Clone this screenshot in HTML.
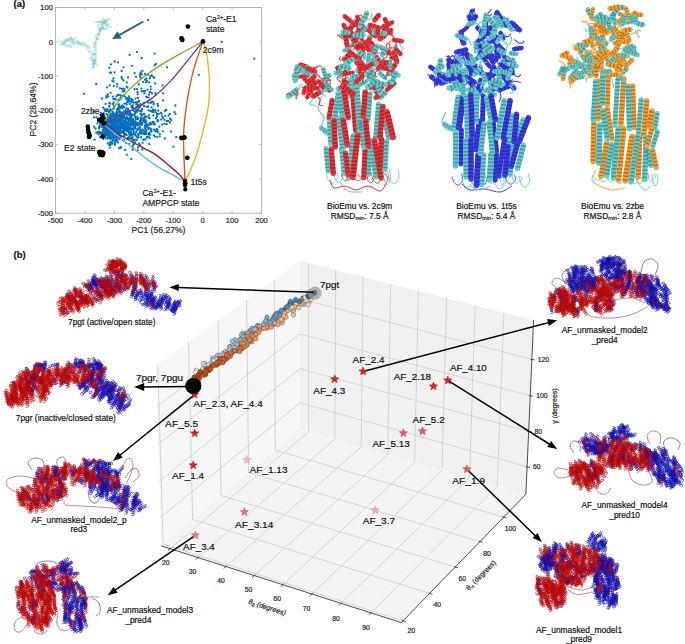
<!DOCTYPE html>
<html><head><meta charset="utf-8"><style>
html,body{margin:0;padding:0;background:#fff;}
svg{display:block;font-family:"Liberation Sans", sans-serif;}
use,path{fill:none;stroke-linejoin:round}
text{stroke:currentColor;stroke-width:.18px;paint-order:stroke}
</style></head><body>
<svg width="685" height="644" viewBox="0 0 685 644">
<defs><g id="tpl" fill="none"><path id="c00" d="M-2.6 0l-.1 1.2 -.5 .2 -.3 -.9 .4 -1.3 .9 -.7 1.1 .5 .4 1.3 -.2 1.1 -.5 -.1 -.2 -1.1 .5 -1.2 1.1 -.5 .9 .7 .4 1.4 -.4 .9 -.5 -.3 0 -1.2 .6 -1.2 1.1 -.2 .9 .9 .1 1.3 -.4 .7 -.5 -.5 .1 -1.3 .8 -1.1"/><path id="c01" d="M-2.5 -.7l-.4 1.2 -.6 .1 0 -1 .7 -1.2 1.1 -.4 .8 .7 .2 1.4 -.5 1 -.5 -.2 .1 -1.1 .8 -1.1 1.2 -.1 .7 .9 0 1.4 -.6 .7 -.4 -.4 .3 -1.2 .9 -.9 1.1 .1 .6 1.1 -.2 1.3 -.6 .5 -.3 -.6 .5 -1.2 1 -.8"/><path id="c02" d="M-2.3 -1.3l-.6 1 -.6 0 .2 -1 1 -1 1.2 -.1 .6 1 -.2 1.3 -.7 .8 -.5 -.2 .4 -1.1 1.1 -.8 1.1 .1 .5 1.1 -.4 1.3 -.7 .6 -.3 -.5 .5 -1.1 1.2 -.7 1 .4 .3 1.3 -.5 1.2 -.7 .3 -.1 -.6 .7 -1.1 1.2 -.5"/><path id="c03" d="M-1.8 -1.8l-.9 .8 -.6 -.2 .4 -.9 1.2 -.7 1.2 .2 .4 1.1 -.6 1.2 -.9 .6 -.3 -.3 .6 -.9 1.3 -.6 1 .4 .2 1.2 -.7 1.2 -.9 .4 -.1 -.6 .8 -.9 1.3 -.3 .9 .6 -.1 1.2 -.8 1.1 -.7 .2 0 -.7 1 -.9 1.3 -.2"/><path id="c04" d="M-1.3 -2.3l-1.1 .6 -.4 -.3 .6 -.8 1.3 -.3 1.1 .5 .1 1.1 -.9 1.1 -1 .3 -.3 -.4 .9 -.8 1.4 -.1 .9 .6 -.2 1.2 -1 1 -.9 .1 0 -.6 1 -.6 1.4 0 .7 .8 -.4 1.2 -1.1 .8 -.7 0 .2 -.7 1.2 -.5 1.3 .1"/><path id="c05" d="M-.7 -2.5l-1.2 .2 -.3 -.4 .8 -.5 1.4 0 .9 .7 -.2 1.1 -1.2 .8 -1 .1 -.1 -.5 1 -.5 1.3 .2 .7 .9 -.4 1.1 -1.2 .7 -1 -.1 .2 -.6 1.1 -.4 1.4 .4 .4 1 -.7 1 -1.2 .5 -.7 -.2 .4 -.6 1.2 -.2 1.2 .5"/><path id="c06" d="M0 -2.6l-1.2 -.1 -.2 -.5 .9 -.3 1.3 .4 .7 .9 -.5 1.1 -1.3 .4 -1.1 -.2 .1 -.5 1.1 -.2 1.2 .5 .5 1.1 -.7 .9 -1.4 .4 -.9 -.4 .3 -.5 1.2 0 1.2 .6 .2 1.1 -.9 .9 -1.3 .1 -.7 -.4 .5 -.5 1.3 .1 1.1 .8"/><path id="c07" d="M.7 -2.5l-1.2 -.4 -.1 -.6 1 0 1.2 .7 .4 1.1 -.7 .8 -1.4 .2 -1 -.5 .2 -.5 1.1 .1 1.1 .8 .1 1.2 -.9 .7 -1.4 0 -.7 -.6 .4 -.4 1.2 .3 .9 .9 -.1 1.1 -1.1 .6 -1.3 -.2 -.5 -.6 .6 -.3 1.2 .5 .8 1"/><path id="c08" d="M1.3 -2.3l-1 -.6 0 -.6 1 .2 1 1 .1 1.2 -1 .6 -1.3 -.2 -.8 -.7 .2 -.5 1.1 .4 .8 1.1 -.1 1.1 -1.1 .5 -1.3 -.4 -.6 -.7 .5 -.3 1.1 .5 .7 1.2 -.4 1 -1.3 .3 -1.2 -.5 -.3 -.7 .6 -.1 1.1 .7 .5 1.2"/><path id="c09" d="M1.8 -1.8l-.8 -.9 .2 -.6 .9 .4 .7 1.2 -.2 1.2 -1.1 .4 -1.2 -.6 -.6 -.9 .3 -.3 .9 .6 .6 1.3 -.4 1 -1.2 .2 -1.2 -.7 -.4 -.9 .6 -.1 .9 .8 .3 1.3 -.6 .9 -1.2 -.1 -1.1 -.8 -.2 -.7 .7 0 .9 1 .2 1.3"/><path id="c0a" d="M2.3 -1.3l-.6 -1.1 .3 -.4 .8 .6 .3 1.3 -.5 1.1 -1.1 .1 -1.1 -.9 -.3 -1 .4 -.3 .8 .9 .1 1.4 -.6 .9 -1.2 -.2 -1 -1 -.1 -.9 .6 0 .6 1 0 1.4 -.8 .7 -1.2 -.4 -.8 -1.1 0 -.7 .7 .2 .5 1.2 -.1 1.3"/><path id="c0b" d="M2.5 -.7l-.2 -1.2 .4 -.3 .5 .8 0 1.4 -.7 .9 -1.1 -.2 -.8 -1.2 -.1 -1 .5 -.1 .5 1 -.2 1.3 -.9 .7 -1.1 -.4 -.7 -1.2 .1 -1 .6 .2 .4 1.1 -.4 1.4 -1 .4 -1 -.7 -.5 -1.2 .2 -.7 .6 .4 .2 1.2 -.5 1.2"/><path id="c10" d="M-4.1 0l-.1 1.2 -.5 .2 -.3 -.8 .3 -1.4 1 -.7 1 .5 .5 1.2 -.1 1.1 -.6 .1 -.2 -1 .5 -1.3 1 -.6 .9 .6 .5 1.3 -.3 1 -.5 -.1 -.2 -1.2 .6 -1.2 1 -.4 1 .8 .2 1.3 -.3 .9 -.5 -.4 0 -1.2 .6 -1.1 1.1 -.2 .9 .9 .1 1.3 -.4 .7 -.4 -.5 0 -1.3 .8 -1.1 1.1 .1 .7 1 .1 1.3 -.5 .5"/><path id="c11" d="M-4 -1.1l-.3 1.2 -.6 .1 -.1 -.9 .7 -1.2 1.1 -.5 .9 .7 .2 1.4 -.5 1 -.5 -.1 0 -1.1 .8 -1.1 1.1 -.3 .8 .9 0 1.4 -.5 .8 -.4 -.2 .1 -1.2 .9 -1 1.1 -.1 .7 1 -.1 1.3 -.5 .8 -.4 -.5 .3 -1.2 .9 -.9 1.1 .1 .6 1.1 -.2 1.3 -.6 .6 -.3 -.7 .4 -1.2 1 -.8 1.1 .3 .4 1.2 -.3 1.3 -.5 .3"/><path id="c12" d="M-3.6 -2l-.6 .9 -.6 0 .2 -.9 .9 -1 1.2 -.1 .7 .9 -.2 1.3 -.7 .9 -.5 -.2 .3 -1 1.1 -.9 1.1 0 .6 1 -.3 1.4 -.8 .7 -.3 -.4 .4 -1.1 1.1 -.8 1.1 .2 .4 1.2 -.4 1.3 -.7 .5 -.3 -.5 .6 -1.1 1.2 -.7 1 .4 .2 1.3 -.5 1.2 -.7 .4 -.1 -.7 .7 -1.1 1.2 -.5 .9 .5 .2 1.3 -.6 1.2 -.7 .2"/><path id="c13" d="M-2.9 -2.9l-.9 .8 -.5 -.2 .4 -.8 1.1 -.7 1.2 .1 .4 1.1 -.5 1.2 -.9 .7 -.4 -.4 .6 -.8 1.2 -.6 1.1 .3 .3 1.1 -.7 1.2 -.9 .5 -.2 -.4 .7 -.9 1.2 -.5 1.1 .5 0 1.2 -.7 1.1 -.8 .4 -.1 -.6 .8 -.9 1.3 -.4 .9 .7 -.1 1.2 -.8 1.1 -.8 .2 .1 -.7 .9 -.9 1.3 -.2 .8 .8 -.2 1.3 -.9 .9 -.7 0"/><path id="c14" d="M-2.1 -3.6l-1 .6 -.5 -.3 .6 -.7 1.3 -.4 1.1 .4 .2 1.1 -.9 1.1 -1 .4 -.3 -.4 .7 -.7 1.4 -.3 1 .6 -.1 1.2 -.9 1 -1 .3 -.1 -.6 .9 -.6 1.4 -.2 .8 .7 -.2 1.2 -1 .9 -.9 .2 0 -.6 1.1 -.7 1.3 0 .7 .9 -.4 1.2 -1.1 .8 -.7 -.1 .2 -.6 1.1 -.6 1.3 .2 .5 .9 -.5 1.2 -1.1 .7 -.6 -.2"/><path id="c15" d="M-1.1 -4l-1.1 .3 -.4 -.4 .8 -.6 1.3 0 1 .7 -.2 1.1 -1.1 .9 -1.1 .1 -.2 -.5 1 -.5 1.3 .1 .8 .8 -.3 1.1 -1.2 .8 -1 0 0 -.6 1.1 -.4 1.3 .2 .6 .9 -.5 1.1 -1.2 .7 -.9 -.2 .2 -.5 1.2 -.4 1.3 .4 .4 1 -.7 1 -1.2 .5 -.7 -.2 .3 -.6 1.3 -.2 1.2 .4 .3 1.1 -.9 1 -1.2 .4 -.6 -.4"/><path id="c16" d="M0 -4.1l-1.2 -.1 -.2 -.5 .8 -.3 1.4 .3 .7 1 -.5 1 -1.2 .5 -1.1 -.1 -.1 -.6 1 -.2 1.3 .5 .6 1 -.6 .9 -1.3 .5 -1 -.3 .1 -.5 1.2 -.2 1.2 .6 .4 1 -.8 1 -1.3 .2 -.9 -.3 .4 -.5 1.2 0 1.1 .6 .2 1.1 -.9 .9 -1.3 .1 -.7 -.4 .5 -.4 1.3 0 1.1 .8 -.1 1.1 -1 .7 -1.3 .1 -.5 -.5"/><path id="c17" d="M1.1 -4l-1.2 -.3 -.1 -.6 .9 -.1 1.2 .7 .5 1.1 -.7 .9 -1.4 .2 -1 -.5 .1 -.5 1.1 0 1.1 .8 .3 1.1 -.9 .8 -1.4 0 -.8 -.5 .2 -.4 1.2 .1 1 .9 .1 1.1 -1 .7 -1.3 -.1 -.8 -.5 .5 -.4 1.2 .3 .9 .9 -.1 1.1 -1.1 .6 -1.3 -.2 -.6 -.6 .7 -.3 1.2 .4 .8 1 -.3 1.1 -1.2 .4 -1.3 -.3 -.3 -.5"/><path id="c18" d="M2 -3.6l-.9 -.6 0 -.6 .9 .2 1 .9 .1 1.2 -.9 .7 -1.3 -.2 -.9 -.7 .2 -.5 1 .3 .9 1.1 0 1.1 -1 .6 -1.4 -.3 -.7 -.8 .4 -.3 1.1 .4 .8 1.1 -.2 1.1 -1.2 .4 -1.3 -.4 -.5 -.7 .5 -.3 1.1 .6 .7 1.2 -.4 1 -1.3 .2 -1.2 -.5 -.4 -.7 .7 -.1 1.1 .7 .5 1.2 -.5 .9 -1.3 .2 -1.2 -.6 -.2 -.7"/><path id="c19" d="M2.9 -2.9l-.8 -.9 .2 -.5 .8 .4 .7 1.1 -.1 1.2 -1.1 .4 -1.2 -.5 -.7 -.9 .4 -.4 .8 .6 .6 1.2 -.3 1.1 -1.1 .3 -1.2 -.7 -.5 -.9 .4 -.2 .9 .7 .5 1.2 -.5 1.1 -1.2 0 -1.1 -.7 -.4 -.8 .6 -.1 .9 .8 .4 1.3 -.7 .9 -1.2 -.1 -1.1 -.8 -.2 -.8 .7 .1 .9 .9 .2 1.3 -.8 .8 -1.3 -.2 -.9 -.9 0 -.7"/><path id="c1a" d="M3.6 -2l-.6 -1.1 .3 -.5 .7 .6 .4 1.3 -.4 1.1 -1.1 .2 -1.1 -.9 -.4 -1 .4 -.3 .7 .7 .3 1.4 -.6 1 -1.2 -.1 -1 -.9 -.3 -1 .6 -.1 .6 .9 .2 1.4 -.7 .8 -1.2 -.2 -.9 -1 -.2 -.9 .6 0 .7 1.1 0 1.3 -.9 .7 -1.2 -.4 -.8 -1.1 .1 -.7 .6 .2 .6 1.1 -.2 1.3 -.9 .5 -1.2 -.5 -.7 -1.1 .2 -.6"/><path id="c1b" d="M4 -1.1l-.3 -1.1 .4 -.4 .6 .8 0 1.3 -.7 1 -1.1 -.2 -.9 -1.1 -.1 -1.1 .5 -.2 .5 1 -.1 1.3 -.8 .8 -1.1 -.3 -.8 -1.2 0 -1 .6 0 .4 1.1 -.2 1.3 -.9 .6 -1.1 -.5 -.7 -1.2 .2 -.9 .5 .2 .4 1.2 -.4 1.3 -1 .4 -1 -.7 -.5 -1.2 .2 -.7 .6 .3 .2 1.3 -.4 1.2 -1.1 .3 -1 -.9 -.4 -1.2 .4 -.6"/><path id="c20" d="M-5.6 0l-.1 1.2 -.5 .3 -.3 -.9 .3 -1.3 1 -.8 1 .4 .5 1.3 -.1 1.1 -.5 .1 -.3 -1 .4 -1.3 1 -.6 1 .6 .4 1.3 -.2 1 -.5 -.1 -.2 -1.1 .5 -1.2 1 -.5 1 .7 .4 1.3 -.4 .9 -.5 -.2 -.1 -1.1 .6 -1.3 1.1 -.3 .9 .9 .2 1.3 -.3 .8 -.5 -.4 0 -1.2 .7 -1.2 1 -.1 .9 .9 .1 1.3 -.4 .7 -.4 -.5 0 -1.3 .8 -1 1.1 0 .7 1 .1 1.3 -.5 .5 -.4 -.7 .2 -1.3 .8 -.9 1.1 .1"/><path id="c21" d="M-5.4 -1.4l-.4 1.1 -.5 .1 -.1 -.9 .6 -1.2 1.1 -.5 .9 .7 .2 1.3 -.4 1.1 -.6 -.1 .1 -1 .7 -1.1 1.1 -.4 .8 .8 .1 1.4 -.5 .9 -.5 -.2 .1 -1.1 .9 -1.1 1.1 -.1 .7 .9 0 1.3 -.5 .8 -.5 -.3 .2 -1.1 .9 -1.1 1.1 0 .7 1 -.1 1.4 -.6 .7 -.3 -.5 .3 -1.2 .9 -.9 1.1 .1 .6 1.1 -.2 1.3 -.6 .6 -.3 -.7 .4 -1.2 1 -.8 1 .3 .5 1.2 -.3 1.3 -.5 .3 -.3 -.7 .5 -1.2 1.1 -.7 1 .4"/><path id="c22" d="M-4.8 -2.8l-.7 1 -.6 0 .2 -.9 .9 -1 1.2 -.2 .7 .9 -.2 1.3 -.7 .9 -.5 -.2 .3 -.9 1 -1 1.2 0 .6 1 -.3 1.3 -.7 .8 -.4 -.3 .4 -1 1 -.9 1.1 .1 .5 1.1 -.3 1.3 -.7 .7 -.4 -.5 .5 -1 1.1 -.8 1.1 .3 .4 1.1 -.5 1.3 -.7 .5 -.2 -.5 .6 -1.1 1.1 -.7 1 .4 .3 1.3 -.5 1.2 -.7 .4 -.1 -.7 .7 -1.1 1.1 -.5 1 .5 .1 1.3 -.6 1.2 -.6 .2 -.1 -.8 .8 -1.1 1.2 -.4 .9 .7"/><path id="c23" d="M-4 -4l-.9 .8 -.5 -.1 .4 -.9 1.2 -.7 1.1 .1 .5 1.1 -.5 1.2 -.9 .7 -.5 -.3 .6 -.9 1.2 -.6 1.1 .3 .3 1.1 -.6 1.2 -.9 .6 -.3 -.4 .6 -.9 1.3 -.6 1 .4 .2 1.2 -.7 1.2 -.8 .4 -.2 -.5 .7 -.9 1.3 -.4 1 .5 0 1.2 -.7 1.1 -.9 .3 0 -.6 .8 -.9 1.3 -.3 .9 .7 -.1 1.2 -.8 1.1 -.8 .1 .1 -.6 .9 -.9 1.3 -.2 .8 .8 -.2 1.2 -.9 1 -.7 0 .2 -.7 1 -.8 1.3 -.1 .6 .9"/><path id="c24" d="M-2.8 -4.8l-1.1 .5 -.4 -.3 .5 -.7 1.4 -.4 1.1 .4 .1 1.1 -.8 1.1 -1 .4 -.4 -.4 .7 -.7 1.4 -.3 1 .6 0 1.1 -.9 1.1 -1 .3 -.2 -.5 .9 -.7 1.3 -.2 .9 .7 -.1 1.1 -1 1 -.9 .2 -.1 -.6 1 -.6 1.3 -.1 .8 .7 -.3 1.2 -1 .9 -.8 .1 0 -.6 1.1 -.6 1.3 0 .7 .8 -.4 1.2 -1.1 .8 -.7 0 .2 -.7 1.1 -.5 1.3 .1 .5 .9 -.5 1.2 -1.1 .7 -.6 -.1 .3 -.7 1.3 -.5 1.2 .2 .4 1"/><path id="c25" d="M-1.4 -5.4l-1.2 .2 -.4 -.4 .8 -.5 1.3 -.1 1 .8 -.2 1.1 -1 .8 -1.1 .1 -.3 -.4 .9 -.5 1.4 0 .8 .8 -.3 1.1 -1.1 .8 -1 0 -.1 -.5 1 -.4 1.3 .1 .7 .9 -.4 1.1 -1.2 .7 -.9 -.1 0 -.5 1.1 -.4 1.4 .2 .5 1 -.5 1.1 -1.2 .6 -.9 -.2 .2 -.6 1.2 -.3 1.3 .4 .4 1 -.7 1 -1.2 .5 -.7 -.2 .3 -.6 1.3 -.3 1.2 .5 .3 1 -.8 1.1 -1.3 .4 -.6 -.4 .6 -.5 1.3 -.2 1.1 .6 .1 1"/><path id="c26" d="M0 -5.6l-1.2 -.1 -.3 -.5 .9 -.3 1.3 .3 .8 1 -.4 1 -1.3 .5 -1.1 -.1 -.1 -.5 1 -.3 1.3 .4 .6 1 -.6 1 -1.3 .4 -1 -.2 .1 -.5 1.1 -.2 1.2 .5 .5 1 -.7 1 -1.3 .4 -.9 -.4 .2 -.5 1.1 -.1 1.3 .6 .3 1.1 -.9 .9 -1.3 .2 -.8 -.3 .4 -.5 1.2 0 1.2 .7 .1 1 -.9 .9 -1.3 .1 -.7 -.4 .5 -.4 1.3 0 1 .8 0 1.1 -1 .7 -1.3 .1 -.5 -.5 .7 -.4 1.3 .2 .9 .8 -.1 1.1"/><path id="c27" d="M1.4 -5.4l-1.1 -.4 -.1 -.5 .9 -.1 1.2 .6 .5 1.1 -.7 .9 -1.3 .2 -1.1 -.4 .1 -.6 1 .1 1.1 .7 .4 1.1 -.8 .8 -1.4 .1 -.9 -.5 .2 -.5 1.1 .1 1.1 .9 .1 1.1 -.9 .7 -1.3 0 -.8 -.5 .3 -.5 1.1 .2 1.1 .9 0 1.1 -1 .7 -1.4 -.1 -.7 -.6 .5 -.3 1.2 .3 .9 .9 -.1 1.1 -1.1 .6 -1.3 -.2 -.6 -.6 .7 -.3 1.2 .4 .8 1 -.3 1 -1.2 .5 -1.3 -.3 -.3 -.5 .7 -.3 1.2 .5 .7 1.1 -.4 1"/><path id="c28" d="M2.8 -4.8l-1 -.7 0 -.6 .9 .2 1 .9 .2 1.2 -.9 .7 -1.3 -.2 -.9 -.7 .2 -.5 .9 .3 1 1 0 1.2 -1 .6 -1.3 -.3 -.8 -.7 .3 -.4 1 .4 .9 1 -.1 1.1 -1.1 .5 -1.3 -.3 -.7 -.7 .5 -.4 1 .5 .8 1.1 -.3 1.1 -1.1 .4 -1.3 -.5 -.5 -.7 .5 -.2 1.1 .6 .7 1.1 -.4 1 -1.3 .3 -1.2 -.5 -.4 -.7 .7 -.1 1.1 .7 .5 1.1 -.5 1 -1.3 .1 -1.2 -.6 -.2 -.6 .8 -.1 1.1 .8 .4 1.2 -.7 .9"/><path id="c29" d="M4 -4l-.8 -.9 .1 -.5 .9 .4 .7 1.2 -.1 1.1 -1.1 .5 -1.2 -.5 -.7 -.9 .3 -.5 .9 .6 .6 1.2 -.3 1.1 -1.1 .3 -1.2 -.6 -.6 -.9 .4 -.3 .9 .6 .6 1.3 -.4 1 -1.2 .2 -1.2 -.7 -.4 -.8 .5 -.2 .9 .7 .4 1.3 -.5 1 -1.2 0 -1.1 -.7 -.3 -.9 .6 0 .9 .8 .3 1.3 -.7 .9 -1.2 -.1 -1.1 -.8 -.1 -.8 .6 .1 .9 .9 .2 1.3 -.8 .8 -1.2 -.2 -1 -.9 0 -.7 .7 .2 .8 1 .1 1.3 -.9 .6"/><path id="c2a" d="M4.8 -2.8l-.5 -1.1 .3 -.4 .7 .5 .4 1.4 -.4 1.1 -1.1 .1 -1.1 -.8 -.4 -1 .4 -.4 .7 .7 .3 1.4 -.6 1 -1.1 0 -1.1 -.9 -.3 -1 .5 -.2 .7 .9 .2 1.3 -.7 .9 -1.1 -.1 -1 -1 -.2 -.9 .6 -.1 .6 1 .1 1.3 -.7 .8 -1.2 -.3 -.9 -1 -.1 -.8 .6 0 .6 1.1 0 1.3 -.8 .7 -1.2 -.4 -.8 -1.1 0 -.7 .7 .2 .5 1.1 -.1 1.3 -.9 .5 -1.2 -.5 -.7 -1.1 .1 -.6 .7 .3 .5 1.3 -.2 1.2 -1 .4"/><path id="c2b" d="M5.4 -1.4l-.2 -1.2 .4 -.4 .5 .8 .1 1.3 -.8 1 -1.1 -.2 -.8 -1 -.1 -1.1 .4 -.3 .5 .9 0 1.4 -.8 .8 -1.1 -.3 -.8 -1.1 0 -1 .5 -.1 .4 1 -.1 1.3 -.9 .7 -1.1 -.4 -.7 -1.2 .1 -.9 .5 0 .4 1.1 -.2 1.4 -1 .5 -1.1 -.5 -.6 -1.2 .2 -.9 .6 .2 .3 1.2 -.4 1.3 -1 .4 -1 -.7 -.5 -1.2 .2 -.7 .6 .3 .3 1.3 -.5 1.2 -1 .3 -1.1 -.8 -.4 -1.3 .4 -.6 .5 .6 .2 1.3 -.6 1.1 -1 .1"/><path id="l0" d="M.4 -1.2l.6 .7 -.1 .7 -.5 .4 -.5 .4 -.7 -.3 0 -.7 .3 -.5 .4 -.9 .8 .5"/><path id="l1" d="M-1.2 -.3l.5 -.7 .9 -.2 1.2 0 .1 1.2 -.4 1 -1 .2 -1 0 -.1 -1 .2 -.7"/><path id="l2" d="M-1.4 -1.4l1.3 -.5 .9 .9 .6 .8 .3 1.3 -1.4 -.1 -1.2 .8 -.9 -1.1 .3 -1.3 .9 -.7"/><path id="l3" d="M-1.2 2.2l-.4 -1.6 -.5 -1.4 1.1 -1.3 1.5 .4 1 .7 .2 1.3 -.8 .8 -1 .8 -1 -.8"/><path id="l4" d="M1.3 -1.3l1 1.1 -.3 1.8 -1.5 .8 -1.9 0 -1.2 -1.6 .1 -2 1.9 -.2 1.3 -.6 1.2 1"/><path id="l5" d="M1.9 -.5l.8 1.8 -2 .4 -1.5 .6 -.8 -1.4 -1.1 -1.6 1 -1.8 2 .2 2.1 .3 .6 2.1"/><path id="h00" d="M-2.4 0l-.1 1.9 -.8 .8 -.7 -.9 -.1 -1.9 .9 -1.9 1.6 -.7 1.5 1 .8 2 -.3 1.8 -.8 .6 -.7 -1.1 .1 -2 1 -1.8 1.6 -.5 1.5 1.2 .6 2 -.3 1.8 -.9 .3 -.6 -1.2 .1 -2.1 1.2 -1.6"/><path id="h01" d="M-2.3 -.6l-.6 1.8 -1 .6 -.5 -1.1 .5 -1.9 1.4 -1.6 1.7 -.2 1.2 1.3 .2 2.1 -.7 1.8 -1 .3 -.4 -1.2 .6 -2 1.5 -1.4 1.6 -.1 1.1 1.5 .1 2.2 -.7 1.6 -1 .1 -.3 -1.4 .8 -1.9 1.5 -1.3"/><path id="h02" d="M-2.1 -1.2l-1 1.6 -1.1 .3 -.2 -1.1 .9 -1.8 1.8 -1.1 1.7 .2 .8 1.6 -.4 2.1 -1.1 1.4 -1 .1 -.1 -1.2 1.1 -1.8 1.8 -1 1.6 .4 .7 1.7 -.5 2.1 -1.1 1.3 -1 -.1 .1 -1.4 1.2 -1.7 1.8 -.8"/><path id="h03" d="M-1.7 -1.7l-1.4 1.3 -1.1 0 0 -1.2 1.4 -1.4 2 -.7 1.6 .7 .4 1.7 -.9 2 -1.5 1.1 -1 -.2 .3 -1.2 1.5 -1.4 2 -.5 1.4 .8 .2 1.8 -1 1.9 -1.4 1 -.9 -.4 .4 -1.3 1.6 -1.3 2 -.4"/><path id="h04" d="M-1.2 -2.1l-1.7 .9 -1.1 -.3 .4 -1.1 1.7 -1 2.1 -.2 1.3 1.1 0 1.8 -1.4 1.6 -1.7 .7 -.9 -.4 .5 -1.1 1.8 -1 2.1 0 1.2 1.2 -.3 1.8 -1.4 1.6 -1.7 .5 -.7 -.5 .7 -1.2 1.9 -.9 2 .2"/><path id="h05" d="M-.6 -2.3l-1.9 .4 -1 -.6 .7 -.9 1.9 -.6 2 .4 1.1 1.4 -.5 1.7 -1.8 1.2 -1.8 .3 -.8 -.7 .8 -.9 2 -.5 2 .5 .9 1.5 -.7 1.7 -1.9 1.1 -1.7 .1 -.6 -.7 1 -.9 2.1 -.4 1.9 .7"/><path id="h06" d="M0 -2.4l-1.9 -.1 -.8 -.8 .9 -.7 1.9 -.1 1.9 .9 .7 1.6 -1 1.5 -2 .8 -1.8 -.3 -.6 -.8 1.1 -.7 2 .1 1.8 1 .5 1.6 -1.2 1.5 -2 .6 -1.8 -.3 -.3 -.9 1.2 -.6 2.1 .1 1.6 1.2"/><path id="h07" d="M.6 -2.3l-1.8 -.6 -.6 -1 1.1 -.5 1.9 .5 1.6 1.4 .2 1.7 -1.3 1.2 -2.1 .2 -1.8 -.7 -.3 -1 1.2 -.4 2 .6 1.4 1.5 .1 1.6 -1.5 1.1 -2.2 .1 -1.6 -.7 -.1 -1 1.4 -.3 1.9 .8 1.3 1.5"/><path id="h08" d="M1.2 -2.1l-1.6 -1 -.3 -1.1 1.1 -.2 1.8 .9 1.1 1.8 -.2 1.7 -1.6 .8 -2.1 -.4 -1.4 -1.1 -.1 -1 1.2 -.1 1.8 1.1 1 1.8 -.4 1.6 -1.7 .7 -2.1 -.5 -1.3 -1.1 .1 -1 1.4 .1 1.7 1.2 .8 1.8"/><path id="h09" d="M1.7 -1.7l-1.3 -1.4 0 -1.1 1.2 0 1.4 1.4 .7 2 -.7 1.6 -1.7 .4 -2 -.9 -1.1 -1.5 .2 -1 1.2 .3 1.4 1.5 .5 2 -.8 1.4 -1.8 .2 -1.9 -1 -1 -1.4 .4 -.9 1.3 .4 1.3 1.6 .4 2"/><path id="h0a" d="M2.1 -1.2l-.9 -1.7 .3 -1.1 1.1 .4 1 1.7 .2 2.1 -1.1 1.3 -1.8 0 -1.6 -1.4 -.7 -1.7 .4 -.9 1.1 .5 1 1.8 0 2.1 -1.2 1.2 -1.8 -.3 -1.6 -1.4 -.5 -1.7 .5 -.7 1.2 .7 .9 1.9 -.2 2"/><path id="h0b" d="M2.3 -.6l-.4 -1.9 .6 -1 .9 .7 .6 1.9 -.4 2 -1.4 1.1 -1.7 -.5 -1.2 -1.8 -.3 -1.8 .7 -.8 .9 .8 .5 2 -.5 2 -1.5 .9 -1.7 -.7 -1.1 -1.9 -.1 -1.7 .7 -.6 .9 1 .4 2.1 -.7 1.9"/><path id="h10" d="M-4.4 0l-.1 1.9 -.7 .8 -.8 -.8 -.1 -1.9 .8 -1.9 1.5 -.8 1.6 .8 .8 1.9 -.1 1.9 -.7 .8 -.8 -.8 -.1 -1.9 .8 -1.9 1.5 -.8 1.6 .8 .8 1.9 -.1 1.9 -.7 .8 -.8 -.8 -.1 -1.9 .8 -1.9 1.5 -.8 1.6 .8 .8 1.9 -.1 1.9 -.8 .8 -.7 -.8 -.1 -1.9 .8 -1.9 1.5 -.8 1.6 .8 .8 1.9"/><path id="h11" d="M-4.2 -1.1l-.6 1.8 -1 .5 -.5 -.9 .4 -1.9 1.3 -1.6 1.7 -.4 1.2 1.2 .4 2 -.6 1.9 -1 .5 -.5 -.9 .4 -1.9 1.3 -1.6 1.7 -.4 1.2 1.2 .4 2 -.6 1.8 -1 .6 -.5 -1 .4 -1.8 1.3 -1.7 1.7 -.3 1.2 1.1 .4 2.1 -.6 1.8 -1 .6 -.5 -1 .4 -1.9 1.3 -1.6 1.7 -.3 1.2 1.1 .4 2.1"/><path id="h12" d="M-3.8 -2.2l-1 1.6 -1.1 .3 -.3 -1.1 .9 -1.7 1.7 -1.2 1.7 .1 .9 1.4 -.2 2.1 -1 1.6 -1.1 .3 -.3 -1.1 .9 -1.7 1.7 -1.2 1.7 .1 .9 1.4 -.2 2.1 -1 1.6 -1.1 .3 -.3 -1.1 .9 -1.7 1.7 -1.2 1.7 .1 .9 1.4 -.2 2.1 -1 1.6 -1.1 .3 -.3 -1.1 .9 -1.7 1.7 -1.2 1.7 .1 .9 1.4 -.2 2.1"/><path id="h13" d="M-3.1 -3.1l-1.4 1.3 -1.1 0 0 -1.1 1.3 -1.4 1.9 -.8 1.7 .5 .5 1.7 -.8 1.9 -1.4 1.3 -1.1 0 0 -1.1 1.3 -1.4 1.9 -.8 1.7 .6 .5 1.6 -.8 1.9 -1.4 1.3 -1.1 0 0 -1.1 1.3 -1.4 2 -.7 1.6 .5 .5 1.6 -.7 2 -1.5 1.2 -1.1 .1 .1 -1.1 1.2 -1.5 2 -.7 1.6 .5 .5 1.6 -.7 2"/><path id="h14" d="M-2.2 -3.8l-1.7 .9 -1.1 -.3 .3 -1.1 1.6 -1 2.1 -.2 1.5 .9 0 1.7 -1.2 1.7 -1.7 .9 -1.1 -.3 .3 -1.1 1.6 -1 2.1 -.2 1.5 .9 0 1.7 -1.2 1.7 -1.7 .9 -1.1 -.3 .3 -1.1 1.6 -1 2.1 -.2 1.5 .9 0 1.7 -1.2 1.7 -1.7 .9 -1.1 -.3 .3 -1.1 1.6 -1 2.1 -.2 1.5 .9 0 1.7 -1.2 1.7"/><path id="h15" d="M-1.1 -4.2l-1.9 .4 -1 -.6 .6 -.9 1.8 -.6 2.1 .3 1.1 1.3 -.3 1.7 -1.7 1.3 -1.8 .4 -1 -.6 .6 -.9 1.8 -.6 2.1 .3 1.1 1.3 -.4 1.7 -1.6 1.3 -1.9 .4 -.9 -.6 .6 -.9 1.8 -.6 2 .3 1.2 1.3 -.4 1.6 -1.6 1.4 -1.9 .4 -.9 -.6 .5 -.9 1.8 -.6 2.1 .3 1.2 1.3 -.4 1.6 -1.6 1.4"/><path id="h16" d="M0 -4.4l-1.9 -.1 -.8 -.7 .8 -.8 1.9 -.1 1.9 .8 .8 1.5 -.8 1.6 -1.9 .8 -1.9 -.1 -.8 -.7 .8 -.8 1.9 -.1 1.9 .8 .8 1.5 -.8 1.6 -1.9 .8 -1.9 -.1 -.8 -.7 .8 -.8 1.9 -.1 1.9 .8 .8 1.5 -.8 1.6 -1.9 .8 -1.9 -.1 -.8 -.8 .8 -.7 1.9 -.1 1.9 .8 .8 1.5 -.8 1.6 -1.9 .8"/><path id="h17" d="M1.1 -4.2l-1.8 -.6 -.5 -1 .9 -.5 1.9 .4 1.6 1.3 .4 1.7 -1.2 1.2 -2 .4 -1.9 -.6 -.5 -1 .9 -.5 1.9 .4 1.6 1.3 .4 1.7 -1.2 1.2 -2 .4 -1.8 -.6 -.6 -1 1 -.5 1.8 .4 1.7 1.3 .3 1.7 -1.1 1.2 -2.1 .4 -1.8 -.6 -.6 -1 1 -.5 1.9 .4 1.6 1.3 .3 1.7 -1.1 1.2 -2.1 .4"/><path id="h18" d="M2.2 -3.8l-1.6 -1 -.3 -1.1 1.1 -.3 1.7 .9 1.2 1.7 -.1 1.7 -1.4 .9 -2.1 -.2 -1.6 -1 -.3 -1.1 1.1 -.3 1.7 .9 1.2 1.7 -.1 1.7 -1.4 .9 -2.1 -.2 -1.6 -1 -.3 -1.1 1.1 -.3 1.7 .9 1.2 1.7 -.1 1.7 -1.4 .9 -2.1 -.2 -1.6 -1 -.3 -1.1 1.1 -.3 1.7 .9 1.2 1.7 -.1 1.7 -1.4 .9 -2.1 -.2"/><path id="h19" d="M3.1 -3.1l-1.3 -1.4 0 -1.1 1.1 0 1.4 1.3 .8 1.9 -.5 1.7 -1.7 .5 -1.9 -.8 -1.3 -1.4 0 -1.1 1.1 0 1.4 1.3 .8 1.9 -.6 1.7 -1.6 .5 -1.9 -.8 -1.3 -1.4 0 -1.1 1.1 0 1.4 1.3 .7 2 -.5 1.6 -1.6 .5 -2 -.7 -1.2 -1.5 -.1 -1.1 1.1 .1 1.5 1.2 .7 2 -.5 1.6 -1.6 .5 -2 -.7"/><path id="h1a" d="M3.8 -2.2l-.9 -1.7 .3 -1.1 1.1 .3 1 1.6 .2 2.1 -.9 1.5 -1.7 0 -1.7 -1.2 -.9 -1.7 .3 -1.1 1.1 .3 1 1.6 .2 2.1 -.9 1.5 -1.7 0 -1.7 -1.2 -.9 -1.7 .3 -1.1 1.1 .3 1 1.6 .2 2.1 -.9 1.5 -1.7 0 -1.7 -1.2 -.9 -1.7 .3 -1.1 1.1 .3 1 1.6 .2 2.1 -.9 1.5 -1.7 0 -1.7 -1.2"/><path id="h1b" d="M4.2 -1.1l-.4 -1.9 .6 -1 .9 .6 .6 1.8 -.3 2.1 -1.3 1.1 -1.7 -.3 -1.3 -1.7 -.4 -1.8 .6 -1 .9 .6 .6 1.8 -.3 2.1 -1.3 1.1 -1.7 -.4 -1.3 -1.6 -.4 -1.9 .6 -.9 .9 .6 .6 1.8 -.3 2 -1.3 1.2 -1.6 -.4 -1.4 -1.6 -.4 -1.9 .6 -.9 .9 .5 .6 1.8 -.3 2.1 -1.3 1.2 -1.6 -.4 -1.4 -1.6"/><path id="h20" d="M-6.4 0l-.1 1.9 -.8 .8 -.7 -.9 -.1 -1.9 .9 -1.9 1.6 -.7 1.5 1 .8 2 -.3 1.8 -.8 .6 -.7 -1.1 .1 -2 1 -1.8 1.6 -.5 1.5 1.2 .6 2 -.3 1.8 -.9 .3 -.6 -1.2 .1 -2.1 1.2 -1.6 1.6 -.3 1.4 1.3 .5 2.1 -.4 1.6 -.9 .2 -.6 -1.4 .3 -2.1 1.3 -1.6 1.6 0 1.3 1.5 .4 2 -.5 1.5 -.9 0 -.5 -1.6 .5 -2.1 1.3 -1.4 1.6 .2 1.2 1.6 .3 2.1 -.6 1.3 -.9 -.3"/><path id="h21" d="M-6.2 -1.7l-.6 1.9 -.9 .5 -.5 -1 .4 -1.9 1.4 -1.6 1.7 -.2 1.2 1.3 .2 2.1 -.7 1.7 -.9 .4 -.4 -1.2 .5 -2 1.5 -1.5 1.7 0 1.1 1.5 .1 2.1 -.8 1.6 -.9 .2 -.3 -1.4 .7 -1.9 1.5 -1.4 1.7 .2 .9 1.6 0 2.2 -.8 1.4 -.9 -.1 -.2 -1.5 .8 -1.9 1.6 -1.2 1.6 .4 .9 1.8 -.2 2.1 -.9 1.3 -.8 -.3 -.1 -1.6 1 -1.9 1.7 -1 1.5 .5 .7 1.9 -.3 2.1 -.9 1.1 -.8 -.5"/><path id="h22" d="M-5.5 -3.2l-1.1 1.6 -1.1 .3 -.2 -1.1 1 -1.8 1.7 -1.1 1.7 .2 .8 1.6 -.3 2.1 -1.1 1.4 -1 .1 -.1 -1.2 1 -1.8 1.8 -1 1.7 .4 .6 1.7 -.4 2.1 -1.2 1.3 -.9 -.1 0 -1.4 1.2 -1.7 1.9 -.8 1.5 .6 .5 1.8 -.6 2 -1.1 1.2 -.9 -.3 .2 -1.5 1.4 -1.6 1.8 -.7 1.4 .7 .4 1.9 -.7 2 -1.2 1.1 -.7 -.5 .3 -1.6 1.5 -1.6 1.8 -.5 1.3 .9 .3 2 -.8 1.9 -1.2 .9 -.6 -.7"/><path id="h23" d="M-4.5 -4.5l-1.5 1.3 -1.1 0 .1 -1.2 1.4 -1.4 2 -.7 1.5 .6 .4 1.8 -.9 1.9 -1.4 1.2 -1 -.2 .2 -1.3 1.5 -1.3 2 -.6 1.5 .8 .2 1.9 -1 1.9 -1.5 .9 -.8 -.3 .4 -1.3 1.6 -1.4 2 -.3 1.3 .9 .1 1.9 -1.2 1.9 -1.4 .8 -.7 -.5 .6 -1.4 1.7 -1.2 1.9 -.3 1.2 1.2 -.1 1.9 -1.2 1.8 -1.4 .6 -.6 -.6 .7 -1.5 1.8 -1.1 2 -.1 1 1.3 -.3 2 -1.3 1.6 -1.3 .5 -.5 -.8"/><path id="h24" d="M-3.2 -5.5l-1.7 .8 -1.1 -.3 .4 -1 1.7 -1.1 2.1 -.1 1.3 1 0 1.8 -1.4 1.6 -1.7 .8 -.9 -.5 .5 -1.1 1.8 -1 2.1 0 1.2 1.2 -.3 1.8 -1.4 1.6 -1.7 .6 -.7 -.6 .7 -1.2 1.9 -.8 2 .1 1.1 1.3 -.5 1.8 -1.5 1.5 -1.6 .5 -.6 -.7 .9 -1.2 2 -.8 1.9 .3 .9 1.4 -.6 1.9 -1.7 1.3 -1.5 .3 -.4 -.8 1.1 -1.1 2 -.7 1.9 .5 .7 1.4 -.8 1.9 -1.7 1.2 -1.4 .2 -.2 -.9"/><path id="h25" d="M-1.7 -6.2l-1.8 .4 -1 -.5 .6 -1 1.9 -.6 2.1 .5 1.1 1.3 -.6 1.7 -1.7 1.2 -1.9 .3 -.7 -.6 .8 -1 2 -.5 2 .6 .9 1.4 -.8 1.7 -1.8 1.1 -1.8 .2 -.5 -.8 1 -.9 2 -.4 1.9 .7 .7 1.5 -.9 1.7 -1.9 1 -1.6 0 -.4 -.8 1.2 -.9 2.1 -.2 1.8 .8 .5 1.5 -1.1 1.7 -1.9 .9 -1.6 -.2 -.2 -.8 1.4 -.9 2.1 -.1 1.7 .9 .3 1.6 -1.3 1.6 -1.9 .8 -1.4 -.2 0 -.9"/><path id="h26" d="M0 -6.4l-1.9 -.1 -.8 -.8 .9 -.7 1.9 -.1 1.9 .9 .7 1.6 -1 1.5 -2 .8 -1.8 -.3 -.6 -.8 1.1 -.7 2 .1 1.8 1 .5 1.6 -1.2 1.5 -2 .6 -1.8 -.3 -.3 -.9 1.2 -.6 2.1 .1 1.6 1.2 .3 1.6 -1.3 1.4 -2.1 .5 -1.6 -.4 -.2 -.9 1.4 -.6 2.1 .3 1.6 1.3 0 1.6 -1.5 1.3 -2 .4 -1.5 -.5 0 -.9 1.6 -.5 2.1 .5 1.4 1.3 -.2 1.6 -1.6 1.2 -2.1 .3 -1.3 -.6 .3 -.9"/><path id="h27" d="M1.7 -6.2l-1.9 -.6 -.5 -.9 1 -.5 1.9 .4 1.6 1.4 .2 1.7 -1.3 1.2 -2.1 .2 -1.7 -.7 -.4 -.9 1.2 -.4 2 .5 1.5 1.5 0 1.7 -1.5 1.1 -2.1 .1 -1.6 -.8 -.2 -.9 1.4 -.3 1.9 .7 1.4 1.5 -.2 1.7 -1.6 .9 -2.2 0 -1.4 -.8 .1 -.9 1.5 -.2 1.9 .8 1.2 1.6 -.4 1.6 -1.8 .9 -2.1 -.2 -1.3 -.9 .3 -.8 1.6 -.1 1.9 1 1 1.7 -.5 1.5 -1.9 .7 -2.1 -.3 -1.1 -.9 .5 -.8"/><path id="h28" d="M3.2 -5.5l-1.6 -1.1 -.3 -1.1 1.1 -.2 1.8 1 1.1 1.7 -.2 1.7 -1.6 .8 -2.1 -.3 -1.4 -1.1 -.1 -1 1.2 -.1 1.8 1 1 1.8 -.4 1.7 -1.7 .6 -2.1 -.4 -1.3 -1.2 .1 -.9 1.4 0 1.7 1.2 .8 1.9 -.6 1.5 -1.8 .5 -2 -.6 -1.2 -1.1 .3 -.9 1.5 .2 1.6 1.4 .7 1.8 -.7 1.4 -1.9 .4 -2 -.7 -1.1 -1.2 .5 -.7 1.6 .3 1.6 1.5 .5 1.8 -.9 1.3 -2 .3 -1.9 -.8 -.9 -1.2 .7 -.6"/><path id="h29" d="M4.5 -4.5l-1.3 -1.5 0 -1.1 1.2 .1 1.4 1.4 .7 2 -.6 1.5 -1.8 .4 -1.9 -.9 -1.2 -1.4 .2 -1 1.3 .2 1.3 1.5 .6 2 -.8 1.5 -1.9 .2 -1.9 -1 -.9 -1.5 .3 -.8 1.3 .4 1.4 1.6 .3 2 -.9 1.3 -1.9 .1 -1.9 -1.2 -.8 -1.4 .5 -.7 1.4 .6 1.2 1.7 .3 1.9 -1.2 1.2 -1.9 -.1 -1.8 -1.2 -.6 -1.4 .6 -.6 1.5 .7 1.1 1.8 .1 2 -1.3 1 -2 -.3 -1.6 -1.3 -.5 -1.3 .8 -.5"/><path id="h2a" d="M5.5 -3.2l-.8 -1.7 .3 -1.1 1 .4 1.1 1.7 .1 2.1 -1 1.3 -1.8 0 -1.6 -1.4 -.8 -1.7 .5 -.9 1.1 .5 1 1.8 0 2.1 -1.2 1.2 -1.8 -.3 -1.6 -1.4 -.6 -1.7 .6 -.7 1.2 .7 .8 1.9 -.1 2 -1.3 1.1 -1.8 -.5 -1.5 -1.5 -.5 -1.6 .7 -.6 1.2 .9 .8 2 -.3 1.9 -1.4 .9 -1.9 -.6 -1.3 -1.7 -.3 -1.5 .8 -.4 1.1 1.1 .7 2 -.5 1.9 -1.4 .7 -1.9 -.8 -1.2 -1.7 -.2 -1.4 .9 -.2"/><path id="h2b" d="M6.2 -1.7l-.4 -1.8 .5 -1 1 .6 .6 1.9 -.5 2.1 -1.3 1.1 -1.7 -.6 -1.2 -1.7 -.3 -1.9 .6 -.7 1 .8 .5 2 -.6 2 -1.4 .9 -1.7 -.8 -1.1 -1.8 -.2 -1.8 .8 -.5 .9 1 .4 2 -.7 1.9 -1.5 .7 -1.7 -.9 -1 -1.9 0 -1.6 .8 -.4 .9 1.2 .2 2.1 -.8 1.8 -1.5 .5 -1.7 -1.1 -.9 -1.9 .2 -1.6 .8 -.2 .9 1.4 .1 2.1 -.9 1.7 -1.6 .3 -1.6 -1.3 -.8 -1.9 .2 -1.4 .9 0"/><path id="m0" d="M-1 -2.5l1.7 .6 .7 1.2 .9 1.3 -1.4 .8 -1.3 1.1 -1.2 -1.2 -.6 -1.4 .1 -2 2 -.6"/><path id="m1" d="M-2.4 -1.1l1.6 -.8 1.6 -.5 1.8 .9 -.7 1.9 .1 2.4 -2.4 .6 -1 -2.1 -2 -1.3 1.8 -1.5"/><path id="m2" d="M1.4 -2.1l2 1.3 -.7 2.2 -1.8 1.1 -2.1 .3 -1.7 -1.4 -.5 -2.4 1.4 -2.3 2.4 1.1 1.8 .5"/><path id="m3" d="M-3.6 2.6l.3 -2.9 1.4 -1.8 1.9 -3 2.7 2.1 1.5 2.5 -.9 2.9 -2.5 1.3 -2.2 -1.2 -1.8 -1.4"/><path id="m4" d="M-5 2.7l1.4 -3.6 1.8 -1.7 2.3 -1.2 3.3 .5 1.4 3.4 -1.9 3 -3 .7 -3.7 .7 -2.2 -3.5"/><path id="m5" d="M-.9 4.7l-2 -2.5 -2.1 -2.6 1.8 -3 3.1 -.1 2.5 .8 4.1 1.9 -1.9 4 -3.5 1.5 -3.7 0"/></g></defs>
<rect width="685" height="644" fill="#fff"/>
<text x="13.5" y="7.2" font-size="9.5" text-anchor="start" font-weight="bold" fill="#111" >(a)</text>
<path d="M110.8 124.2h0M109.5 130.4h0M108.7 130.9h0M111.1 118.9h0M108.5 129.0h0M113.1 123.9h0M111.3 130.6h0M110.7 122.2h0M104.5 128.1h0M101.9 132.4h0M102.2 127.0h0M104.9 124.4h0M111.6 126.7h0M99.0 128.5h0M110.6 125.2h0M103.6 128.2h0M106.2 129.9h0M115.8 129.9h0M110.7 121.2h0M108.1 126.4h0M111.3 125.4h0M105.1 125.4h0M117.2 133.7h0M114.9 125.2h0M107.8 115.5h0M114.4 131.9h0M111.2 122.8h0M109.9 122.3h0M110.5 122.3h0M117.6 129.3h0M111.8 128.2h0M111.4 131.9h0M108.1 126.8h0M115.1 119.9h0M104.6 129.9h0M113.9 136.0h0M108.6 126.3h0M116.7 122.2h0M109.3 127.7h0M109.6 117.9h0M108.8 127.3h0M112.5 126.4h0M109.9 131.5h0M110.8 128.1h0M116.3 122.4h0M110.7 122.3h0M109.2 120.4h0M110.8 122.8h0M104.7 124.0h0M102.9 136.2h0M109.4 130.4h0M111.6 114.2h0M106.9 129.0h0M111.8 123.2h0M110.0 126.8h0M114.1 123.1h0M106.0 126.2h0M111.0 131.2h0M112.0 130.2h0M115.4 124.8h0M111.2 128.8h0M110.3 136.1h0M105.5 123.9h0M100.8 121.4h0M102.6 121.9h0M106.8 121.8h0M111.4 133.7h0M116.7 118.4h0M110.5 127.2h0M110.1 130.8h0M116.0 128.6h0M110.6 129.9h0M107.9 132.3h0M116.7 126.6h0M115.4 125.7h0M107.6 127.5h0M108.2 125.7h0M109.1 127.3h0M104.3 129.9h0M118.6 129.2h0M105.9 124.0h0M117.5 133.3h0M109.8 129.0h0M102.5 122.0h0M110.7 125.4h0M107.3 123.4h0M108.3 126.5h0M105.6 132.0h0M117.1 128.4h0M112.2 126.0h0M108.7 128.4h0M113.8 127.3h0M110.1 125.7h0M116.4 122.3h0M112.6 128.7h0M104.3 120.9h0M115.4 126.5h0M113.4 121.8h0M114.7 121.0h0M108.7 118.0h0M105.0 121.3h0M113.2 121.3h0M119.7 118.1h0M105.4 134.5h0M114.7 131.0h0M110.8 121.5h0M103.1 136.6h0M112.0 125.5h0M109.7 125.6h0M106.8 133.6h0M110.0 130.8h0M103.1 123.2h0M110.5 123.7h0M106.2 129.2h0M106.1 130.3h0M111.7 129.8h0M112.5 124.0h0M120.4 132.9h0M115.0 126.2h0M110.8 133.2h0M108.7 122.0h0M110.4 125.4h0M109.5 119.8h0M110.7 137.1h0M107.6 135.9h0M95.5 128.5h0M117.1 125.5h0M105.3 130.6h0M116.1 125.0h0M111.1 126.1h0M111.0 121.6h0M113.4 124.7h0M105.9 123.1h0M107.6 120.2h0M104.8 126.5h0M110.8 132.6h0M118.9 118.3h0M108.6 121.8h0M112.6 139.2h0M112.0 126.1h0M111.2 131.3h0M109.6 126.7h0M116.4 124.1h0M110.8 117.9h0M108.2 127.8h0M102.3 117.7h0M115.4 121.1h0M114.0 125.2h0M111.8 127.1h0M109.9 125.5h0M117.9 122.9h0M110.6 128.8h0M107.8 117.5h0M113.2 125.4h0M109.2 131.5h0M110.5 121.3h0M109.0 126.9h0M109.8 125.2h0M103.3 127.0h0M106.8 121.2h0M107.2 122.8h0M118.0 127.4h0M108.0 124.8h0M110.8 130.9h0M113.0 115.4h0M109.6 126.8h0M105.9 124.1h0M105.0 131.5h0M116.9 130.4h0M115.9 117.9h0M112.0 122.9h0M120.0 126.8h0M108.0 132.7h0M111.0 118.2h0M115.3 130.6h0M106.8 128.4h0M112.2 126.8h0M111.8 124.3h0M109.4 126.0h0M111.8 126.2h0M113.2 116.2h0M113.6 125.5h0M102.9 123.8h0M101.7 133.0h0M114.8 122.1h0M110.1 134.6h0M109.1 129.3h0M113.8 114.2h0M111.8 129.8h0M105.3 126.1h0M110.0 131.7h0M111.4 131.7h0M116.1 120.3h0M115.9 128.2h0M113.2 126.5h0M109.0 127.5h0M104.7 133.2h0M114.6 126.8h0M111.8 120.6h0M102.7 129.8h0M111.7 123.8h0M109.1 120.5h0M111.8 132.0h0M106.4 121.6h0M113.0 135.5h0M117.2 122.7h0M117.2 127.8h0M109.4 131.6h0M122.8 126.7h0M118.3 129.1h0M111.6 134.4h0M109.0 120.7h0M104.9 120.3h0M112.4 131.1h0M108.5 128.1h0M110.6 128.5h0M106.9 127.3h0M106.0 132.4h0M110.6 121.2h0M103.6 125.8h0M107.8 130.8h0M114.8 128.4h0M117.9 129.8h0M112.6 126.9h0M107.3 122.8h0M110.1 122.7h0M110.6 131.4h0M110.3 125.5h0M115.3 130.4h0M110.6 134.6h0M113.9 131.3h0M102.3 126.1h0M116.0 133.6h0M105.7 129.6h0M105.5 123.8h0M107.0 129.5h0M113.6 129.7h0M112.9 130.8h0M105.1 135.2h0M119.6 127.4h0M112.0 125.9h0M111.6 125.5h0M119.8 131.1h0M103.5 131.0h0M104.5 121.9h0M114.7 130.7h0M104.3 127.6h0M117.4 140.3h0M113.3 131.3h0M115.7 131.3h0M109.5 133.5h0M106.2 118.7h0M114.7 127.8h0M106.7 135.5h0M109.0 125.9h0M110.4 126.3h0M105.5 126.1h0M110.6 119.1h0M119.6 126.5h0M107.2 126.1h0M108.0 129.6h0M110.5 131.1h0M113.7 126.3h0M112.0 126.7h0M107.4 130.7h0M109.7 128.6h0M111.9 125.8h0M104.4 125.4h0M104.5 128.9h0M109.4 136.4h0M111.3 125.0h0M110.1 128.0h0M109.1 130.8h0M109.6 128.6h0M111.3 132.0h0M111.9 125.0h0M110.2 128.0h0M113.4 134.3h0M113.0 124.5h0M112.2 123.8h0M107.7 127.1h0M113.8 123.6h0M111.8 133.6h0M113.4 119.8h0M115.6 124.6h0M103.5 120.9h0M110.1 138.8h0M112.6 133.5h0M104.7 129.0h0M116.8 127.7h0M112.1 116.8h0M118.3 126.3h0M109.7 132.3h0M107.6 123.6h0M112.7 125.2h0M115.5 129.7h0M110.6 122.0h0M113.6 120.3h0M112.7 127.4h0M112.5 130.9h0M100.4 117.8h0M116.7 120.4h0M99.8 126.9h0M111.1 131.7h0M94.1 126.6h0M126.5 119.7h0M111.1 123.5h0M125.1 149.9h0M116.0 118.2h0M124.3 107.1h0M129.0 120.4h0M120.4 115.8h0M111.7 123.8h0M126.6 104.6h0M115.7 123.8h0M119.3 110.5h0M117.0 109.3h0M107.3 125.2h0M115.3 115.8h0M128.1 137.9h0M107.9 120.1h0M110.5 138.0h0M128.0 118.6h0M122.4 127.9h0M127.9 125.7h0M128.6 132.1h0M108.5 121.4h0M110.1 116.9h0M120.0 132.2h0M118.1 126.7h0M126.7 129.4h0M112.8 111.8h0M140.4 104.2h0M118.0 121.3h0M133.1 124.6h0M107.2 122.3h0M122.0 131.3h0M100.3 137.2h0M124.2 130.7h0M115.8 121.3h0M123.7 126.6h0M122.4 131.9h0M113.6 133.2h0M129.0 123.6h0M109.7 126.8h0M115.0 116.7h0M100.9 133.3h0M113.4 99.1h0M127.1 124.4h0M124.6 103.6h0M114.9 126.9h0M129.8 118.6h0M124.2 128.3h0M137.1 107.0h0M123.1 116.8h0M96.4 117.3h0M115.3 119.2h0M124.3 126.7h0M99.9 119.8h0M109.7 126.5h0M111.1 126.7h0M93.5 111.7h0M119.9 112.7h0M137.7 123.2h0M98.7 132.0h0M104.9 128.2h0M118.1 142.6h0M120.8 137.9h0M120.4 124.4h0M114.1 124.1h0M111.7 129.3h0M100.0 123.7h0M136.3 104.4h0M130.9 116.6h0M110.3 109.5h0M116.7 124.0h0M114.3 122.5h0M112.8 124.2h0M106.1 127.0h0M140.8 124.0h0M114.8 118.3h0M124.6 134.1h0M115.2 114.6h0M120.1 122.2h0M133.3 129.9h0M118.2 128.4h0M132.7 142.1h0M110.4 128.5h0M124.1 117.6h0M131.7 138.5h0M125.0 126.2h0M110.4 118.2h0M107.8 143.3h0M113.5 137.8h0M110.6 119.8h0M120.5 108.1h0M115.2 138.1h0M109.5 132.2h0M104.8 119.2h0M110.7 142.4h0M124.5 124.4h0M121.0 122.4h0M123.8 123.0h0M130.0 119.3h0M121.3 119.4h0M102.3 125.0h0M114.6 121.4h0M103.3 107.7h0M118.4 135.0h0M99.7 126.1h0M116.4 130.3h0M118.2 129.5h0M123.0 130.3h0M116.9 114.0h0M143.8 133.1h0M112.5 131.4h0M125.4 134.4h0M112.3 123.7h0M107.2 132.6h0M112.4 143.5h0M102.4 127.3h0M118.8 125.2h0M99.0 127.8h0M125.5 118.0h0M116.5 131.9h0M123.8 128.9h0M105.3 131.1h0M132.2 121.3h0M129.2 128.0h0M127.0 129.2h0M115.7 99.5h0M125.2 128.2h0M116.4 120.2h0M129.8 128.1h0M99.4 126.1h0M117.5 122.3h0M130.9 120.3h0M125.7 133.9h0M126.2 103.3h0M125.3 120.9h0M118.9 106.2h0M107.8 124.4h0M122.0 116.2h0M112.8 120.4h0M114.4 122.2h0M115.9 134.3h0M117.1 115.0h0M107.3 125.7h0M124.1 133.6h0M119.2 133.6h0M129.0 101.2h0M138.1 125.5h0M124.9 122.2h0M118.4 108.5h0M103.7 113.2h0M116.8 109.9h0M119.2 129.8h0M120.2 116.3h0M117.7 118.7h0M111.9 143.9h0M126.6 116.7h0M118.8 122.7h0M128.0 127.8h0M110.0 125.2h0M129.5 136.7h0M129.6 129.5h0M106.0 111.3h0M116.3 135.9h0M113.6 114.4h0M129.6 127.5h0M121.5 116.5h0M110.7 120.0h0M117.0 128.5h0M112.2 122.7h0M117.6 128.8h0M112.9 112.7h0M119.5 114.9h0M129.7 117.7h0M140.7 131.3h0M125.6 126.4h0M136.4 107.1h0M97.2 132.7h0M124.1 115.8h0M124.9 124.1h0M122.0 117.1h0M116.5 113.5h0M94.0 117.3h0M106.6 114.2h0M114.9 131.9h0M121.2 132.1h0M107.9 138.4h0M117.0 118.6h0M127.8 124.7h0M128.1 123.2h0M116.3 117.9h0M128.2 126.7h0M114.8 124.9h0M118.2 132.0h0M127.9 127.2h0M122.1 131.3h0M121.0 119.6h0M113.0 104.0h0M121.1 106.3h0M127.2 129.7h0M113.4 119.2h0M117.9 122.9h0M114.4 140.7h0M115.0 144.7h0M121.1 130.3h0M109.9 125.5h0M120.1 137.1h0M99.3 133.6h0M96.3 132.7h0M133.7 133.5h0M124.0 136.5h0M120.4 126.4h0M116.7 117.9h0M135.4 121.5h0M118.6 132.7h0M123.3 125.7h0M125.9 123.8h0M135.2 142.4h0M114.2 114.9h0M113.7 131.0h0M114.6 136.6h0M118.5 100.0h0M129.1 134.0h0M108.3 127.3h0M127.6 131.3h0M110.2 114.9h0M126.2 127.0h0M105.8 138.3h0M110.1 144.8h0M125.0 129.4h0M122.3 105.4h0M129.4 134.4h0M126.3 112.3h0M109.6 132.5h0M116.2 138.8h0M132.4 146.5h0M105.9 126.0h0M115.0 121.8h0M120.1 125.4h0M129.0 143.9h0M117.3 130.2h0M118.7 121.3h0M107.9 129.5h0M125.5 120.0h0M110.3 103.8h0M141.1 137.4h0M120.4 99.3h0M125.4 121.3h0M115.2 128.6h0M115.1 128.7h0M125.0 127.2h0M112.8 134.9h0M116.8 132.0h0M115.4 113.4h0M121.1 118.5h0M121.0 122.8h0M116.0 126.3h0M125.1 133.8h0M131.1 123.1h0M109.6 128.1h0M110.3 121.8h0M109.9 112.4h0M109.2 145.2h0M109.8 142.7h0M116.9 113.2h0M124.0 136.2h0M109.4 106.3h0M120.6 123.3h0M128.2 99.8h0M130.7 122.0h0M121.0 117.5h0M111.0 133.5h0M117.8 132.5h0M116.7 122.5h0M141.4 131.5h0M116.0 125.0h0M121.8 113.3h0M112.2 131.3h0M100.4 132.3h0M122.8 122.9h0M106.8 127.0h0M117.6 118.5h0M111.2 125.8h0M98.6 134.4h0M134.0 144.4h0M113.8 121.3h0M113.4 131.1h0M116.7 123.4h0M116.5 141.4h0M115.8 131.6h0M111.7 121.2h0M123.9 114.8h0M112.2 114.5h0M129.4 112.5h0M131.6 124.8h0M115.5 115.5h0M103.2 121.4h0M111.8 126.9h0M99.4 131.9h0M117.1 114.8h0M127.5 124.1h0M115.4 131.4h0M121.4 125.8h0M123.5 106.6h0M117.0 137.8h0M108.4 137.4h0M105.0 110.8h0M119.6 138.0h0M124.0 111.3h0M113.6 129.9h0M113.8 120.6h0M123.9 112.0h0M129.8 112.0h0M131.3 117.0h0M101.5 124.6h0M120.5 127.1h0M126.7 126.8h0M107.8 109.5h0M124.2 121.3h0M126.8 113.2h0M120.8 147.0h0M110.3 127.8h0M107.2 121.5h0M129.6 128.0h0M105.6 103.9h0M112.7 135.2h0M119.7 119.3h0M110.0 115.8h0M112.3 132.2h0M119.1 116.0h0M110.8 120.2h0M116.3 96.3h0M110.0 110.1h0M116.8 124.6h0M124.7 114.8h0M130.4 120.2h0M111.1 128.5h0M122.5 117.8h0M131.7 119.4h0M128.2 108.8h0M119.0 137.6h0M105.2 137.2h0M133.7 131.5h0M130.0 117.8h0M135.0 113.7h0M116.2 125.3h0M118.2 121.7h0M111.8 123.7h0M133.9 139.7h0M120.0 132.1h0M119.2 115.3h0M116.7 116.0h0M100.9 112.8h0M111.1 117.4h0M119.2 148.2h0M109.5 121.3h0M133.3 120.6h0M120.0 136.9h0M132.0 106.0h0M117.6 125.5h0M100.6 114.9h0M145.1 116.5h0M130.3 118.2h0M107.2 110.5h0M104.6 125.4h0M120.2 114.9h0M121.6 119.7h0M109.5 135.8h0M117.9 130.2h0M103.8 135.5h0M112.3 141.2h0M103.4 139.1h0M119.2 119.5h0M138.0 137.8h0M110.3 114.6h0M115.1 126.5h0M134.9 126.6h0M105.4 136.0h0M120.8 120.4h0M103.2 132.8h0M122.8 117.8h0M110.7 117.4h0M123.2 140.5h0M114.1 119.4h0M111.4 143.9h0M114.4 116.2h0M133.6 144.4h0M144.2 134.2h0M127.2 111.5h0M127.4 121.9h0M105.3 117.4h0M109.9 147.6h0M146.4 116.6h0M136.0 132.1h0M132.4 108.1h0M133.3 123.6h0M104.9 125.1h0M94.6 139.7h0M118.2 132.9h0M115.6 124.4h0M137.2 110.9h0M116.8 111.8h0M109.3 126.6h0M126.7 135.3h0M114.4 136.1h0M118.5 107.7h0M109.6 121.2h0M108.1 134.4h0M104.6 109.4h0M141.6 118.7h0M109.9 116.6h0M113.9 115.7h0M120.3 120.7h0M123.6 128.9h0M113.1 139.9h0M112.7 137.0h0M134.3 134.2h0M137.9 118.2h0M115.5 132.6h0M122.5 114.9h0M161.5 113.7h0M131.3 106.8h0M114.1 106.4h0M126.8 154.8h0M175.4 105.5h0M121.2 121.5h0M133.3 122.2h0M114.6 131.1h0M143.3 120.9h0M154.1 122.5h0M171.0 131.5h0M140.2 145.1h0M118.0 108.3h0M122.6 117.4h0M135.5 135.2h0M131.3 129.2h0M129.3 114.9h0M146.0 129.9h0M123.1 120.2h0M135.0 111.7h0M175.5 113.8h0M135.9 125.3h0M123.8 133.6h0M121.7 127.9h0M130.1 115.0h0M130.6 125.6h0M118.5 104.8h0M143.9 103.1h0M148.2 106.5h0M132.8 115.3h0M176.2 137.2h0M153.7 104.2h0M142.6 114.7h0M155.3 131.0h0M142.6 133.4h0M126.3 130.5h0M134.3 121.7h0M143.2 139.8h0M166.3 110.0h0M147.4 127.5h0M135.1 117.0h0M142.6 142.8h0M147.6 89.6h0M108.6 111.8h0M142.0 124.7h0M157.1 137.1h0M138.9 106.4h0M133.5 128.2h0M138.2 128.5h0M159.8 133.9h0M149.6 137.9h0M146.5 124.6h0M97.4 123.4h0M120.3 128.5h0M159.7 136.4h0M120.4 106.6h0M138.2 105.4h0M141.3 133.6h0M135.4 109.1h0M150.7 123.4h0M137.2 124.7h0M127.7 100.9h0M136.5 136.5h0M129.2 114.9h0M146.1 125.0h0M126.3 123.1h0M111.1 138.5h0M148.5 129.0h0M142.1 109.2h0M146.3 123.1h0M168.6 115.6h0M131.1 114.9h0M142.6 133.3h0M137.5 125.3h0M106.7 125.4h0M132.1 128.5h0M111.5 127.5h0M135.8 122.2h0M119.3 116.0h0M118.0 126.0h0M156.2 131.4h0M128.7 110.9h0M130.6 126.8h0M139.8 111.2h0M103.1 133.0h0M121.2 136.0h0M123.5 133.1h0M141.0 133.7h0M138.3 118.7h0M125.4 121.9h0M161.1 119.6h0M126.8 124.1h0M122.6 120.2h0M149.4 132.9h0M133.3 110.5h0M128.9 121.2h0M121.0 132.8h0M128.7 98.8h0M130.4 129.4h0M128.1 125.3h0M146.1 121.2h0M166.7 121.0h0M157.7 120.2h0M145.3 139.7h0M134.6 124.2h0M132.9 147.7h0M149.4 127.8h0M130.0 126.3h0M133.1 118.8h0M117.7 133.9h0M140.7 121.7h0M130.9 129.9h0M124.2 124.0h0M153.8 135.3h0M158.8 113.8h0M129.8 114.5h0M114.9 143.0h0M117.5 128.0h0M131.6 129.2h0M137.9 147.5h0M143.7 139.4h0M126.7 128.0h0M119.4 138.9h0M121.6 123.5h0M145.1 117.0h0M121.8 132.3h0M122.9 118.3h0M106.4 109.4h0M129.3 132.2h0M141.4 111.7h0M141.5 111.5h0M138.4 109.5h0M154.8 124.5h0M157.6 121.5h0M137.7 133.8h0M132.2 114.6h0M117.1 116.0h0M141.6 120.2h0M104.0 124.5h0M146.0 132.0h0M137.8 150.3h0M146.3 130.9h0M149.2 144.2h0M146.6 126.1h0M148.3 133.9h0M127.3 98.0h0M124.2 131.4h0M132.4 134.9h0M153.9 103.9h0M126.1 142.9h0M153.7 110.8h0M148.5 110.3h0M123.7 125.3h0M116.1 139.4h0M150.9 131.0h0M170.0 122.5h0M127.0 114.4h0M162.9 117.9h0M118.5 119.2h0M156.7 129.0h0M125.0 111.9h0M138.5 135.9h0M130.8 131.9h0M140.8 122.1h0M153.4 115.3h0M113.4 118.8h0M149.6 118.2h0M151.6 129.6h0M122.4 112.9h0M120.8 147.8h0M151.5 131.6h0M131.9 139.2h0M116.9 136.5h0M131.1 119.2h0M102.6 114.9h0M119.0 135.4h0M146.4 124.2h0M113.8 102.5h0M123.8 120.6h0M139.4 107.4h0M129.7 112.0h0M125.5 110.7h0M125.2 127.5h0M164.3 119.8h0M138.0 98.0h0M141.7 132.6h0M147.2 136.7h0M153.0 109.7h0M128.0 130.5h0M139.0 123.2h0M122.0 117.0h0M106.4 128.3h0M130.5 126.5h0M140.9 137.3h0M145.1 125.4h0M126.9 138.8h0M119.0 119.3h0M122.2 122.7h0M152.1 111.7h0M159.4 126.7h0M120.5 111.8h0M141.0 110.7h0M136.6 109.9h0M148.9 115.3h0M143.8 118.9h0M139.9 120.8h0M151.0 129.2h0M162.0 124.6h0M150.9 124.4h0M132.8 100.4h0M131.9 137.8h0M125.9 127.0h0M168.1 121.0h0M150.2 134.7h0M141.6 115.8h0M162.9 131.3h0M145.3 120.0h0M121.4 123.6h0M132.6 149.7h0M145.2 117.3h0M130.0 138.5h0M158.2 120.4h0M151.4 107.4h0M128.8 114.2h0M132.9 124.1h0M135.2 123.4h0M152.8 122.0h0M134.2 126.5h0M141.5 133.5h0M129.0 124.0h0M128.1 124.7h0M127.4 100.7h0M156.0 118.3h0M135.6 98.6h0M141.2 124.4h0M140.9 119.9h0M146.3 96.9h0M155.4 110.2h0M136.8 112.1h0M151.7 101.7h0M126.8 82.4h0M144.2 113.8h0M123.0 118.2h0M129.4 98.2h0M123.0 107.2h0M122.5 108.2h0M134.6 73.2h0M102.0 98.4h0M122.1 89.0h0M115.0 98.9h0M113.8 85.9h0M128.9 99.1h0M132.5 100.4h0M107.0 87.4h0M131.4 99.0h0M140.6 77.8h0M113.1 108.7h0M148.1 74.7h0M117.8 114.9h0M119.2 104.3h0M106.6 96.2h0M110.6 115.3h0M139.7 107.2h0M126.7 86.9h0M138.4 101.8h0M128.2 109.4h0M150.7 86.6h0M113.0 96.6h0M137.0 89.2h0M151.8 75.5h0M120.5 98.0h0M110.6 92.8h0M129.6 54.9h0M128.9 128.9h0M118.7 94.9h0M111.0 110.0h0M122.8 91.4h0M125.4 110.4h0M138.0 105.0h0M121.0 117.9h0M117.2 86.6h0M106.2 97.7h0M137.1 102.5h0M130.8 113.9h0M145.0 79.7h0M130.7 123.7h0M113.7 81.6h0M150.3 92.1h0M144.1 106.0h0M125.1 96.6h0M133.2 120.2h0M140.1 76.2h0M112.4 117.5h0M132.2 106.7h0M96.2 84.2h0M129.7 104.0h0M155.6 94.5h0M117.6 95.1h0M113.8 108.4h0M132.7 105.2h0M121.6 70.9h0M139.0 84.3h0M134.6 89.2h0M146.9 96.9h0M152.2 111.3h0M124.2 117.9h0M123.0 88.6h0M146.8 106.9h0M127.7 102.2h0M117.8 115.0h0M128.4 123.4h0M129.1 96.3h0M118.9 112.2h0M109.3 67.8h0M109.8 72.6h0M135.5 102.3h0M112.3 80.6h0M150.5 111.0h0M123.6 80.4h0M132.0 65.8h0M120.0 88.3h0M111.0 64.3h0M117.9 130.7h0M125.9 98.8h0M153.0 101.9h0M127.4 87.5h0M148.6 97.6h0M141.4 88.6h0M123.7 95.4h0M128.0 110.8h0M143.7 118.0h0M143.1 81.9h0M126.4 108.4h0M124.6 89.3h0M137.4 92.2h0M140.7 105.2h0M130.7 120.8h0M137.7 94.3h0M122.1 78.7h0M136.8 140.1h0M128.1 119.1h0M141.7 58.2h0M120.7 95.5h0M124.3 91.2h0M136.1 76.8h0M114.5 72.4h0M137.3 116.8h0M165.0 110.9h0M137.2 130.3h0M143.5 121.3h0M164.9 138.4h0M155.9 112.3h0M157.1 114.2h0M169.8 113.9h0M161.0 112.9h0M173.4 146.7h0M166.7 124.2h0M146.0 133.9h0M124.9 125.9h0M140.6 113.9h0M130.2 101.0h0M153.3 124.0h0M140.3 131.4h0M134.7 128.1h0M149.8 123.1h0M130.9 124.3h0M137.8 118.4h0M174.4 112.1h0M157.8 132.0h0M144.8 132.9h0M170.0 118.7h0M162.2 116.5h0M162.5 85.3h0M153.4 112.2h0M152.0 93.4h0M149.4 124.4h0M145.1 128.7h0M167.0 67.3h0M149.7 92.2h0M164.4 123.9h0M158.2 110.5h0M153.3 77.1h0M139.0 101.0h0M165.3 115.9h0M163.2 93.4h0M163.2 100.5h0M150.6 103.1h0M123.4 67.3h0M141.9 74.4h0M158.0 105.8h0M140.7 72.4h0M145.2 73.9h0M109.4 103.0h0M146.5 78.6h0M119.4 106.5h0M133.8 102.7h0M145.2 91.2h0M148.3 102.5h0M131.7 102.3h0M146.9 81.0h0M118.0 62.4h0M141.7 91.4h0M150.8 89.3h0M155.5 93.2h0M157.7 104.0h0M144.4 93.4h0M128.0 77.5h0M108.0 96.6h0M111.0 72.7h0M117.2 83.9h0M122.9 96.0h0M155.1 83.4h0M140.0 74.3h0M149.0 94.7h0M109.7 85.3h0M114.5 106.0h0M154.2 77.9h0M127.5 100.6h0M145.9 82.3h0M114.8 61.5h0M155.9 64.0h0M149.3 82.3h0M121.4 76.8h0M113.5 78.4h0M109.0 106.3h0M143.4 91.1h0M142.5 70.8h0M149.8 78.4h0M150.4 76.4h0M154.6 65.4h0M107.8 94.5h0M140.0 127.2h0M131.3 158.9h0M139.0 143.7h0M140.8 117.8h0M141.1 130.8h0M135.8 128.6h0M131.4 132.5h0M127.0 117.3h0M137.7 119.3h0M135.0 126.9h0M135.9 123.5h0M147.6 125.4h0M130.0 134.2h0M157.4 129.9h0M134.5 114.9h0M150.7 122.9h0M133.2 107.3h0M142.5 122.8h0M135.9 139.6h0M122.2 124.0h0M142.5 129.5h0M124.1 139.8h0M134.0 140.0h0M148.5 117.6h0M171.2 120.0h0M130.9 135.0h0M97.3 132.6h0M135.8 119.2h0M145.1 122.4h0M140.4 121.8h0M154.9 136.6h0M132.5 139.4h0M157.0 116.4h0M146.8 137.8h0M139.9 129.5h0M138.9 129.1h0M144.0 130.9h0M148.0 125.4h0M134.5 128.5h0M132.7 120.5h0M134.7 125.0h0M133.3 140.2h0M148.6 136.6h0M145.9 123.9h0M118.4 135.6h0M131.8 134.5h0M124.0 121.1h0M135.1 124.2h0M132.8 124.9h0M129.1 127.7h0M144.7 127.1h0M132.5 136.8h0M139.9 124.5h0M134.9 134.1h0M144.3 106.2h0M134.3 124.6h0M142.3 149.5h0M139.4 133.5h0M154.2 129.7h0M128.7 129.4h0M221.7 41.9h0M254.3 58.7h0M198.8 74.9h0M148.2 19.9h0M83.9 93.8h0M137.0 52.0h0M154.6 53.6h0" stroke="#0072BD" stroke-width="2.3" stroke-linecap="round" fill="none"/>
<path d="M104 122.5C106.5 118.8 113.5 107.1 119.3 100.2C125.1 93.3 131.6 86.9 138.6 81C145.6 75.1 153.6 69.7 161.1 64.9C168.6 60.1 176.6 55.9 183.6 52C190.6 48.1 199.8 43.2 203 41.4" stroke="#77AC30" stroke-width="1.35" fill="none"/>
<path d="M104 123.4C108.2 121.4 121 115.6 128.9 111.5C136.8 107.4 144.4 103.7 151.4 98.6C158.4 93.5 164.8 87.1 170.7 80.9C176.6 74.7 181.4 68.2 186.8 61.6C192.2 55 200.3 44.8 203 41.4" stroke="#7E2F8E" stroke-width="1.35" fill="none"/>
<path d="M203 41.4C201.4 46.4 195.9 61 193.2 71.3C190.5 81.6 188.4 92.7 186.8 103.4C185.2 114.1 183.9 122.6 183.6 135.6C183.3 148.6 184.8 173.8 185 181.4" stroke="#D95319" stroke-width="1.35" fill="none"/>
<path d="M203 41.4C203.5 42.8 205.1 45.2 206 50C206.9 54.8 208.1 63.7 208.7 70C209.3 76.3 209.5 82.2 209.5 88C209.5 93.8 209.2 99.5 208.5 105C207.8 110.5 206.8 115.3 205.5 121C204.2 126.7 202.6 133.2 201 139C199.4 144.8 197.8 150.8 196 156C194.2 161.2 192.3 165.8 190.5 170C188.7 174.2 185.9 179.5 185 181.4" stroke="#EDB120" stroke-width="1.35" fill="none"/>
<path d="M104 123.6C106.6 125.4 113.8 131 119.7 134.7C125.6 138.4 133.5 142.6 139.4 145.9C145.3 149.2 150.4 151.2 155.2 154.4C160 157.6 164.4 161.6 168.3 164.9C172.2 168.2 176 171.3 178.8 174.1C181.6 176.8 184 180.2 185 181.4" stroke="#A2142F" stroke-width="1.35" fill="none"/>
<path d="M104 124.5C106.6 126.6 114.9 133.4 119.7 137.3C124.5 141.2 128.4 144.3 132.8 147.8C137.2 151.3 141.6 155.1 146 158.4C150.4 161.7 154.5 164.8 159.1 167.6C163.7 170.4 169.3 173.1 173.6 175.4C177.9 177.7 183.1 180.4 185 181.4" stroke="#4DBEEE" stroke-width="1.35" fill="none"/>
<circle cx="203" cy="41.4" r="2.4" fill="#000" stroke="none" stroke-width="1" />
<circle cx="187.8" cy="26.6" r="2.3" fill="#000" stroke="none" stroke-width="1" />
<circle cx="181.5" cy="38.5" r="2.4" fill="#000" stroke="none" stroke-width="1" />
<circle cx="182.3" cy="40" r="2.4" fill="#000" stroke="none" stroke-width="1" />
<circle cx="185" cy="181" r="2.3" fill="#000" stroke="none" stroke-width="1" />
<circle cx="185.2" cy="183.6" r="2.4" fill="#000" stroke="none" stroke-width="1" />
<circle cx="185" cy="185.6" r="2.1" fill="#000" stroke="none" stroke-width="1" />
<circle cx="185.3" cy="189.4" r="2.1" fill="#000" stroke="none" stroke-width="1" />
<circle cx="181.5" cy="138" r="2.4" fill="#000" stroke="none" stroke-width="1" />
<circle cx="184.5" cy="137.5" r="2.4" fill="#000" stroke="none" stroke-width="1" />
<circle cx="187.3" cy="157.8" r="2.4" fill="#000" stroke="none" stroke-width="1" />
<circle cx="102.5" cy="115.5" r="2.3" fill="#000" stroke="none" stroke-width="1" />
<circle cx="102.5" cy="118.5" r="2.4" fill="#000" stroke="none" stroke-width="1" />
<circle cx="99.2" cy="120" r="2.4" fill="#000" stroke="none" stroke-width="1" />
<circle cx="101.5" cy="121" r="2.4" fill="#000" stroke="none" stroke-width="1" />
<circle cx="104" cy="123.4" r="2.4" fill="#000" stroke="none" stroke-width="1" />
<circle cx="87.8" cy="126.5" r="2.3" fill="#000" stroke="none" stroke-width="1" />
<circle cx="88" cy="129.5" r="2.3" fill="#000" stroke="none" stroke-width="1" />
<circle cx="88.5" cy="132.5" r="2.4" fill="#000" stroke="none" stroke-width="1" />
<circle cx="89.5" cy="135.5" r="2.5" fill="#000" stroke="none" stroke-width="1" />
<circle cx="89" cy="137" r="2.3" fill="#000" stroke="none" stroke-width="1" />
<circle cx="102.5" cy="136.4" r="2.3" fill="#000" stroke="none" stroke-width="1" />
<circle cx="99.5" cy="152" r="2.6" fill="#000" stroke="none" stroke-width="1" />
<circle cx="101.5" cy="152.5" r="2.7" fill="#000" stroke="none" stroke-width="1" />
<circle cx="103" cy="153" r="2.6" fill="#000" stroke="none" stroke-width="1" />
<circle cx="100.5" cy="154.5" r="2.6" fill="#000" stroke="none" stroke-width="1" />
<circle cx="102.3" cy="155" r="2.5" fill="#000" stroke="none" stroke-width="1" />
<rect x="55.5" y="7.5" width="206.0" height="205.7" fill="none" stroke="#a6a6a6" stroke-width="0.8"/>
<line x1="55.5" y1="213.2" x2="55.5" y2="211" stroke="#a6a6a6" stroke-width="0.8" />
<line x1="55.5" y1="7.5" x2="55.5" y2="9.7" stroke="#a6a6a6" stroke-width="0.8" />
<text x="55.5" y="223.2" font-size="7.6" text-anchor="middle" font-weight="normal" fill="#262626" >-500</text>
<line x1="84.9" y1="213.2" x2="84.9" y2="211" stroke="#a6a6a6" stroke-width="0.8" />
<line x1="84.9" y1="7.5" x2="84.9" y2="9.7" stroke="#a6a6a6" stroke-width="0.8" />
<text x="84.9" y="223.2" font-size="7.6" text-anchor="middle" font-weight="normal" fill="#262626" >-400</text>
<line x1="114.4" y1="213.2" x2="114.4" y2="211" stroke="#a6a6a6" stroke-width="0.8" />
<line x1="114.4" y1="7.5" x2="114.4" y2="9.7" stroke="#a6a6a6" stroke-width="0.8" />
<text x="114.4" y="223.2" font-size="7.6" text-anchor="middle" font-weight="normal" fill="#262626" >-300</text>
<line x1="143.8" y1="213.2" x2="143.8" y2="211" stroke="#a6a6a6" stroke-width="0.8" />
<line x1="143.8" y1="7.5" x2="143.8" y2="9.7" stroke="#a6a6a6" stroke-width="0.8" />
<text x="143.8" y="223.2" font-size="7.6" text-anchor="middle" font-weight="normal" fill="#262626" >-200</text>
<line x1="173.2" y1="213.2" x2="173.2" y2="211" stroke="#a6a6a6" stroke-width="0.8" />
<line x1="173.2" y1="7.5" x2="173.2" y2="9.7" stroke="#a6a6a6" stroke-width="0.8" />
<text x="173.2" y="223.2" font-size="7.6" text-anchor="middle" font-weight="normal" fill="#262626" >-100</text>
<line x1="202.6" y1="213.2" x2="202.6" y2="211" stroke="#a6a6a6" stroke-width="0.8" />
<line x1="202.6" y1="7.5" x2="202.6" y2="9.7" stroke="#a6a6a6" stroke-width="0.8" />
<text x="202.6" y="223.2" font-size="7.6" text-anchor="middle" font-weight="normal" fill="#262626" >0</text>
<line x1="232.1" y1="213.2" x2="232.1" y2="211" stroke="#a6a6a6" stroke-width="0.8" />
<line x1="232.1" y1="7.5" x2="232.1" y2="9.7" stroke="#a6a6a6" stroke-width="0.8" />
<text x="232.1" y="223.2" font-size="7.6" text-anchor="middle" font-weight="normal" fill="#262626" >100</text>
<line x1="261.5" y1="213.2" x2="261.5" y2="211" stroke="#a6a6a6" stroke-width="0.8" />
<line x1="261.5" y1="7.5" x2="261.5" y2="9.7" stroke="#a6a6a6" stroke-width="0.8" />
<text x="261.5" y="223.2" font-size="7.6" text-anchor="middle" font-weight="normal" fill="#262626" >200</text>
<line x1="55.5" y1="213.2" x2="57.7" y2="213.2" stroke="#a6a6a6" stroke-width="0.8" />
<line x1="261.5" y1="213.2" x2="259.3" y2="213.2" stroke="#a6a6a6" stroke-width="0.8" />
<text x="53" y="215.9" font-size="7.6" text-anchor="end" font-weight="normal" fill="#262626" >-500</text>
<line x1="55.5" y1="178.9" x2="57.7" y2="178.9" stroke="#a6a6a6" stroke-width="0.8" />
<line x1="261.5" y1="178.9" x2="259.3" y2="178.9" stroke="#a6a6a6" stroke-width="0.8" />
<text x="53" y="181.6" font-size="7.6" text-anchor="end" font-weight="normal" fill="#262626" >-400</text>
<line x1="55.5" y1="144.6" x2="57.7" y2="144.6" stroke="#a6a6a6" stroke-width="0.8" />
<line x1="261.5" y1="144.6" x2="259.3" y2="144.6" stroke="#a6a6a6" stroke-width="0.8" />
<text x="53" y="147.3" font-size="7.6" text-anchor="end" font-weight="normal" fill="#262626" >-300</text>
<line x1="55.5" y1="110.3" x2="57.7" y2="110.3" stroke="#a6a6a6" stroke-width="0.8" />
<line x1="261.5" y1="110.3" x2="259.3" y2="110.3" stroke="#a6a6a6" stroke-width="0.8" />
<text x="53" y="113" font-size="7.6" text-anchor="end" font-weight="normal" fill="#262626" >-200</text>
<line x1="55.5" y1="76.1" x2="57.7" y2="76.1" stroke="#a6a6a6" stroke-width="0.8" />
<line x1="261.5" y1="76.1" x2="259.3" y2="76.1" stroke="#a6a6a6" stroke-width="0.8" />
<text x="53" y="78.8" font-size="7.6" text-anchor="end" font-weight="normal" fill="#262626" >-100</text>
<line x1="55.5" y1="41.8" x2="57.7" y2="41.8" stroke="#a6a6a6" stroke-width="0.8" />
<line x1="261.5" y1="41.8" x2="259.3" y2="41.8" stroke="#a6a6a6" stroke-width="0.8" />
<text x="53" y="44.5" font-size="7.6" text-anchor="end" font-weight="normal" fill="#262626" >0</text>
<line x1="55.5" y1="7.5" x2="57.7" y2="7.5" stroke="#a6a6a6" stroke-width="0.8" />
<line x1="261.5" y1="7.5" x2="259.3" y2="7.5" stroke="#a6a6a6" stroke-width="0.8" />
<text x="53" y="10.2" font-size="7.6" text-anchor="end" font-weight="normal" fill="#262626" >100</text>
<text x="158.5" y="233.2" font-size="8.6" text-anchor="middle" font-weight="normal" fill="#262626" >PC1 (56.27%)</text>
<text x="0" y="0" font-size="8.6" text-anchor="middle" font-weight="normal" fill="#262626" transform="translate(35.5,109.5) rotate(-90)">PC2 (28.64%)</text>
<text x="205.9" y="21.5" font-size="8.6" text-anchor="start" font-weight="normal" fill="#222" >Ca<tspan font-size="5.5" dy="-3">2+</tspan><tspan dy="3">-E1</tspan></text>
<text x="205.9" y="31.5" font-size="8.6" text-anchor="start" font-weight="normal" fill="#222" >state</text>
<text x="202.7" y="53.2" font-size="8.6" text-anchor="start" font-weight="normal" fill="#222" >2c9m</text>
<text x="80.9" y="113.6" font-size="8.6" text-anchor="start" font-weight="normal" fill="#222" >2zbe</text>
<text x="64.1" y="150.6" font-size="8.6" text-anchor="start" font-weight="normal" fill="#222" >E2 state</text>
<text x="190.6" y="185" font-size="8.6" text-anchor="start" font-weight="normal" fill="#222" >1t5s</text>
<text x="142.4" y="195.6" font-size="8.6" text-anchor="start" font-weight="normal" fill="#222" >Ca<tspan font-size="5.5" dy="-3">2+</tspan><tspan dy="3">-E1-</tspan></text>
<text x="142.4" y="205.6" font-size="8.6" text-anchor="start" font-weight="normal" fill="#222" >AMPPCP state</text>
<text x="13.5" y="257.5" font-size="9.5" text-anchor="start" font-weight="bold" fill="#111" >(b)</text>
<polygon points="161.1,545.8 300.1,429.3 299.9,261 155.7,366" fill="#f7f7f7" stroke="none" stroke-width="1" />
<polygon points="300.1,429.3 525.9,494.2 533.6,320.2 299.9,261" fill="#f0f0f0" stroke="none" stroke-width="1" />
<polygon points="161.1,545.8 401.3,622.6 525.9,494.2 300.1,429.3" fill="#f4f4f4" stroke="none" stroke-width="1" />
<line x1="163.1" y1="544.2" x2="157.8" y2="364.5" stroke="#cbcbcb" stroke-width="0.8" />
<line x1="163.1" y1="544.2" x2="403.1" y2="620.7" stroke="#cbcbcb" stroke-width="0.8" />
<line x1="192.6" y1="519.4" x2="188.5" y2="342.1" stroke="#cbcbcb" stroke-width="0.8" />
<line x1="192.6" y1="519.4" x2="429.7" y2="593.4" stroke="#cbcbcb" stroke-width="0.8" />
<line x1="221.1" y1="495.5" x2="218.1" y2="320.6" stroke="#cbcbcb" stroke-width="0.8" />
<line x1="221.1" y1="495.5" x2="455.2" y2="567" stroke="#cbcbcb" stroke-width="0.8" />
<line x1="248.6" y1="472.5" x2="246.6" y2="299.8" stroke="#cbcbcb" stroke-width="0.8" />
<line x1="248.6" y1="472.5" x2="479.9" y2="541.6" stroke="#cbcbcb" stroke-width="0.8" />
<line x1="275.3" y1="450.2" x2="274.2" y2="279.7" stroke="#cbcbcb" stroke-width="0.8" />
<line x1="275.3" y1="450.2" x2="503.7" y2="517.1" stroke="#cbcbcb" stroke-width="0.8" />
<line x1="160.3" y1="517.6" x2="300.1" y2="402.8" stroke="#cbcbcb" stroke-width="0.8" />
<line x1="300.1" y1="402.8" x2="527.1" y2="466.8" stroke="#cbcbcb" stroke-width="0.8" />
<line x1="159.2" y1="481.1" x2="300" y2="368.7" stroke="#cbcbcb" stroke-width="0.8" />
<line x1="300" y1="368.7" x2="528.6" y2="431.5" stroke="#cbcbcb" stroke-width="0.8" />
<line x1="158.1" y1="444.2" x2="300" y2="334" stroke="#cbcbcb" stroke-width="0.8" />
<line x1="300" y1="334" x2="530.2" y2="395.7" stroke="#cbcbcb" stroke-width="0.8" />
<line x1="156.9" y1="406.6" x2="299.9" y2="298.9" stroke="#cbcbcb" stroke-width="0.8" />
<line x1="299.9" y1="298.9" x2="531.8" y2="359.4" stroke="#cbcbcb" stroke-width="0.8" />
<line x1="308.7" y1="431.8" x2="308.7" y2="263.2" stroke="#cbcbcb" stroke-width="0.8" />
<line x1="170.2" y1="548.7" x2="308.7" y2="431.8" stroke="#cbcbcb" stroke-width="0.8" />
<line x1="334.8" y1="439.3" x2="335.7" y2="270.1" stroke="#cbcbcb" stroke-width="0.8" />
<line x1="197.9" y1="557.6" x2="334.8" y2="439.3" stroke="#cbcbcb" stroke-width="0.8" />
<line x1="361.2" y1="446.9" x2="363" y2="277" stroke="#cbcbcb" stroke-width="0.8" />
<line x1="225.9" y1="566.5" x2="361.2" y2="446.9" stroke="#cbcbcb" stroke-width="0.8" />
<line x1="387.8" y1="454.5" x2="390.6" y2="284" stroke="#cbcbcb" stroke-width="0.8" />
<line x1="254.2" y1="575.6" x2="387.8" y2="454.5" stroke="#cbcbcb" stroke-width="0.8" />
<line x1="414.7" y1="462.3" x2="418.4" y2="291" stroke="#cbcbcb" stroke-width="0.8" />
<line x1="282.8" y1="584.7" x2="414.7" y2="462.3" stroke="#cbcbcb" stroke-width="0.8" />
<line x1="442" y1="470.1" x2="446.6" y2="298.1" stroke="#cbcbcb" stroke-width="0.8" />
<line x1="311.8" y1="594" x2="442" y2="470.1" stroke="#cbcbcb" stroke-width="0.8" />
<line x1="469.5" y1="478" x2="475.1" y2="305.4" stroke="#cbcbcb" stroke-width="0.8" />
<line x1="341.1" y1="603.4" x2="469.5" y2="478" stroke="#cbcbcb" stroke-width="0.8" />
<line x1="497.3" y1="486" x2="503.9" y2="312.7" stroke="#cbcbcb" stroke-width="0.8" />
<line x1="370.8" y1="612.8" x2="497.3" y2="486" stroke="#cbcbcb" stroke-width="0.8" />
<line x1="161.1" y1="545.8" x2="401.3" y2="622.6" stroke="#222" stroke-width="0.8" />
<line x1="401.3" y1="622.6" x2="525.9" y2="494.2" stroke="#222" stroke-width="0.8" />
<line x1="525.9" y1="494.2" x2="533.6" y2="320.2" stroke="#222" stroke-width="0.8" />
<line x1="171.1" y1="548" x2="167.9" y2="550.7" stroke="#222" stroke-width="0.8" />
<text x="165.8" y="565.1" font-size="6.8" text-anchor="middle" font-weight="normal" fill="#222" >20</text>
<line x1="198.8" y1="556.8" x2="195.6" y2="559.5" stroke="#222" stroke-width="0.8" />
<text x="192.6" y="573.7" font-size="6.8" text-anchor="middle" font-weight="normal" fill="#222" >30</text>
<line x1="226.8" y1="565.7" x2="223.6" y2="568.5" stroke="#222" stroke-width="0.8" />
<text x="221" y="582.8" font-size="6.8" text-anchor="middle" font-weight="normal" fill="#222" >40</text>
<line x1="255.1" y1="574.8" x2="252" y2="577.6" stroke="#222" stroke-width="0.8" />
<text x="248.5" y="592.3" font-size="6.8" text-anchor="middle" font-weight="normal" fill="#222" >50</text>
<line x1="283.7" y1="583.9" x2="280.6" y2="586.8" stroke="#222" stroke-width="0.8" />
<text x="277.3" y="601.3" font-size="6.8" text-anchor="middle" font-weight="normal" fill="#222" >60</text>
<line x1="312.7" y1="593.2" x2="309.6" y2="596.1" stroke="#222" stroke-width="0.8" />
<text x="306.5" y="611.2" font-size="6.8" text-anchor="middle" font-weight="normal" fill="#222" >70</text>
<line x1="342" y1="602.5" x2="339" y2="605.5" stroke="#222" stroke-width="0.8" />
<text x="336" y="621" font-size="6.8" text-anchor="middle" font-weight="normal" fill="#222" >80</text>
<line x1="371.7" y1="612" x2="368.7" y2="615" stroke="#222" stroke-width="0.8" />
<text x="366" y="630.1" font-size="6.8" text-anchor="middle" font-weight="normal" fill="#222" >90</text>
<line x1="402" y1="620.4" x2="406" y2="621.7" stroke="#222" stroke-width="0.8" />
<text x="411.3" y="633.4" font-size="6.8" text-anchor="middle" font-weight="normal" fill="#222" >20</text>
<line x1="428.5" y1="593" x2="432.5" y2="594.3" stroke="#222" stroke-width="0.8" />
<text x="437.3" y="606.7" font-size="6.8" text-anchor="middle" font-weight="normal" fill="#222" >40</text>
<line x1="454.1" y1="566.7" x2="458.1" y2="567.9" stroke="#222" stroke-width="0.8" />
<text x="462.3" y="580.6" font-size="6.8" text-anchor="middle" font-weight="normal" fill="#222" >60</text>
<line x1="478.7" y1="541.2" x2="482.7" y2="542.4" stroke="#222" stroke-width="0.8" />
<text x="487" y="555.6" font-size="6.8" text-anchor="middle" font-weight="normal" fill="#222" >80</text>
<line x1="502.5" y1="516.7" x2="506.5" y2="517.9" stroke="#222" stroke-width="0.8" />
<text x="510.3" y="530.9" font-size="6.8" text-anchor="middle" font-weight="normal" fill="#222" >100</text>
<line x1="525.9" y1="466.8" x2="530.1" y2="467.3" stroke="#222" stroke-width="0.8" />
<text x="533.1" y="469.2" font-size="6.8" text-anchor="start" font-weight="normal" fill="#222" >60</text>
<line x1="527.4" y1="431.5" x2="531.6" y2="432" stroke="#222" stroke-width="0.8" />
<text x="534.6" y="433.9" font-size="6.8" text-anchor="start" font-weight="normal" fill="#222" >80</text>
<line x1="529" y1="395.7" x2="533.2" y2="396.2" stroke="#222" stroke-width="0.8" />
<text x="536.2" y="398.1" font-size="6.8" text-anchor="start" font-weight="normal" fill="#222" >100</text>
<line x1="530.6" y1="359.4" x2="534.8" y2="359.9" stroke="#222" stroke-width="0.8" />
<text x="537.8" y="361.8" font-size="6.8" text-anchor="start" font-weight="normal" fill="#222" >120</text>
<text x="0" y="0" font-size="7" text-anchor="middle" font-weight="normal" fill="#222" transform="translate(266.5,609.5) rotate(18.2)" font-style="italic">θ<tspan font-size="4.5" dy="1.5">E</tspan><tspan dy="-1.5"> (degrees)</tspan></text>
<text x="0" y="0" font-size="7" text-anchor="middle" font-weight="normal" fill="#222" transform="translate(482.5,577) rotate(-45)">θ<tspan font-size="4.5" dy="1.5">H</tspan><tspan dy="-1.5"> (degrees)</tspan></text>
<text x="0" y="0" font-size="7" text-anchor="middle" font-weight="normal" fill="#222" transform="translate(557,406) rotate(-90)">γ (degrees)</text>
<g stroke="#333" stroke-width=".45" stroke-opacity=".8"><circle cx="237.7" cy="344.2" r="2.25" fill="#9dbcdd"/><circle cx="229.7" cy="346.8" r="2.25" fill="#aec8e3"/><circle cx="197.2" cy="372.9" r="2.25" fill="#e8f0f8"/><circle cx="221.5" cy="355.8" r="2.25" fill="#c0d4ea"/><circle cx="224.1" cy="353.1" r="2.25" fill="#b9cfe7"/><circle cx="249.9" cy="331.1" r="2.25" fill="#89afd6"/><circle cx="209.9" cy="364.7" r="2.25" fill="#d5e2f1"/><circle cx="253.1" cy="328.8" r="2.25" fill="#95bde1"/><circle cx="217" cy="356.5" r="2.25" fill="#c3d6eb"/><circle cx="204.5" cy="363.4" r="2.25" fill="#dae6f3"/><circle cx="245.3" cy="334" r="2.25" fill="#8eb2d8"/><circle cx="199.9" cy="372.2" r="2.25" fill="#e5edf7"/><circle cx="240.1" cy="339.6" r="2.25" fill="#9bbbdd"/><circle cx="217.8" cy="355.2" r="2.25" fill="#c5d8eb"/><circle cx="246.2" cy="336.3" r="2.25" fill="#94b6da"/><circle cx="206.7" cy="365.8" r="2.25" fill="#d9e5f2"/><circle cx="228.1" cy="351.1" r="2.25" fill="#b4cce5"/><circle cx="247.3" cy="334.1" r="2.25" fill="#8bb0d7"/><circle cx="203.2" cy="368.9" r="2.25" fill="#e1ebf5"/><circle cx="230.1" cy="346.5" r="2.25" fill="#acc7e3"/><circle cx="202.1" cy="372.2" r="2.25" fill="#e3ecf6"/><circle cx="212.1" cy="363" r="2.25" fill="#d0dfef"/><circle cx="225.6" cy="353.8" r="2.25" fill="#b7cee6"/><circle cx="242.7" cy="333.4" r="2.25" fill="#90b4d9"/><circle cx="213.1" cy="357.9" r="2.25" fill="#c9daed"/><circle cx="208.7" cy="364.6" r="2.25" fill="#d2e0f0"/><circle cx="234.8" cy="343.2" r="2.25" fill="#9ebdde"/><circle cx="219.2" cy="355.8" r="2.25" fill="#c2d5ea"/><circle cx="212.5" cy="359.7" r="2.25" fill="#ccdcee"/><circle cx="221.1" cy="355.2" r="2.25" fill="#bed3e9"/><circle cx="213.2" cy="360.1" r="2.25" fill="#cadbed"/><circle cx="223" cy="353.8" r="2.25" fill="#bcd2e8"/><circle cx="213.8" cy="360.6" r="2.25" fill="#cedeee"/><circle cx="229.9" cy="347" r="2.25" fill="#a9c4e1"/><circle cx="235.2" cy="339.8" r="2.25" fill="#a2c0df"/><circle cx="247.1" cy="335.8" r="2.25" fill="#8db1d8"/><circle cx="196.4" cy="370.3" r="2.25" fill="#eaf1f8"/><circle cx="242" cy="339.9" r="2.25" fill="#99badc"/><circle cx="195.7" cy="372.2" r="2.25" fill="#ecf2f9"/><circle cx="201.5" cy="372.1" r="2.25" fill="#e7eef7"/><circle cx="241.4" cy="334.9" r="2.25" fill="#95b7db"/><circle cx="204" cy="368.1" r="2.25" fill="#dee8f4"/><circle cx="297.8" cy="303.5" r="2.25" fill="#4781bd"/><circle cx="232.5" cy="348.3" r="2.25" fill="#a7c3e1"/><circle cx="235" cy="343.3" r="2.25" fill="#a4c1e0"/><circle cx="284.9" cy="312.8" r="2.25" fill="#5e92c7"/><circle cx="252.5" cy="332" r="2.25" fill="#86acd5"/><circle cx="217.1" cy="358.7" r="2.25" fill="#c7d9ec"/><circle cx="278.6" cy="312.7" r="2.25" fill="#6397ca"/><circle cx="250.3" cy="330.6" r="2.25" fill="#87aed6"/><circle cx="225.5" cy="351.4" r="2.25" fill="#b0c9e4"/><circle cx="203.4" cy="364" r="2.25" fill="#dce7f3"/><circle cx="313.8" cy="293.7" r="2.25" fill="#2869af"/><circle cx="284.9" cy="309.5" r="2.25" fill="#5c91c7"/><circle cx="234.5" cy="347.7" r="2.25" fill="#abc6e2"/><circle cx="304.8" cy="298.3" r="2.25" fill="#3774b6"/><circle cx="227.2" cy="352.2" r="2.25" fill="#b5cde6"/><circle cx="224.6" cy="354.5" r="2.25" fill="#bbd0e8"/><circle cx="229.6" cy="350.1" r="2.25" fill="#b2cae5"/><circle cx="285.8" cy="309.7" r="2.25" fill="#5a90c6"/><circle cx="237.4" cy="344.8" r="2.25" fill="#a0bede"/><circle cx="303" cy="298.1" r="2.25" fill="#3c79b8"/><circle cx="259.7" cy="327.8" r="2.25" fill="#88b3db"/><circle cx="205" cy="366.2" r="2.25" fill="#d7e4f2"/><circle cx="240.4" cy="339.4" r="2.25" fill="#97b8db"/><circle cx="212" cy="366.6" r="2.25" fill="#d3e1f0"/><circle cx="264.5" cy="324.3" r="2.25" fill="#84b0d9"/><circle cx="252" cy="328.6" r="2.25" fill="#84abd4"/><circle cx="202.9" cy="368.7" r="2.25" fill="#e0eaf5"/><circle cx="232.4" cy="341.3" r="2.25" fill="#a5c2e0"/><circle cx="243.2" cy="336.7" r="2.25" fill="#92b5d9"/><circle cx="281.7" cy="313.7" r="2.25" fill="#6195c9"/><circle cx="276" cy="313.7" r="2.25" fill="#6b9ccd"/><circle cx="273.1" cy="318.4" r="2.25" fill="#74a4d1"/><circle cx="282.3" cy="311.4" r="2.25" fill="#f8bf95"/><circle cx="256.9" cy="327" r="2.25" fill="#90b9de"/><circle cx="274.4" cy="322.2" r="2.25" fill="#f6b181"/><circle cx="298.9" cy="303.5" r="2.25" fill="#facdab"/><circle cx="204.1" cy="373.3" r="2.25" fill="#c34813"/><circle cx="295.6" cy="299.4" r="2.25" fill="#447ebc"/><circle cx="201.4" cy="372.7" r="2.25" fill="#c24510"/><circle cx="272.2" cy="325.4" r="2.25" fill="#f4a772"/><circle cx="267" cy="328.2" r="2.25" fill="#f3a068"/><circle cx="301.8" cy="301.6" r="2.25" fill="#427dbb"/><circle cx="199.3" cy="373.9" r="2.25" fill="#c1440f"/><circle cx="308.2" cy="298" r="2.25" fill="#3170b3"/><circle cx="240.9" cy="347.4" r="2.25" fill="#e0793f"/><circle cx="296.2" cy="304.2" r="2.25" fill="#facca9"/><circle cx="205.8" cy="374.4" r="2.25" fill="#c44914"/><circle cx="208.6" cy="370.6" r="2.25" fill="#c64c17"/><circle cx="293.9" cy="303.7" r="2.25" fill="#4983be"/><circle cx="280.4" cy="314.9" r="2.25" fill="#6598cb"/><circle cx="257.8" cy="325.3" r="2.25" fill="#8ab5dc"/><circle cx="239.9" cy="347.1" r="2.25" fill="#e27b41"/><circle cx="277.6" cy="317.9" r="2.25" fill="#f6b283"/><circle cx="236.2" cy="350.9" r="2.25" fill="#de743b"/><circle cx="246.5" cy="341.8" r="2.25" fill="#e58147"/><circle cx="295.1" cy="305.8" r="2.25" fill="#f8c198"/><circle cx="270.4" cy="326.5" r="2.25" fill="#f4a36d"/><circle cx="262.9" cy="328.2" r="2.25" fill="#f39d65"/><circle cx="198.7" cy="382.5" r="2.25" fill="#be3f0b"/><circle cx="304.5" cy="299.8" r="2.25" fill="#3573b5"/><circle cx="282.2" cy="323" r="2.25" fill="#f6b486"/><circle cx="304.1" cy="304.4" r="2.25" fill="#fad3b3"/><circle cx="309.1" cy="301.8" r="2.25" fill="#fbd8ba"/><circle cx="293.5" cy="314.8" r="2.25" fill="#f8c29a"/><circle cx="270.8" cy="322.1" r="2.25" fill="#77a6d3"/><circle cx="241.5" cy="349.1" r="2.25" fill="#e37d43"/><circle cx="242.5" cy="348.3" r="2.25" fill="#e17a40"/><circle cx="302.8" cy="300.6" r="2.25" fill="#3e7ab9"/><circle cx="214.1" cy="364.9" r="2.25" fill="#cd5923"/><circle cx="232.2" cy="352.4" r="2.25" fill="#dc7239"/><circle cx="220.6" cy="359.5" r="2.25" fill="#d26029"/><circle cx="275.5" cy="323.2" r="2.25" fill="#f5ad7c"/><circle cx="230.9" cy="353.4" r="2.25" fill="#d96d35"/><circle cx="192.6" cy="379.8" r="2.25" fill="#bc3c08"/><circle cx="232.7" cy="351.1" r="2.25" fill="#db7038"/><circle cx="230.6" cy="356" r="2.25" fill="#d96c34"/><circle cx="254.2" cy="333.1" r="2.25" fill="#f09358"/><circle cx="287.1" cy="307.6" r="2.25" fill="#568dc4"/><circle cx="282.5" cy="320.3" r="2.25" fill="#f6b588"/><circle cx="219.5" cy="358.4" r="2.25" fill="#d2612a"/><circle cx="254" cy="334.2" r="2.25" fill="#f09257"/><circle cx="216.4" cy="365.3" r="2.25" fill="#cb561f"/><circle cx="234.8" cy="350.8" r="2.25" fill="#dd733a"/><circle cx="305" cy="300.5" r="2.25" fill="#fbd5b6"/><circle cx="217.4" cy="363.9" r="2.25" fill="#cc5720"/><circle cx="256.1" cy="334.3" r="2.25" fill="#ef9156"/><circle cx="241.9" cy="346.9" r="2.25" fill="#e27c42"/><circle cx="222.1" cy="358.7" r="2.25" fill="#d4642c"/><circle cx="293.1" cy="311" r="2.25" fill="#f9c6a1"/><circle cx="251.7" cy="341.8" r="2.25" fill="#ea894e"/><circle cx="267" cy="317.2" r="2.25" fill="#7ba9d5"/><circle cx="227" cy="357.9" r="2.25" fill="#d6672f"/><circle cx="301" cy="300.2" r="2.25" fill="#fad2b1"/><circle cx="290" cy="303.2" r="2.25" fill="#5188c1"/><circle cx="218.9" cy="363.5" r="2.25" fill="#d05d26"/><circle cx="227" cy="358.4" r="2.25" fill="#d4652d"/><circle cx="264.7" cy="326.9" r="2.25" fill="#81aed7"/><circle cx="279.8" cy="320.2" r="2.25" fill="#f6b384"/><circle cx="220.4" cy="359.4" r="2.25" fill="#d05e27"/><circle cx="205.7" cy="368.5" r="2.25" fill="#c74f19"/><circle cx="245.1" cy="346.5" r="2.25" fill="#e58046"/><circle cx="291.8" cy="305.6" r="2.25" fill="#4d86c0"/><circle cx="250.5" cy="339.9" r="2.25" fill="#e9874c"/><circle cx="307.9" cy="300.4" r="2.25" fill="#fcdbbf"/><circle cx="218" cy="361.9" r="2.25" fill="#ce5a24"/><circle cx="247.3" cy="342.2" r="2.25" fill="#e9884d"/><circle cx="200.5" cy="371.6" r="2.25" fill="#c24612"/><circle cx="258.6" cy="326.7" r="2.25" fill="#8eb8dd"/><circle cx="274.4" cy="317.4" r="2.25" fill="#6c9ece"/><circle cx="273.1" cy="324.4" r="2.25" fill="#f5a976"/><circle cx="234.7" cy="350.7" r="2.25" fill="#de753c"/><circle cx="211.1" cy="366.1" r="2.25" fill="#ca531d"/><circle cx="302.4" cy="303.9" r="2.25" fill="#fad0ae"/><circle cx="263.8" cy="325.2" r="2.25" fill="#83afd8"/><circle cx="260.4" cy="327.9" r="2.25" fill="#f39b62"/><circle cx="203.8" cy="375.3" r="2.25" fill="#c54b16"/><circle cx="303" cy="302.2" r="2.25" fill="#fad1b0"/><circle cx="313.8" cy="293.5" r="2.25" fill="#2c6cb1"/><circle cx="283.8" cy="316.1" r="2.25" fill="#f7b98d"/><circle cx="308.2" cy="304.6" r="2.25" fill="#fbd4b5"/><circle cx="293.8" cy="306.2" r="2.25" fill="#f9cba7"/><circle cx="250.2" cy="339.3" r="2.25" fill="#ec8c51"/><circle cx="239.9" cy="348.9" r="2.25" fill="#df763d"/><circle cx="197.5" cy="377.4" r="2.25" fill="#bd3e0a"/><circle cx="293.2" cy="310.1" r="2.25" fill="#f8c39c"/><circle cx="305.6" cy="299.3" r="2.25" fill="#3976b7"/><circle cx="290.6" cy="301.3" r="2.25" fill="#4b84bf"/><circle cx="268.4" cy="321.6" r="2.25" fill="#7dabd6"/><circle cx="274.3" cy="320" r="2.25" fill="#f5af7e"/><circle cx="272.7" cy="323.9" r="2.25" fill="#f6b07f"/><circle cx="270.5" cy="323.4" r="2.25" fill="#f4a874"/><circle cx="199.5" cy="377.9" r="2.25" fill="#bf410c"/><circle cx="309" cy="291.9" r="2.25" fill="#fcddc2"/><circle cx="292.8" cy="307.9" r="2.25" fill="#f8c49d"/><circle cx="198.5" cy="374.7" r="2.25" fill="#c0430e"/><circle cx="209.4" cy="370.2" r="2.25" fill="#c9511b"/><circle cx="294.4" cy="303.3" r="2.25" fill="#4680bc"/><circle cx="271.1" cy="327.2" r="2.25" fill="#f5aa77"/><circle cx="209.5" cy="368.5" r="2.25" fill="#c9521c"/><circle cx="239.6" cy="351.6" r="2.25" fill="#e0773e"/><circle cx="295.7" cy="304.4" r="2.25" fill="#f9c9a4"/><circle cx="301.6" cy="302.9" r="2.25" fill="#faceac"/><circle cx="307.6" cy="297.7" r="2.25" fill="#3372b4"/><circle cx="204.6" cy="373.2" r="2.25" fill="#c44a15"/><circle cx="285.2" cy="316.5" r="2.25" fill="#f7ba8e"/><circle cx="244" cy="340" r="2.25" fill="#e8854b"/><circle cx="247.8" cy="332.7" r="2.25" fill="#ee8f53"/><circle cx="266.3" cy="326.7" r="2.25" fill="#f39f67"/><circle cx="285.9" cy="317.2" r="2.25" fill="#f7bd93"/><circle cx="247.3" cy="344.7" r="2.25" fill="#e68248"/><circle cx="213.4" cy="365.2" r="2.25" fill="#cb541e"/><circle cx="287.9" cy="310.4" r="2.25" fill="#f7bc92"/><circle cx="257.4" cy="326.7" r="2.25" fill="#8cb6dc"/><circle cx="281.2" cy="319.2" r="2.25" fill="#f7b789"/><circle cx="300.2" cy="301.2" r="2.25" fill="#3a77b7"/><circle cx="275.9" cy="318" r="2.25" fill="#699bcc"/><circle cx="251.9" cy="335" r="2.25" fill="#ee9054"/><circle cx="277.8" cy="324.7" r="2.25" fill="#f5ac7a"/><circle cx="197.9" cy="375.1" r="2.25" fill="#bf420d"/><circle cx="219.6" cy="362.2" r="2.25" fill="#cf5b25"/><circle cx="228.2" cy="353.6" r="2.25" fill="#da6e36"/><circle cx="294.6" cy="306.7" r="2.25" fill="#f9c59f"/><circle cx="284.5" cy="313.2" r="2.25" fill="#f7bb90"/><circle cx="259.4" cy="326.5" r="2.25" fill="#f39c63"/><circle cx="269.9" cy="324.6" r="2.25" fill="#f4a46f"/><circle cx="308.4" cy="296.4" r="2.25" fill="#fcdcc0"/><circle cx="286.1" cy="307.3" r="2.25" fill="#548bc3"/><circle cx="247.1" cy="341.7" r="2.25" fill="#e7844a"/><circle cx="259.5" cy="329.9" r="2.25" fill="#f2975b"/><circle cx="253.2" cy="336.6" r="2.25" fill="#ec8b50"/><circle cx="258.9" cy="332.3" r="2.25" fill="#f39a60"/><circle cx="248.7" cy="338.7" r="2.25" fill="#eb8a4f"/><circle cx="288.6" cy="305.5" r="2.25" fill="#538ac2"/><circle cx="226.3" cy="355.9" r="2.25" fill="#d76931"/><circle cx="256.1" cy="329.1" r="2.25" fill="#f2995e"/><circle cx="268.4" cy="323.5" r="2.25" fill="#f4a571"/><circle cx="230.8" cy="352.8" r="2.25" fill="#db6f37"/><circle cx="298.6" cy="307.7" r="2.25" fill="#f9caa6"/><circle cx="228.6" cy="356.7" r="2.25" fill="#d86b32"/><circle cx="273.2" cy="320" r="2.25" fill="#76a5d2"/><circle cx="290.2" cy="305.1" r="2.25" fill="#4f87c1"/><circle cx="310.5" cy="299.1" r="2.25" fill="#fbdabd"/><circle cx="255.8" cy="334" r="2.25" fill="#ed8e52"/><circle cx="290.3" cy="308.6" r="2.25" fill="#f8c097"/><circle cx="216.2" cy="363.2" r="2.25" fill="#cd5821"/><circle cx="205.9" cy="371" r="2.25" fill="#c64d18"/><circle cx="263.8" cy="328.3" r="2.25" fill="#f4a26c"/><circle cx="224.6" cy="360.6" r="2.25" fill="#d5662e"/><circle cx="210.5" cy="369.3" r="2.25" fill="#c8501a"/><circle cx="274.3" cy="322.8" r="2.25" fill="#f5ab79"/><circle cx="223.7" cy="359.5" r="2.25" fill="#d3622b"/><circle cx="274.3" cy="316.1" r="2.25" fill="#70a1d0"/><circle cx="306.1" cy="300.2" r="2.25" fill="#fbd6b8"/><circle cx="256.6" cy="330.3" r="2.25" fill="#f2985d"/><circle cx="272.2" cy="320.4" r="2.25" fill="#72a2d1"/><circle cx="222.8" cy="362.7" r="2.25" fill="#d15f28"/><circle cx="255.7" cy="338.7" r="2.25" fill="#f19559"/><circle cx="194.1" cy="377.1" r="2.25" fill="#bd3d09"/><circle cx="241.1" cy="343.1" r="2.25" fill="#e47e45"/><circle cx="292.2" cy="307.3" r="2.25" fill="#f9c8a2"/><circle cx="283.6" cy="315.9" r="2.25" fill="#f7b88b"/><circle cx="265.7" cy="322.5" r="2.25" fill="#f4a16a"/><circle cx="305.1" cy="297.4" r="2.25" fill="#fbd9bb"/><circle cx="253.6" cy="329.9" r="2.25" fill="#91badf"/><circle cx="249.5" cy="340.1" r="2.25" fill="#e78349"/><circle cx="307.8" cy="295.7" r="2.25" fill="#2e6db2"/><circle cx="226.3" cy="354.7" r="2.25" fill="#d76830"/><circle cx="275.2" cy="317.2" r="2.25" fill="#6e9fcf"/><circle cx="263.3" cy="324.5" r="2.25" fill="#86b2da"/><circle cx="300.1" cy="301.5" r="2.25" fill="#407cba"/><circle cx="287.3" cy="306.9" r="2.25" fill="#588ec5"/><circle cx="265.7" cy="321" r="2.25" fill="#7facd6"/><circle cx="276.3" cy="315" r="2.25" fill="#679acc"/><circle cx="254.9" cy="329.1" r="2.25" fill="#93bce0"/><circle cx="311.3" cy="294.9" r="2.25" fill="#2a6ab0"/><circle cx="281.4" cy="310.1" r="2.25" fill="#5f94c8"/><circle cx="270" cy="322.4" r="2.25" fill="#79a8d4"/><circle cx="309.4" cy="296.8" r="2.25" fill="#2f6fb2"/></g>
<circle cx="315" cy="293.2" r="6.6" fill="#9a9a9a" stroke="none" stroke-width="1" fill-opacity="0.75"/>
<circle cx="314.5" cy="292.5" r="2.6" fill="#555" stroke="none" stroke-width="1" fill-opacity="0.7"/>
<line x1="313.5" y1="292.3" x2="177.8" y2="287.5" stroke="#000" stroke-width="1.5" />
<polygon points="169.3,287.2 178.9,283.9 178.7,291.1" fill="#000" stroke="none" stroke-width="1" />
<line x1="190" y1="386.5" x2="143.2" y2="386.9" stroke="#000" stroke-width="1.5" />
<polygon points="134.2,387 144.2,382.9 144.2,390.9" fill="#000" stroke="none" stroke-width="1" />
<line x1="194.7" y1="394.6" x2="119.6" y2="455.5" stroke="#000" stroke-width="1.5" />
<polygon points="113,460.9 118.1,452.1 122.6,457.7" fill="#000" stroke="none" stroke-width="1" />
<line x1="195.3" y1="535.3" x2="114.7" y2="590.4" stroke="#000" stroke-width="1.5" />
<polygon points="107.7,595.2 113.5,586.9 117.6,592.8" fill="#000" stroke="none" stroke-width="1" />
<line x1="363.1" y1="371.4" x2="549" y2="322.4" stroke="#000" stroke-width="1.5" />
<polygon points="557.2,320.2 548.9,326.1 547.1,319.1" fill="#000" stroke="none" stroke-width="1" />
<line x1="447.8" y1="380.4" x2="550" y2="444.5" stroke="#000" stroke-width="1.5" />
<polygon points="557.2,449 547.2,447 551.1,440.9" fill="#000" stroke="none" stroke-width="1" />
<line x1="466.9" y1="469.2" x2="535.8" y2="536.2" stroke="#000" stroke-width="1.5" />
<polygon points="541.9,542.1 532.6,538.1 537.6,532.9" fill="#000" stroke="none" stroke-width="1" />
<polygon points="194.7,390.3 195.8,393.1 198.8,393.3 196.4,395.2 197.2,398.1 194.7,396.4 192.2,398.1 193,395.2 190.6,393.3 193.6,393.1" fill="#ea1c1c" stroke="#9a0f0f" stroke-width="0.5" />
<polygon points="194.7,429 195.8,431.8 198.8,432 196.4,433.9 197.2,436.8 194.7,435.1 192.2,436.8 193,433.9 190.6,432 193.6,431.8" fill="#ea1c1c" stroke="#9a0f0f" stroke-width="0.5" />
<polygon points="193.2,460.9 194.3,463.7 197.3,463.9 194.9,465.8 195.7,468.7 193.2,467 190.7,468.7 191.5,465.8 189.1,463.9 192.1,463.7" fill="#ea1c1c" stroke="#9a0f0f" stroke-width="0.5" />
<polygon points="334.7,374.9 335.8,377.7 338.8,377.9 336.4,379.8 337.2,382.7 334.7,381 332.2,382.7 333,379.8 330.6,377.9 333.6,377.7" fill="#ea1c1c" stroke="#9a0f0f" stroke-width="0.5" />
<polygon points="363.1,367.1 364.2,369.9 367.2,370.1 364.8,372 365.6,374.9 363.1,373.2 360.6,374.9 361.4,372 359,370.1 362,369.9" fill="#ea1c1c" stroke="#9a0f0f" stroke-width="0.5" />
<polygon points="447.8,376.1 448.9,378.9 451.9,379.1 449.5,381 450.3,383.9 447.8,382.2 445.3,383.9 446.1,381 443.7,379.1 446.7,378.9" fill="#ea1c1c" stroke="#9a0f0f" stroke-width="0.5" />
<polygon points="433.5,382 434.6,384.8 437.6,385 435.2,386.9 436,389.8 433.5,388.1 431,389.8 431.8,386.9 429.4,385 432.4,384.8" fill="#ea1c1c" stroke="#9a0f0f" stroke-width="0.5" />
<polygon points="422.5,426.9 423.6,429.7 426.6,429.9 424.2,431.8 425,434.7 422.5,433 420,434.7 420.8,431.8 418.4,429.9 421.4,429.7" fill="#e85a5a" stroke="#a84040" stroke-width="0.5" />
<polygon points="403.4,428.8 404.5,431.6 407.5,431.8 405.1,433.7 405.9,436.6 403.4,434.9 400.9,436.6 401.7,433.7 399.3,431.8 402.3,431.6" fill="#e86262" stroke="#a84848" stroke-width="0.5" />
<polygon points="466.9,464.9 468,467.7 471,467.9 468.6,469.8 469.4,472.7 466.9,471 464.4,472.7 465.2,469.8 462.8,467.9 465.8,467.7" fill="#e85a5a" stroke="#a84040" stroke-width="0.5" />
<polygon points="375.2,505.9 376.3,508.7 379.3,508.9 376.9,510.8 377.7,513.7 375.2,512 372.7,513.7 373.5,510.8 371.1,508.9 374.1,508.7" fill="#f0a8a8" stroke="#c89090" stroke-width="0.5" />
<polygon points="246.9,455.6 248,458.4 251,458.6 248.6,460.5 249.4,463.4 246.9,461.7 244.4,463.4 245.2,460.5 242.8,458.6 245.8,458.4" fill="#f2b4b4" stroke="#d0a0a0" stroke-width="0.5" />
<polygon points="244.4,507.7 245.5,510.5 248.5,510.7 246.1,512.6 246.9,515.5 244.4,513.8 241.9,515.5 242.7,512.6 240.3,510.7 243.3,510.5" fill="#e87070" stroke="#b05858" stroke-width="0.5" />
<polygon points="195.3,531 196.4,533.8 199.4,534 197,535.9 197.8,538.8 195.3,537.1 192.8,538.8 193.6,535.9 191.2,534 194.2,533.8" fill="#ee7c7c" stroke="#b86060" stroke-width="0.5" />
<circle cx="193.3" cy="386" r="8.1" fill="#000" stroke="none" stroke-width="1" />
<text x="320.1" y="287.5" font-size="9.7" fill="#111" textLength="19" lengthAdjust="spacingAndGlyphs">7pgt</text>
<text x="135.9" y="380.5" font-size="9.7" fill="#111" textLength="47.2" lengthAdjust="spacingAndGlyphs">7pgr, 7pgu</text>
<text x="193.6" y="406.6" font-size="9.7" fill="#111" textLength="69.1" lengthAdjust="spacingAndGlyphs">AF_2.3, AF_4.4</text>
<text x="352.6" y="362.5" font-size="9.7" fill="#111" textLength="31.8" lengthAdjust="spacingAndGlyphs">AF_2.4</text>
<text x="313.3" y="393.7" font-size="9.7" fill="#111" textLength="32.1" lengthAdjust="spacingAndGlyphs">AF_4.3</text>
<text x="393.7" y="379.9" font-size="9.7" fill="#111" textLength="37.4" lengthAdjust="spacingAndGlyphs">AF_2.18</text>
<text x="449.9" y="371.4" font-size="9.7" fill="#111" textLength="36.9" lengthAdjust="spacingAndGlyphs">AF_4.10</text>
<text x="412.6" y="422.7" font-size="9.7" fill="#111" textLength="32.1" lengthAdjust="spacingAndGlyphs">AF_5.2</text>
<text x="372.4" y="446.8" font-size="9.7" fill="#111" textLength="37.4" lengthAdjust="spacingAndGlyphs">AF_5.13</text>
<text x="452.3" y="483.7" font-size="9.7" fill="#111" textLength="32.8" lengthAdjust="spacingAndGlyphs">AF_1.9</text>
<text x="249.4" y="473" font-size="9.7" fill="#111" textLength="38.2" lengthAdjust="spacingAndGlyphs">AF_1.13</text>
<text x="235" y="528.1" font-size="9.7" fill="#111" textLength="38.4" lengthAdjust="spacingAndGlyphs">AF_3.14</text>
<text x="362.8" y="524.4" font-size="9.7" fill="#111" textLength="32.2" lengthAdjust="spacingAndGlyphs">AF_3.7</text>
<text x="165.1" y="427.1" font-size="9.7" fill="#111" textLength="33.1" lengthAdjust="spacingAndGlyphs">AF_5.5</text>
<text x="172.1" y="478.9" font-size="9.7" fill="#111" textLength="31.9" lengthAdjust="spacingAndGlyphs">AF_1.4</text>
<text x="183.1" y="549.8" font-size="9.7" fill="#111" textLength="31.7" lengthAdjust="spacingAndGlyphs">AF_3.4</text>
<g stroke="#b80a0a" stroke-width="0.62"><use href="#l5" x="150.6" y="285.3"/><use href="#c0b" x="115.6" y="265.7"/><use href="#c16" x="113.2" y="291.2"/><use href="#c14" x="76.3" y="292.9"/><use href="#c16" x="103.2" y="282.7"/><use href="#c18" x="115.2" y="271.4"/><use href="#c02" x="118.8" y="272.5"/><use href="#c03" x="95.5" y="299.5"/><use href="#c03" x="100.8" y="285.7"/><use href="#c05" x="67.7" y="310.8"/><use href="#l2" x="83.6" y="301.7"/><use href="#c04" x="92" y="302.4"/><use href="#c04" x="109.1" y="293.8"/><use href="#c12" x="99.7" y="294.7"/><use href="#l3" x="80" y="306.7"/><use href="#c04" x="110.7" y="287"/><use href="#c04" x="112.5" y="290"/><use href="#c15" x="71.9" y="297"/><use href="#c04" x="88.7" y="289.1"/><use href="#c05" x="126.5" y="285.6"/><use href="#l3" x="77.3" y="304.7"/><use href="#c04" x="68.4" y="296.9"/><use href="#c13" x="105.3" y="295.8"/><use href="#c14" x="115.8" y="273.4"/><use href="#l0" x="115.2" y="262.5"/></g>
<g stroke="#b80a0a" stroke-width="0.62"><use href="#c05" x="117.7" y="285.7"/><use href="#c05" x="85.7" y="297.8"/><use href="#c14" x="75.9" y="306.1"/><use href="#c14" x="62.3" y="305.4"/><use href="#l2" x="82.6" y="290.8"/><use href="#c05" x="104.9" y="289.1"/><use href="#l3" x="94.7" y="300.3"/><use href="#c14" x="90.4" y="302.2"/><use href="#c02" x="87.8" y="297.1"/><use href="#c14" x="104.3" y="290.8"/><use href="#c00" x="116.2" y="261.7"/><use href="#c14" x="70.9" y="294.3"/><use href="#c18" x="111.8" y="266.3"/><use href="#l4" x="121.1" y="271.9"/><use href="#l4" x="126.3" y="277.3"/><use href="#c05" x="68" y="304.9"/><use href="#c05" x="110.5" y="278.7"/><use href="#l5" x="114.8" y="264.1"/><use href="#l3" x="59.9" y="307.2"/><use href="#c06" x="103.1" y="284.7"/><use href="#l4" x="113.9" y="292.8"/><use href="#c03" x="100.3" y="294.4"/><use href="#l0" x="109.7" y="266.3"/><use href="#c02" x="83.3" y="294.9"/><use href="#l1" x="117.8" y="263.5"/><use href="#c14" x="108.4" y="284.4"/></g>
<g stroke="#1010b0" stroke-width="0.62"><use href="#c16" x="169.1" y="300.9"/><use href="#c08" x="174.6" y="309.8"/><use href="#l1" x="141.7" y="279.2"/><use href="#c03" x="131.2" y="283.6"/><use href="#l5" x="122.7" y="278.1"/><use href="#c17" x="152.2" y="280.7"/><use href="#c16" x="151.5" y="297.8"/><use href="#c08" x="143.7" y="294.5"/><use href="#c14" x="69.7" y="300.9"/><use href="#c04" x="90.3" y="286.5"/><use href="#l1" x="124.3" y="288.4"/><use href="#c18" x="173.2" y="305.6"/><use href="#c17" x="136.4" y="295.6"/><use href="#c11" x="88.3" y="287.2"/><use href="#c07" x="145.4" y="278.1"/><use href="#c05" x="120.1" y="285.2"/><use href="#c16" x="167.3" y="304.9"/><use href="#c06" x="92.9" y="288.9"/><use href="#c06" x="157" y="304.4"/><use href="#l4" x="75.6" y="292"/><use href="#c15" x="141.6" y="279.7"/><use href="#c0a" x="163.9" y="298.1"/><use href="#c19" x="149.1" y="303.6"/><use href="#c13" x="98.5" y="285"/><use href="#l3" x="147.1" y="294.5"/><use href="#c17" x="165.9" y="298.7"/><use href="#l0" x="148.8" y="303.7"/><use href="#c07" x="168.6" y="305.1"/><use href="#c19" x="149" y="297.1"/></g>
<g stroke="#b80a0a" stroke-width="0.62"><use href="#c02" x="78" y="290.6"/><use href="#c03" x="96.9" y="282"/><use href="#l0" x="155.5" y="287.5"/><use href="#c03" x="83" y="298.3"/><use href="#c13" x="85.8" y="286.1"/><use href="#c03" x="100.3" y="297.4"/><use href="#c04" x="94.8" y="283"/><use href="#l3" x="147.8" y="284.7"/><use href="#l4" x="62.2" y="309.2"/><use href="#l2" x="111.4" y="270.8"/><use href="#c17" x="111.3" y="267.3"/><use href="#c16" x="63" y="305.3"/><use href="#c05" x="132.8" y="278.3"/><use href="#c16" x="136.4" y="276.7"/><use href="#c14" x="88.9" y="298"/><use href="#c06" x="65.5" y="306"/><use href="#c03" x="123.8" y="283.2"/><use href="#l3" x="153.7" y="283.8"/><use href="#c06" x="117.3" y="261.1"/><use href="#c06" x="80.8" y="303.6"/><use href="#l2" x="74.9" y="300"/><use href="#l5" x="147.2" y="288"/><use href="#c16" x="103.3" y="285.6"/><use href="#c11" x="73.7" y="309"/><use href="#l1" x="114.1" y="271.9"/><use href="#c14" x="100.3" y="282.3"/></g>
<g stroke="#b80a0a" stroke-width="0.62"><use href="#c06" x="111.5" y="291.7"/><use href="#c14" x="70.1" y="296.8"/><use href="#c02" x="89.4" y="286.4"/><use href="#c05" x="121" y="265.9"/><use href="#l0" x="66.4" y="297.1"/><use href="#c17" x="129.8" y="284.2"/><use href="#c14" x="98.3" y="293.3"/><use href="#l2" x="60.2" y="302.2"/><use href="#c11" x="112.9" y="261.8"/><use href="#l1" x="112.7" y="266.1"/><use href="#l4" x="122.6" y="265.9"/><use href="#c15" x="81" y="295.8"/><use href="#c14" x="76" y="303.8"/><use href="#c12" x="119" y="288.2"/><use href="#c04" x="106.9" y="283.3"/><use href="#l3" x="91" y="291.2"/><use href="#l1" x="118.4" y="273.3"/><use href="#c04" x="107.1" y="285.1"/><use href="#c16" x="106.3" y="290.8"/><use href="#l5" x="113.6" y="262.8"/><use href="#c07" x="128.4" y="285.8"/><use href="#c14" x="75" y="299.5"/><use href="#l3" x="100.1" y="281.9"/><use href="#l0" x="87.5" y="297.2"/><use href="#c03" x="113.5" y="290.5"/></g>
<g stroke="#b80a0a" stroke-width="0.62"><use href="#c03" x="86.8" y="300.3"/><use href="#c07" x="109.9" y="293.6"/><use href="#c14" x="74.4" y="299"/><use href="#c04" x="68.2" y="296.3"/><use href="#l3" x="115.2" y="270.7"/><use href="#c1b" x="109.6" y="268"/><use href="#l1" x="76.3" y="302.4"/><use href="#l4" x="59.6" y="303.1"/><use href="#c07" x="122.5" y="275.8"/><use href="#c04" x="75.7" y="304.2"/><use href="#c14" x="100.3" y="295.4"/><use href="#l4" x="123.6" y="268.4"/><use href="#c04" x="69.1" y="304.9"/><use href="#c15" x="148.2" y="281.2"/><use href="#c03" x="62" y="299.8"/><use href="#c16" x="105.2" y="284.2"/><use href="#c16" x="135.5" y="287"/><use href="#c03" x="86.1" y="304.6"/><use href="#c07" x="125.7" y="282"/><use href="#c06" x="80.6" y="301"/><use href="#c16" x="100.1" y="298.5"/><use href="#c16" x="75.9" y="292.8"/><use href="#c15" x="75.5" y="291.4"/><use href="#l5" x="123.4" y="266.5"/><use href="#c13" x="80.7" y="296.3"/><use href="#c0b" x="115.5" y="271.3"/></g>
<g stroke="#b80a0a" stroke-width="0.62"><use href="#l1" x="116.3" y="266.2"/><use href="#c17" x="153.9" y="285.5"/><use href="#c13" x="110" y="267.2"/><use href="#c03" x="107.1" y="291.8"/><use href="#c13" x="71" y="298.4"/><use href="#l3" x="93.2" y="292.9"/><use href="#l0" x="111.5" y="264.7"/><use href="#c06" x="90.8" y="286.7"/><use href="#l3" x="99.3" y="280.3"/><use href="#l5" x="150.1" y="282.6"/><use href="#c15" x="78.1" y="307.7"/><use href="#c15" x="86.9" y="300.5"/><use href="#l2" x="109.4" y="266.8"/><use href="#l5" x="120.3" y="264.2"/><use href="#l4" x="123.1" y="266"/><use href="#c05" x="108.8" y="280.5"/><use href="#c15" x="70.6" y="301.2"/><use href="#c06" x="70.9" y="308.8"/><use href="#l2" x="77.5" y="295.8"/><use href="#c16" x="126.2" y="278.6"/><use href="#l3" x="116.9" y="266"/><use href="#l0" x="109.6" y="263.5"/><use href="#c14" x="105.3" y="286.7"/><use href="#c16" x="105.2" y="282.3"/><use href="#c14" x="66.5" y="301"/><use href="#c00" x="121" y="270"/></g>
<g stroke="#1010b0" stroke-width="0.62"><use href="#c19" x="154.9" y="305.8"/><use href="#c04" x="118.1" y="275.1"/><use href="#c08" x="148" y="297.5"/><use href="#c15" x="89.5" y="284.5"/><use href="#l5" x="150.6" y="297.3"/><use href="#l3" x="164.3" y="297.8"/><use href="#l2" x="154.5" y="304.8"/><use href="#c14" x="146.5" y="287.6"/><use href="#l1" x="92.6" y="279.5"/><use href="#c07" x="153.5" y="300.3"/><use href="#c05" x="123.7" y="288"/><use href="#c17" x="162.8" y="298.3"/><use href="#c15" x="111.6" y="277.7"/><use href="#c09" x="157.5" y="306.8"/><use href="#c15" x="135.1" y="282.4"/><use href="#c08" x="159.1" y="301.9"/><use href="#c15" x="146.5" y="295.3"/><use href="#c08" x="107.7" y="285.4"/><use href="#c15" x="120.2" y="278.8"/><use href="#c1a" x="146.4" y="302.4"/><use href="#c13" x="83.1" y="299.8"/><use href="#c14" x="152.8" y="304.7"/><use href="#l4" x="142.6" y="301.7"/><use href="#l2" x="166.1" y="304.4"/><use href="#c17" x="174" y="307.3"/><use href="#c06" x="101.6" y="280.2"/><use href="#c09" x="168.7" y="300.8"/><use href="#c0a" x="173.1" y="309.2"/><use href="#c05" x="104.8" y="285.4"/><use href="#l2" x="155.5" y="298.6"/></g>
<g stroke="#1010b0" stroke-width="0.62"><use href="#c16" x="154.3" y="286.9"/><use href="#c05" x="121.8" y="279.5"/><use href="#c14" x="113.5" y="289.8"/><use href="#c17" x="175.3" y="310.1"/><use href="#c19" x="159.1" y="304.6"/><use href="#c16" x="94.7" y="278.9"/><use href="#l5" x="103" y="290.4"/><use href="#c04" x="66.1" y="311.5"/><use href="#c19" x="177.8" y="303.5"/><use href="#c06" x="115.8" y="286.6"/><use href="#c05" x="93.3" y="282.1"/><use href="#c18" x="137.3" y="294.1"/><use href="#c07" x="160.1" y="298"/><use href="#c17" x="161.7" y="303.5"/><use href="#c07" x="146.8" y="302.7"/><use href="#c05" x="179.2" y="303.8"/><use href="#c17" x="132.4" y="292.3"/><use href="#c02" x="102.7" y="284.7"/><use href="#c13" x="99" y="293.7"/><use href="#c07" x="122" y="275.8"/><use href="#c15" x="93.7" y="281.7"/><use href="#c18" x="152.5" y="304.1"/><use href="#c07" x="119.2" y="288.5"/><use href="#c13" x="95.2" y="284.1"/><use href="#c05" x="120.1" y="290"/><use href="#c05" x="103.3" y="284.8"/><use href="#l5" x="137.9" y="277.1"/><use href="#c17" x="150.9" y="295.1"/><use href="#c07" x="177.5" y="304.2"/></g>
<g stroke="#1010b0" stroke-width="0.62"><use href="#c04" x="146" y="287.8"/><use href="#c05" x="100.9" y="284.3"/><use href="#l4" x="137.2" y="297.3"/><use href="#c15" x="131.9" y="279.4"/><use href="#c18" x="173.6" y="304.7"/><use href="#c15" x="160" y="304.7"/><use href="#c17" x="133.6" y="290.7"/><use href="#c13" x="111.1" y="283.5"/><use href="#c19" x="167.4" y="306.6"/><use href="#c15" x="95.9" y="285.1"/><use href="#c0a" x="174.2" y="309.7"/><use href="#c04" x="96.4" y="298"/><use href="#l1" x="99.9" y="281.1"/><use href="#c09" x="153.8" y="298.8"/><use href="#c13" x="96.4" y="279.3"/><use href="#c18" x="89.9" y="286.6"/><use href="#c14" x="146.2" y="283.5"/><use href="#l4" x="149.8" y="303.6"/><use href="#c15" x="115" y="283.6"/><use href="#c0a" x="138.7" y="293.7"/><use href="#c03" x="94" y="284"/><use href="#c06" x="106.4" y="278.4"/><use href="#l2" x="133.5" y="282.5"/><use href="#c06" x="152.2" y="302.3"/><use href="#c17" x="133.6" y="290.8"/><use href="#c16" x="141.1" y="293.6"/><use href="#c0a" x="147.1" y="294"/><use href="#c1a" x="143.7" y="298.3"/><use href="#c16" x="110.5" y="287.7"/></g>
<g stroke="#b80a0a" stroke-width="0.62"><use href="#c02" x="86.3" y="302.1"/><use href="#l2" x="109.4" y="265.7"/><use href="#l4" x="74.4" y="303.6"/><use href="#c08" x="115.2" y="264.3"/><use href="#c04" x="62.2" y="311.3"/><use href="#c13" x="122.3" y="263.5"/><use href="#c13" x="88.6" y="287.6"/><use href="#c14" x="63.4" y="310.9"/><use href="#l5" x="83.8" y="299.1"/><use href="#c14" x="146.1" y="287.1"/><use href="#l0" x="115.5" y="286.6"/><use href="#c17" x="123.4" y="266.1"/><use href="#c14" x="116.1" y="284.5"/><use href="#l1" x="112.9" y="261.1"/><use href="#c1b" x="109" y="269.4"/><use href="#l4" x="80.5" y="297.3"/><use href="#l2" x="102.3" y="282"/><use href="#l0" x="107.5" y="294.3"/><use href="#l1" x="118.6" y="272.2"/><use href="#c05" x="129.8" y="281.7"/><use href="#c07" x="120" y="262.1"/><use href="#c14" x="91.9" y="297.2"/><use href="#c08" x="112.9" y="262.8"/><use href="#c04" x="83" y="305.3"/><use href="#c08" x="119" y="288.2"/><use href="#c03" x="99.3" y="290.7"/></g>
<g stroke="#b80a0a" stroke-width="0.62"><use href="#c07" x="135.2" y="281"/><use href="#l4" x="111.7" y="262.5"/><use href="#l3" x="123.8" y="276.3"/><use href="#l3" x="119.3" y="267"/><use href="#c15" x="125.8" y="285.9"/><use href="#c04" x="98.6" y="294.1"/><use href="#c14" x="131.7" y="275.7"/><use href="#c03" x="90.5" y="302.3"/><use href="#c16" x="140.6" y="277.3"/><use href="#c14" x="81.1" y="296.3"/><use href="#c07" x="111.1" y="292.4"/><use href="#c17" x="112.7" y="268.8"/><use href="#c19" x="123.3" y="267.6"/><use href="#c13" x="107.2" y="291.5"/><use href="#c14" x="71.2" y="309"/><use href="#c14" x="143" y="280.1"/><use href="#c05" x="105.7" y="286.1"/><use href="#c0b" x="123.4" y="267.9"/><use href="#c05" x="116.8" y="280.7"/><use href="#l1" x="136.9" y="280.1"/><use href="#c03" x="95.2" y="293.3"/><use href="#c16" x="70.1" y="300.2"/><use href="#c04" x="107.7" y="283.6"/><use href="#l4" x="72.6" y="301.6"/><use href="#c16" x="117.7" y="280.2"/><use href="#c05" x="117.4" y="282.1"/></g>
<g stroke="#b80a0a" stroke-width="0.62"><use href="#c17" x="135.8" y="283.9"/><use href="#c13" x="141.5" y="284.4"/><use href="#c16" x="111.3" y="286.2"/><use href="#c15" x="143" y="278.4"/><use href="#c03" x="155" y="284.9"/><use href="#c15" x="124.3" y="283.8"/><use href="#l1" x="116.2" y="277.4"/><use href="#l0" x="116.6" y="268.1"/><use href="#c15" x="117.1" y="279.3"/><use href="#c19" x="117.7" y="264.6"/><use href="#c03" x="130.8" y="280"/><use href="#l3" x="100.6" y="281.8"/><use href="#c14" x="109.9" y="292.6"/><use href="#c15" x="62.9" y="311.8"/><use href="#c06" x="103.6" y="281.7"/><use href="#c06" x="125.9" y="277.5"/><use href="#l1" x="115.8" y="265.3"/><use href="#c15" x="106.4" y="288.6"/><use href="#c04" x="75.5" y="292.9"/><use href="#c09" x="133.9" y="290.2"/><use href="#c16" x="121.4" y="279.2"/><use href="#c15" x="144.8" y="286.8"/><use href="#c05" x="63.2" y="300.1"/><use href="#c17" x="112" y="265"/><use href="#c16" x="78.6" y="306"/><use href="#c15" x="120.4" y="289.3"/></g>
<g stroke="#b80a0a" stroke-width="0.62"><use href="#c05" x="107.7" y="280"/><use href="#c05" x="60.2" y="312.6"/><use href="#c13" x="112.9" y="289.5"/><use href="#c03" x="87.9" y="286.1"/><use href="#l2" x="79.9" y="302.4"/><use href="#c05" x="106.7" y="286.4"/><use href="#c04" x="76.9" y="304.6"/><use href="#c15" x="123.2" y="278.4"/><use href="#c05" x="122.8" y="264"/><use href="#c13" x="105.8" y="294.3"/><use href="#c15" x="67.3" y="300.6"/><use href="#c04" x="98.2" y="290"/><use href="#l1" x="63.8" y="300.3"/><use href="#c12" x="99.3" y="282.9"/><use href="#c0b" x="152.7" y="303.5"/><use href="#c03" x="101.7" y="285.9"/><use href="#c16" x="86.6" y="299.4"/><use href="#c14" x="111.7" y="293.5"/><use href="#c05" x="74.2" y="299.8"/><use href="#l4" x="111.4" y="281.5"/><use href="#c14" x="116" y="290.1"/><use href="#c03" x="81.7" y="302.3"/><use href="#l1" x="77.6" y="295.9"/><use href="#c04" x="143.1" y="282.2"/><use href="#c06" x="140.6" y="281.5"/><use href="#c15" x="80.9" y="292.4"/></g>
<text x="111.8" y="324.6" font-size="8.4" text-anchor="middle" font-weight="normal" fill="#111" >7pgt (active/open state)</text>
<g stroke="#1010b0" stroke-width="0.62"><use href="#c04" x="35.7" y="379.7"/><use href="#l4" x="76.9" y="360.8"/><use href="#l5" x="116.1" y="393.4"/><use href="#c15" x="84.8" y="368"/><use href="#c17" x="87.9" y="386.5"/><use href="#c17" x="118.9" y="391.3"/><use href="#c08" x="121.1" y="401.5"/><use href="#c05" x="21.1" y="379.7"/><use href="#c0a" x="109.7" y="388.3"/><use href="#c19" x="97.5" y="391.4"/><use href="#c05" x="82.4" y="382.2"/><use href="#c15" x="99.2" y="373"/><use href="#c18" x="92.1" y="382.6"/><use href="#l3" x="127.9" y="396"/><use href="#c06" x="15.1" y="385.8"/><use href="#c07" x="122.1" y="396.5"/><use href="#c18" x="116.3" y="399.3"/><use href="#l0" x="98" y="374.1"/><use href="#c17" x="43.7" y="366.4"/><use href="#c17" x="110.8" y="397.5"/><use href="#c00" x="37" y="365.5"/><use href="#c18" x="62.3" y="382.2"/><use href="#c06" x="78.2" y="383.2"/><use href="#l0" x="84.3" y="390.1"/><use href="#c07" x="58.3" y="373.1"/><use href="#c05" x="94" y="369.5"/></g>
<g stroke="#b80a0a" stroke-width="0.62"><use href="#c06" x="39.5" y="368.2"/><use href="#c06" x="47.1" y="387.5"/><use href="#c14" x="26.3" y="382.1"/><use href="#c13" x="32.5" y="378.8"/><use href="#c16" x="16.2" y="393.5"/><use href="#c17" x="94.8" y="382.8"/><use href="#l3" x="97.3" y="381.5"/><use href="#c08" x="73.5" y="377.5"/><use href="#c13" x="69.9" y="378.7"/><use href="#c08" x="97.4" y="377.6"/><use href="#c14" x="20.1" y="379.1"/><use href="#l1" x="87.7" y="380.1"/><use href="#c07" x="80.6" y="365.9"/><use href="#c14" x="36.1" y="378.8"/><use href="#l5" x="49.5" y="380.8"/><use href="#c16" x="77.1" y="379.7"/><use href="#c05" x="75.5" y="367.5"/><use href="#c15" x="14.5" y="396.2"/><use href="#c18" x="34.8" y="380.1"/><use href="#l5" x="42.5" y="383"/><use href="#c17" x="100.7" y="377.3"/><use href="#c17" x="114.5" y="389.1"/><use href="#c04" x="26.4" y="395.9"/><use href="#l5" x="91.4" y="369.4"/><use href="#c04" x="29.9" y="387.7"/><use href="#c18" x="12.7" y="394.8"/></g>
<g stroke="#b80a0a" stroke-width="0.62"><use href="#c04" x="25" y="396"/><use href="#c07" x="34.8" y="370.1"/><use href="#c05" x="37.2" y="376.8"/><use href="#l5" x="43.3" y="390.6"/><use href="#c17" x="48" y="374.4"/><use href="#c16" x="30.5" y="398"/><use href="#c13" x="23.8" y="391.6"/><use href="#c06" x="43.2" y="373.9"/><use href="#c16" x="44.7" y="376.4"/><use href="#c16" x="27.1" y="402.1"/><use href="#c06" x="28.6" y="390.1"/><use href="#l0" x="80.2" y="372.8"/><use href="#c04" x="29.2" y="374.3"/><use href="#c07" x="82.3" y="369.2"/><use href="#c07" x="40.6" y="379.9"/><use href="#c17" x="103.3" y="391.6"/><use href="#c18" x="65.2" y="379.8"/><use href="#c18" x="37.7" y="373.1"/><use href="#l4" x="17" y="383.2"/><use href="#c16" x="16.4" y="392.2"/><use href="#c07" x="61.4" y="378.4"/><use href="#c06" x="29.2" y="381.4"/><use href="#c04" x="22.8" y="394.5"/><use href="#c04" x="19.4" y="388"/><use href="#c08" x="75.3" y="380.2"/><use href="#c18" x="112.9" y="386.6"/></g>
<g stroke="#1010b0" stroke-width="0.62"><use href="#c12" x="42.9" y="367.9"/><use href="#c04" x="94.4" y="372.9"/><use href="#c05" x="92.6" y="385"/><use href="#c18" x="103" y="378.8"/><use href="#c18" x="121.2" y="409.3"/><use href="#c08" x="32.9" y="376.2"/><use href="#c05" x="98.7" y="377.7"/><use href="#c09" x="96.2" y="385.9"/><use href="#l4" x="59.1" y="377.3"/><use href="#c1b" x="119.9" y="389.2"/><use href="#c17" x="100.6" y="379.6"/><use href="#c07" x="84.6" y="371.8"/><use href="#c0a" x="98.7" y="388.5"/><use href="#c08" x="120.7" y="406.1"/><use href="#l1" x="90.4" y="392.3"/><use href="#c01" x="99.3" y="364.6"/><use href="#c15" x="83.8" y="364.5"/><use href="#c02" x="98.7" y="364.8"/><use href="#c18" x="117" y="398.1"/><use href="#c08" x="97.1" y="388.7"/><use href="#c1a" x="113.8" y="397"/><use href="#l2" x="85.4" y="386.1"/><use href="#l2" x="41.5" y="365.1"/><use href="#c17" x="83.4" y="381.5"/><use href="#c19" x="109.4" y="390.2"/></g>
<g stroke="#b80a0a" stroke-width="0.62"><use href="#c12" x="34.3" y="387.3"/><use href="#c15" x="11.5" y="398.6"/><use href="#c18" x="60" y="371.4"/><use href="#c15" x="21.4" y="399.6"/><use href="#c06" x="46.7" y="388.5"/><use href="#c05" x="20.6" y="386"/><use href="#l2" x="42.5" y="369"/><use href="#c06" x="9" y="399.9"/><use href="#l0" x="97" y="385"/><use href="#c11" x="41.3" y="364.5"/><use href="#c17" x="92.2" y="376.8"/><use href="#l0" x="13.5" y="399.7"/><use href="#l3" x="46.5" y="370"/><use href="#c18" x="86.4" y="368.5"/><use href="#l3" x="62.7" y="382.1"/><use href="#c05" x="12.2" y="398.1"/><use href="#c17" x="96.3" y="390.9"/><use href="#l0" x="39.3" y="387.4"/><use href="#c08" x="77.7" y="378.9"/><use href="#c06" x="40.7" y="399.2"/><use href="#c06" x="82.8" y="377.8"/><use href="#c07" x="32.2" y="380.1"/><use href="#c18" x="83" y="384.4"/><use href="#c06" x="43.1" y="379"/><use href="#c18" x="34.2" y="379.9"/><use href="#c14" x="22.7" y="398.4"/><use href="#l2" x="47.9" y="393.6"/></g>
<g stroke="#b80a0a" stroke-width="0.62"><use href="#c15" x="20.9" y="376.8"/><use href="#c06" x="54.4" y="381.8"/><use href="#c19" x="98.1" y="365.8"/><use href="#c16" x="74.4" y="378"/><use href="#c14" x="26.1" y="386.7"/><use href="#c06" x="27.4" y="400.6"/><use href="#c06" x="13.6" y="385.3"/><use href="#c17" x="60.6" y="378.1"/><use href="#c15" x="27.7" y="389.8"/><use href="#c05" x="27.2" y="387.6"/><use href="#l0" x="35.3" y="378.1"/><use href="#c04" x="25.8" y="380.6"/><use href="#c14" x="20" y="401.7"/><use href="#c17" x="88.1" y="377.1"/><use href="#c15" x="12.3" y="399.9"/><use href="#c08" x="52.2" y="383.4"/><use href="#l1" x="23.1" y="383.3"/><use href="#c17" x="57.1" y="369.6"/><use href="#c16" x="36.9" y="375.7"/><use href="#c16" x="94.6" y="384.7"/><use href="#c16" x="80.6" y="364.2"/><use href="#c07" x="68.1" y="373.6"/><use href="#c06" x="24.8" y="387.2"/><use href="#c15" x="7.6" y="396.8"/><use href="#l3" x="46.1" y="381.5"/><use href="#c15" x="32.6" y="392.1"/><use href="#c09" x="122.2" y="392.8"/></g>
<g stroke="#b80a0a" stroke-width="0.62"><use href="#l0" x="48.5" y="380.3"/><use href="#c18" x="51" y="373.1"/><use href="#c04" x="44" y="392.5"/><use href="#c18" x="83.5" y="381.2"/><use href="#c08" x="34.3" y="373"/><use href="#c07" x="36.2" y="366.1"/><use href="#c17" x="92.3" y="377.7"/><use href="#c17" x="102.2" y="370.2"/><use href="#c03" x="37" y="391.1"/><use href="#c15" x="26.5" y="377"/><use href="#c04" x="36.9" y="378.5"/><use href="#l2" x="92.4" y="385.3"/><use href="#c14" x="21.1" y="388.1"/><use href="#l0" x="52.9" y="376.4"/><use href="#l1" x="65.5" y="370.4"/><use href="#c07" x="31.2" y="392"/><use href="#c06" x="24.7" y="392.8"/><use href="#c14" x="65.8" y="373.1"/><use href="#c16" x="71.1" y="375.9"/><use href="#c12" x="28.2" y="381.8"/><use href="#c16" x="57.6" y="368.5"/><use href="#c17" x="51.3" y="381.4"/><use href="#c17" x="79.1" y="372.7"/><use href="#c06" x="83.6" y="366.6"/><use href="#l1" x="31.3" y="372.3"/><use href="#l1" x="21.1" y="399"/></g>
<g stroke="#1010b0" stroke-width="0.62"><use href="#l2" x="86.1" y="369.8"/><use href="#c07" x="80.1" y="386.4"/><use href="#c06" x="98.6" y="377.2"/><use href="#c17" x="102.9" y="390.4"/><use href="#c18" x="104.9" y="390.2"/><use href="#c0a" x="110.4" y="395.1"/><use href="#c08" x="86.3" y="381.2"/><use href="#l5" x="110.5" y="397.5"/><use href="#l3" x="70.5" y="366.1"/><use href="#c17" x="101.3" y="385.7"/><use href="#c07" x="68.9" y="366.2"/><use href="#c19" x="102.5" y="397.5"/><use href="#c12" x="97.5" y="363.5"/><use href="#l1" x="109.1" y="391.9"/><use href="#c11" x="97.8" y="369.1"/><use href="#l1" x="114.2" y="404.6"/><use href="#c07" x="41.2" y="383.1"/><use href="#c18" x="109.6" y="387.4"/><use href="#l4" x="110.2" y="383"/><use href="#c19" x="110.6" y="384.2"/><use href="#c04" x="77.1" y="364.9"/><use href="#c19" x="113.5" y="387.2"/><use href="#l4" x="91.7" y="367.1"/><use href="#c06" x="40.5" y="367.6"/><use href="#c00" x="89.5" y="364.6"/></g>
<g stroke="#b80a0a" stroke-width="0.62"><use href="#c07" x="91.9" y="383.7"/><use href="#c03" x="35.4" y="386.8"/><use href="#c06" x="96.9" y="374.4"/><use href="#c17" x="48.6" y="372.1"/><use href="#c15" x="27.9" y="372.2"/><use href="#c03" x="47.3" y="391.4"/><use href="#l0" x="14.9" y="393.8"/><use href="#c14" x="17.4" y="397.5"/><use href="#c13" x="45.9" y="388.7"/><use href="#c16" x="62.9" y="377.5"/><use href="#c15" x="69.3" y="365.9"/><use href="#l3" x="65.3" y="371.1"/><use href="#c16" x="84.2" y="379.6"/><use href="#c16" x="90.9" y="374.8"/><use href="#c14" x="13.9" y="386"/><use href="#c16" x="34.2" y="382.4"/><use href="#c17" x="61.9" y="378.5"/><use href="#c07" x="39.2" y="382.9"/><use href="#c06" x="33.9" y="380.2"/><use href="#l3" x="45.2" y="389.8"/><use href="#c06" x="54.3" y="376.3"/><use href="#c18" x="103.8" y="371.4"/><use href="#c07" x="65.2" y="380.1"/><use href="#c15" x="43.5" y="397.2"/><use href="#c06" x="38.3" y="370.6"/><use href="#c15" x="26.8" y="381.1"/><use href="#l5" x="13.8" y="399.2"/></g>
<g stroke="#1010b0" stroke-width="0.62"><use href="#c10" x="86" y="366.6"/><use href="#c1a" x="126.3" y="406.2"/><use href="#c08" x="65" y="371.1"/><use href="#c07" x="109" y="400"/><use href="#c04" x="103" y="370"/><use href="#c04" x="55.2" y="381.5"/><use href="#c04" x="100.4" y="369.9"/><use href="#l5" x="107.8" y="384.7"/><use href="#c06" x="89.4" y="374.7"/><use href="#c14" x="95.3" y="361.9"/><use href="#c08" x="35.6" y="376.8"/><use href="#c0a" x="90.8" y="366.3"/><use href="#c09" x="79.8" y="365"/><use href="#c18" x="128.6" y="402.8"/><use href="#c19" x="105.1" y="386.6"/><use href="#c07" x="107.8" y="392.8"/><use href="#l1" x="85.7" y="387.8"/><use href="#c08" x="102.7" y="382.9"/><use href="#l4" x="88.6" y="377.7"/><use href="#c06" x="41.7" y="380.7"/><use href="#c16" x="99.9" y="369.5"/><use href="#c09" x="100.9" y="395.5"/><use href="#c09" x="112.2" y="402.2"/><use href="#c0a" x="99.1" y="367.1"/><use href="#c08" x="104.3" y="388.3"/><use href="#c17" x="91" y="376.1"/></g>
<g stroke="#1010b0" stroke-width="0.62"><use href="#c08" x="111.6" y="390.8"/><use href="#c02" x="96.1" y="366"/><use href="#c09" x="108" y="390.4"/><use href="#l2" x="118.3" y="407.6"/><use href="#c18" x="95.4" y="393.7"/><use href="#c19" x="121.4" y="396.9"/><use href="#c18" x="119.7" y="407.9"/><use href="#c18" x="98.2" y="383.6"/><use href="#c19" x="123.1" y="398.3"/><use href="#l1" x="79.5" y="386.3"/><use href="#c07" x="75.7" y="361.3"/><use href="#c17" x="111" y="394"/><use href="#c16" x="67" y="380.4"/><use href="#c17" x="92.5" y="372.4"/><use href="#l3" x="122.9" y="396.3"/><use href="#c07" x="28" y="373"/><use href="#c05" x="89.2" y="381.1"/><use href="#c16" x="98.7" y="364.6"/><use href="#l0" x="105.2" y="369"/><use href="#c18" x="113.5" y="404.3"/><use href="#c09" x="119.9" y="403.5"/><use href="#l3" x="97.6" y="378.9"/><use href="#c19" x="102" y="396"/><use href="#c09" x="95.8" y="394.7"/><use href="#c0a" x="82.6" y="385.8"/><use href="#c06" x="106.7" y="382.6"/></g>
<g stroke="#b80a0a" stroke-width="0.62"><use href="#c16" x="26.4" y="372.3"/><use href="#c06" x="89" y="361.7"/><use href="#c06" x="67.6" y="368.6"/><use href="#c17" x="55" y="370.1"/><use href="#c05" x="39.1" y="380"/><use href="#c05" x="37.8" y="386.8"/><use href="#c14" x="48.3" y="379.7"/><use href="#c14" x="12.7" y="389.1"/><use href="#c08" x="84.6" y="377.3"/><use href="#c14" x="13.5" y="393.9"/><use href="#c15" x="41.8" y="381.6"/><use href="#c08" x="63.9" y="373.6"/><use href="#c07" x="73.5" y="370.3"/><use href="#c16" x="44.1" y="383.8"/><use href="#c14" x="50.6" y="374.8"/><use href="#c16" x="68.7" y="374"/><use href="#c15" x="6.1" y="395.8"/><use href="#c16" x="67.9" y="382.5"/><use href="#c05" x="8.2" y="402.7"/><use href="#c15" x="31.2" y="391.9"/><use href="#c03" x="25.7" y="374.2"/><use href="#c15" x="68.8" y="377.2"/><use href="#c04" x="21.4" y="384.1"/><use href="#c16" x="120.7" y="402.2"/><use href="#c17" x="81.1" y="380.8"/><use href="#l4" x="74.9" y="374.4"/></g>
<g stroke="#b80a0a" stroke-width="0.62"><use href="#c15" x="11.4" y="397.8"/><use href="#c16" x="22.9" y="395.5"/><use href="#c17" x="46.6" y="375.2"/><use href="#c16" x="96.1" y="382.9"/><use href="#c17" x="57.3" y="372.3"/><use href="#c17" x="31.1" y="379.9"/><use href="#c14" x="15.6" y="401.2"/><use href="#c07" x="56.9" y="378.2"/><use href="#c05" x="20.9" y="377.9"/><use href="#c15" x="11.6" y="389.4"/><use href="#c13" x="23.9" y="390.3"/><use href="#c05" x="24.4" y="385.6"/><use href="#l2" x="83.3" y="379.8"/><use href="#c15" x="23.5" y="375.4"/><use href="#l1" x="44" y="390.1"/><use href="#c13" x="41.1" y="395.3"/><use href="#l2" x="50.7" y="381.5"/><use href="#c16" x="15.5" y="385.9"/><use href="#c15" x="20.3" y="387"/><use href="#c16" x="65" y="372.5"/><use href="#c03" x="10.1" y="404.3"/><use href="#l5" x="37.6" y="389.2"/><use href="#l3" x="98.3" y="371.2"/><use href="#c07" x="88.9" y="376"/><use href="#l2" x="41.7" y="382.6"/><use href="#c18" x="101.3" y="372.6"/><use href="#c15" x="26.8" y="379.3"/></g>
<g stroke="#b80a0a" stroke-width="0.62"><use href="#c06" x="38.7" y="369.9"/><use href="#l2" x="46.3" y="385.8"/><use href="#c02" x="39.9" y="397.3"/><use href="#c08" x="121.5" y="396"/><use href="#c16" x="28" y="387"/><use href="#c16" x="65.6" y="377.7"/><use href="#c06" x="75.7" y="379.7"/><use href="#c04" x="18" y="379.6"/><use href="#c15" x="20.8" y="391.8"/><use href="#c07" x="48.4" y="378.7"/><use href="#c15" x="41.1" y="369"/><use href="#c17" x="34.1" y="370.1"/><use href="#c14" x="19.6" y="384.2"/><use href="#c05" x="12.3" y="402.3"/><use href="#c17" x="62.2" y="379.9"/><use href="#c17" x="68.6" y="380.7"/><use href="#c16" x="6.8" y="394.1"/><use href="#c08" x="79.7" y="369.9"/><use href="#c18" x="62" y="374.9"/><use href="#c14" x="17.8" y="401"/><use href="#c14" x="12.1" y="396.1"/><use href="#c12" x="82.9" y="365.6"/><use href="#c03" x="14.4" y="391.7"/><use href="#c16" x="124.5" y="394.7"/><use href="#l5" x="44.7" y="384.9"/><use href="#l3" x="18.2" y="396.2"/></g>
<g stroke="#b80a0a" stroke-width="0.62"><use href="#c05" x="70.6" y="370.5"/><use href="#c14" x="15.7" y="401.5"/><use href="#c08" x="104.6" y="384.3"/><use href="#c07" x="43" y="394"/><use href="#c03" x="28.7" y="386.4"/><use href="#c16" x="48.6" y="383.1"/><use href="#l5" x="41.4" y="391.8"/><use href="#c16" x="50.5" y="383.3"/><use href="#c17" x="83.6" y="370.1"/><use href="#c06" x="92.5" y="375"/><use href="#c14" x="44.3" y="395.2"/><use href="#l5" x="24.3" y="398"/><use href="#c12" x="28.8" y="388.7"/><use href="#l0" x="99.2" y="369.8"/><use href="#c04" x="19.7" y="390.5"/><use href="#c18" x="36.5" y="372.2"/><use href="#c05" x="16.2" y="400"/><use href="#c16" x="31.1" y="378"/><use href="#l3" x="9.4" y="402.9"/><use href="#c13" x="9.6" y="404.2"/><use href="#c17" x="89" y="373"/><use href="#c17" x="23.4" y="376.3"/><use href="#c07" x="66.4" y="367.2"/><use href="#c07" x="39.5" y="379.6"/><use href="#c14" x="35.4" y="375.1"/><use href="#c05" x="49.8" y="373"/><use href="#c16" x="85.5" y="377.1"/></g>
<g stroke="#1010b0" stroke-width="0.62"><use href="#l1" x="86.5" y="382.1"/><use href="#c19" x="78.4" y="363.2"/><use href="#c1b" x="54.2" y="364.9"/><use href="#c07" x="113.6" y="388.5"/><use href="#c17" x="33.1" y="388.1"/><use href="#c1a" x="112.1" y="398.1"/><use href="#c07" x="124.6" y="408"/><use href="#c10" x="94.9" y="364.5"/><use href="#l4" x="125.7" y="398.3"/><use href="#l2" x="76.2" y="372.4"/><use href="#c06" x="92.1" y="378.3"/><use href="#c06" x="99.3" y="393"/><use href="#c00" x="81.2" y="362.1"/><use href="#c0a" x="122.3" y="401.6"/><use href="#c19" x="120.7" y="404.8"/><use href="#c04" x="84" y="385.7"/><use href="#c1a" x="105.1" y="385.2"/><use href="#c17" x="44.8" y="366"/><use href="#c18" x="31.2" y="378.4"/><use href="#c09" x="117.5" y="401.3"/><use href="#l3" x="92" y="375.4"/><use href="#c09" x="74.3" y="365.2"/><use href="#c18" x="118.6" y="402.3"/><use href="#c0b" x="107.7" y="393.3"/><use href="#c19" x="84.9" y="391.1"/><use href="#c10" x="40.4" y="364.9"/></g>
<g stroke="#b80a0a" stroke-width="0.62"><use href="#l5" x="71.9" y="373.8"/><use href="#c05" x="14.3" y="384.6"/><use href="#c18" x="60.7" y="372.9"/><use href="#c07" x="26.8" y="393.6"/><use href="#c19" x="94.8" y="394.3"/><use href="#c16" x="72.4" y="368.2"/><use href="#c05" x="26" y="373.9"/><use href="#c07" x="88.4" y="373.4"/><use href="#c18" x="40.9" y="377.1"/><use href="#c04" x="18.5" y="386.4"/><use href="#c05" x="27.6" y="387"/><use href="#l0" x="28" y="387.2"/><use href="#c05" x="21.4" y="389.3"/><use href="#c16" x="44.5" y="384.3"/><use href="#c17" x="42.5" y="376.1"/><use href="#c13" x="28.1" y="391.7"/><use href="#c17" x="31.2" y="375.9"/><use href="#c04" x="43.9" y="389.6"/><use href="#l3" x="120.4" y="399.5"/><use href="#c05" x="56.5" y="371.9"/><use href="#c06" x="48" y="380.7"/><use href="#c08" x="33.9" y="370.1"/><use href="#c04" x="32.5" y="398.3"/><use href="#c03" x="21.5" y="388"/><use href="#c17" x="22.7" y="395.3"/><use href="#c16" x="41.9" y="390.7"/></g>
<text x="65.8" y="420.9" font-size="8.4" text-anchor="middle" font-weight="normal" fill="#111" >7pgr (inactive/closed state)</text>
<path d="M32 470C31.3 468.7 27.5 464 28 462C28.5 460 32.5 458.2 35 458C37.5 457.8 41.5 459.2 43 461C44.5 462.8 43.8 467.7 44 469" stroke="#2626c8" stroke-width="0.6" fill="none"/>
<path d="M58 468C57.8 466.7 56.2 461.8 57 460C57.8 458.2 61.5 456.7 63 457C64.5 457.3 65.8 460.2 66 462C66.2 463.8 64.3 467 64 468" stroke="#2626c8" stroke-width="0.6" fill="none"/>
<path d="M32 478C30 477.7 24 475.8 20 476C16 476.2 10.2 477.3 8 479C5.8 480.7 6 484 7 486C8 488 11.8 489.7 14 491C16.2 492.3 19 493.5 20 494" stroke="#b03030" stroke-width="0.6" fill="none"/>
<path d="M120 474C120.8 472 123.3 464.7 125 462C126.7 459.3 128.7 457.5 130 458C131.3 458.5 133 462 133 465C133 468 131.2 472.8 130 476C128.8 479.2 126.7 482.7 126 484" stroke="#b03030" stroke-width="0.6" fill="none"/>
<path d="M125 478C126 476.7 129 471.5 131 470C133 468.5 135.7 468 137 469C138.3 470 139.7 473.8 139 476C138.3 478.2 134 481 133 482" stroke="#2626c8" stroke-width="0.6" fill="none"/>
<path d="M64 500C64.3 500.8 63.3 504 66 505C68.7 506 74.3 505.7 80 506C85.7 506.3 93 506.5 100 507C107 507.5 115.3 508.8 122 509C128.7 509.2 137 508.2 140 508" stroke="#b03030" stroke-width="0.6" fill="none"/>
<path d="M88 490C88.3 491.7 88.7 497.8 90 500C91.3 502.2 94.3 503.7 96 503C97.7 502.3 99.8 498.2 100 496C100.2 493.8 97.5 491 97 490" stroke="#2626c8" stroke-width="0.6" fill="none"/>
<g stroke="#1010b0" stroke-width="0.62"><use href="#c16" x="90.3" y="486.8"/><use href="#c09" x="113.1" y="498.7"/><use href="#c1a" x="87.2" y="465.5"/><use href="#c19" x="96.5" y="463.5"/><use href="#c18" x="114.7" y="487.9"/><use href="#c17" x="102.2" y="472"/><use href="#l4" x="102.6" y="488.7"/><use href="#c07" x="136.7" y="504.1"/><use href="#c08" x="101.5" y="493.9"/><use href="#c18" x="109.1" y="489"/><use href="#c16" x="85.4" y="468"/><use href="#c06" x="118.4" y="497.8"/><use href="#c18" x="39.8" y="474.9"/><use href="#c15" x="116.2" y="473.8"/><use href="#c16" x="74.3" y="469.7"/><use href="#c10" x="107.2" y="463.5"/><use href="#c06" x="89.5" y="484.8"/><use href="#c09" x="105.7" y="489.5"/><use href="#c17" x="127.1" y="509"/><use href="#c16" x="51.2" y="478.8"/><use href="#c14" x="55.3" y="492.7"/><use href="#l1" x="118.8" y="486.2"/><use href="#l5" x="99.8" y="467.8"/><use href="#l0" x="93.8" y="469.2"/><use href="#c17" x="140.3" y="506.7"/></g>
<g stroke="#1010b0" stroke-width="0.62"><use href="#c17" x="125.6" y="499.4"/><use href="#c17" x="122.7" y="499.3"/><use href="#c17" x="64.8" y="474.6"/><use href="#c18" x="122.5" y="507"/><use href="#l4" x="102.8" y="463.1"/><use href="#c08" x="45.1" y="476.7"/><use href="#l3" x="104.1" y="465.7"/><use href="#c13" x="111.2" y="479.9"/><use href="#c05" x="118.1" y="499.5"/><use href="#c1a" x="85.5" y="462.2"/><use href="#c07" x="123.7" y="491.2"/><use href="#c04" x="99.4" y="472.5"/><use href="#c08" x="126.3" y="498.9"/><use href="#c17" x="107.9" y="482.5"/><use href="#l4" x="107" y="488"/><use href="#l2" x="113.4" y="501.4"/><use href="#c16" x="102.1" y="493.4"/><use href="#c05" x="37.5" y="475.4"/><use href="#c05" x="79.3" y="479.4"/><use href="#l3" x="97.8" y="478.2"/><use href="#c0a" x="113.2" y="497.6"/><use href="#c08" x="99.3" y="489"/><use href="#c04" x="104.3" y="463.8"/><use href="#c15" x="35.4" y="499.6"/><use href="#c07" x="38" y="470.7"/><use href="#l3" x="60.4" y="476.7"/></g>
<g stroke="#b80a0a" stroke-width="0.62"><use href="#c08" x="40.5" y="480"/><use href="#c16" x="37.3" y="502.8"/><use href="#c17" x="63.5" y="476"/><use href="#c06" x="26.5" y="495.1"/><use href="#c18" x="86.9" y="474.4"/><use href="#c19" x="79.4" y="469.4"/><use href="#c03" x="44.5" y="491.8"/><use href="#l5" x="48.3" y="486.6"/><use href="#c04" x="63" y="493.9"/><use href="#c06" x="57" y="473.7"/><use href="#c17" x="59.1" y="486.3"/><use href="#c16" x="91" y="481.9"/><use href="#c05" x="38.5" y="498.4"/><use href="#c15" x="48.2" y="476.4"/><use href="#c16" x="65.2" y="468.8"/><use href="#c18" x="101.3" y="478"/><use href="#c08" x="114.2" y="475.3"/><use href="#l0" x="64.7" y="474.8"/><use href="#c06" x="54.3" y="476.7"/><use href="#c16" x="48.3" y="497.5"/><use href="#c06" x="92.4" y="472.6"/><use href="#c04" x="43.4" y="500.4"/><use href="#c07" x="62.6" y="485.5"/><use href="#c09" x="85.8" y="473.1"/><use href="#c13" x="30.1" y="500.4"/><use href="#c04" x="20.1" y="497.2"/></g>
<g stroke="#1010b0" stroke-width="0.62"><use href="#l1" x="117.1" y="475.9"/><use href="#c09" x="117.1" y="488.2"/><use href="#c08" x="133.1" y="499.5"/><use href="#c17" x="58.4" y="496.3"/><use href="#c17" x="61.9" y="472.4"/><use href="#c17" x="34.2" y="483.5"/><use href="#c17" x="128" y="490.9"/><use href="#l2" x="107.1" y="466.9"/><use href="#c19" x="112.3" y="495.9"/><use href="#c08" x="116.3" y="476.1"/><use href="#l1" x="95.1" y="466.3"/><use href="#c09" x="92.5" y="461.7"/><use href="#c17" x="111.9" y="488.5"/><use href="#l0" x="112" y="471.5"/><use href="#c06" x="53.1" y="469.7"/><use href="#l3" x="111.3" y="489.1"/><use href="#c05" x="94.4" y="485.3"/><use href="#c16" x="39" y="502.1"/><use href="#l2" x="90.5" y="465.7"/><use href="#c17" x="103.1" y="477.1"/><use href="#c16" x="122.5" y="505.4"/><use href="#c18" x="125.3" y="503.2"/><use href="#c17" x="119.6" y="498"/><use href="#l0" x="76.9" y="479.2"/><use href="#l2" x="110.6" y="500.4"/></g>
<g stroke="#b80a0a" stroke-width="0.62"><use href="#c15" x="41.5" y="507.4"/><use href="#l3" x="51.4" y="492.2"/><use href="#c16" x="55.9" y="475.3"/><use href="#c05" x="26.7" y="506.5"/><use href="#c03" x="46.9" y="504.4"/><use href="#l2" x="26.5" y="496.4"/><use href="#c16" x="77.1" y="476"/><use href="#c17" x="136" y="497.3"/><use href="#l1" x="34.6" y="493.7"/><use href="#c16" x="63.5" y="474.9"/><use href="#c16" x="117.9" y="481"/><use href="#c02" x="46.4" y="488.3"/><use href="#l5" x="21.6" y="496.3"/><use href="#c07" x="80.5" y="472.5"/><use href="#c04" x="33.3" y="505.5"/><use href="#c03" x="35.2" y="499.1"/><use href="#l3" x="50.1" y="486"/><use href="#c17" x="85.4" y="481.9"/><use href="#c05" x="61.6" y="494.2"/><use href="#c09" x="102.9" y="486.1"/><use href="#c06" x="89" y="473.2"/><use href="#l2" x="44.7" y="468.1"/><use href="#l1" x="116.4" y="488.2"/><use href="#c07" x="87.4" y="476.5"/><use href="#c06" x="55.4" y="478.5"/></g>
<g stroke="#b80a0a" stroke-width="0.62"><use href="#c15" x="27.9" y="491.1"/><use href="#c15" x="56" y="470.6"/><use href="#c15" x="53.1" y="495.2"/><use href="#c08" x="74.3" y="473.5"/><use href="#c16" x="61" y="495"/><use href="#c08" x="49.3" y="483.7"/><use href="#c16" x="22" y="497"/><use href="#l2" x="20.8" y="499.3"/><use href="#l0" x="46.4" y="490.5"/><use href="#c16" x="36.1" y="507.8"/><use href="#c05" x="72.9" y="469.6"/><use href="#c18" x="66.8" y="474.9"/><use href="#c04" x="60.4" y="484.2"/><use href="#c08" x="61.5" y="470.9"/><use href="#c05" x="44.8" y="496.1"/><use href="#c13" x="34.2" y="503.4"/><use href="#c04" x="22.5" y="497.8"/><use href="#l1" x="112.6" y="478.3"/><use href="#c16" x="64.7" y="466.6"/><use href="#c08" x="108.2" y="475.7"/><use href="#c10" x="96" y="461.9"/><use href="#l4" x="45.7" y="473.2"/><use href="#c16" x="35.4" y="487.2"/><use href="#c04" x="38.4" y="492.3"/><use href="#c06" x="48" y="468.8"/></g>
<g stroke="#b80a0a" stroke-width="0.62"><use href="#l5" x="103.4" y="480.5"/><use href="#c15" x="65" y="487.4"/><use href="#l1" x="61.4" y="488.4"/><use href="#c16" x="52.2" y="480.3"/><use href="#c09" x="61.8" y="470.7"/><use href="#l4" x="72.3" y="475.8"/><use href="#c16" x="99.6" y="483.9"/><use href="#c16" x="43.1" y="490.5"/><use href="#c07" x="107.6" y="473.4"/><use href="#l0" x="43.3" y="477.4"/><use href="#c05" x="40" y="494.3"/><use href="#l5" x="113.6" y="477.8"/><use href="#c06" x="80.6" y="470.4"/><use href="#c06" x="89.7" y="478.1"/><use href="#c06" x="55.3" y="482.8"/><use href="#c16" x="106.6" y="483.8"/><use href="#c04" x="57.1" y="488.6"/><use href="#c15" x="35.2" y="482.6"/><use href="#c05" x="35.8" y="501.6"/><use href="#c17" x="53.6" y="500.9"/><use href="#c17" x="45.5" y="470.1"/><use href="#c05" x="33.8" y="497.7"/><use href="#c14" x="64.5" y="492.1"/><use href="#c16" x="24.1" y="495"/><use href="#c06" x="98.2" y="479.8"/><use href="#c08" x="83.5" y="470.5"/></g>
<g stroke="#b80a0a" stroke-width="0.62"><use href="#c02" x="44.4" y="492.6"/><use href="#c07" x="102.8" y="488.5"/><use href="#c06" x="45.5" y="503.1"/><use href="#c13" x="86.4" y="461.7"/><use href="#l1" x="50" y="496.6"/><use href="#c16" x="36.6" y="479.3"/><use href="#c15" x="90.9" y="474.5"/><use href="#c15" x="48.9" y="482.5"/><use href="#c07" x="39.6" y="470.7"/><use href="#l3" x="48.8" y="480.9"/><use href="#l0" x="56.8" y="475.4"/><use href="#c06" x="134.6" y="502.8"/><use href="#l3" x="39.6" y="478.2"/><use href="#l2" x="77.8" y="480.2"/><use href="#c08" x="115" y="484"/><use href="#c15" x="82.9" y="471.9"/><use href="#c06" x="42" y="471.1"/><use href="#c14" x="29.9" y="489.9"/><use href="#c07" x="99.1" y="481.1"/><use href="#c15" x="54.3" y="470.6"/><use href="#l4" x="49.1" y="503.9"/><use href="#c15" x="54.6" y="494.2"/><use href="#c06" x="101.9" y="478.6"/><use href="#c08" x="98.7" y="478.3"/><use href="#c14" x="27.7" y="495.1"/><use href="#c16" x="85.8" y="471.6"/></g>
<g stroke="#1010b0" stroke-width="0.62"><use href="#c02" x="99.3" y="468.2"/><use href="#c05" x="106.5" y="492.3"/><use href="#c13" x="102.6" y="470.7"/><use href="#c07" x="118.8" y="484.3"/><use href="#c19" x="99.2" y="486.5"/><use href="#c07" x="125.6" y="489.1"/><use href="#c04" x="56.3" y="473.2"/><use href="#c16" x="61.5" y="487.3"/><use href="#c07" x="56.6" y="469.9"/><use href="#c05" x="109.8" y="487.5"/><use href="#c17" x="92.8" y="476.7"/><use href="#c17" x="22" y="494.6"/><use href="#c09" x="123.3" y="496.1"/><use href="#c16" x="58.3" y="474.5"/><use href="#c07" x="97.2" y="465.6"/><use href="#c06" x="47.2" y="489.3"/><use href="#c06" x="87.3" y="474.5"/><use href="#c1a" x="90.3" y="462.9"/><use href="#c03" x="106.3" y="478.4"/><use href="#c18" x="124.4" y="502.7"/><use href="#c17" x="133.7" y="510.4"/><use href="#c12" x="115.9" y="472.3"/><use href="#c08" x="116.5" y="501.5"/><use href="#c10" x="97.4" y="469"/><use href="#l2" x="40.6" y="481.1"/></g>
<g stroke="#b80a0a" stroke-width="0.62"><use href="#c07" x="74.6" y="470.8"/><use href="#c19" x="66" y="466.6"/><use href="#c17" x="64.9" y="467.9"/><use href="#l5" x="121.4" y="491.7"/><use href="#c04" x="49.5" y="491.3"/><use href="#c06" x="57.7" y="498"/><use href="#c15" x="92.8" y="475.8"/><use href="#c08" x="47.4" y="471.8"/><use href="#l4" x="58.2" y="485"/><use href="#c04" x="27.1" y="498.3"/><use href="#c16" x="66.7" y="470.7"/><use href="#c15" x="35" y="501.3"/><use href="#c05" x="60.9" y="494.1"/><use href="#c03" x="23.4" y="498.7"/><use href="#c18" x="103.4" y="483.8"/><use href="#l5" x="43.9" y="473.2"/><use href="#c17" x="74.8" y="480.9"/><use href="#c16" x="81.5" y="478"/><use href="#c16" x="85.1" y="472"/><use href="#c14" x="35.9" y="505"/><use href="#c06" x="24.7" y="491.3"/><use href="#c04" x="49.5" y="499.1"/><use href="#c16" x="23" y="495.2"/><use href="#c05" x="91.5" y="477.6"/><use href="#c05" x="48.2" y="498.6"/></g>
<g stroke="#1010b0" stroke-width="0.62"><use href="#c0a" x="111.2" y="484.5"/><use href="#l0" x="97.5" y="493.8"/><use href="#c07" x="124.7" y="489.5"/><use href="#c09" x="95.5" y="469.1"/><use href="#c17" x="136.5" y="497.5"/><use href="#c08" x="126.7" y="504.5"/><use href="#c0a" x="104" y="490.2"/><use href="#c16" x="105.4" y="483.2"/><use href="#l4" x="102.2" y="494.4"/><use href="#c04" x="106.8" y="469.4"/><use href="#c05" x="103.6" y="468.7"/><use href="#c17" x="102.6" y="486.3"/><use href="#l1" x="102.1" y="467.2"/><use href="#c17" x="134.1" y="500.5"/><use href="#c07" x="44.9" y="479"/><use href="#c09" x="86.4" y="479.4"/><use href="#c17" x="42.6" y="480.1"/><use href="#c19" x="93.7" y="484.7"/><use href="#l2" x="119" y="500.9"/><use href="#c08" x="124.2" y="496"/><use href="#c17" x="107.2" y="492"/><use href="#c17" x="127.2" y="490.5"/><use href="#c06" x="128.6" y="493.7"/><use href="#c00" x="107.8" y="464"/><use href="#c08" x="117.5" y="501.8"/></g>
<g stroke="#b80a0a" stroke-width="0.62"><use href="#c17" x="96.6" y="479.8"/><use href="#c14" x="23.3" y="491.1"/><use href="#c16" x="52.2" y="473.2"/><use href="#c05" x="20.1" y="503.1"/><use href="#c12" x="50.7" y="497.4"/><use href="#c16" x="55.4" y="470.8"/><use href="#c18" x="57.2" y="473.7"/><use href="#c05" x="71.3" y="467.8"/><use href="#c13" x="98.3" y="468.6"/><use href="#c07" x="118.4" y="481.1"/><use href="#c06" x="103.5" y="476.5"/><use href="#c05" x="59.9" y="470.9"/><use href="#c14" x="58.6" y="489"/><use href="#c14" x="63.9" y="489.1"/><use href="#c17" x="91.9" y="479.6"/><use href="#c04" x="95" y="462.5"/><use href="#c18" x="121.7" y="498"/><use href="#c06" x="98.9" y="477.6"/><use href="#c13" x="35" y="492.1"/><use href="#c17" x="87.7" y="475.3"/><use href="#c16" x="78.6" y="473.9"/><use href="#c05" x="42.1" y="495.9"/><use href="#c08" x="94.4" y="472.6"/><use href="#l5" x="45" y="485.1"/><use href="#c15" x="86.5" y="475"/><use href="#c05" x="60.3" y="481.6"/></g>
<g stroke="#b80a0a" stroke-width="0.62"><use href="#c08" x="24.2" y="502.6"/><use href="#l4" x="107" y="472.9"/><use href="#c08" x="74.3" y="472.3"/><use href="#c16" x="30.4" y="507.9"/><use href="#c14" x="30.2" y="507"/><use href="#l1" x="66" y="489.4"/><use href="#c13" x="30.7" y="488.9"/><use href="#c07" x="111.9" y="478.6"/><use href="#c06" x="108.7" y="476.8"/><use href="#c16" x="19.6" y="496.9"/><use href="#c16" x="52" y="493.9"/><use href="#c19" x="78.3" y="468.9"/><use href="#c16" x="17.8" y="494.2"/><use href="#l5" x="99.3" y="471.3"/><use href="#l2" x="57.6" y="479.1"/><use href="#c06" x="38.2" y="489.5"/><use href="#c05" x="64.9" y="477.3"/><use href="#c05" x="95.4" y="476.1"/><use href="#c04" x="56.4" y="492.6"/><use href="#c16" x="41.4" y="480.4"/><use href="#c06" x="103.2" y="485.2"/><use href="#c08" x="103.5" y="485.3"/><use href="#c06" x="48" y="472.3"/><use href="#c08" x="58.8" y="478"/><use href="#c15" x="51.8" y="482.9"/><use href="#c06" x="47.8" y="481.8"/></g>
<g stroke="#1010b0" stroke-width="0.62"><use href="#c1a" x="141.8" y="507.9"/><use href="#c05" x="114" y="485.2"/><use href="#c0a" x="108.8" y="472.9"/><use href="#c04" x="85.8" y="462.3"/><use href="#c07" x="95.8" y="479.4"/><use href="#c05" x="98.8" y="469.9"/><use href="#c18" x="92.6" y="489.8"/><use href="#c16" x="42.4" y="498.1"/><use href="#c08" x="114.2" y="494.8"/><use href="#c19" x="119.9" y="470.1"/><use href="#c17" x="45.8" y="479.6"/><use href="#c14" x="58.1" y="492.7"/><use href="#l0" x="122.6" y="504.4"/><use href="#c14" x="107.9" y="472.5"/><use href="#c07" x="117.1" y="483.9"/><use href="#c17" x="134.6" y="500.8"/><use href="#c13" x="30.2" y="499.3"/><use href="#c19" x="105.8" y="470.6"/><use href="#c06" x="106.8" y="497.8"/><use href="#c09" x="132.1" y="508.3"/><use href="#c17" x="86.2" y="472.2"/><use href="#c19" x="121" y="503.1"/><use href="#c06" x="101" y="462.5"/><use href="#l5" x="132.6" y="495.1"/><use href="#c07" x="114.9" y="500.1"/></g>
<g stroke="#b80a0a" stroke-width="0.62"><use href="#c17" x="86.5" y="470.4"/><use href="#c04" x="39.2" y="488.1"/><use href="#c07" x="39.7" y="484.6"/><use href="#c16" x="48" y="484"/><use href="#l4" x="55.8" y="492.1"/><use href="#c05" x="98.6" y="476.3"/><use href="#c16" x="114" y="484.7"/><use href="#c04" x="41.7" y="481.4"/><use href="#l0" x="27.6" y="505.2"/><use href="#c15" x="44.2" y="505.7"/><use href="#c05" x="34.7" y="497.5"/><use href="#c15" x="60.5" y="484.2"/><use href="#c13" x="48.7" y="504.9"/><use href="#l0" x="92.4" y="479.9"/><use href="#c17" x="111.2" y="485.6"/><use href="#c14" x="39.5" y="492.7"/><use href="#c12" x="42.8" y="501.8"/><use href="#c15" x="69.6" y="468.6"/><use href="#c05" x="37.3" y="491.5"/><use href="#c15" x="93.7" y="477"/><use href="#c14" x="41.1" y="479.4"/><use href="#c16" x="46.6" y="497.3"/><use href="#c15" x="50.6" y="478.6"/><use href="#l2" x="91.3" y="480"/><use href="#c17" x="47.2" y="471"/><use href="#c18" x="31.3" y="507.6"/></g>
<g stroke="#1010b0" stroke-width="0.62"><use href="#c16" x="98.1" y="472"/><use href="#l2" x="116.3" y="486.8"/><use href="#c07" x="60" y="480.9"/><use href="#c04" x="99.2" y="477.3"/><use href="#c18" x="133.1" y="506.2"/><use href="#c08" x="137.8" y="502.5"/><use href="#c08" x="103.5" y="485.5"/><use href="#c17" x="55.4" y="471.5"/><use href="#c09" x="133.9" y="502.6"/><use href="#c05" x="71.8" y="473.1"/><use href="#c08" x="138.5" y="502.6"/><use href="#c05" x="47.3" y="498.1"/><use href="#c09" x="122.3" y="507.5"/><use href="#l3" x="122.5" y="486"/><use href="#c18" x="118.3" y="489"/><use href="#c07" x="82.1" y="481.1"/><use href="#l3" x="101.8" y="494.8"/><use href="#c18" x="106.4" y="485"/><use href="#c19" x="105.1" y="486"/><use href="#c07" x="104.6" y="486"/><use href="#c16" x="102" y="481.6"/><use href="#c15" x="110.1" y="469.4"/><use href="#c06" x="114.8" y="484.8"/><use href="#c06" x="98.4" y="465.3"/><use href="#c1a" x="98.7" y="494.3"/></g>
<g stroke="#b80a0a" stroke-width="0.62"><use href="#c04" x="39" y="505"/><use href="#c16" x="59.6" y="485.5"/><use href="#c15" x="43.2" y="476.6"/><use href="#c04" x="84.8" y="461.5"/><use href="#c08" x="115.6" y="483.4"/><use href="#c07" x="78.8" y="471.2"/><use href="#c16" x="117.5" y="483.9"/><use href="#c14" x="22.4" y="502.3"/><use href="#c13" x="24.7" y="490.3"/><use href="#c17" x="93.3" y="478.6"/><use href="#c16" x="71.9" y="480.3"/><use href="#c08" x="89.2" y="479.5"/><use href="#c07" x="105.7" y="474.3"/><use href="#c16" x="52.8" y="488.1"/><use href="#c19" x="122.4" y="504.2"/><use href="#c06" x="38.3" y="491.5"/><use href="#c13" x="29.8" y="497.1"/><use href="#c05" x="22.8" y="503.3"/><use href="#c04" x="31.1" y="506.4"/><use href="#c0b" x="76.7" y="480.1"/><use href="#c06" x="53.3" y="493.8"/><use href="#c14" x="47.8" y="492.5"/><use href="#c04" x="43.2" y="487.8"/><use href="#c06" x="27.7" y="499.4"/><use href="#c15" x="63" y="471.7"/><use href="#c06" x="38.3" y="497.6"/></g>
<text x="78.9" y="523.1" font-size="8.4" text-anchor="middle" font-weight="normal" fill="#111" >AF_unmasked_model2_p</text>
<text x="78.9" y="532.4" font-size="8.4" text-anchor="middle" font-weight="normal" fill="#111" >red3</text>
<path d="M35 572C35.3 570.7 35.2 565.8 37 564C38.8 562.2 42.8 561.2 46 561C49.2 560.8 54 561.5 56 563C58 564.5 57.7 568.8 58 570" stroke="#2626c8" stroke-width="0.6" fill="none"/>
<path d="M78 598C80 597.8 86.5 597.2 90 597C93.5 596.8 97.5 597 99 597" stroke="#b03030" stroke-width="0.6" fill="none"/>
<path d="M92 598C93.2 598.8 97.7 600.7 99 603C100.3 605.3 100.5 609.8 100 612C99.5 614.2 96.7 615.3 96 616" stroke="#2626c8" stroke-width="0.6" fill="none"/>
<path d="M22 617C20.8 617.8 16.2 619.8 15 622C13.8 624.2 14.2 628.3 15 630C15.8 631.7 18.2 632.7 20 632C21.8 631.3 24.7 628 26 626C27.3 624 27.7 621 28 620" stroke="#b03030" stroke-width="0.6" fill="none"/>
<path d="M36 626C35.8 627 34 630.7 35 632C36 633.3 39.8 634.3 42 634C44.2 633.7 47 630.7 48 630" stroke="#b03030" stroke-width="0.6" fill="none"/>
<path d="M58 613C57.8 614.8 56.3 621.2 57 624C57.7 626.8 59.8 629.2 62 630C64.2 630.8 68.3 630.7 70 629C71.7 627.3 71.7 621.5 72 620" stroke="#b03030" stroke-width="0.6" fill="none"/>
<g stroke="#b80a0a" stroke-width="0.62"><use href="#c13" x="53.7" y="573.3"/><use href="#c18" x="34.4" y="617.2"/><use href="#c15" x="84.6" y="602.7"/><use href="#l5" x="25.9" y="598.1"/><use href="#c16" x="45.1" y="617.6"/><use href="#l0" x="55.8" y="608.9"/><use href="#c0b" x="47.4" y="576.6"/><use href="#c15" x="40.3" y="594"/><use href="#c17" x="41.2" y="588.4"/><use href="#l3" x="63.6" y="590.4"/><use href="#c13" x="46.4" y="584.4"/><use href="#l2" x="40.3" y="576.5"/><use href="#c15" x="22.6" y="612.6"/><use href="#c05" x="17.2" y="593.3"/><use href="#c06" x="37.4" y="575.4"/><use href="#c15" x="18.7" y="607"/><use href="#c06" x="23.1" y="607.3"/><use href="#c15" x="31.1" y="591.6"/><use href="#l0" x="65.2" y="618.9"/><use href="#c0b" x="63" y="570.2"/><use href="#c15" x="32.1" y="593.9"/><use href="#c15" x="40.3" y="595.1"/><use href="#l0" x="34.6" y="596.2"/><use href="#l4" x="44.5" y="620.1"/><use href="#c15" x="46" y="600.9"/><use href="#l2" x="64.6" y="601.4"/><use href="#c10" x="38" y="576"/></g>
<g stroke="#b80a0a" stroke-width="0.62"><use href="#c05" x="72.4" y="586"/><use href="#l0" x="54.9" y="613.5"/><use href="#c14" x="75.2" y="600.6"/><use href="#c17" x="48.3" y="601.8"/><use href="#c06" x="23.7" y="596.5"/><use href="#c15" x="33.4" y="588.4"/><use href="#c15" x="48.7" y="600.7"/><use href="#c08" x="33.1" y="604.7"/><use href="#c16" x="36.1" y="584.3"/><use href="#c15" x="70.3" y="609.6"/><use href="#l3" x="26" y="586.9"/><use href="#c16" x="76.7" y="615.8"/><use href="#c05" x="55.6" y="609.2"/><use href="#c13" x="39.5" y="626.5"/><use href="#c07" x="58.7" y="577.9"/><use href="#c06" x="74.7" y="623.9"/><use href="#c14" x="44.1" y="568.1"/><use href="#c06" x="42.8" y="591.6"/><use href="#c04" x="50.9" y="586.3"/><use href="#c05" x="51.1" y="593.5"/><use href="#c16" x="42.7" y="580.5"/><use href="#c16" x="54.3" y="601.9"/><use href="#c06" x="18" y="595.3"/><use href="#c16" x="31.7" y="585.8"/><use href="#c05" x="36.8" y="626.5"/><use href="#l1" x="48.1" y="622.8"/><use href="#c09" x="75.4" y="575.4"/></g>
<g stroke="#b80a0a" stroke-width="0.62"><use href="#c11" x="36" y="579"/><use href="#c15" x="25.9" y="614.7"/><use href="#l0" x="48.5" y="618.1"/><use href="#c16" x="46.1" y="619.3"/><use href="#l1" x="24.1" y="594.1"/><use href="#c14" x="18.7" y="590.1"/><use href="#c14" x="49.2" y="616.8"/><use href="#c07" x="64.6" y="594.1"/><use href="#l3" x="40.1" y="613.8"/><use href="#l3" x="28" y="582"/><use href="#c15" x="31.3" y="603.7"/><use href="#c18" x="64.8" y="588.2"/><use href="#c00" x="69.5" y="582.2"/><use href="#c04" x="75.2" y="614.2"/><use href="#c16" x="39.1" y="590.9"/><use href="#c17" x="61.2" y="581"/><use href="#c15" x="34.7" y="616.5"/><use href="#c15" x="32.2" y="606.5"/><use href="#c03" x="30.1" y="600.8"/><use href="#c05" x="21.4" y="585"/><use href="#c16" x="52.3" y="572.9"/><use href="#c06" x="75" y="594.8"/><use href="#c15" x="39.3" y="599.5"/><use href="#l2" x="83.5" y="616"/><use href="#c05" x="32.2" y="597.1"/><use href="#c05" x="33.5" y="603"/><use href="#c15" x="30.2" y="604.5"/></g>
<g stroke="#1010b0" stroke-width="0.62"><use href="#c18" x="84.5" y="601.5"/><use href="#c03" x="30.9" y="579.5"/><use href="#l4" x="29.3" y="587.8"/><use href="#c09" x="45.6" y="573.3"/><use href="#c10" x="68.3" y="574.4"/><use href="#l5" x="68.8" y="587.7"/><use href="#c07" x="85.5" y="605.6"/><use href="#l5" x="62.9" y="576"/><use href="#c06" x="21.5" y="583.8"/><use href="#c13" x="55.4" y="583.8"/><use href="#c15" x="36.2" y="582.9"/><use href="#c05" x="65.4" y="620.5"/><use href="#c06" x="72.8" y="599"/><use href="#c13" x="67.4" y="619.5"/><use href="#c07" x="81.4" y="603.5"/><use href="#c17" x="75.7" y="618.3"/><use href="#c03" x="61.1" y="581.3"/><use href="#c09" x="74.7" y="600.4"/><use href="#c15" x="85.3" y="622.7"/><use href="#c15" x="68.4" y="588"/><use href="#c04" x="83.4" y="618.6"/><use href="#c1b" x="64.1" y="566.9"/><use href="#c05" x="81.5" y="612.4"/><use href="#c16" x="64" y="595.8"/><use href="#c15" x="79.6" y="589.1"/><use href="#c11" x="41.7" y="576"/><use href="#l4" x="27.5" y="608.9"/></g>
<g stroke="#1010b0" stroke-width="0.62"><use href="#c06" x="32.4" y="617.9"/><use href="#c15" x="47.8" y="580.4"/><use href="#l2" x="75.1" y="629.8"/><use href="#c17" x="70.2" y="571.2"/><use href="#c04" x="68.8" y="588"/><use href="#c05" x="43.9" y="597.8"/><use href="#c06" x="69.2" y="616.4"/><use href="#c16" x="64.3" y="568.3"/><use href="#l1" x="68" y="603.5"/><use href="#c06" x="77" y="606.9"/><use href="#c08" x="81.6" y="627.8"/><use href="#c16" x="72" y="590.2"/><use href="#c17" x="77.5" y="601.6"/><use href="#c14" x="82.2" y="589.8"/><use href="#c06" x="39.8" y="578"/><use href="#c1a" x="68.3" y="564.4"/><use href="#c11" x="46.9" y="570.9"/><use href="#l1" x="50.3" y="574.4"/><use href="#c05" x="80.9" y="613.5"/><use href="#l3" x="59.1" y="567.2"/><use href="#c1a" x="60.5" y="570.9"/><use href="#c16" x="80.4" y="622.6"/><use href="#c05" x="84.6" y="601.3"/><use href="#c17" x="64.7" y="618.3"/><use href="#c14" x="40.6" y="574"/><use href="#c03" x="64.1" y="571.9"/><use href="#c06" x="32.7" y="619.7"/></g>
<g stroke="#1010b0" stroke-width="0.62"><use href="#c15" x="72" y="606"/><use href="#c1a" x="64.2" y="561"/><use href="#c11" x="35.7" y="571.4"/><use href="#c16" x="71.8" y="625"/><use href="#c05" x="83" y="600.2"/><use href="#c1a" x="52.4" y="572.1"/><use href="#c15" x="79.7" y="623.3"/><use href="#c16" x="65.5" y="608.5"/><use href="#c12" x="64.9" y="586.2"/><use href="#c17" x="66.9" y="601.3"/><use href="#c16" x="71.8" y="604.4"/><use href="#l1" x="80.6" y="597"/><use href="#c15" x="53.5" y="579.9"/><use href="#l1" x="63.9" y="562.4"/><use href="#c06" x="40.9" y="583"/><use href="#c07" x="81.1" y="605.6"/><use href="#c16" x="64.9" y="605.4"/><use href="#l0" x="67.8" y="620.6"/><use href="#c16" x="74.5" y="627"/><use href="#c03" x="75.6" y="630"/><use href="#c1b" x="66.8" y="563.7"/><use href="#c15" x="83.4" y="591.1"/><use href="#l5" x="72.4" y="605.3"/><use href="#c05" x="53.9" y="572.4"/><use href="#c07" x="75.5" y="593.3"/><use href="#c08" x="69.5" y="583.7"/></g>
<g stroke="#b80a0a" stroke-width="0.62"><use href="#c06" x="39.9" y="594.8"/><use href="#c17" x="43.2" y="568.4"/><use href="#c07" x="49.5" y="572.8"/><use href="#c04" x="44.3" y="582.1"/><use href="#l5" x="24.7" y="617.2"/><use href="#c15" x="40.1" y="625.7"/><use href="#l2" x="49.8" y="618"/><use href="#c17" x="39" y="588.7"/><use href="#c16" x="85.7" y="608.5"/><use href="#c04" x="46.6" y="619.6"/><use href="#c14" x="80" y="618.3"/><use href="#l4" x="69.5" y="582.8"/><use href="#c05" x="20.6" y="594.1"/><use href="#c04" x="43.7" y="588.2"/><use href="#c14" x="52.4" y="585.4"/><use href="#c06" x="48.7" y="597.4"/><use href="#c16" x="43.2" y="621.5"/><use href="#c06" x="18.5" y="601.8"/><use href="#c16" x="43.8" y="599.5"/><use href="#c14" x="44.2" y="602"/><use href="#c04" x="62.7" y="575.9"/><use href="#l2" x="64.1" y="583.6"/><use href="#c15" x="33" y="599.2"/><use href="#c1b" x="58.2" y="568.4"/><use href="#c15" x="84.8" y="596"/><use href="#c15" x="21" y="585.7"/><use href="#c18" x="44.8" y="604.3"/></g>
<g stroke="#b80a0a" stroke-width="0.62"><use href="#c17" x="21.4" y="587.6"/><use href="#c15" x="35" y="619"/><use href="#l1" x="19" y="588.3"/><use href="#c04" x="30.5" y="608.5"/><use href="#c17" x="41.9" y="594.5"/><use href="#c0b" x="59.4" y="590"/><use href="#c14" x="31.6" y="621.9"/><use href="#c1b" x="36.1" y="576.2"/><use href="#c16" x="24.6" y="606.7"/><use href="#c05" x="80.9" y="592.3"/><use href="#l4" x="18" y="588.9"/><use href="#c16" x="37" y="571.3"/><use href="#c15" x="47.5" y="622.3"/><use href="#c16" x="36.4" y="582.4"/><use href="#l1" x="68" y="608"/><use href="#l2" x="63.5" y="588.4"/><use href="#c15" x="29.2" y="616.5"/><use href="#c02" x="62.9" y="563.5"/><use href="#c10" x="51.9" y="570.9"/><use href="#c0a" x="47.6" y="582.5"/><use href="#c06" x="46.3" y="614.8"/><use href="#c14" x="28.2" y="616.8"/><use href="#c05" x="23.9" y="601.2"/><use href="#c16" x="42.9" y="618.9"/><use href="#c05" x="22.5" y="591.8"/><use href="#c04" x="36.8" y="616.6"/><use href="#c15" x="51.1" y="609.7"/></g>
<g stroke="#b80a0a" stroke-width="0.62"><use href="#c15" x="22.6" y="585.1"/><use href="#c05" x="27.3" y="584.5"/><use href="#l5" x="28.6" y="593.9"/><use href="#c16" x="54.4" y="603.1"/><use href="#c17" x="23.4" y="596.8"/><use href="#c06" x="42.3" y="609.7"/><use href="#c16" x="73.8" y="589.5"/><use href="#c05" x="41.1" y="605.3"/><use href="#c06" x="46.4" y="611.4"/><use href="#l4" x="34.6" y="610"/><use href="#c05" x="40.8" y="619.7"/><use href="#c15" x="36.6" y="604.6"/><use href="#c16" x="67.2" y="570.2"/><use href="#c05" x="41.5" y="612.5"/><use href="#c13" x="35" y="578.9"/><use href="#c05" x="49.8" y="605.7"/><use href="#c02" x="43.8" y="578"/><use href="#c19" x="67.7" y="583.4"/><use href="#c06" x="81.6" y="626.6"/><use href="#c09" x="44.9" y="577"/><use href="#l2" x="44.9" y="622.2"/><use href="#l5" x="63.7" y="569.8"/><use href="#c04" x="46" y="583.9"/><use href="#c17" x="48.5" y="611.6"/><use href="#c06" x="48.1" y="606.1"/><use href="#c15" x="41.2" y="627.5"/><use href="#c04" x="40.2" y="576.9"/></g>
<g stroke="#b80a0a" stroke-width="0.62"><use href="#l1" x="34.3" y="611.5"/><use href="#c0b" x="55.5" y="567.3"/><use href="#c16" x="22.4" y="609.2"/><use href="#l2" x="43.2" y="572.7"/><use href="#c06" x="42.4" y="610.2"/><use href="#c05" x="41.1" y="618.4"/><use href="#c05" x="36.9" y="596.8"/><use href="#c05" x="73.7" y="587.9"/><use href="#c12" x="65.5" y="579.3"/><use href="#c05" x="41.7" y="597.2"/><use href="#c04" x="53.5" y="594.8"/><use href="#c14" x="26.3" y="581.4"/><use href="#c15" x="83.7" y="616.8"/><use href="#l5" x="68.4" y="572.1"/><use href="#l1" x="70.1" y="585.4"/><use href="#c11" x="35.6" y="572.2"/><use href="#l1" x="35.5" y="604.7"/><use href="#l0" x="31.3" y="620.4"/><use href="#c05" x="67.5" y="579.9"/><use href="#l1" x="68.7" y="591.5"/><use href="#c0b" x="63.8" y="567.8"/><use href="#c05" x="34.6" y="624.8"/><use href="#l3" x="33.1" y="622.1"/><use href="#l2" x="23.8" y="602"/><use href="#c07" x="21" y="610.3"/><use href="#c05" x="46.3" y="593.1"/><use href="#l1" x="33.4" y="623.1"/></g>
<g stroke="#b80a0a" stroke-width="0.62"><use href="#c05" x="51" y="601.9"/><use href="#c06" x="25.9" y="587.6"/><use href="#c07" x="48.1" y="592.7"/><use href="#c07" x="38" y="621.2"/><use href="#c05" x="46.6" y="567.6"/><use href="#c05" x="45.9" y="623.7"/><use href="#c14" x="52.3" y="591.7"/><use href="#c10" x="66.4" y="577.4"/><use href="#c16" x="38.5" y="617.1"/><use href="#c16" x="23.9" y="596.5"/><use href="#c13" x="49.2" y="597.2"/><use href="#c04" x="51.4" y="610.7"/><use href="#c16" x="42.1" y="593"/><use href="#l0" x="75" y="573.6"/><use href="#c1a" x="69.8" y="586.8"/><use href="#c04" x="48.4" y="619"/><use href="#c16" x="28.5" y="622"/><use href="#c14" x="26.6" y="594.6"/><use href="#c17" x="34.9" y="617.2"/><use href="#c16" x="47.1" y="598.1"/><use href="#c16" x="49.3" y="584.6"/><use href="#l5" x="26.9" y="607.2"/><use href="#c05" x="41" y="623.8"/><use href="#c05" x="21.5" y="594.4"/><use href="#c06" x="46.4" y="570"/><use href="#c07" x="44.5" y="603.6"/><use href="#l1" x="19.5" y="602.1"/></g>
<g stroke="#1010b0" stroke-width="0.62"><use href="#c04" x="76.4" y="600.3"/><use href="#c06" x="67" y="579.3"/><use href="#l0" x="53.1" y="583.6"/><use href="#c16" x="80.7" y="627.3"/><use href="#c14" x="62.7" y="587.6"/><use href="#c0a" x="33.5" y="573.7"/><use href="#c06" x="64.7" y="616.9"/><use href="#c16" x="33.8" y="603.7"/><use href="#c00" x="58.9" y="588.7"/><use href="#c0a" x="74.5" y="583.3"/><use href="#c07" x="38.8" y="585.4"/><use href="#c06" x="70" y="623"/><use href="#l1" x="71.2" y="581.6"/><use href="#c14" x="67.7" y="616.5"/><use href="#c05" x="68.3" y="595.8"/><use href="#c17" x="83" y="609.1"/><use href="#c05" x="80.5" y="620.9"/><use href="#c17" x="61.7" y="567.1"/><use href="#c17" x="79.7" y="620.4"/><use href="#c02" x="50.3" y="582.9"/><use href="#c15" x="68.4" y="609.1"/><use href="#c04" x="76.5" y="608"/><use href="#c16" x="65.1" y="591.6"/><use href="#c10" x="73.7" y="573.4"/><use href="#c06" x="83.4" y="601.8"/><use href="#c05" x="43.5" y="588.8"/><use href="#c03" x="51.5" y="586.7"/></g>
<g stroke="#1010b0" stroke-width="0.62"><use href="#c07" x="79.4" y="599.1"/><use href="#l1" x="21" y="584.5"/><use href="#c15" x="78.2" y="626.1"/><use href="#c15" x="80.1" y="622.7"/><use href="#l4" x="51.9" y="576.8"/><use href="#c05" x="65.5" y="614.3"/><use href="#c06" x="81.4" y="607"/><use href="#c16" x="78" y="615.4"/><use href="#l1" x="67.6" y="583.3"/><use href="#c04" x="64.8" y="589.4"/><use href="#c07" x="36.5" y="603.7"/><use href="#c15" x="72.9" y="589.5"/><use href="#c04" x="64.8" y="569.5"/><use href="#l4" x="19.4" y="606.7"/><use href="#c00" x="69.7" y="570"/><use href="#c16" x="69.6" y="591.8"/><use href="#l0" x="79" y="618.8"/><use href="#c17" x="69.4" y="607.9"/><use href="#c15" x="61.1" y="567.7"/><use href="#l2" x="74.5" y="584.1"/><use href="#c06" x="70.2" y="610.6"/><use href="#c0b" x="32.3" y="572"/><use href="#c06" x="77.8" y="586.2"/><use href="#c00" x="54.1" y="583.5"/><use href="#c18" x="65.6" y="567.6"/><use href="#c04" x="70.5" y="607.5"/></g>
<g stroke="#b80a0a" stroke-width="0.62"><use href="#c06" x="24.6" y="612.3"/><use href="#c07" x="46.6" y="575.8"/><use href="#c16" x="49.4" y="595.1"/><use href="#c17" x="41.4" y="582.8"/><use href="#c07" x="63.5" y="597.2"/><use href="#c16" x="37.7" y="597.3"/><use href="#c05" x="34.1" y="610.2"/><use href="#c16" x="47.9" y="601.9"/><use href="#c15" x="40.7" y="583.1"/><use href="#c03" x="54.8" y="579.5"/><use href="#c15" x="45.7" y="621.7"/><use href="#c06" x="71.1" y="623.3"/><use href="#c05" x="45.2" y="592.2"/><use href="#c15" x="39.9" y="580.7"/><use href="#c07" x="32.1" y="591.8"/><use href="#c05" x="19.7" y="594.9"/><use href="#c14" x="48.3" y="587.1"/><use href="#c08" x="29.4" y="595"/><use href="#c05" x="27.5" y="593.6"/><use href="#c15" x="35.2" y="608.3"/><use href="#c0b" x="48.3" y="582.2"/><use href="#c05" x="36.3" y="603.4"/><use href="#c05" x="48.7" y="610.7"/><use href="#c04" x="28.5" y="603.2"/><use href="#c16" x="45.7" y="582.7"/><use href="#c0a" x="70.1" y="579.2"/><use href="#c06" x="66.4" y="578"/></g>
<g stroke="#b80a0a" stroke-width="0.62"><use href="#c14" x="51.3" y="588.1"/><use href="#c06" x="54.6" y="607.3"/><use href="#c06" x="21.3" y="587.4"/><use href="#c15" x="25.9" y="594.8"/><use href="#c05" x="31.4" y="600.1"/><use href="#c03" x="39.1" y="573.7"/><use href="#c06" x="44.1" y="584.6"/><use href="#c13" x="51.1" y="612.3"/><use href="#c04" x="44.1" y="610.8"/><use href="#c05" x="42.4" y="580.9"/><use href="#c07" x="46.3" y="610.4"/><use href="#c15" x="28.1" y="586.5"/><use href="#c14" x="65.1" y="608.3"/><use href="#c05" x="51.1" y="599"/><use href="#c14" x="29.6" y="591.8"/><use href="#c05" x="42.6" y="592.8"/><use href="#c05" x="77.5" y="585.4"/><use href="#c15" x="22.2" y="591.6"/><use href="#c15" x="38.2" y="570.3"/><use href="#c04" x="23.3" y="586.4"/><use href="#c08" x="62.6" y="582.6"/><use href="#c10" x="65.4" y="583.6"/><use href="#c16" x="66.5" y="595.5"/><use href="#c05" x="28.4" y="615.5"/><use href="#l3" x="81" y="597.2"/><use href="#l4" x="34.8" y="601.1"/><use href="#c04" x="52.8" y="594.1"/></g>
<text x="107" y="613.2" font-size="8.4" text-anchor="start" font-weight="normal" fill="#111" >AF_unmasked_model3</text>
<text x="138.3" y="623.2" font-size="8.4" text-anchor="middle" font-weight="normal" fill="#111" >_pred4</text>
<path d="M566 285C565.3 283.3 561.3 277.8 562 275C562.7 272.2 566.7 269.5 570 268C573.3 266.5 578.7 265.7 582 266C585.3 266.3 588.7 269.3 590 270" stroke="#2626c8" stroke-width="0.6" fill="none"/>
<path d="M641 272C641.5 270.3 642.2 264.2 644 262C645.8 259.8 649.7 258.5 652 259C654.3 259.5 657.5 262.3 658 265C658.5 267.7 655.5 273.3 655 275" stroke="#2626c8" stroke-width="0.6" fill="none"/>
<path d="M560 290C558.7 289 552.7 286 552 284C551.3 282 553.8 278.3 556 278C558.2 277.7 563.5 281.3 565 282" stroke="#b03030" stroke-width="0.6" fill="none"/>
<path d="M584 308C585 309.3 585.7 314.3 590 316C594.3 317.7 603.3 318.2 610 318C616.7 317.8 623.7 317 630 315C636.3 313 644.3 309.2 648 306C651.7 302.8 651.3 297.7 652 296" stroke="#b03030" stroke-width="0.6" fill="none"/>
<path d="M600 305C602.5 304.2 609.7 301.2 615 300C620.3 298.8 627 297.5 632 298C637 298.5 642.8 302.2 645 303" stroke="#b03030" stroke-width="0.6" fill="none"/>
<g stroke="#1010b0" stroke-width="0.62"><use href="#c17" x="602.6" y="261.2"/><use href="#c06" x="601.4" y="268"/><use href="#c14" x="582.9" y="280.5"/><use href="#c14" x="650.7" y="302.9"/><use href="#c14" x="653.7" y="293.9"/><use href="#c09" x="607.2" y="272.8"/><use href="#c16" x="645.9" y="290.2"/><use href="#c06" x="574" y="275.7"/><use href="#c00" x="606" y="262.3"/><use href="#c07" x="607.8" y="266.8"/><use href="#l1" x="583.6" y="270"/><use href="#c13" x="649.3" y="295.5"/><use href="#l5" x="573.5" y="275"/><use href="#c06" x="616.4" y="279.4"/><use href="#c0a" x="622" y="263.4"/><use href="#c06" x="611.8" y="265.5"/><use href="#c04" x="656.1" y="287.6"/><use href="#c16" x="628.8" y="281.2"/><use href="#c07" x="573.8" y="289.3"/><use href="#c05" x="652" y="305.4"/><use href="#c17" x="581.9" y="285.1"/><use href="#c16" x="587.9" y="279.1"/><use href="#c05" x="588.2" y="280.4"/><use href="#c05" x="626.9" y="284.9"/><use href="#c06" x="582.9" y="271.1"/><use href="#c04" x="594.3" y="283.5"/><use href="#c10" x="624.9" y="272"/></g>
<g stroke="#b80a0a" stroke-width="0.62"><use href="#c13" x="656" y="305.4"/><use href="#c14" x="658.7" y="302.6"/><use href="#c17" x="577.5" y="311.7"/><use href="#c06" x="556.5" y="308.6"/><use href="#c17" x="622.7" y="292.3"/><use href="#c19" x="605.9" y="302.9"/><use href="#c18" x="643.4" y="291.9"/><use href="#c06" x="600.2" y="309"/><use href="#c18" x="617" y="283.8"/><use href="#c0a" x="588.8" y="290.7"/><use href="#c02" x="613.4" y="285.5"/><use href="#c06" x="581.8" y="299.9"/><use href="#c01" x="603.9" y="299.7"/><use href="#c16" x="592.7" y="286.1"/><use href="#c07" x="602.1" y="289.9"/><use href="#l3" x="610.2" y="283.9"/><use href="#c11" x="602.5" y="283.2"/><use href="#c02" x="589.9" y="282.3"/><use href="#c05" x="636.1" y="279.6"/><use href="#c15" x="608.5" y="261.9"/><use href="#c16" x="572" y="305.8"/><use href="#c04" x="566" y="296.6"/><use href="#c08" x="607.7" y="293.3"/><use href="#c12" x="603.5" y="292.4"/><use href="#c07" x="614.2" y="284.4"/></g>
<g stroke="#b80a0a" stroke-width="0.62"><use href="#c05" x="569.6" y="291.4"/><use href="#c02" x="612.6" y="283.2"/><use href="#c05" x="588.1" y="282"/><use href="#c19" x="620.5" y="276.1"/><use href="#c06" x="594.5" y="285.5"/><use href="#c04" x="654.3" y="302.5"/><use href="#c17" x="560.9" y="305.2"/><use href="#c06" x="562.2" y="299.1"/><use href="#c04" x="562.7" y="300.3"/><use href="#c06" x="558.9" y="309.3"/><use href="#c0b" x="606.4" y="285.5"/><use href="#l0" x="585.8" y="287.1"/><use href="#c06" x="632.4" y="293.9"/><use href="#c16" x="563.2" y="309.6"/><use href="#c16" x="616.7" y="282.3"/><use href="#c06" x="569.3" y="278.3"/><use href="#c05" x="553.4" y="297.9"/><use href="#c08" x="611.6" y="306.8"/><use href="#c01" x="587.7" y="286.8"/><use href="#c05" x="580.4" y="303.6"/><use href="#c08" x="642.1" y="282.5"/><use href="#c16" x="557.7" y="305.1"/><use href="#c16" x="572.7" y="300.2"/><use href="#l1" x="605" y="300.7"/><use href="#c19" x="607.7" y="290.4"/><use href="#c1a" x="593.4" y="290.1"/></g>
<g stroke="#b80a0a" stroke-width="0.62"><use href="#c15" x="585.8" y="302.2"/><use href="#c15" x="607.6" y="292"/><use href="#c05" x="574.2" y="299.7"/><use href="#c06" x="613.8" y="302.4"/><use href="#c15" x="596" y="306.8"/><use href="#c19" x="602.9" y="291.3"/><use href="#l4" x="602" y="305.7"/><use href="#l0" x="568.6" y="307.1"/><use href="#c17" x="592" y="290.2"/><use href="#c17" x="550" y="299.9"/><use href="#l0" x="598.8" y="298.9"/><use href="#l2" x="580.4" y="308.8"/><use href="#c13" x="591.6" y="283.2"/><use href="#c15" x="568.5" y="302.9"/><use href="#c15" x="641.8" y="285.9"/><use href="#c1b" x="595.6" y="300.3"/><use href="#c05" x="629.6" y="274.6"/><use href="#c08" x="567.9" y="310.9"/><use href="#c04" x="607" y="304.3"/><use href="#c0b" x="597.1" y="296.7"/><use href="#c06" x="622.2" y="279.1"/><use href="#c15" x="567.7" y="295.2"/><use href="#c16" x="620.5" y="281.9"/><use href="#c05" x="603.9" y="302.4"/><use href="#c05" x="639.7" y="281"/><use href="#c17" x="626.1" y="290.6"/></g>
<g stroke="#b80a0a" stroke-width="0.62"><use href="#c00" x="599" y="301.3"/><use href="#c03" x="563.8" y="299.4"/><use href="#c14" x="583.8" y="310.3"/><use href="#c16" x="573.9" y="312.4"/><use href="#c04" x="553.4" y="296.2"/><use href="#l0" x="612.5" y="305.1"/><use href="#c14" x="581.5" y="297.4"/><use href="#c16" x="622.7" y="292.5"/><use href="#c15" x="636.4" y="275.3"/><use href="#c04" x="586.1" y="279.7"/><use href="#c17" x="628.8" y="277.6"/><use href="#c07" x="629.8" y="273.9"/><use href="#l0" x="549.2" y="301.3"/><use href="#l2" x="590.7" y="302.6"/><use href="#l5" x="581.4" y="302.9"/><use href="#c16" x="628" y="277.2"/><use href="#c16" x="625.5" y="277.5"/><use href="#c0b" x="597.3" y="285.4"/><use href="#c18" x="566.5" y="307"/><use href="#c07" x="619.1" y="279"/><use href="#c03" x="565.5" y="300.6"/><use href="#c19" x="609.7" y="307.5"/><use href="#l3" x="609.3" y="295.4"/><use href="#c14" x="573.9" y="307.5"/><use href="#c17" x="553.5" y="301.9"/><use href="#c08" x="632.8" y="275.5"/></g>
<g stroke="#b80a0a" stroke-width="0.62"><use href="#c08" x="613.8" y="293"/><use href="#c05" x="564.4" y="312.4"/><use href="#c06" x="567.7" y="306.7"/><use href="#c05" x="581.5" y="307.3"/><use href="#c05" x="571.2" y="310.8"/><use href="#c13" x="620.6" y="278.2"/><use href="#c07" x="624.8" y="290.2"/><use href="#c05" x="586.1" y="302.1"/><use href="#c07" x="559.1" y="305.5"/><use href="#c16" x="566.8" y="304.2"/><use href="#c17" x="558.7" y="293.9"/><use href="#c15" x="597" y="303.6"/><use href="#c12" x="610" y="301.1"/><use href="#c01" x="603" y="293.3"/><use href="#l4" x="632.1" y="290.5"/><use href="#c06" x="630" y="273.5"/><use href="#c01" x="608.9" y="300.8"/><use href="#c12" x="592.9" y="288.7"/><use href="#c14" x="584.5" y="281.3"/><use href="#c05" x="618.4" y="289.1"/><use href="#c06" x="643" y="286.7"/><use href="#c08" x="593.3" y="286"/><use href="#l2" x="639.6" y="286.5"/><use href="#l4" x="589.1" y="298.5"/><use href="#c1a" x="608.3" y="295.4"/></g>
<g stroke="#b80a0a" stroke-width="0.62"><use href="#c05" x="596.6" y="280.3"/><use href="#c06" x="622.3" y="284.9"/><use href="#c04" x="574" y="295.8"/><use href="#c05" x="573.2" y="303.6"/><use href="#c16" x="640.7" y="294.1"/><use href="#c07" x="559.5" y="291.5"/><use href="#c18" x="623.2" y="291.7"/><use href="#c06" x="552.3" y="301.5"/><use href="#c16" x="562.5" y="291.6"/><use href="#c17" x="607.6" y="289.2"/><use href="#c05" x="566" y="293.8"/><use href="#c16" x="574" y="300.5"/><use href="#c06" x="626.1" y="276.6"/><use href="#c14" x="608.8" y="280.7"/><use href="#c15" x="630.1" y="276.1"/><use href="#c04" x="653" y="278.1"/><use href="#c08" x="598.5" y="301.5"/><use href="#c02" x="648.9" y="283.8"/><use href="#c07" x="582.8" y="296.6"/><use href="#c16" x="576.2" y="285.5"/><use href="#c1a" x="613.8" y="286.7"/><use href="#c05" x="629.7" y="274.9"/><use href="#c06" x="601.9" y="297.4"/><use href="#c0a" x="616.2" y="264.4"/><use href="#c16" x="560.3" y="298"/><use href="#c08" x="562.4" y="303.1"/></g>
<g stroke="#1010b0" stroke-width="0.62"><use href="#c12" x="592.3" y="286.8"/><use href="#c0b" x="599.7" y="261.5"/><use href="#c04" x="639.3" y="290.8"/><use href="#c08" x="632" y="286.6"/><use href="#l1" x="660.2" y="296.1"/><use href="#c1b" x="611.4" y="258.3"/><use href="#c05" x="664" y="307.4"/><use href="#c04" x="668.8" y="291.4"/><use href="#c1b" x="615.2" y="276.7"/><use href="#c17" x="628.9" y="284.9"/><use href="#c06" x="618" y="277.7"/><use href="#c13" x="578" y="271"/><use href="#c12" x="652.6" y="287.6"/><use href="#c15" x="560.4" y="297.4"/><use href="#c19" x="607.7" y="259.4"/><use href="#c01" x="653.3" y="288.5"/><use href="#c15" x="572.9" y="270.8"/><use href="#c05" x="576.4" y="269"/><use href="#c15" x="656.2" y="302.3"/><use href="#c1b" x="599.7" y="296.8"/><use href="#c15" x="580.4" y="283.4"/><use href="#c13" x="658.2" y="292.9"/><use href="#c0a" x="604.3" y="264"/><use href="#c05" x="574.4" y="270.4"/><use href="#c04" x="647.4" y="300.2"/><use href="#c12" x="618.6" y="258.6"/><use href="#c14" x="649.8" y="289"/></g>
<g stroke="#1010b0" stroke-width="0.62"><use href="#c18" x="602.4" y="266.9"/><use href="#c13" x="653.8" y="300.9"/><use href="#l3" x="649.1" y="302.7"/><use href="#c03" x="647.3" y="287.6"/><use href="#c19" x="610.2" y="277.7"/><use href="#c17" x="565.1" y="303.4"/><use href="#c06" x="650.5" y="290.2"/><use href="#c14" x="589.6" y="275.4"/><use href="#c13" x="606.1" y="276"/><use href="#c15" x="666.5" y="307.7"/><use href="#c17" x="618.4" y="261.3"/><use href="#l4" x="656.4" y="298.8"/><use href="#c15" x="618.9" y="269.6"/><use href="#c04" x="621.5" y="268.7"/><use href="#c15" x="622.6" y="283.1"/><use href="#c14" x="656.3" y="301.8"/><use href="#c10" x="614.3" y="277.7"/><use href="#c1b" x="610.2" y="262.1"/><use href="#l2" x="653.7" y="286.6"/><use href="#l5" x="600.7" y="286.3"/><use href="#c15" x="648.8" y="286.9"/><use href="#c01" x="613.3" y="284.7"/><use href="#c15" x="574.7" y="273.8"/><use href="#c17" x="602.1" y="267.6"/><use href="#c04" x="579.7" y="269.4"/><use href="#c15" x="584.3" y="277.5"/><use href="#c13" x="660.3" y="305.5"/><use href="#c05" x="592.1" y="270.3"/></g>
<g stroke="#1010b0" stroke-width="0.62"><use href="#c16" x="579.2" y="278.1"/><use href="#c14" x="653.8" y="306.2"/><use href="#c09" x="622.5" y="262.4"/><use href="#c18" x="607.5" y="260.6"/><use href="#c15" x="610.2" y="300.9"/><use href="#c01" x="596.2" y="280.3"/><use href="#l2" x="579.6" y="281"/><use href="#c04" x="645.2" y="283.5"/><use href="#c16" x="581.5" y="280.5"/><use href="#c07" x="608.2" y="261.5"/><use href="#l4" x="616.8" y="265.5"/><use href="#c16" x="551.7" y="308.3"/><use href="#c1a" x="618.1" y="274.9"/><use href="#c05" x="665.1" y="293.2"/><use href="#c15" x="641.4" y="281.2"/><use href="#l0" x="594.3" y="280.1"/><use href="#l2" x="662.9" y="302.7"/><use href="#c06" x="585.5" y="268.7"/><use href="#c16" x="636.8" y="290.5"/><use href="#c14" x="642.7" y="293.6"/><use href="#c15" x="636.2" y="291.9"/><use href="#c05" x="594.7" y="308.2"/><use href="#c05" x="662.8" y="298"/><use href="#c12" x="617.2" y="273.1"/><use href="#l0" x="652.6" y="300.2"/><use href="#c07" x="573.7" y="279.8"/><use href="#c15" x="583.6" y="270.8"/></g>
<g stroke="#b80a0a" stroke-width="0.62"><use href="#c17" x="638.6" y="283.6"/><use href="#c07" x="610.8" y="296.7"/><use href="#c12" x="589.5" y="297.7"/><use href="#c15" x="562.3" y="311.5"/><use href="#c16" x="562" y="302.7"/><use href="#c19" x="600.8" y="289.2"/><use href="#c06" x="614.7" y="281.2"/><use href="#c04" x="600.6" y="278.6"/><use href="#c15" x="558.6" y="294.8"/><use href="#c08" x="596.6" y="298.1"/><use href="#c03" x="610.3" y="296"/><use href="#c15" x="552.8" y="299"/><use href="#c04" x="599.6" y="291.6"/><use href="#c05" x="630" y="294.5"/><use href="#c05" x="599.2" y="293.5"/><use href="#c16" x="577.9" y="295.5"/><use href="#c14" x="572.5" y="312.2"/><use href="#c14" x="594.4" y="303.3"/><use href="#c00" x="588.7" y="289.5"/><use href="#c10" x="608.9" y="294.5"/><use href="#c06" x="598.3" y="281.2"/><use href="#l2" x="578.9" y="278.4"/><use href="#c13" x="598.9" y="311.3"/><use href="#c09" x="620.2" y="285.1"/><use href="#c02" x="596.7" y="291.8"/><use href="#l1" x="631.5" y="275.7"/></g>
<g stroke="#1010b0" stroke-width="0.62"><use href="#l4" x="644.4" y="284.1"/><use href="#c03" x="617.6" y="264.2"/><use href="#c13" x="645.1" y="278.3"/><use href="#c05" x="581.8" y="275.3"/><use href="#c04" x="587.9" y="279.3"/><use href="#l3" x="581.7" y="291.4"/><use href="#c05" x="561.6" y="294.1"/><use href="#c04" x="652.8" y="295.1"/><use href="#c03" x="610.2" y="264.9"/><use href="#c04" x="652.3" y="287.6"/><use href="#c05" x="658.3" y="283.1"/><use href="#l2" x="573.6" y="282.4"/><use href="#c14" x="645.2" y="298.4"/><use href="#c18" x="629.3" y="282.4"/><use href="#c18" x="582.5" y="283.1"/><use href="#l2" x="668.5" y="302.9"/><use href="#c06" x="578.3" y="287.5"/><use href="#c14" x="653.9" y="290.8"/><use href="#c07" x="572.9" y="278.1"/><use href="#c03" x="602.6" y="267.3"/><use href="#c12" x="646.6" y="280.2"/><use href="#c04" x="568.4" y="272.2"/><use href="#c14" x="665.2" y="290.8"/><use href="#c04" x="664.4" y="285.3"/><use href="#c12" x="610.1" y="273.3"/><use href="#c08" x="607.4" y="273.1"/><use href="#l3" x="645" y="288.5"/></g>
<g stroke="#b80a0a" stroke-width="0.62"><use href="#c16" x="601.6" y="296.6"/><use href="#c18" x="613.8" y="289.8"/><use href="#c09" x="599.4" y="291.4"/><use href="#c1a" x="590.3" y="288.8"/><use href="#c1a" x="601.9" y="290.1"/><use href="#c1b" x="588.4" y="283.4"/><use href="#c06" x="555.8" y="309.5"/><use href="#c13" x="560.5" y="292.4"/><use href="#c03" x="598.6" y="278.6"/><use href="#c0a" x="597.5" y="308.5"/><use href="#c06" x="595.4" y="304.3"/><use href="#c15" x="572.6" y="306.8"/><use href="#l4" x="575.8" y="292.3"/><use href="#c16" x="603.9" y="284.5"/><use href="#c16" x="571" y="299.5"/><use href="#c10" x="599.7" y="293.4"/><use href="#c05" x="582.9" y="303.2"/><use href="#c14" x="565.7" y="305.2"/><use href="#l4" x="644.2" y="292.5"/><use href="#l0" x="623" y="287.4"/><use href="#c15" x="637.9" y="287.4"/><use href="#c18" x="614.4" y="284"/><use href="#c05" x="550.8" y="307.2"/><use href="#c08" x="579.3" y="309.1"/><use href="#l2" x="619.9" y="262.8"/></g>
<g stroke="#b80a0a" stroke-width="0.62"><use href="#c18" x="620.9" y="286.5"/><use href="#l1" x="617.7" y="268.1"/><use href="#c12" x="608.7" y="296.5"/><use href="#c16" x="618.6" y="285.1"/><use href="#c07" x="561.4" y="303.8"/><use href="#c13" x="571.9" y="297.9"/><use href="#c16" x="573.8" y="308"/><use href="#c12" x="606.1" y="287.2"/><use href="#c05" x="550.7" y="295"/><use href="#c03" x="560.7" y="308.9"/><use href="#c15" x="570.1" y="284.1"/><use href="#c17" x="572.4" y="306.7"/><use href="#c16" x="562.8" y="294"/><use href="#l3" x="638.6" y="283.5"/><use href="#l0" x="636" y="281.9"/><use href="#c15" x="577" y="312.4"/><use href="#c06" x="613.7" y="282.8"/><use href="#c06" x="625.1" y="286.5"/><use href="#c14" x="561.5" y="311.6"/><use href="#c07" x="572.7" y="303.6"/><use href="#c19" x="606.6" y="308.2"/><use href="#c13" x="666.7" y="306.6"/><use href="#c00" x="607.3" y="304.9"/><use href="#c14" x="586.3" y="297"/><use href="#c16" x="570.1" y="309"/><use href="#c06" x="564.7" y="291.9"/></g>
<g stroke="#1010b0" stroke-width="0.62"><use href="#c12" x="655.4" y="304.4"/><use href="#c06" x="581.8" y="271"/><use href="#l1" x="586.7" y="269.7"/><use href="#c17" x="555.3" y="293.5"/><use href="#c16" x="606.5" y="265.6"/><use href="#c03" x="667.4" y="307.2"/><use href="#c19" x="617.2" y="271.8"/><use href="#c15" x="642.1" y="291.2"/><use href="#c06" x="573" y="289.4"/><use href="#c04" x="649" y="294.9"/><use href="#c14" x="569.1" y="282.6"/><use href="#c14" x="649.5" y="294"/><use href="#l0" x="667.1" y="302.3"/><use href="#l3" x="620.7" y="261.9"/><use href="#c05" x="651.9" y="286.1"/><use href="#l2" x="592.6" y="285"/><use href="#c14" x="592.2" y="280.4"/><use href="#c13" x="577.6" y="287.4"/><use href="#c16" x="652.2" y="295.2"/><use href="#c15" x="576.5" y="269.6"/><use href="#c04" x="576.8" y="310.8"/><use href="#c13" x="665" y="308.8"/><use href="#c02" x="618.3" y="270.3"/><use href="#c05" x="580.6" y="285.8"/><use href="#c05" x="665.1" y="299.6"/><use href="#l4" x="594.3" y="279.1"/><use href="#c16" x="587.8" y="289.6"/><use href="#c08" x="618.3" y="266.3"/></g>
<g stroke="#b80a0a" stroke-width="0.62"><use href="#l3" x="597.3" y="279.3"/><use href="#c07" x="620.7" y="278.5"/><use href="#c03" x="623.7" y="267.7"/><use href="#c06" x="573.4" y="299.9"/><use href="#c06" x="601.5" y="278.4"/><use href="#l2" x="593.2" y="307"/><use href="#l5" x="616.6" y="270.9"/><use href="#c03" x="583.7" y="286"/><use href="#c10" x="600.8" y="287.7"/><use href="#c04" x="566.8" y="309.5"/><use href="#c08" x="644.4" y="278.7"/><use href="#c19" x="598.2" y="296.1"/><use href="#l5" x="594.7" y="307.7"/><use href="#c14" x="565" y="290.1"/><use href="#l1" x="601.2" y="295"/><use href="#c07" x="622.1" y="290.9"/><use href="#c14" x="563.4" y="294.4"/><use href="#c15" x="586" y="301.2"/><use href="#c07" x="565.7" y="294.8"/><use href="#c05" x="602.2" y="281"/><use href="#c10" x="602.9" y="279.8"/><use href="#c06" x="609.5" y="309"/><use href="#l4" x="569.8" y="308.4"/><use href="#l2" x="635" y="278.3"/><use href="#c04" x="615.6" y="290.5"/><use href="#c07" x="589.8" y="299"/></g>
<g stroke="#1010b0" stroke-width="0.62"><use href="#c18" x="639.2" y="278.4"/><use href="#l0" x="655.8" y="303.9"/><use href="#l3" x="574.3" y="285.2"/><use href="#l2" x="620.3" y="264.5"/><use href="#c04" x="650.2" y="301.1"/><use href="#c18" x="636.6" y="289"/><use href="#c14" x="593.1" y="274"/><use href="#c16" x="651.1" y="279.8"/><use href="#c17" x="629.4" y="282.8"/><use href="#c04" x="660.4" y="287.6"/><use href="#c14" x="663.1" y="307.3"/><use href="#c04" x="655.1" y="293"/><use href="#c06" x="594.3" y="280.5"/><use href="#c1a" x="609.3" y="260.4"/><use href="#c16" x="651.3" y="300.1"/><use href="#c17" x="623.4" y="274.9"/><use href="#c04" x="653.9" y="296.9"/><use href="#c15" x="576.2" y="287.5"/><use href="#l2" x="592.2" y="269.5"/><use href="#c14" x="656.3" y="304.3"/><use href="#c05" x="571.5" y="279.9"/><use href="#l0" x="579.6" y="288.5"/><use href="#c14" x="576.2" y="285.6"/><use href="#c14" x="665.3" y="293"/><use href="#c13" x="659.8" y="287.2"/><use href="#c1b" x="612.2" y="259.9"/><use href="#c09" x="614.8" y="263.3"/></g>
<g stroke="#1010b0" stroke-width="0.62"><use href="#c15" x="648" y="278.9"/><use href="#c0a" x="607.3" y="266.7"/><use href="#c11" x="615.5" y="264.3"/><use href="#c04" x="667.7" y="306.5"/><use href="#c15" x="609.6" y="271.7"/><use href="#c05" x="582" y="280.8"/><use href="#c03" x="621.5" y="271.6"/><use href="#c02" x="606.6" y="259.5"/><use href="#c05" x="574.9" y="277.8"/><use href="#l5" x="656.4" y="281.1"/><use href="#c18" x="616.9" y="274.4"/><use href="#c18" x="625.8" y="291"/><use href="#l5" x="622.8" y="272.5"/><use href="#c02" x="610.2" y="308.5"/><use href="#c15" x="589.9" y="285.1"/><use href="#l4" x="579.3" y="270.8"/><use href="#c16" x="666.4" y="299.3"/><use href="#c16" x="596.7" y="306.3"/><use href="#c04" x="589.9" y="277.2"/><use href="#c13" x="572.6" y="288.4"/><use href="#c12" x="615" y="269.8"/><use href="#c07" x="585" y="284"/><use href="#c15" x="657.7" y="280.4"/><use href="#c03" x="655.4" y="298.6"/><use href="#c1a" x="618.6" y="287.3"/><use href="#c04" x="660.1" y="304.7"/><use href="#c13" x="569" y="284.2"/><use href="#c13" x="664.4" y="296.4"/></g>
<g stroke="#b80a0a" stroke-width="0.62"><use href="#c18" x="601" y="308.3"/><use href="#c17" x="632.2" y="286.9"/><use href="#c05" x="565.5" y="297.4"/><use href="#c04" x="599" y="292.9"/><use href="#c17" x="578.2" y="288.9"/><use href="#c06" x="647.6" y="292.5"/><use href="#c03" x="656.1" y="303.2"/><use href="#c07" x="558.8" y="310"/><use href="#c08" x="636.3" y="295.4"/><use href="#c06" x="568.5" y="298.4"/><use href="#c17" x="611.1" y="291"/><use href="#c13" x="581.2" y="302.8"/><use href="#c16" x="644.7" y="279.2"/><use href="#c1a" x="588.6" y="287.7"/><use href="#c15" x="549.8" y="302.4"/><use href="#c17" x="554.5" y="296.2"/><use href="#c16" x="559.8" y="292.4"/><use href="#c03" x="568.7" y="304.7"/><use href="#c11" x="605.8" y="291.8"/><use href="#c10" x="590.5" y="302.3"/><use href="#l0" x="641" y="277.8"/><use href="#l3" x="594.1" y="295.8"/><use href="#c07" x="638.7" y="280.3"/><use href="#c13" x="605" y="283.2"/><use href="#c18" x="645" y="285.3"/><use href="#c17" x="638.6" y="279.1"/></g>
<g stroke="#1010b0" stroke-width="0.62"><use href="#c05" x="644.6" y="290.8"/><use href="#l0" x="643.8" y="286.3"/><use href="#c06" x="625" y="266.8"/><use href="#c07" x="629.3" y="274.4"/><use href="#c16" x="646.2" y="279.3"/><use href="#c05" x="592.6" y="284.1"/><use href="#c13" x="602.9" y="262.8"/><use href="#c04" x="582.7" y="287.7"/><use href="#c01" x="604.2" y="275.7"/><use href="#c08" x="642.8" y="282"/><use href="#c05" x="575.7" y="298.5"/><use href="#c17" x="639" y="277.2"/><use href="#c06" x="577.4" y="283.6"/><use href="#c04" x="666" y="288"/><use href="#l3" x="638.8" y="279.4"/><use href="#c15" x="576.5" y="275"/><use href="#c06" x="577.4" y="285.6"/><use href="#c16" x="571.9" y="286.4"/><use href="#c15" x="656.6" y="305.4"/><use href="#c14" x="639.4" y="285.8"/><use href="#c18" x="612.5" y="264.1"/><use href="#c06" x="657.1" y="282.1"/><use href="#c04" x="648.5" y="283.1"/><use href="#c13" x="641.7" y="290.3"/><use href="#c14" x="614.3" y="270.4"/><use href="#c15" x="569.9" y="277.8"/><use href="#c15" x="584.9" y="290"/></g>
<g stroke="#b80a0a" stroke-width="0.62"><use href="#c00" x="608.3" y="290.8"/><use href="#c09" x="606.6" y="295.5"/><use href="#c14" x="580.8" y="302.4"/><use href="#c07" x="581.3" y="301.9"/><use href="#c15" x="568" y="305.3"/><use href="#c05" x="565.8" y="293.8"/><use href="#c17" x="606.8" y="307.8"/><use href="#c16" x="573.9" y="311.9"/><use href="#c09" x="607.6" y="299.6"/><use href="#l1" x="633.1" y="287.4"/><use href="#c16" x="633.1" y="285.7"/><use href="#c16" x="604" y="292.9"/><use href="#c04" x="564.7" y="303.4"/><use href="#c06" x="554.9" y="299.6"/><use href="#c15" x="551.5" y="302.5"/><use href="#l3" x="596.3" y="309.8"/><use href="#c17" x="642.7" y="292.7"/><use href="#c16" x="563.9" y="305.8"/><use href="#c14" x="646.2" y="279"/><use href="#c07" x="636.7" y="284.9"/><use href="#l2" x="559.1" y="308.7"/><use href="#c06" x="621.2" y="289.1"/><use href="#c16" x="580.4" y="293.1"/><use href="#c06" x="638.4" y="294.5"/><use href="#c15" x="609.7" y="305.9"/><use href="#c05" x="638.9" y="293.3"/></g>
<text x="604.7" y="333.4" font-size="8.4" text-anchor="middle" font-weight="normal" fill="#111" >AF_unmasked_model2</text>
<text x="604.7" y="343.4" font-size="8.4" text-anchor="middle" font-weight="normal" fill="#111" >_pred4</text>
<path d="M574 453C573.3 451.8 570 448 570 446C570 444 572.3 441.3 574 441C575.7 440.7 579 442.2 580 444C581 445.8 580 450.7 580 452" stroke="#2626c8" stroke-width="0.6" fill="none"/>
<path d="M650 444C649.5 442.7 646.7 438.2 647 436C647.3 433.8 649.8 431.3 652 431C654.2 430.7 658.7 431.8 660 434C661.3 436.2 660 442.3 660 444" stroke="#b03030" stroke-width="0.6" fill="none"/>
<path d="M665 450C664.8 448.5 662.8 443 664 441C665.2 439 669.3 437.7 672 438C674.7 438.3 679 441 680 443C681 445 678.3 448.8 678 450" stroke="#2626c8" stroke-width="0.6" fill="none"/>
<path d="M568 470C566.3 469.7 560.3 467.5 558 468C555.7 468.5 553.7 471.3 554 473C554.3 474.7 557.3 477.5 560 478C562.7 478.5 568.3 476.3 570 476" stroke="#b03030" stroke-width="0.6" fill="none"/>
<path d="M592 482C593 483.7 595.7 490 598 492C600.3 494 603.8 494.7 606 494C608.2 493.3 610.2 489 611 488" stroke="#b03030" stroke-width="0.6" fill="none"/>
<path d="M628 468C628.7 470 629.7 477.2 632 480C634.3 482.8 638.7 484.7 642 485C645.3 485.3 651 484.5 652 482C653 479.5 648.7 472 648 470" stroke="#b03030" stroke-width="0.6" fill="none"/>
<g stroke="#1010b0" stroke-width="0.62"><use href="#c05" x="661.8" y="477.3"/><use href="#c16" x="619.4" y="454"/><use href="#c0a" x="587.6" y="445.6"/><use href="#c16" x="624.4" y="454.1"/><use href="#c0a" x="599.3" y="444.2"/><use href="#c1a" x="624.2" y="427.8"/><use href="#c15" x="611.7" y="456.6"/><use href="#c18" x="603.9" y="439.9"/><use href="#c05" x="656.9" y="461.3"/><use href="#c07" x="622.5" y="429.7"/><use href="#c15" x="675" y="480"/><use href="#c07" x="640.5" y="447.6"/><use href="#c03" x="672.3" y="471.6"/><use href="#c13" x="593.5" y="436.3"/><use href="#l0" x="624.4" y="438.1"/><use href="#c03" x="668.1" y="481.4"/><use href="#c14" x="660.5" y="450.8"/><use href="#c17" x="627.1" y="447.5"/><use href="#c03" x="593.5" y="448"/><use href="#c15" x="664.3" y="479"/><use href="#c07" x="623.5" y="449"/><use href="#c07" x="624.2" y="431.4"/><use href="#c17" x="637" y="462.7"/><use href="#c17" x="659.7" y="470.2"/><use href="#c04" x="584.8" y="479"/><use href="#c13" x="660.3" y="476.6"/></g>
<g stroke="#b80a0a" stroke-width="0.62"><use href="#l4" x="595.2" y="474.3"/><use href="#c15" x="577.6" y="475.6"/><use href="#c05" x="639.5" y="457.7"/><use href="#c17" x="626.3" y="457.6"/><use href="#c05" x="613" y="461.9"/><use href="#c06" x="583.3" y="467.3"/><use href="#c08" x="634.6" y="461.9"/><use href="#c08" x="612.7" y="458.3"/><use href="#c06" x="579.3" y="481.1"/><use href="#c16" x="612.5" y="463"/><use href="#c07" x="654.4" y="454.6"/><use href="#c16" x="591.6" y="477.4"/><use href="#c14" x="652.5" y="468.5"/><use href="#c16" x="627.9" y="448.5"/><use href="#c06" x="587.9" y="476.5"/><use href="#c06" x="600.8" y="450.4"/><use href="#c17" x="593.9" y="472.3"/><use href="#c08" x="603.5" y="448.4"/><use href="#c06" x="614.5" y="453"/><use href="#c06" x="623.8" y="456.5"/><use href="#c17" x="578.6" y="464.5"/><use href="#c05" x="587.7" y="467.1"/><use href="#c14" x="623" y="461.7"/><use href="#c14" x="588.7" y="482.8"/><use href="#c16" x="612.6" y="458.5"/><use href="#c16" x="589" y="469.3"/><use href="#c14" x="587.1" y="487.5"/><use href="#c07" x="626.3" y="463.8"/></g>
<g stroke="#b80a0a" stroke-width="0.62"><use href="#l1" x="602.6" y="469.1"/><use href="#c16" x="628.5" y="465.4"/><use href="#l3" x="594.1" y="478.1"/><use href="#c18" x="620.8" y="455.3"/><use href="#c17" x="608.9" y="461.8"/><use href="#c14" x="598.8" y="471.6"/><use href="#c15" x="604.9" y="463"/><use href="#c16" x="617" y="461"/><use href="#c08" x="624.7" y="444.8"/><use href="#c07" x="604.3" y="448.1"/><use href="#c06" x="584.1" y="465.5"/><use href="#c14" x="646.5" y="465.8"/><use href="#c06" x="622.7" y="461"/><use href="#c16" x="584.2" y="466.4"/><use href="#c16" x="575.4" y="465.5"/><use href="#c05" x="601.2" y="470"/><use href="#c04" x="603.3" y="475"/><use href="#c05" x="610.9" y="447.2"/><use href="#c15" x="586.8" y="472.4"/><use href="#c19" x="612.7" y="441.6"/><use href="#c07" x="582.7" y="484.1"/><use href="#c14" x="631.2" y="457.2"/><use href="#c06" x="631.8" y="447.8"/><use href="#c15" x="578.3" y="474.8"/><use href="#l0" x="593" y="466.9"/><use href="#c15" x="589.6" y="475.4"/><use href="#c16" x="593.6" y="478.2"/><use href="#l2" x="646.6" y="450"/></g>
<g stroke="#1010b0" stroke-width="0.62"><use href="#c04" x="675.1" y="460.3"/><use href="#c17" x="585.1" y="437.8"/><use href="#c12" x="595.2" y="442.1"/><use href="#c06" x="655.3" y="452.3"/><use href="#c14" x="651" y="453.9"/><use href="#c07" x="673.4" y="484.6"/><use href="#c10" x="595.9" y="453.8"/><use href="#c05" x="655.8" y="455.8"/><use href="#l4" x="618.5" y="452.6"/><use href="#c05" x="664.3" y="472.2"/><use href="#c06" x="648.2" y="460.5"/><use href="#c10" x="624.4" y="432.6"/><use href="#c0a" x="592.5" y="449.6"/><use href="#l5" x="667.2" y="480.2"/><use href="#c03" x="678.2" y="481"/><use href="#c01" x="617.5" y="431.7"/><use href="#l2" x="607.6" y="451.6"/><use href="#c1b" x="627.3" y="435.1"/><use href="#c1a" x="603.7" y="447.4"/><use href="#c15" x="630.3" y="447"/><use href="#c07" x="640.7" y="460"/><use href="#c04" x="668.5" y="473.3"/><use href="#c06" x="589.3" y="443.8"/><use href="#c16" x="613" y="435.2"/><use href="#c14" x="671.5" y="482.7"/><use href="#c17" x="658.8" y="473.6"/></g>
<g stroke="#b80a0a" stroke-width="0.62"><use href="#c18" x="654.3" y="456.8"/><use href="#c05" x="574.6" y="467.9"/><use href="#c09" x="643.3" y="460.2"/><use href="#c15" x="604.9" y="441.3"/><use href="#l3" x="630.7" y="444"/><use href="#c17" x="615.2" y="446.4"/><use href="#c16" x="623.5" y="457.2"/><use href="#c05" x="600.6" y="470.7"/><use href="#l3" x="600.4" y="470.7"/><use href="#c06" x="620.1" y="466.2"/><use href="#c06" x="614.4" y="457.4"/><use href="#c15" x="596.8" y="475.4"/><use href="#c04" x="652.8" y="465.9"/><use href="#c05" x="580.8" y="463.3"/><use href="#c07" x="590.8" y="463.6"/><use href="#c17" x="596.6" y="439.7"/><use href="#c15" x="634" y="461.8"/><use href="#c15" x="576.5" y="475.8"/><use href="#c05" x="593.5" y="465.3"/><use href="#c17" x="626.2" y="464.8"/><use href="#c08" x="603.5" y="446.8"/><use href="#c06" x="612.8" y="465.4"/><use href="#c03" x="583" y="477.8"/><use href="#l2" x="592.9" y="474.6"/><use href="#c16" x="610.9" y="458.6"/><use href="#c17" x="614.1" y="451.4"/><use href="#c05" x="579.6" y="468"/></g>
<g stroke="#1010b0" stroke-width="0.62"><use href="#l1" x="601.9" y="480.4"/><use href="#c14" x="649.6" y="462.5"/><use href="#c05" x="652.4" y="454.7"/><use href="#c18" x="656.4" y="470.8"/><use href="#c07" x="618" y="445.9"/><use href="#c06" x="676" y="478.7"/><use href="#c08" x="612.5" y="457.4"/><use href="#l0" x="656" y="459.5"/><use href="#c11" x="629" y="435.2"/><use href="#c0b" x="589.5" y="438.3"/><use href="#c04" x="657.1" y="463.1"/><use href="#c15" x="670" y="469.5"/><use href="#c04" x="658.8" y="470.9"/><use href="#c04" x="658.9" y="480.5"/><use href="#c04" x="673.2" y="462.9"/><use href="#c13" x="652.4" y="471.7"/><use href="#c07" x="676.1" y="478"/><use href="#c03" x="585.2" y="449.1"/><use href="#l4" x="669.7" y="471.9"/><use href="#l2" x="599.9" y="444"/><use href="#c06" x="645.4" y="451.4"/><use href="#l5" x="614.1" y="435.6"/><use href="#c06" x="667.9" y="461.9"/><use href="#l2" x="620.3" y="438.1"/><use href="#l2" x="669" y="459.4"/><use href="#c16" x="671" y="483.6"/></g>
<g stroke="#b80a0a" stroke-width="0.62"><use href="#c19" x="591.3" y="449.2"/><use href="#c06" x="582.4" y="465.7"/><use href="#c06" x="641.3" y="458.6"/><use href="#l3" x="587.4" y="451.3"/><use href="#c13" x="639.8" y="447.3"/><use href="#c06" x="608.6" y="461.2"/><use href="#c05" x="578" y="469.4"/><use href="#c16" x="581.4" y="473"/><use href="#l3" x="649.7" y="453.6"/><use href="#c07" x="588.2" y="474.5"/><use href="#c17" x="617.8" y="446.1"/><use href="#c05" x="626.9" y="453.8"/><use href="#c18" x="643.5" y="466.2"/><use href="#c06" x="674.4" y="468.5"/><use href="#c13" x="600.5" y="469.5"/><use href="#c06" x="674.5" y="474.8"/><use href="#c05" x="572.2" y="473.3"/><use href="#c05" x="591.2" y="473.7"/><use href="#c16" x="628.8" y="457.9"/><use href="#c07" x="581.3" y="482.8"/><use href="#c17" x="598.9" y="445.2"/><use href="#c06" x="588.1" y="453.1"/><use href="#c06" x="648.9" y="452"/><use href="#c06" x="607.4" y="449"/><use href="#c07" x="605" y="443.1"/><use href="#c15" x="631.1" y="449"/><use href="#c04" x="643" y="457.8"/></g>
<g stroke="#1010b0" stroke-width="0.62"><use href="#c04" x="671.1" y="476"/><use href="#c13" x="654.5" y="456"/><use href="#l1" x="654.4" y="452.3"/><use href="#c05" x="663" y="453"/><use href="#c06" x="610.3" y="458.8"/><use href="#c04" x="680.3" y="473.8"/><use href="#c03" x="651.7" y="462.7"/><use href="#l4" x="659.2" y="463"/><use href="#c15" x="584.3" y="443.4"/><use href="#c14" x="662" y="459"/><use href="#c05" x="620.1" y="439.9"/><use href="#c15" x="599.4" y="450.6"/><use href="#c06" x="675.6" y="466.1"/><use href="#c04" x="650.1" y="458.1"/><use href="#c16" x="609.1" y="443.6"/><use href="#c0a" x="625.3" y="437.6"/><use href="#c14" x="680.1" y="468.7"/><use href="#c16" x="654" y="459"/><use href="#c05" x="663.4" y="475.3"/><use href="#c04" x="585.2" y="444.7"/><use href="#c1a" x="592.4" y="446.8"/><use href="#c15" x="605.6" y="444.8"/><use href="#c19" x="618.5" y="434.7"/><use href="#c16" x="575.9" y="475.5"/><use href="#c02" x="669.2" y="471.8"/><use href="#l0" x="628" y="434"/></g>
<g stroke="#b80a0a" stroke-width="0.62"><use href="#c04" x="589.7" y="478.6"/><use href="#c05" x="646.5" y="454.2"/><use href="#c07" x="619.5" y="464.1"/><use href="#l2" x="635" y="459.7"/><use href="#c17" x="597.5" y="470.2"/><use href="#c08" x="612.5" y="443.1"/><use href="#c06" x="596.5" y="470.6"/><use href="#c05" x="578.5" y="470"/><use href="#c17" x="617.5" y="456.6"/><use href="#c17" x="612.6" y="443.3"/><use href="#l4" x="593.9" y="441"/><use href="#c15" x="647.2" y="455.6"/><use href="#c06" x="636" y="459.7"/><use href="#c17" x="605.3" y="456"/><use href="#c15" x="643.4" y="451"/><use href="#c15" x="574.2" y="471.6"/><use href="#c18" x="618.5" y="461.6"/><use href="#c05" x="593.6" y="483.8"/><use href="#c06" x="578.2" y="481.1"/><use href="#c03" x="594.1" y="465.8"/><use href="#c15" x="639.5" y="452.7"/><use href="#c16" x="647.9" y="466.5"/><use href="#c16" x="602.6" y="461.2"/><use href="#l5" x="570.9" y="473.4"/><use href="#c08" x="574.5" y="481"/><use href="#c14" x="604.2" y="469.7"/><use href="#c06" x="650.7" y="460"/><use href="#c15" x="618.2" y="458.5"/></g>
<g stroke="#1010b0" stroke-width="0.62"><use href="#c14" x="636" y="467.2"/><use href="#c0b" x="626.7" y="430.5"/><use href="#c14" x="587.9" y="441.7"/><use href="#c15" x="656.4" y="461.6"/><use href="#c14" x="589.9" y="476.7"/><use href="#c06" x="596.6" y="450.5"/><use href="#l0" x="658.5" y="467.5"/><use href="#c16" x="591.4" y="464"/><use href="#c05" x="670.6" y="485.2"/><use href="#c18" x="597.2" y="444.1"/><use href="#l0" x="634.3" y="450.7"/><use href="#c03" x="671.7" y="462.4"/><use href="#c03" x="622.8" y="426.7"/><use href="#l1" x="601.5" y="469.9"/><use href="#c02" x="619.2" y="438.6"/><use href="#c13" x="656.5" y="476.6"/><use href="#l1" x="592.7" y="450.8"/><use href="#c05" x="667.4" y="483.7"/><use href="#c01" x="596.3" y="449"/><use href="#c09" x="596.3" y="451.1"/><use href="#c04" x="665.3" y="466.2"/><use href="#l1" x="676.5" y="482.7"/><use href="#c04" x="663.5" y="456.2"/><use href="#c13" x="649.2" y="466.2"/><use href="#c0b" x="587.7" y="440.4"/></g>
<g stroke="#b80a0a" stroke-width="0.62"><use href="#c07" x="644.4" y="464.8"/><use href="#c06" x="635.3" y="456"/><use href="#c13" x="659.5" y="459.7"/><use href="#c07" x="622.4" y="455.1"/><use href="#c18" x="640.7" y="463.8"/><use href="#c16" x="645.1" y="455.6"/><use href="#c16" x="640.9" y="464.4"/><use href="#l5" x="642.8" y="448.6"/><use href="#c06" x="616.1" y="449.6"/><use href="#c16" x="596.7" y="473.7"/><use href="#c17" x="593.9" y="466.8"/><use href="#c15" x="611.9" y="436.7"/><use href="#l5" x="630.9" y="446.7"/><use href="#c06" x="665.1" y="452.2"/><use href="#c06" x="582.4" y="465.7"/><use href="#c16" x="618.4" y="458.1"/><use href="#c07" x="619.6" y="454.9"/><use href="#c05" x="573.2" y="481.8"/><use href="#c16" x="587.7" y="482.8"/><use href="#c06" x="586.1" y="467.7"/><use href="#c03" x="597.4" y="479.7"/><use href="#c07" x="648" y="456.9"/><use href="#c05" x="595.3" y="463.9"/><use href="#c06" x="643.1" y="459"/><use href="#c17" x="625" y="447.5"/><use href="#c05" x="640" y="465.2"/><use href="#c18" x="599.7" y="453"/></g>
<g stroke="#1010b0" stroke-width="0.62"><use href="#l2" x="589.8" y="449.4"/><use href="#c15" x="629.2" y="460.3"/><use href="#c14" x="662.6" y="474.9"/><use href="#c08" x="613.3" y="432.2"/><use href="#l5" x="679.7" y="469.7"/><use href="#c17" x="659.3" y="479.1"/><use href="#c12" x="595.5" y="448"/><use href="#c15" x="664.1" y="452.2"/><use href="#c14" x="663.1" y="465.4"/><use href="#c06" x="635.3" y="446.6"/><use href="#c13" x="671.8" y="477.7"/><use href="#c06" x="610.8" y="464.6"/><use href="#c16" x="631.1" y="465"/><use href="#c15" x="673.9" y="479"/><use href="#c05" x="585.9" y="449.4"/><use href="#c15" x="672.7" y="470.8"/><use href="#c18" x="597.2" y="449.5"/><use href="#c12" x="583.2" y="442.9"/><use href="#c11" x="603.2" y="444.9"/><use href="#c14" x="596.1" y="444.3"/><use href="#c04" x="680" y="474.3"/><use href="#c16" x="640.3" y="446.4"/><use href="#c15" x="622.7" y="445.2"/><use href="#c01" x="614.1" y="438.3"/><use href="#c01" x="611" y="433.9"/></g>
<g stroke="#1010b0" stroke-width="0.62"><use href="#c05" x="617" y="439.6"/><use href="#c15" x="654.3" y="458"/><use href="#c06" x="674.7" y="471.2"/><use href="#c15" x="658" y="458.4"/><use href="#c04" x="619.8" y="429.7"/><use href="#c04" x="623.4" y="426.7"/><use href="#c18" x="601.2" y="452"/><use href="#c1b" x="631.4" y="435.4"/><use href="#l2" x="613.2" y="435.9"/><use href="#c13" x="679.6" y="477.1"/><use href="#c12" x="590.1" y="446.6"/><use href="#c03" x="654.2" y="457.1"/><use href="#c10" x="622.8" y="427.5"/><use href="#c0a" x="610.9" y="436.7"/><use href="#c05" x="666.1" y="484.2"/><use href="#c15" x="645" y="447.5"/><use href="#l0" x="585" y="445.6"/><use href="#c07" x="595.5" y="445.6"/><use href="#c16" x="622.7" y="454.8"/><use href="#c16" x="673.9" y="460.8"/><use href="#c15" x="670.1" y="472.8"/><use href="#l0" x="650.6" y="451.9"/><use href="#c16" x="594.6" y="472.9"/><use href="#l0" x="664.6" y="458.4"/><use href="#c07" x="646" y="450.4"/><use href="#l4" x="599.8" y="445.4"/></g>
<g stroke="#b80a0a" stroke-width="0.62"><use href="#c05" x="633" y="461.4"/><use href="#c17" x="610.9" y="461.5"/><use href="#c07" x="625.3" y="461.3"/><use href="#c18" x="607.7" y="460.9"/><use href="#c15" x="598.8" y="454.1"/><use href="#c05" x="590.9" y="485.7"/><use href="#c08" x="604.1" y="448.5"/><use href="#c03" x="614.2" y="447"/><use href="#l0" x="614.8" y="449.2"/><use href="#c15" x="571.2" y="467.1"/><use href="#c16" x="599.4" y="458.6"/><use href="#l3" x="630.1" y="451.6"/><use href="#c08" x="634.4" y="456.6"/><use href="#c07" x="637.5" y="462"/><use href="#l4" x="613" y="450.5"/><use href="#c05" x="585.4" y="482.6"/><use href="#c05" x="622.4" y="451.7"/><use href="#c03" x="584" y="439.6"/><use href="#l0" x="580.2" y="472.9"/><use href="#c08" x="615.3" y="447.2"/><use href="#c17" x="619.7" y="448.5"/><use href="#c07" x="609.8" y="451.7"/><use href="#c17" x="622.9" y="443"/><use href="#c18" x="601.7" y="444.1"/><use href="#c16" x="631.6" y="458.4"/><use href="#c03" x="623.2" y="436.4"/><use href="#c08" x="599.2" y="458.2"/><use href="#c04" x="584.6" y="480.6"/></g>
<g stroke="#b80a0a" stroke-width="0.62"><use href="#c08" x="625.5" y="449.9"/><use href="#c0a" x="602.9" y="444.1"/><use href="#c16" x="586.2" y="468.9"/><use href="#c04" x="594.3" y="466.5"/><use href="#c14" x="575.2" y="468.5"/><use href="#c04" x="598.3" y="480.9"/><use href="#c17" x="642" y="459.6"/><use href="#c16" x="597.7" y="477.7"/><use href="#c07" x="597.4" y="485.3"/><use href="#c15" x="622.1" y="449"/><use href="#c07" x="602.2" y="451.5"/><use href="#c16" x="641.4" y="456.7"/><use href="#c19" x="648.3" y="455.8"/><use href="#c17" x="594" y="474.3"/><use href="#c06" x="629.6" y="457.7"/><use href="#c04" x="647.3" y="464.6"/><use href="#l5" x="629.9" y="459.3"/><use href="#c17" x="596.7" y="470.3"/><use href="#l0" x="581.6" y="472.6"/><use href="#c04" x="575.9" y="481.9"/><use href="#c17" x="577.5" y="471.1"/><use href="#c18" x="622.8" y="447.2"/><use href="#c06" x="613.4" y="463.4"/><use href="#c16" x="627" y="441.8"/><use href="#l5" x="622.8" y="451"/><use href="#c07" x="611.5" y="443.8"/><use href="#l1" x="597.3" y="463.9"/></g>
<g stroke="#b80a0a" stroke-width="0.62"><use href="#c06" x="584.2" y="445.9"/><use href="#c18" x="578.8" y="469.1"/><use href="#c04" x="599.5" y="466.3"/><use href="#c16" x="612.5" y="450"/><use href="#c18" x="619.4" y="461.1"/><use href="#l2" x="595.2" y="484.5"/><use href="#l3" x="645.7" y="454.1"/><use href="#c07" x="632.6" y="448"/><use href="#c07" x="631.6" y="467.3"/><use href="#c08" x="623.4" y="449.2"/><use href="#c16" x="570.7" y="471.7"/><use href="#c16" x="644.9" y="453.6"/><use href="#c03" x="590.5" y="472.6"/><use href="#c16" x="661.3" y="481"/><use href="#l2" x="585.9" y="483.3"/><use href="#c15" x="609.1" y="455"/><use href="#c06" x="601.9" y="454.4"/><use href="#c16" x="601" y="469.4"/><use href="#c15" x="677.3" y="471.1"/><use href="#c05" x="649.3" y="451.8"/><use href="#c17" x="645.9" y="455.1"/><use href="#c06" x="645.6" y="456"/><use href="#c18" x="635" y="448.7"/><use href="#c16" x="572.1" y="472.1"/><use href="#c05" x="642" y="452.1"/><use href="#c06" x="603.4" y="452.3"/><use href="#c06" x="570.5" y="471.8"/></g>
<g stroke="#b80a0a" stroke-width="0.62"><use href="#l1" x="599" y="472.4"/><use href="#c05" x="580.1" y="486.7"/><use href="#c04" x="601.5" y="448"/><use href="#c18" x="633" y="461"/><use href="#c06" x="590.4" y="479.9"/><use href="#c15" x="619.6" y="458.1"/><use href="#c14" x="586.5" y="485.8"/><use href="#c05" x="644.4" y="463.3"/><use href="#c06" x="576.6" y="465.7"/><use href="#c18" x="633.2" y="447.4"/><use href="#c14" x="616.6" y="461.9"/><use href="#c1a" x="642.9" y="460.5"/><use href="#c15" x="652.2" y="458"/><use href="#c15" x="598.2" y="449.9"/><use href="#c07" x="624.5" y="461.5"/><use href="#c06" x="586.5" y="483"/><use href="#c07" x="624.6" y="450.5"/><use href="#c06" x="598" y="475"/><use href="#c17" x="585.1" y="473.5"/><use href="#c14" x="587" y="467.3"/><use href="#c16" x="580.6" y="472.7"/><use href="#c04" x="572.2" y="469.8"/><use href="#c08" x="616" y="448.9"/><use href="#c17" x="616.1" y="463.3"/><use href="#c17" x="620.1" y="442.9"/><use href="#c16" x="588.3" y="479.3"/><use href="#c07" x="617.6" y="442.9"/></g>
<g stroke="#1010b0" stroke-width="0.62"><use href="#c12" x="596.7" y="451.7"/><use href="#c06" x="603.2" y="448"/><use href="#c05" x="672.8" y="478.4"/><use href="#c1b" x="602.9" y="451.4"/><use href="#c13" x="678.4" y="482.4"/><use href="#c07" x="613.8" y="430.1"/><use href="#c06" x="666.7" y="468.6"/><use href="#c14" x="658.9" y="457.3"/><use href="#c13" x="612.7" y="436.7"/><use href="#c13" x="677" y="463.5"/><use href="#c06" x="673.2" y="473.9"/><use href="#c05" x="663.6" y="457.6"/><use href="#c15" x="667.3" y="464"/><use href="#c08" x="607.1" y="447.5"/><use href="#c13" x="659.9" y="477.7"/><use href="#c16" x="647.4" y="455.6"/><use href="#c02" x="654.7" y="456.5"/><use href="#l1" x="674.5" y="475.2"/><use href="#c15" x="666.9" y="454.5"/><use href="#c02" x="662.5" y="463.5"/><use href="#l1" x="588.3" y="449.5"/><use href="#l3" x="619.3" y="436.5"/><use href="#c16" x="592.6" y="446"/><use href="#c14" x="660.3" y="467.7"/><use href="#c0a" x="617.9" y="431.1"/><use href="#c05" x="652.7" y="459"/></g>
<text x="624.6" y="508.3" font-size="8.4" text-anchor="middle" font-weight="normal" fill="#111" >AF_unmasked_model4</text>
<text x="624.6" y="517.9" font-size="8.4" text-anchor="middle" font-weight="normal" fill="#111" >_pred10</text>
<path d="M556 578C557.7 579.3 561.7 584 566 586C570.3 588 577.3 590 582 590C586.7 590 592 586.7 594 586" stroke="#b03030" stroke-width="0.6" fill="none"/>
<path d="M560 582C562.5 584 569.7 592.3 575 594C580.3 595.7 589.2 592.3 592 592" stroke="#b03030" stroke-width="0.6" fill="none"/>
<path d="M535 590C535.5 588.3 536.2 582 538 580C539.8 578 544.7 578.3 546 578" stroke="#b03030" stroke-width="0.6" fill="none"/>
<g stroke="#1010b0" stroke-width="0.62"><use href="#c04" x="539.9" y="581.4"/><use href="#c14" x="601.4" y="599.6"/><use href="#c13" x="567.8" y="565.4"/><use href="#c16" x="611.9" y="583.5"/><use href="#c05" x="614.9" y="583"/><use href="#c05" x="602.5" y="543.5"/><use href="#c18" x="608.5" y="562.3"/><use href="#c16" x="561.6" y="551.1"/><use href="#c16" x="548.5" y="552.5"/><use href="#c06" x="609.5" y="582.6"/><use href="#c08" x="609.5" y="577.3"/><use href="#c03" x="540.2" y="558"/><use href="#l4" x="603.4" y="542.8"/><use href="#c15" x="597.9" y="581.5"/><use href="#c06" x="551.6" y="563.5"/><use href="#c16" x="616.3" y="599.8"/><use href="#c07" x="606" y="576.6"/><use href="#c06" x="613.4" y="578"/><use href="#c07" x="611.1" y="563.1"/><use href="#c17" x="593.6" y="558.6"/><use href="#c06" x="598.7" y="549"/><use href="#l2" x="551.1" y="564.1"/><use href="#c05" x="598.2" y="569.9"/><use href="#c07" x="598.2" y="561.1"/><use href="#c12" x="600.8" y="549.8"/></g>
<g stroke="#b80a0a" stroke-width="0.62"><use href="#c17" x="608.1" y="565.1"/><use href="#l4" x="548.7" y="562.2"/><use href="#c06" x="558.9" y="600.8"/><use href="#c16" x="547" y="559.3"/><use href="#c19" x="582.1" y="570.9"/><use href="#c17" x="570.6" y="560.8"/><use href="#c08" x="567.2" y="566.7"/><use href="#c1a" x="568.9" y="580.9"/><use href="#c17" x="603.5" y="563.7"/><use href="#l3" x="560.6" y="551.2"/><use href="#c14" x="598.9" y="558.8"/><use href="#c06" x="556.1" y="605.9"/><use href="#c05" x="538.7" y="582"/><use href="#c16" x="564.8" y="595.1"/><use href="#c19" x="579.2" y="570.7"/><use href="#c07" x="563.9" y="553.9"/><use href="#c02" x="563.9" y="578.5"/><use href="#l5" x="604.1" y="559.7"/><use href="#c15" x="556.5" y="589"/><use href="#l2" x="571.5" y="577.1"/><use href="#c06" x="585.7" y="569.5"/><use href="#l0" x="550.8" y="581.9"/><use href="#l1" x="568.7" y="567.4"/><use href="#c13" x="582.7" y="556.8"/><use href="#c06" x="575.9" y="582"/><use href="#c06" x="575.6" y="547.6"/></g>
<g stroke="#b80a0a" stroke-width="0.62"><use href="#c18" x="558.2" y="562"/><use href="#c02" x="564.8" y="572.4"/><use href="#c08" x="595.1" y="567"/><use href="#c06" x="576" y="547.5"/><use href="#c17" x="592.6" y="571.9"/><use href="#c07" x="541.7" y="587.4"/><use href="#c06" x="553.5" y="554.4"/><use href="#l5" x="583" y="575.1"/><use href="#c14" x="539.7" y="590.9"/><use href="#l0" x="605.7" y="565.8"/><use href="#l5" x="548.8" y="590.9"/><use href="#l1" x="560.6" y="571.1"/><use href="#c16" x="554" y="552.6"/><use href="#c07" x="575.5" y="555.5"/><use href="#c11" x="576.7" y="565.8"/><use href="#c13" x="581.1" y="575.3"/><use href="#c18" x="568.8" y="570.2"/><use href="#c05" x="562.9" y="551.7"/><use href="#c16" x="563.7" y="590.9"/><use href="#l0" x="559.8" y="559.8"/><use href="#c05" x="607.8" y="564.5"/><use href="#l0" x="536.8" y="584.5"/><use href="#c15" x="607.8" y="567.6"/><use href="#c16" x="612.5" y="592.5"/><use href="#c17" x="612.9" y="567"/><use href="#l5" x="568.7" y="563.9"/></g>
<g stroke="#1010b0" stroke-width="0.62"><use href="#c06" x="577.1" y="567.5"/><use href="#c15" x="616.6" y="583.7"/><use href="#c15" x="590.7" y="555"/><use href="#c05" x="609.2" y="577.3"/><use href="#c0b" x="593.4" y="539.8"/><use href="#c17" x="582.2" y="564.8"/><use href="#c14" x="593.5" y="547.6"/><use href="#c05" x="584.5" y="555.8"/><use href="#c06" x="594.6" y="579.3"/><use href="#c05" x="596.4" y="572.9"/><use href="#c18" x="594.6" y="583"/><use href="#c16" x="553" y="560.3"/><use href="#c17" x="616.7" y="585.4"/><use href="#c04" x="567.6" y="558"/><use href="#c13" x="563.9" y="578.8"/><use href="#c15" x="618.5" y="583.1"/><use href="#c15" x="555.6" y="546.5"/><use href="#l0" x="597.4" y="536"/><use href="#c16" x="605.2" y="559"/><use href="#l2" x="600.7" y="563.6"/><use href="#c17" x="564.3" y="558.8"/><use href="#c04" x="541.2" y="566.6"/><use href="#c15" x="599.4" y="588.1"/><use href="#c10" x="549.2" y="557.7"/><use href="#l2" x="581.4" y="553"/><use href="#l5" x="607.1" y="574.4"/></g>
<g stroke="#b80a0a" stroke-width="0.62"><use href="#c07" x="546.2" y="561"/><use href="#l5" x="564.4" y="565.4"/><use href="#l1" x="564" y="589.6"/><use href="#l0" x="582.1" y="557.8"/><use href="#l0" x="561" y="567.8"/><use href="#c05" x="596.5" y="555.4"/><use href="#c17" x="579.3" y="553.8"/><use href="#c16" x="600.7" y="588.5"/><use href="#c15" x="544.5" y="562.1"/><use href="#c05" x="582.7" y="562.4"/><use href="#c14" x="548.6" y="605.7"/><use href="#l5" x="559.6" y="581.1"/><use href="#c05" x="611.2" y="569.2"/><use href="#c08" x="585.8" y="549.2"/><use href="#c03" x="569.3" y="579.8"/><use href="#c16" x="589.7" y="568.5"/><use href="#c01" x="566.4" y="581.4"/><use href="#c16" x="602.5" y="558.3"/><use href="#c05" x="544" y="595.8"/><use href="#c1b" x="585.3" y="575.3"/><use href="#c14" x="563" y="565.9"/><use href="#c04" x="539.1" y="590.3"/><use href="#l2" x="541.9" y="558.3"/><use href="#c17" x="552.4" y="595.3"/><use href="#c15" x="563.7" y="599.4"/><use href="#c06" x="562.8" y="601.7"/><use href="#c06" x="555.6" y="602.3"/></g>
<g stroke="#b80a0a" stroke-width="0.62"><use href="#c07" x="561.3" y="582.7"/><use href="#c04" x="553.5" y="603.8"/><use href="#l4" x="554.3" y="582.1"/><use href="#c06" x="567.2" y="582.2"/><use href="#c06" x="548.5" y="583.8"/><use href="#c17" x="538.4" y="581.2"/><use href="#c12" x="565.5" y="578.2"/><use href="#c18" x="554" y="596.6"/><use href="#c1b" x="571.3" y="573.4"/><use href="#c05" x="556.1" y="592.8"/><use href="#c04" x="548" y="594.4"/><use href="#c09" x="556.1" y="567.2"/><use href="#c18" x="559.9" y="553.8"/><use href="#c06" x="581.7" y="561.4"/><use href="#c18" x="546.1" y="560.8"/><use href="#c04" x="598" y="556.6"/><use href="#c16" x="589.7" y="560.9"/><use href="#c09" x="577.1" y="583.7"/><use href="#l0" x="550.5" y="556.3"/><use href="#l3" x="592.8" y="550.6"/><use href="#c08" x="583.9" y="551.9"/><use href="#c07" x="556.1" y="571.9"/><use href="#c08" x="547.6" y="599.5"/><use href="#c17" x="573.1" y="558.2"/><use href="#l3" x="552.3" y="597.2"/><use href="#c15" x="543.6" y="582.8"/></g>
<g stroke="#b80a0a" stroke-width="0.62"><use href="#c07" x="589.5" y="553.1"/><use href="#c16" x="597.4" y="586.8"/><use href="#c0b" x="569.6" y="579.4"/><use href="#c14" x="546.9" y="587"/><use href="#c06" x="573.2" y="558.1"/><use href="#l0" x="548.7" y="579.5"/><use href="#c05" x="562.2" y="582.7"/><use href="#c14" x="563.9" y="589.7"/><use href="#c09" x="577.8" y="583.7"/><use href="#c18" x="608.1" y="569.2"/><use href="#c16" x="561" y="591.2"/><use href="#c15" x="551.9" y="589.9"/><use href="#c18" x="545.2" y="566.7"/><use href="#c06" x="598.8" y="573.4"/><use href="#c05" x="545.7" y="584.7"/><use href="#c15" x="559.9" y="591.6"/><use href="#c16" x="600.1" y="581.5"/><use href="#c16" x="592.5" y="568.2"/><use href="#c08" x="566" y="574.6"/><use href="#l4" x="587.8" y="571.4"/><use href="#c02" x="579.9" y="582.7"/><use href="#c17" x="563.8" y="571.6"/><use href="#l0" x="558.9" y="603.8"/><use href="#c15" x="545.2" y="586.5"/><use href="#c05" x="553.8" y="586.5"/><use href="#c0a" x="578.3" y="553.1"/></g>
<g stroke="#b80a0a" stroke-width="0.62"><use href="#c16" x="583.5" y="549.9"/><use href="#l1" x="586.7" y="558.5"/><use href="#c04" x="576.1" y="563.3"/><use href="#l4" x="540.8" y="582.2"/><use href="#c19" x="566.7" y="567.9"/><use href="#c17" x="605.7" y="563.4"/><use href="#c07" x="560.3" y="555.8"/><use href="#c06" x="598.7" y="560.1"/><use href="#c05" x="562" y="559.1"/><use href="#c16" x="544.3" y="554.2"/><use href="#c04" x="553.3" y="586"/><use href="#c06" x="605" y="592.9"/><use href="#c18" x="589.3" y="551"/><use href="#c16" x="559.6" y="566"/><use href="#l2" x="587.7" y="569"/><use href="#c04" x="593.2" y="569.5"/><use href="#c18" x="601.3" y="584.3"/><use href="#c14" x="579.5" y="582.4"/><use href="#c15" x="576.3" y="569.2"/><use href="#c19" x="569.5" y="579.9"/><use href="#c15" x="560.7" y="592.7"/><use href="#l0" x="567.8" y="569.5"/><use href="#c00" x="568.7" y="576.8"/><use href="#c15" x="555.4" y="591.3"/><use href="#c03" x="562.6" y="581.8"/><use href="#c11" x="584.5" y="569.5"/></g>
<g stroke="#b80a0a" stroke-width="0.62"><use href="#c06" x="537.5" y="581.9"/><use href="#c03" x="585.7" y="550.2"/><use href="#c02" x="555.7" y="566.5"/><use href="#c15" x="589.1" y="553.9"/><use href="#c05" x="558.1" y="590.3"/><use href="#c1a" x="571.1" y="580.3"/><use href="#c14" x="573.9" y="568.6"/><use href="#c15" x="603.3" y="569.2"/><use href="#c07" x="543.3" y="595.9"/><use href="#c06" x="589.9" y="565.1"/><use href="#c05" x="565.6" y="556.6"/><use href="#c05" x="559.6" y="587.5"/><use href="#c04" x="579.7" y="556"/><use href="#l2" x="573.4" y="561.2"/><use href="#c18" x="607.3" y="590.9"/><use href="#c05" x="540.8" y="595"/><use href="#c15" x="568.3" y="547.3"/><use href="#c07" x="548.5" y="603.3"/><use href="#c07" x="547.7" y="589.3"/><use href="#l0" x="568.4" y="573.1"/><use href="#c15" x="562.9" y="576.5"/><use href="#l0" x="547.1" y="570.6"/><use href="#c15" x="541.2" y="552.9"/><use href="#c16" x="597.8" y="557.7"/><use href="#c17" x="593.1" y="565.8"/><use href="#c07" x="572.9" y="550"/></g>
<g stroke="#1010b0" stroke-width="0.62"><use href="#c17" x="541.3" y="562.5"/><use href="#c15" x="596.6" y="594.1"/><use href="#c05" x="613" y="596.1"/><use href="#c14" x="608.3" y="571.5"/><use href="#c05" x="605" y="589"/><use href="#c16" x="597.5" y="579.5"/><use href="#c07" x="602.7" y="564.3"/><use href="#c08" x="546.1" y="556.9"/><use href="#l5" x="573.5" y="564.7"/><use href="#c09" x="603.8" y="544.5"/><use href="#c17" x="595.9" y="576.3"/><use href="#c09" x="598.6" y="548.6"/><use href="#c10" x="559" y="576"/><use href="#c04" x="593.1" y="536.3"/><use href="#c16" x="610.5" y="586.1"/><use href="#c07" x="555.6" y="547"/><use href="#c07" x="601.1" y="570.4"/><use href="#c18" x="542.2" y="561.4"/><use href="#l5" x="564.6" y="567.6"/><use href="#l0" x="547.8" y="561.9"/><use href="#c16" x="546.9" y="563.7"/><use href="#c14" x="555.1" y="599.2"/><use href="#c06" x="600.8" y="557.5"/><use href="#c17" x="545.1" y="557.9"/><use href="#c14" x="609.1" y="569.7"/></g>
<g stroke="#1010b0" stroke-width="0.62"><use href="#c05" x="608.7" y="593.8"/><use href="#c05" x="608.1" y="581.3"/><use href="#l5" x="550.1" y="561.2"/><use href="#c06" x="604.7" y="593.7"/><use href="#c07" x="605" y="595.4"/><use href="#c04" x="603.5" y="588.5"/><use href="#c05" x="608.1" y="570.6"/><use href="#c05" x="615" y="587"/><use href="#c05" x="603.9" y="597.5"/><use href="#c05" x="600.1" y="563.2"/><use href="#c16" x="607.3" y="568.5"/><use href="#l3" x="580.3" y="552.3"/><use href="#c19" x="596.4" y="568.6"/><use href="#c06" x="607.2" y="568.5"/><use href="#l2" x="565.9" y="566.3"/><use href="#c18" x="615" y="597.1"/><use href="#c16" x="607.8" y="590.3"/><use href="#c15" x="596.9" y="592.8"/><use href="#c18" x="546.3" y="556.1"/><use href="#c06" x="607.7" y="588.8"/><use href="#l1" x="611.3" y="603.1"/><use href="#c09" x="600.1" y="542.4"/><use href="#l3" x="572.8" y="550.6"/><use href="#l1" x="553" y="563.3"/><use href="#c02" x="566.1" y="582.1"/><use href="#c08" x="589.3" y="540.3"/></g>
<g stroke="#1010b0" stroke-width="0.62"><use href="#c17" x="616.8" y="568.1"/><use href="#c05" x="603.4" y="594.9"/><use href="#c17" x="595.9" y="575.7"/><use href="#l1" x="548.7" y="565.1"/><use href="#c17" x="594.8" y="543.6"/><use href="#c18" x="604.3" y="544"/><use href="#c18" x="590.1" y="570.1"/><use href="#c06" x="567" y="547"/><use href="#c17" x="553.5" y="552.5"/><use href="#c04" x="598.4" y="564.7"/><use href="#c14" x="603.3" y="546.4"/><use href="#c07" x="602.7" y="562.8"/><use href="#c05" x="613.6" y="596.5"/><use href="#c15" x="605.4" y="589.4"/><use href="#c07" x="559.5" y="546.8"/><use href="#c06" x="616.2" y="597.9"/><use href="#c07" x="608.3" y="591.6"/><use href="#c16" x="555.2" y="564.3"/><use href="#c15" x="552.5" y="563.5"/><use href="#c07" x="564.4" y="553.4"/><use href="#c07" x="605.5" y="585.5"/><use href="#c18" x="609.5" y="568.7"/><use href="#c05" x="578.3" y="568.7"/><use href="#c05" x="567.2" y="581.1"/><use href="#c0a" x="549.2" y="561.5"/><use href="#c16" x="607.1" y="562.9"/></g>
<g stroke="#1010b0" stroke-width="0.62"><use href="#l5" x="605.8" y="598.4"/><use href="#c05" x="562.1" y="557.5"/><use href="#c16" x="612.7" y="576.2"/><use href="#c16" x="603.4" y="570"/><use href="#c0a" x="590.9" y="544.5"/><use href="#l0" x="615.3" y="569.7"/><use href="#l5" x="571.7" y="582"/><use href="#c01" x="595.6" y="543"/><use href="#c06" x="611.6" y="601.6"/><use href="#l1" x="595.5" y="563.3"/><use href="#c07" x="568.3" y="564.2"/><use href="#c06" x="567.6" y="564.6"/><use href="#c07" x="608.9" y="606"/><use href="#c00" x="546.3" y="556.2"/><use href="#c07" x="603.2" y="567.9"/><use href="#c16" x="603.5" y="583.4"/><use href="#c13" x="602.7" y="544.5"/><use href="#c14" x="610.7" y="600.7"/><use href="#c05" x="600.7" y="577.4"/><use href="#c18" x="597.7" y="594.2"/><use href="#c15" x="554.2" y="549.3"/><use href="#c04" x="557.6" y="572.6"/><use href="#c16" x="611.3" y="570"/><use href="#c17" x="601.9" y="564.2"/><use href="#c18" x="596.4" y="589"/></g>
<g stroke="#b80a0a" stroke-width="0.62"><use href="#c15" x="578.5" y="561.4"/><use href="#c08" x="568.9" y="563.2"/><use href="#c04" x="543.3" y="579.7"/><use href="#c17" x="570.7" y="569"/><use href="#c16" x="553.6" y="551.8"/><use href="#c07" x="595.4" y="559.4"/><use href="#c07" x="551" y="589.6"/><use href="#c04" x="541.3" y="602.2"/><use href="#c15" x="577.4" y="579.7"/><use href="#c07" x="583.6" y="558.5"/><use href="#c07" x="561.8" y="570.1"/><use href="#l5" x="550.1" y="591.4"/><use href="#c05" x="559.2" y="566.9"/><use href="#c05" x="569.2" y="552.3"/><use href="#l4" x="590" y="565.2"/><use href="#c15" x="547.9" y="583.1"/><use href="#c14" x="552.2" y="584.9"/><use href="#c05" x="546.6" y="587.6"/><use href="#l2" x="576.5" y="566.5"/><use href="#c16" x="550.4" y="606.1"/><use href="#c15" x="545.7" y="548.9"/><use href="#l5" x="567.9" y="581.3"/><use href="#l1" x="549.9" y="584"/><use href="#c08" x="602.8" y="565.4"/><use href="#c17" x="594.3" y="553.1"/><use href="#c09" x="563.8" y="579.3"/></g>
<g stroke="#b80a0a" stroke-width="0.62"><use href="#c11" x="576.9" y="576.5"/><use href="#c15" x="545.7" y="597.2"/><use href="#c1a" x="559.9" y="575"/><use href="#c06" x="606.6" y="570.1"/><use href="#c18" x="556" y="597.1"/><use href="#c06" x="584.4" y="553.3"/><use href="#c16" x="582.8" y="560.8"/><use href="#c06" x="576.1" y="562.5"/><use href="#c18" x="587.9" y="562.5"/><use href="#l5" x="545.4" y="553.4"/><use href="#l4" x="564" y="550.8"/><use href="#l5" x="557" y="553.7"/><use href="#c16" x="567" y="568.2"/><use href="#l4" x="575.1" y="567.3"/><use href="#c03" x="584" y="572.7"/><use href="#c16" x="579.3" y="548.8"/><use href="#c15" x="552.2" y="583.5"/><use href="#c08" x="550.5" y="560.2"/><use href="#c15" x="566.1" y="554.1"/><use href="#c16" x="569" y="565.2"/><use href="#c05" x="542.6" y="591.9"/><use href="#c14" x="551.5" y="594.1"/><use href="#c05" x="560.2" y="574.4"/><use href="#c16" x="548.8" y="580.2"/><use href="#c05" x="567.8" y="566.3"/><use href="#c16" x="541.2" y="599.6"/></g>
<g stroke="#1010b0" stroke-width="0.62"><use href="#c01" x="571.3" y="577.4"/><use href="#c17" x="613.9" y="575"/><use href="#l0" x="609.8" y="567.7"/><use href="#c16" x="613.1" y="600.8"/><use href="#c08" x="562.3" y="558.9"/><use href="#c06" x="602.4" y="563.4"/><use href="#c17" x="551" y="565.4"/><use href="#l3" x="561.6" y="567.7"/><use href="#l2" x="556.8" y="571.5"/><use href="#c16" x="609.3" y="562.5"/><use href="#l3" x="604.8" y="570.5"/><use href="#l5" x="601.3" y="570.6"/><use href="#c15" x="607.6" y="576.3"/><use href="#c09" x="602.9" y="540.2"/><use href="#c17" x="550.3" y="558.2"/><use href="#c16" x="546.3" y="556.9"/><use href="#c07" x="604.1" y="559.1"/><use href="#c1a" x="596.3" y="546"/><use href="#c16" x="601.9" y="562.5"/><use href="#c17" x="615.2" y="602.7"/><use href="#c05" x="547.6" y="571.2"/><use href="#c06" x="561.5" y="604.2"/><use href="#c16" x="599.4" y="600"/><use href="#c06" x="581.7" y="574.1"/><use href="#c07" x="550.3" y="553.5"/></g>
<g stroke="#1010b0" stroke-width="0.62"><use href="#c15" x="538.9" y="588.6"/><use href="#c13" x="572.8" y="566.1"/><use href="#c04" x="611.9" y="600.5"/><use href="#l4" x="605.1" y="601.4"/><use href="#c1a" x="551.6" y="563.8"/><use href="#l5" x="599.7" y="576.9"/><use href="#c18" x="591" y="536.6"/><use href="#c10" x="546.1" y="569"/><use href="#c06" x="612.6" y="562.2"/><use href="#l1" x="594.9" y="589"/><use href="#l5" x="582.6" y="567.1"/><use href="#c15" x="606.9" y="597.9"/><use href="#c04" x="600.6" y="565.7"/><use href="#c16" x="549.7" y="551.5"/><use href="#c06" x="609.4" y="603.2"/><use href="#c16" x="550.5" y="563.7"/><use href="#c04" x="549.1" y="563"/><use href="#c15" x="596.5" y="581.1"/><use href="#c06" x="596.5" y="581.8"/><use href="#l3" x="584.3" y="570.6"/><use href="#l2" x="612" y="564.9"/><use href="#c04" x="607.9" y="582"/><use href="#c06" x="604.3" y="594.5"/><use href="#c16" x="545.3" y="564.8"/><use href="#l1" x="613.9" y="571.4"/><use href="#c17" x="598.4" y="562"/></g>
<g stroke="#b80a0a" stroke-width="0.62"><use href="#c15" x="538.1" y="580.1"/><use href="#c07" x="564.4" y="569.4"/><use href="#c15" x="551.3" y="590.6"/><use href="#c16" x="577.4" y="565.5"/><use href="#c14" x="560.8" y="597.5"/><use href="#l5" x="563.1" y="576.2"/><use href="#c06" x="598.5" y="560.9"/><use href="#c16" x="572" y="547.7"/><use href="#c16" x="584.7" y="565.1"/><use href="#c05" x="555.8" y="593.7"/><use href="#c0b" x="560.1" y="572.2"/><use href="#c02" x="579.4" y="579.2"/><use href="#l2" x="576.5" y="554.9"/><use href="#l1" x="538.7" y="593.6"/><use href="#l0" x="544.6" y="599.2"/><use href="#c05" x="556" y="568.3"/><use href="#c06" x="556.2" y="555.2"/><use href="#l0" x="564.4" y="587.8"/><use href="#c08" x="560.9" y="551.7"/><use href="#c18" x="581.9" y="569.6"/><use href="#c16" x="545.1" y="582.1"/><use href="#c07" x="581.4" y="567.3"/><use href="#c06" x="547.7" y="594.8"/><use href="#c18" x="572.7" y="582.1"/><use href="#c07" x="560.6" y="591.9"/><use href="#c08" x="556.2" y="557.1"/></g>
<g stroke="#b80a0a" stroke-width="0.62"><use href="#c08" x="583.9" y="566.8"/><use href="#l4" x="574.2" y="567.2"/><use href="#c15" x="544.4" y="593.1"/><use href="#c05" x="569.4" y="548.1"/><use href="#c15" x="548.1" y="603.7"/><use href="#l2" x="551.8" y="587.6"/><use href="#c16" x="599.2" y="566.9"/><use href="#c06" x="546.5" y="601.4"/><use href="#c05" x="587.8" y="570.3"/><use href="#l5" x="591.7" y="562.5"/><use href="#c1a" x="576.3" y="581.8"/><use href="#c17" x="598.3" y="572.3"/><use href="#c13" x="561" y="579.8"/><use href="#c18" x="597.9" y="566.2"/><use href="#c05" x="560.1" y="584.9"/><use href="#c05" x="542.9" y="603.8"/><use href="#l2" x="553.8" y="589.9"/><use href="#c14" x="538.6" y="590.3"/><use href="#c17" x="560.6" y="599.1"/><use href="#c05" x="592.6" y="566.9"/><use href="#c07" x="594" y="559.5"/><use href="#c06" x="573.8" y="558.3"/><use href="#c06" x="617.2" y="579.4"/><use href="#c15" x="545.7" y="588.8"/><use href="#c07" x="564.9" y="565.1"/><use href="#c17" x="569.9" y="565.2"/><use href="#c16" x="595.4" y="563.2"/></g>
<g stroke="#1010b0" stroke-width="0.62"><use href="#c16" x="605.4" y="571"/><use href="#c15" x="617.5" y="581.3"/><use href="#c06" x="597.5" y="582.2"/><use href="#c05" x="608.8" y="566.6"/><use href="#c10" x="597.2" y="536.1"/><use href="#c16" x="557.7" y="567.5"/><use href="#c18" x="600.4" y="592.2"/><use href="#c15" x="610.5" y="569.5"/><use href="#c06" x="607.4" y="570.1"/><use href="#c17" x="610.1" y="562.9"/><use href="#c17" x="599.6" y="570.9"/><use href="#l0" x="605" y="600"/><use href="#l5" x="592.7" y="567"/><use href="#c17" x="555.8" y="548.2"/><use href="#c06" x="601.9" y="579.7"/><use href="#c16" x="545" y="567.7"/><use href="#c06" x="616" y="567.1"/><use href="#c15" x="596.4" y="578.7"/><use href="#c19" x="598.1" y="535.7"/><use href="#c06" x="615.8" y="586.6"/><use href="#c0b" x="573.9" y="576.9"/><use href="#c07" x="601.9" y="558.2"/><use href="#c10" x="547.5" y="557.8"/><use href="#c05" x="548.6" y="562.1"/><use href="#c17" x="577.9" y="549.8"/><use href="#l4" x="611.5" y="589.2"/></g>
<g stroke="#b80a0a" stroke-width="0.62"><use href="#l3" x="537.7" y="593"/><use href="#l0" x="548.5" y="581"/><use href="#c15" x="595.4" y="552.8"/><use href="#c13" x="577" y="558.7"/><use href="#c16" x="545.1" y="551"/><use href="#c04" x="555.4" y="583.2"/><use href="#l0" x="562.5" y="563.1"/><use href="#l0" x="567.9" y="546.6"/><use href="#c06" x="572.8" y="580.9"/><use href="#c17" x="576" y="548.4"/><use href="#c06" x="557.8" y="604.7"/><use href="#c17" x="592.5" y="554.3"/><use href="#c17" x="577.8" y="570.5"/><use href="#l1" x="549.4" y="551.5"/><use href="#l3" x="609.1" y="572.3"/><use href="#l2" x="563.9" y="587"/><use href="#c07" x="573.1" y="554.8"/><use href="#l4" x="574.9" y="571.5"/><use href="#c11" x="559.1" y="567.5"/><use href="#c08" x="600.5" y="587.1"/><use href="#l0" x="551.4" y="561.7"/><use href="#c06" x="560.4" y="564.8"/><use href="#c16" x="571.3" y="546"/><use href="#c16" x="610.3" y="568.7"/><use href="#c05" x="576.3" y="555.3"/><use href="#c12" x="561.8" y="580"/></g>
<g stroke="#b80a0a" stroke-width="0.62"><use href="#c07" x="584.5" y="579"/><use href="#c07" x="561.1" y="601.8"/><use href="#c03" x="568.9" y="563.8"/><use href="#c04" x="557.6" y="587.5"/><use href="#c08" x="572" y="581"/><use href="#c15" x="560.7" y="584.2"/><use href="#c17" x="572.4" y="553"/><use href="#c06" x="576.4" y="564.8"/><use href="#c15" x="557.2" y="602.9"/><use href="#c09" x="563.9" y="579"/><use href="#c11" x="572.8" y="578.2"/><use href="#c10" x="580" y="571.4"/><use href="#l2" x="563.1" y="549.4"/><use href="#c02" x="576.1" y="565.4"/><use href="#l4" x="548.5" y="558.9"/><use href="#c06" x="600.4" y="590"/><use href="#c05" x="562.2" y="564.6"/><use href="#c07" x="591.9" y="568.9"/><use href="#l2" x="585.8" y="557.6"/><use href="#c05" x="555.7" y="599.2"/><use href="#c05" x="562.4" y="567.9"/><use href="#c04" x="562" y="591.2"/><use href="#c07" x="547" y="577"/><use href="#c15" x="553.3" y="591.6"/><use href="#c04" x="560.5" y="593.3"/><use href="#l5" x="553.8" y="561.3"/></g>
<text x="579" y="632.5" font-size="8.4" text-anchor="middle" font-weight="normal" fill="#111" >AF_unmasked_model1</text>
<text x="579" y="642" font-size="8.4" text-anchor="middle" font-weight="normal" fill="#111" >_pred9</text>
<path d="M326 173.1C326.4 174.3 327.2 178.3 328.3 180C329.5 181.7 331.5 183.8 333 183.4C334.6 183 337.1 179.5 337.7 177.7C338.3 175.9 336.7 173.3 336.6 172.4" stroke="#62cccc" stroke-width="0.9" fill="none"/>
<path d="M333.5 172.1C333.8 173.3 334.4 177.5 335.3 179.2C336.2 180.8 337.7 182.6 338.9 182.2C340.2 181.9 342.1 178.8 342.6 177.1C343 175.4 341.8 172.8 341.7 171.9" stroke="#62cccc" stroke-width="0.9" fill="none"/>
<path d="M341.2 173.9C341.4 174.6 342 177.1 342.8 178.3C343.6 179.5 344.9 181.3 346 181C347 180.7 348.8 177.9 349.2 176.5C349.6 175.1 348.5 173.3 348.4 172.7" stroke="#e8343a" stroke-width="0.9" fill="none"/>
<path d="M345.4 171.9C345.7 172.8 346.4 175.8 347.5 177C348.5 178.2 350.3 179.3 351.7 179.1C353.1 178.9 355.4 176.7 356 175.6C356.5 174.4 355.1 172.7 354.9 172.1" stroke="#62cccc" stroke-width="0.9" fill="none"/>
<path d="M351.4 173.5C351.8 174.2 352.5 176.7 353.7 177.9C354.9 179.1 356.8 180.7 358.3 180.4C359.9 180.2 362.4 178 363 176.2C363.5 174.5 362 171 361.8 169.9" stroke="#e8343a" stroke-width="0.9" fill="none"/>
<path d="M357.9 174C358.3 174.5 359.1 176.1 360.2 176.9C361.3 177.8 363.2 179.3 364.7 179C366.2 178.8 368.6 177.1 369.2 175.5C369.8 173.9 368.3 170.4 368.1 169.3" stroke="#e8343a" stroke-width="0.9" fill="none"/>
<path d="M366.1 170.6C366.4 172.1 366.9 177.6 367.7 179.7C368.6 181.7 369.9 183.3 371 183C372.1 182.6 373.8 179.6 374.2 177.5C374.6 175.4 373.6 171.5 373.4 170.3" stroke="#e8343a" stroke-width="0.9" fill="none"/>
<path d="M371 171.8C371.4 173.1 372.1 178 373.2 179.9C374.3 181.9 376.2 183.7 377.6 183.4C379.1 183 381.5 179.5 382.1 177.7C382.6 175.9 381.2 173.4 381 172.6" stroke="#e8343a" stroke-width="0.9" fill="none"/>
<path d="M377.1 173.2C377.5 174 378.2 176.8 379.4 178C380.5 179.3 382.4 180.9 383.9 180.6C385.4 180.3 387.8 177.7 388.4 176.3C389 174.9 387.5 172.6 387.3 171.9" stroke="#62cccc" stroke-width="0.9" fill="none"/>
<path d="M383 172.6C383.3 174 383.8 178.7 384.5 180.7C385.3 182.7 386.5 184.9 387.5 184.5C388.5 184 390.1 180.6 390.5 178.2C390.9 175.8 389.9 171.5 389.8 170.2" stroke="#62cccc" stroke-width="0.9" fill="none"/>
<path d="M387.9 173.5C388.3 174.6 389 178.5 390.1 180.2C391.2 181.9 393.1 184 394.5 183.7C396 183.3 398.4 180.2 398.9 177.8C399.5 175.4 398 170.6 397.8 169.1" stroke="#62cccc" stroke-width="0.9" fill="none"/>
<path d="M452 176.5C452.4 177.5 453.1 180.9 454.1 182.4C455.2 183.8 457 185.4 458.4 185.1C459.8 184.8 462.1 182.5 462.6 180.5C463.2 178.6 461.8 174.6 461.6 173.4" stroke="#3b3bea" stroke-width="0.9" fill="none"/>
<path d="M461.5 175.3C461.8 176.7 462.5 182 463.6 184.1C464.6 186.1 466.4 187.9 467.8 187.5C469.2 187.1 471.5 183.9 472 181.8C472.6 179.6 471.2 175.7 471 174.5" stroke="#62cccc" stroke-width="0.9" fill="none"/>
<path d="M470.7 174.1C471 175.8 471.7 182 472.6 184.2C473.6 186.5 475.3 188.2 476.6 187.8C477.9 187.4 480 184 480.5 181.9C481 179.8 479.7 176.3 479.6 175.2" stroke="#62cccc" stroke-width="0.9" fill="none"/>
<path d="M475.9 174.8C476.2 176.2 477 181.4 478.1 183.3C479.1 185.2 481 186.8 482.4 186.4C483.9 186.1 486.3 182.8 486.8 181.2C487.4 179.6 485.9 177.6 485.7 176.9" stroke="#3b3bea" stroke-width="0.9" fill="none"/>
<path d="M485.3 173.2C485.6 174.5 486.3 179.5 487.4 181.2C488.5 182.8 490.2 183.6 491.7 183.4C493.1 183.1 495.4 181.3 495.9 179.7C496.5 178.1 495 174.6 494.9 173.6" stroke="#62cccc" stroke-width="0.9" fill="none"/>
<path d="M493.5 174.9C493.9 176.5 494.6 182.6 495.6 184.9C496.7 187.3 498.4 189.2 499.8 188.8C501.2 188.3 503.5 184.7 504 182.4C504.5 180.1 503.1 176.1 502.9 174.9" stroke="#62cccc" stroke-width="0.9" fill="none"/>
<path d="M499.5 176.3C499.8 177.4 500.2 181 500.9 182.5C501.6 184 502.7 185.6 503.6 185.3C504.5 185 506 182.4 506.3 180.7C506.7 178.9 505.8 175.7 505.6 174.7" stroke="#62cccc" stroke-width="0.9" fill="none"/>
<path d="M505.2 177C505.5 177.8 506.2 180.5 507.2 181.7C508.2 182.9 509.9 184.5 511.3 184.2C512.7 183.9 514.9 181.7 515.4 180.1C515.9 178.5 514.5 175.5 514.4 174.5" stroke="#3b3bea" stroke-width="0.9" fill="none"/>
<path d="M511.5 173C511.8 174.3 512.5 179.2 513.5 180.9C514.5 182.5 516.2 183.2 517.5 183C518.9 182.7 521.1 180.6 521.6 179.5C522.1 178.4 520.7 176.7 520.5 176.1" stroke="#62cccc" stroke-width="0.9" fill="none"/>
<path d="M519.2 175.8C519.5 177.2 520.2 182.1 521.2 184C522.3 186 524 187.8 525.3 187.5C526.7 187.1 528.9 184.1 529.4 181.7C529.9 179.4 528.6 174.9 528.4 173.6" stroke="#62cccc" stroke-width="0.9" fill="none"/>
<path d="M592 175.2C592.3 175.7 593 177.6 594 178.4C595 179.3 596.6 180.5 597.9 180.3C599.3 180.1 601.4 178.3 601.9 177.2C602.4 176 601.1 174 600.9 173.3" stroke="#62cccc" stroke-width="0.9" fill="none"/>
<path d="M597.8 173.3C598.2 174.3 598.9 178.1 600 179.5C601 180.9 602.8 182.1 604.2 181.8C605.6 181.6 607.8 179.1 608.4 177.9C608.9 176.8 607.5 175.3 607.3 174.8" stroke="#62cccc" stroke-width="0.9" fill="none"/>
<path d="M606.9 171C607.1 172.4 607.6 177.7 608.4 179.6C609.2 181.4 610.4 182.2 611.5 181.9C612.5 181.7 614.1 179.6 614.5 178C614.9 176.4 613.9 173.2 613.8 172.2" stroke="#62cccc" stroke-width="0.9" fill="none"/>
<path d="M613.6 175.7C614 176.6 614.7 179.5 615.8 180.8C616.9 182.2 618.8 184.1 620.2 183.7C621.7 183.4 624.1 180.6 624.6 178.9C625.2 177.1 623.7 174.3 623.5 173.4" stroke="#62cccc" stroke-width="0.9" fill="none"/>
<path d="M623.3 174.8C623.7 175.4 624.5 177.5 625.7 178.4C626.9 179.3 628.9 180.4 630.5 180.2C632.1 180 634.7 178.6 635.3 177.1C635.9 175.7 634.3 172.4 634.1 171.5" stroke="#62cccc" stroke-width="0.9" fill="none"/>
<path d="M630.9 173.3C631.2 174.5 631.7 179.1 632.5 180.9C633.3 182.7 634.6 184.2 635.6 183.9C636.6 183.5 638.3 180.7 638.7 178.9C639.1 177.2 638.1 174.2 637.9 173.2" stroke="#62cccc" stroke-width="0.9" fill="none"/>
<path d="M635.2 173.1C635.5 174.4 636 178.9 636.8 180.7C637.6 182.4 638.9 183.8 640 183.5C641.1 183.2 642.8 180.6 643.2 178.8C643.6 177 642.6 173.7 642.4 172.7" stroke="#62cccc" stroke-width="0.9" fill="none"/>
<path d="M639.5 171.4C639.8 172.6 640.5 177 641.4 178.6C642.4 180.1 644 180.7 645.2 180.5C646.5 180.3 648.6 178.5 649 177.3C649.5 176 648.2 173.8 648.1 173.2" stroke="#f5a035" stroke-width="0.9" fill="none"/>
<path d="M647.5 173.1C647.8 174 648.3 177.4 649.1 178.6C649.8 179.8 651.1 180.8 652.2 180.6C653.2 180.4 654.9 178.5 655.3 177.3C655.6 176.1 654.6 174.1 654.5 173.4" stroke="#62cccc" stroke-width="0.9" fill="none"/>
<path d="M651.9 173.9C652.1 175.3 652.5 180.3 653.1 182.3C653.7 184.3 654.7 186.3 655.5 185.9C656.3 185.5 657.6 181.9 657.9 180C658.2 178 657.4 175.2 657.3 174.2" stroke="#62cccc" stroke-width="0.9" fill="none"/>
<path d="M322 96C321.3 98 317.7 104.3 318 108C318.3 111.7 323.5 114.7 324 118C324.5 121.3 320.3 125 321 128C321.7 131 325.5 135.3 328 136C330.5 136.7 334.7 132.7 336 132" stroke="#62cccc" stroke-width="1.2" fill="none"/>
<path d="M321 128L331 134" stroke="#62cccc" stroke-width="4.4" stroke-linecap="round"/>
<path d="M321 128L331 134" stroke="#469292" stroke-width="4" stroke-dasharray="1.1 1.7"/>
<path d="M330 180C330.7 181.3 331.5 187 334 188C336.5 189 341.3 185.7 345 186C348.7 186.3 352.2 190 356 190C359.8 190 364 185.8 368 186C372 186.2 377 191.3 380 191C383 190.7 385 185.2 386 184" stroke="#e8343a" stroke-width="1.0" fill="none"/>
<path d="M340 182C341.3 183.5 344.3 189.3 348 191C351.7 192.7 359.7 191.8 362 192" stroke="#62cccc" stroke-width="1.0" fill="none"/>
<path d="M380 170C381.3 171.3 387.3 175.3 388 178C388.7 180.7 384.7 184.7 384 186" stroke="#e8343a" stroke-width="1.0" fill="none"/>
<path d="M337.8 97L334.7 119.2M353.3 135.5L348.4 178.3M369.5 151L368.2 174.2M341.8 148.5L344.4 173.8M338.7 88.7L348.3 95.6M350.2 80.6L351.2 89.6M385.1 92.6L380 97.3M386.3 141.5L384.8 169.3" stroke="#62cccc" stroke-width="5.5" stroke-linecap="round"/><path d="M337.8 97L334.7 119.2M353.3 135.5L348.4 178.3M369.5 151L368.2 174.2M341.8 148.5L344.4 173.8M338.7 88.7L348.3 95.6M350.2 80.6L351.2 89.6M385.1 92.6L380 97.3M386.3 141.5L384.8 169.3" stroke="#469292" stroke-width="5" stroke-dasharray="1.5 2.1"/>
<path d="M394.9 64.9L388.5 73.7M358.8 28.5L368.6 29.4M369.9 25.2L379.1 28.1M295.6 92.3L288.5 95.2M370.4 63.7L363.7 69M367.9 40.8L372.9 44.9M353 23.5L348.3 33.3M355 57.5L346.7 58.8M393.9 52.3L396.9 61.7M383.5 26.4L390.6 33.1M300.4 65L306.8 66.8M332.1 100.2L329 118.2M384.3 36L379.9 38.9" stroke="#e8343a" stroke-width="5" stroke-linecap="round"/><path d="M394.9 64.9L388.5 73.7M358.8 28.5L368.6 29.4M369.9 25.2L379.1 28.1M295.6 92.3L288.5 95.2M370.4 63.7L363.7 69M367.9 40.8L372.9 44.9M353 23.5L348.3 33.3M355 57.5L346.7 58.8M393.9 52.3L396.9 61.7M383.5 26.4L390.6 33.1M300.4 65L306.8 66.8M332.1 100.2L329 118.2M384.3 36L379.9 38.9" stroke="#a72529" stroke-width="4.5" stroke-dasharray="1.5 2.1"/>
<path d="M354.5 57.5L357.2 63.3M382.1 48L390.2 53.5M361.2 62.3L359 69.6M305.8 68.4L314.5 70.7M370.8 46L365.9 47.1M300.5 66.1L296.6 70.2M320.9 91.6L313.2 96.3M345.5 153L348.1 174.8M313.3 80.3L308.4 87.7M355.8 35.2L355.3 44.3M377.4 82L381.4 87.5M381.1 93.6L375.9 97.5M364 28.8L357.6 32.5M365 150.1L363.7 177.8" stroke="#e8343a" stroke-width="5" stroke-linecap="round"/><path d="M354.5 57.5L357.2 63.3M382.1 48L390.2 53.5M361.2 62.3L359 69.6M305.8 68.4L314.5 70.7M370.8 46L365.9 47.1M300.5 66.1L296.6 70.2M320.9 91.6L313.2 96.3M345.5 153L348.1 174.8M313.3 80.3L308.4 87.7M355.8 35.2L355.3 44.3M377.4 82L381.4 87.5M381.1 93.6L375.9 97.5M364 28.8L357.6 32.5M365 150.1L363.7 177.8" stroke="#a72529" stroke-width="4.5" stroke-dasharray="1.5 2.1"/>
<path d="M386.3 64.2L391.4 72.3M380.7 62L379.3 69.9M379.3 33.9L369.1 37M384.4 61.5L374.1 61.8M329.4 75.2L322.9 82.3M323.2 69L325.8 77.6M395.5 46.3L397 51.8M389.1 81.9L394.5 83.4M366.5 81.2L357.4 85.8M307.4 67L310.6 70.9M368.4 45.8L373.3 49.4M352.7 79.4L355.4 83.7M367.8 60.3L371.6 69.8" stroke="#62cccc" stroke-width="4.5" stroke-linecap="round"/><path d="M386.3 64.2L391.4 72.3M380.7 62L379.3 69.9M379.3 33.9L369.1 37M384.4 61.5L374.1 61.8M329.4 75.2L322.9 82.3M323.2 69L325.8 77.6M395.5 46.3L397 51.8M389.1 81.9L394.5 83.4M366.5 81.2L357.4 85.8M307.4 67L310.6 70.9M368.4 45.8L373.3 49.4M352.7 79.4L355.4 83.7M367.8 60.3L371.6 69.8" stroke="#469292" stroke-width="4" stroke-dasharray="1.1 1.7"/>
<path d="M363.4 45.4C363.8 45.7 364.9 46.8 365.8 47.1C366.7 47.4 368.1 46.8 368.8 47.2C369.6 47.7 370.1 48.8 370.4 49.8C370.7 50.7 370.8 52.2 370.8 52.7M372.3 68.5C372.4 69 372.8 70.4 373 71.4C373.2 72.4 373 73.5 373.3 74.4C373.6 75.4 373.9 76.8 374.6 77.1C375.3 77.4 377 76.5 377.5 76.3M325.6 82.2C325.7 82.6 326.5 84.1 326.5 85C326.5 86 325.4 86.9 325.5 87.8C325.6 88.7 326.3 89.9 327 90.4C327.8 90.8 329.5 90.6 330 90.6M386.4 52.4C386.5 52.9 387.2 54.4 387.1 55.3C387.1 56.3 386.6 57.7 385.9 58.1C385.2 58.5 383.3 57.4 383 57.8C382.6 58.2 383.8 60.2 383.9 60.6M311 69.9C311.1 70.4 311.2 72 311.7 72.8C312.2 73.7 313.5 74.1 313.8 75C314.1 75.8 313.1 77 313.4 78C313.6 78.9 314.7 80 315 80.4M388.3 63.8C388.5 64.2 389.1 65.6 389.3 66.6C389.4 67.6 389.3 68.6 389.3 69.6C389.3 70.6 389.6 71.9 389.1 72.6C388.6 73.3 386.8 73.6 386.3 73.8M388.1 42.7C387.8 43.1 386.5 44.3 386.3 45.2C386.2 46.1 386.5 47.7 387.1 48.1C387.8 48.5 389.1 47.7 390.1 47.7C391.1 47.7 392.6 48 393.1 48M357.3 46.4C357.5 46.9 357.6 48.7 358.2 49.2C358.9 49.8 360.3 49.2 361.2 49.6C362.1 50 362.8 50.9 363.6 51.5C364.3 52.1 365.5 53.1 365.9 53.4M310.2 66.6C310.7 66.8 312.1 67.4 313.1 67.6C314 67.7 315.1 67.6 316.1 67.4C317 67.1 317.8 66.3 318.8 66.1C319.7 65.9 321.3 66.2 321.8 66.3M355.5 63.1C356 63.3 357.8 63.6 358.3 64.3C358.7 65 357.9 66.7 358.4 67.3C358.9 67.9 360.4 67.7 361.4 67.8C362.4 67.9 363.9 68 364.4 68M338.1 76.3C337.9 76.8 336.9 78.4 337.2 79.2C337.5 79.9 339.1 80.1 339.7 80.8C340.4 81.5 340.8 82.5 341.3 83.4C341.8 84.2 342.6 85.5 342.9 86M317.6 97.5C318 97.8 319.7 98.4 320.1 99.2C320.4 100 319.8 101.2 319.7 102.2C319.7 103.2 319.3 104.6 319.8 105.2C320.3 105.7 322.3 105.4 322.8 105.4M362.6 75C362.4 75.5 362.3 77.4 361.7 77.9C361.1 78.4 359.3 77.3 358.7 77.8C358.1 78.2 358.9 80.4 358.3 80.7C357.8 81.1 355.9 80.1 355.4 80" stroke="#e8343a" stroke-width="1.1"/>
<path d="M351.6 36.6L354.4 42.7M392.1 22.4L383.2 27.9M355 44.8L358.1 49.2M360.3 24.9L352.9 25M321.8 81.5L320.5 90.7M314.7 76.3L307.5 82.4M361.3 38.6L362.2 43.5M359.7 50.3L359.9 58.2M384.9 19.2L387.3 24.1M376.5 57L380.4 61.7M363.4 42.1L369.4 51M360 32.6L357.8 37.2" stroke="#e8343a" stroke-width="4.5" stroke-linecap="round"/><path d="M351.6 36.6L354.4 42.7M392.1 22.4L383.2 27.9M355 44.8L358.1 49.2M360.3 24.9L352.9 25M321.8 81.5L320.5 90.7M314.7 76.3L307.5 82.4M361.3 38.6L362.2 43.5M359.7 50.3L359.9 58.2M384.9 19.2L387.3 24.1M376.5 57L380.4 61.7M363.4 42.1L369.4 51M360 32.6L357.8 37.2" stroke="#a72529" stroke-width="4" stroke-dasharray="1.1 1.7"/>
<path d="M325.3 84.6L321.3 88.9M355.5 59.2L346.4 60.4M341.5 35.3L351 37M374.9 83.8L379 93M311.1 68.3L307.5 74.4M352.1 44.6L361.3 46M385.6 31L380.9 37.3M293.9 75.3L295.1 81M388.3 72.8L398.6 75.4M380.1 73.3L385.4 78.2M374.5 64.8L384.2 68.4M377.5 27.4L372 33.7" stroke="#62cccc" stroke-width="4.5" stroke-linecap="round"/><path d="M325.3 84.6L321.3 88.9M355.5 59.2L346.4 60.4M341.5 35.3L351 37M374.9 83.8L379 93M311.1 68.3L307.5 74.4M352.1 44.6L361.3 46M385.6 31L380.9 37.3M293.9 75.3L295.1 81M388.3 72.8L398.6 75.4M380.1 73.3L385.4 78.2M374.5 64.8L384.2 68.4M377.5 27.4L372 33.7" stroke="#469292" stroke-width="4" stroke-dasharray="1.1 1.7"/>
<path d="M360.5 70.7C360.7 71.1 361.5 72.6 361.5 73.5C361.4 74.5 361 75.7 360.3 76.3C359.6 76.9 358.3 76.7 357.4 77.2C356.6 77.7 355.6 78.9 355.3 79.3M377.7 70.3C377.3 70.6 375.9 71.5 375.5 72.4C375.1 73.2 375.2 74.4 375.1 75.3C374.9 76.3 375.3 77.9 374.7 78.3C374.1 78.8 372.2 78.2 371.7 78.2M377 87.1C377 87.6 377.2 89.1 377.4 90C377.5 91 377.8 92 378.1 93C378.3 93.9 378.7 94.9 379 95.8C379.4 96.7 380 98.1 380.2 98.6M390.5 68.4C390.2 68.8 389.4 70.1 388.9 70.9C388.4 71.8 388 72.7 387.4 73.5C386.9 74.4 386.1 75.1 385.8 76C385.4 76.9 385.4 78.5 385.4 79M354.1 20.1C354.6 20 356.2 19.7 356.9 19.1C357.7 18.5 357.9 17.3 358.6 16.6C359.2 15.9 360.3 14.6 360.9 14.7C361.6 14.8 362.3 16.8 362.6 17.3M347.2 37.4C346.8 37.6 345.6 38.8 344.6 39C343.7 39.1 342.5 38.9 341.7 38.4C340.9 38 340.4 36.8 339.6 36.2C338.8 35.6 337.4 35 337 34.8M361.2 45.4C361.2 44.9 361.9 42.8 361.4 42.5C361 42.1 359.2 43.8 358.6 43.5C358 43.2 358.5 41.3 357.9 40.6C357.3 39.9 355.7 39.4 355.2 39.2M391.5 35C391.9 35.3 393.4 36.1 393.8 36.9C394.3 37.7 393.9 38.9 394.3 39.9C394.6 40.8 395.2 41.6 395.7 42.5C396.1 43.4 396.6 44.8 396.8 45.3M364.5 72.7C364.2 73.1 362.8 74.2 362.7 75.1C362.5 75.9 363.8 76.9 363.7 77.9C363.7 78.8 362.8 79.7 362.6 80.6C362.4 81.6 362.6 83.1 362.7 83.6M388.3 66.3C388.6 66.8 389.1 68.2 389.7 69C390.2 69.8 390.9 70.7 391.7 71.2C392.6 71.7 394 71.2 394.7 71.8C395.3 72.4 395.4 74.2 395.6 74.7M372.1 47C372.3 47.4 373 48.7 373.4 49.6C373.8 50.6 374.5 51.6 374.4 52.5C374.3 53.4 372.8 54.1 372.7 55C372.6 55.8 373.6 57.3 373.8 57.8M325.9 78.2C325.4 78.3 323.9 78.8 322.9 78.7C322 78.6 320.8 78.3 320.1 77.7C319.4 77.1 319.2 75.8 318.5 75.2C317.7 74.5 316.2 74.1 315.7 73.9" stroke="#e8343a" stroke-width="1.1"/>
<path d="M391.3 29.8L386 34.5M308.1 75.6L299.5 76.7M345.6 71.1L339.9 76.4M346 35.5L354.4 35.9M357 16.7L362.8 25.1M374 73.6L371.9 82M362.3 19.5L355.9 21.6M352.9 72.6L342.7 74.5M300 70.3L296 73.4M377.6 81.9L370.3 87.9M311.4 88.6L307.1 97.6M381.6 65.9L390.6 69.5M369.7 31.8L375.5 36.4M347 82.4L340.6 87.2M391.1 58L396.1 58.5M390.4 83.8L381.6 85.8" stroke="#e8343a" stroke-width="4" stroke-linecap="round"/><path d="M391.3 29.8L386 34.5M308.1 75.6L299.5 76.7M345.6 71.1L339.9 76.4M346 35.5L354.4 35.9M357 16.7L362.8 25.1M374 73.6L371.9 82M362.3 19.5L355.9 21.6M352.9 72.6L342.7 74.5M300 70.3L296 73.4M377.6 81.9L370.3 87.9M311.4 88.6L307.1 97.6M381.6 65.9L390.6 69.5M369.7 31.8L375.5 36.4M347 82.4L340.6 87.2M391.1 58L396.1 58.5M390.4 83.8L381.6 85.8" stroke="#a72529" stroke-width="3.6" stroke-dasharray="1.1 1.7"/>
<path d="M370.2 73.5L363.9 74.1M315.3 83L309 89.6M388.8 62.6L378.1 63.3M385.1 30.3L380.2 37.7M352.3 88.8L355.5 130.5M344.2 80.6L345.1 89.3M310.4 86.8L310.8 92.3M373.7 87.7L376.4 91.9M361.6 43.2L367.1 44.6M337.7 67.9L341.8 74.8M345.4 35.8L347.3 46.1M348.1 55.2L345.1 60M378.7 15.3L374.6 20.1" stroke="#e8343a" stroke-width="5" stroke-linecap="round"/><path d="M370.2 73.5L363.9 74.1M315.3 83L309 89.6M388.8 62.6L378.1 63.3M385.1 30.3L380.2 37.7M352.3 88.8L355.5 130.5M344.2 80.6L345.1 89.3M310.4 86.8L310.8 92.3M373.7 87.7L376.4 91.9M361.6 43.2L367.1 44.6M337.7 67.9L341.8 74.8M345.4 35.8L347.3 46.1M348.1 55.2L345.1 60M378.7 15.3L374.6 20.1" stroke="#a72529" stroke-width="4.5" stroke-dasharray="1.5 2.1"/>
<path d="M383 48.3L383.6 53.5M321.6 82.9L329.6 88.9M374.1 32.8L385 33.3M372 84.1L376 85.5M352.1 76.2L360.6 76.7M326 148.6L328.2 171M378.5 103.9L375.5 138.1M366.6 13.4L364.4 20.3M296.5 89.6L288.5 96.6M357.9 82.9L351.8 87.6M377.6 46.2L373.2 54.7M373.9 84.4L374.6 89.5M363.7 68.2L357.6 70.7M373.9 78.9L371 85.5M349.1 62L346.2 66.7M362.2 20.2L360.2 26.3" stroke="#62cccc" stroke-width="5" stroke-linecap="round"/><path d="M383 48.3L383.6 53.5M321.6 82.9L329.6 88.9M374.1 32.8L385 33.3M372 84.1L376 85.5M352.1 76.2L360.6 76.7M326 148.6L328.2 171M378.5 103.9L375.5 138.1M366.6 13.4L364.4 20.3M296.5 89.6L288.5 96.6M357.9 82.9L351.8 87.6M377.6 46.2L373.2 54.7M373.9 84.4L374.6 89.5M363.7 68.2L357.6 70.7M373.9 78.9L371 85.5M349.1 62L346.2 66.7M362.2 20.2L360.2 26.3" stroke="#469292" stroke-width="4.5" stroke-dasharray="1.5 2.1"/>
<path d="M361.2 121.9L363.8 146.9M329.9 122.4L331.2 143.8M356.6 87.8L359.8 130.8M338.4 93.6L342.7 115.1M338.8 118.7L342.9 147.8M369.7 140.2L376.3 176.4" stroke="#62cccc" stroke-width="6" stroke-linecap="round"/><path d="M361.2 121.9L363.8 146.9M329.9 122.4L331.2 143.8M356.6 87.8L359.8 130.8M338.4 93.6L342.7 115.1M338.8 118.7L342.9 147.8M369.7 140.2L376.3 176.4" stroke="#469292" stroke-width="5.4" stroke-dasharray="1.5 2.1"/>
<path d="M368.3 62.9C368 63.4 367 64.6 366.8 65.6C366.6 66.5 367.1 67.5 367.2 68.5C367.3 69.5 366.8 70.8 367.3 71.5C367.8 72.2 369.6 72.5 370.1 72.8M365.3 47.9C365 48.3 364 49.5 363.4 50.2C362.7 51 362.2 51.9 361.4 52.5C360.7 53.1 359.3 53.2 358.8 54C358.4 54.7 358.7 56.5 358.7 57M339.3 66.6C339.4 67.1 339.9 68.7 339.7 69.6C339.5 70.5 338.9 71.6 338.1 72.1C337.4 72.7 335.8 73.1 335.2 72.8C334.6 72.4 334.5 70.4 334.3 69.9M367.7 77.2C367.3 77 365.8 76.1 364.9 76.2C364 76.2 362.9 76.8 362.2 77.5C361.6 78.2 361.8 79.6 361.3 80.3C360.7 81.1 359.2 81.7 358.8 82M312.8 99.4C312.5 99.8 311.4 100.9 311 101.8C310.5 102.6 309.9 104.1 310.3 104.7C310.6 105.2 312.3 104.8 313.2 105C314.2 105.3 315.6 105.9 316.1 106.1M350.1 88C350.4 88.4 351.7 89.3 352.1 90.2C352.5 91.1 352.2 92.3 352.5 93.2C352.9 94.1 353.5 95.3 354.2 95.6C355 96 356.7 95.3 357.2 95.3M363.7 43.7C363.3 43.4 362 42.6 361.3 41.9C360.6 41.2 359.3 40.3 359.4 39.6C359.4 38.9 360.9 37.9 361.8 37.8C362.6 37.7 364.1 38.7 364.5 38.9M369.4 55.6C369.2 56 369.1 57.9 368.5 58.4C367.8 58.9 366.3 58 365.5 58.3C364.6 58.7 363.7 59.8 363.5 60.6C363.4 61.5 364.4 63 364.5 63.5M366.2 16.7C366.5 17.1 367.2 18.8 368 19.2C368.7 19.5 370.3 19.3 370.9 18.8C371.6 18.2 371.8 16.9 371.9 15.9C372 15 371.7 13.4 371.6 12.9M399.1 40.4C399.2 40.9 399.6 42.4 399.9 43.3C400.2 44.3 400.5 45.3 400.9 46.2C401.4 47 402.6 47.7 402.7 48.6C402.8 49.5 401.8 50.9 401.6 51.4M386.8 67.7C386.5 68.2 385.9 69.7 385.2 70.3C384.4 70.8 383.2 71.1 382.3 70.9C381.3 70.8 380.4 70 379.7 69.4C378.9 68.8 378.1 67.5 377.8 67.1M366.6 71.5C366.4 71.9 365.9 73.7 365.1 74.1C364.4 74.5 362.9 74.5 362.1 74.1C361.3 73.6 360.5 72.5 360.4 71.6C360.3 70.7 361.2 69.2 361.4 68.8M364.6 76.4C365.1 76.3 367.1 75.8 367.6 76.3C368 76.8 367.4 78.3 367.4 79.3C367.3 80.3 367.5 81.4 367.1 82.3C366.7 83.1 365.3 83.9 364.9 84.3M351.9 85.2C351.9 85.7 352 87.2 351.8 88.2C351.7 89.2 351.5 90.3 351 91.1C350.5 91.9 349.3 93 348.6 92.9C347.9 92.9 347.1 91 346.8 90.6M326.1 90.9C325.6 91 323.9 90.6 323.1 91.1C322.3 91.5 321.2 92.8 321.3 93.4C321.4 94.1 323.1 94.4 323.9 94.9C324.7 95.5 325.9 96.5 326.3 96.8M294.1 88.5C294.6 88.7 296 89.6 296.9 89.5C297.8 89.4 298.8 88.6 299.4 87.9C300 87.1 299.8 85.5 300.5 85.1C301.1 84.6 303 85 303.5 85M373.7 61.8C374 61.4 375 60.3 375.6 59.5C376.3 58.8 376.9 57.6 377.7 57.4C378.5 57.1 380.2 57.5 380.6 58.2C381 58.8 380.1 60.6 380 61.1M299.8 89.6C299.3 89.7 297.3 89.7 296.9 90.3C296.5 91 297.3 92.3 297.3 93.3C297.2 94.3 296.8 95.3 296.6 96.3C296.5 97.2 296.5 98.8 296.5 99.3" stroke="#62cccc" stroke-width="1.1"/>
<path d="M327.9 78.2C328.3 78.5 330 79.3 330.3 80.1C330.6 80.9 330 82 330 83C329.9 84 330.5 85.3 330.1 86C329.7 86.8 327.9 87.3 327.5 87.5M348.2 42.5C348.3 43 348.2 44.9 348.8 45.4C349.4 46 350.9 45.6 351.8 45.9C352.7 46.2 354.1 46.7 354.4 47.4C354.6 48.2 353.4 49.8 353.2 50.2M376.8 27C376.3 27.1 374.6 26.9 373.8 27.3C373 27.8 372.6 28.9 372.1 29.7C371.5 30.6 370.7 31.4 370.6 32.3C370.4 33.3 371.1 34.8 371.1 35.3M387.3 50.7C387.7 50.5 389.5 50 389.9 49.2C390.3 48.5 389.9 47.2 389.8 46.2C389.7 45.3 388.9 44.3 389 43.3C389.2 42.4 390.4 41.3 390.7 40.8M301.9 87.1C302.3 87.4 303.7 88.1 304.3 88.9C304.9 89.7 304.9 90.9 305.5 91.7C306 92.5 307.5 92.9 307.7 93.7C307.8 94.5 306.6 96 306.3 96.4M353.8 42.5C353.6 43 353.5 44.6 353 45.4C352.4 46.2 350.9 46.4 350.5 47.2C350.2 48 351 49.2 351 50.2C351 51.2 350.6 52.7 350.5 53.1M294.9 89.4C295.3 89.7 296.7 90.5 297.3 91.3C297.8 92.1 298.3 93.3 298.1 94.2C297.9 95 296.2 95.4 296 96.2C295.7 97.1 296.3 98.7 296.4 99.2M369.9 47.7C370.2 48.1 370.8 49.5 371.5 50.2C372.1 51 372.8 51.8 373.7 52.2C374.6 52.7 375.7 52.5 376.7 52.7C377.6 52.9 379.1 53.3 379.6 53.4M345.5 58.6C345.1 58.3 343.5 56.8 343 57C342.5 57.2 342.9 59.5 342.3 59.9C341.7 60.3 339.6 59.9 339.3 59.4C339 58.9 340.3 57.1 340.5 56.6M366.1 69.1C366.5 69.2 368 69.9 369 69.9C369.9 69.9 370.9 69.4 371.9 69.2C372.9 69.1 373.9 69.2 374.9 69.2C375.9 69.2 377.4 69.2 377.9 69.2M330.1 79.9C329.6 80.1 328.2 80.6 327.3 81C326.3 81.4 325.1 81.6 324.5 82.3C323.9 83 324.3 84.6 323.7 85.2C323 85.7 321.2 85.6 320.7 85.7M342.2 72.1C342.3 72.6 342.1 74.5 342.7 75C343.3 75.5 345.2 74.6 345.7 75.1C346.1 75.6 345 77.8 345.5 78.1C345.9 78.5 347.9 77.4 348.3 77.2" stroke="#e8343a" stroke-width="1.1"/>
<path d="M377.7 27.2L377.9 34.7M356.6 46.7L363.6 49.5M344.7 16.4L350.9 21.1M358.3 46L368.6 46M380.9 64.5L378 68.6M326 83.1L329.6 90.4M393.7 39.9L401.9 41.2M318.4 81.4L325.8 89.6M304.5 78.8L309.4 83.8M382.3 67.3L392.5 70.4M305.7 87.5L303.7 92.9M395.8 49.6L400.5 53.9" stroke="#e8343a" stroke-width="4.5" stroke-linecap="round"/><path d="M377.7 27.2L377.9 34.7M356.6 46.7L363.6 49.5M344.7 16.4L350.9 21.1M358.3 46L368.6 46M380.9 64.5L378 68.6M326 83.1L329.6 90.4M393.7 39.9L401.9 41.2M318.4 81.4L325.8 89.6M304.5 78.8L309.4 83.8M382.3 67.3L392.5 70.4M305.7 87.5L303.7 92.9M395.8 49.6L400.5 53.9" stroke="#a72529" stroke-width="4" stroke-dasharray="1.1 1.7"/>
<path d="M372.3 59.4L376.9 63.4M340.4 71.8L335.4 73.5M328.2 85.2L325.5 90M302.4 71.5L310.1 74.3M311.5 71.6L306.2 73.1M390.3 60.7L390.3 67.9M339.9 68.7L340.3 76.9M348.9 49.3L344 50.5M369 53.8L368.4 61.6M366.2 27.4L360 35.5M325.7 83.1L331.9 89.9" stroke="#62cccc" stroke-width="4" stroke-linecap="round"/><path d="M372.3 59.4L376.9 63.4M340.4 71.8L335.4 73.5M328.2 85.2L325.5 90M302.4 71.5L310.1 74.3M311.5 71.6L306.2 73.1M390.3 60.7L390.3 67.9M339.9 68.7L340.3 76.9M348.9 49.3L344 50.5M369 53.8L368.4 61.6M366.2 27.4L360 35.5M325.7 83.1L331.9 89.9" stroke="#469292" stroke-width="3.6" stroke-dasharray="1.1 1.7"/>
<path d="M363 64.8L360.4 69.4M394.3 83.3L387.2 89.7M371.1 85.1L376.1 88.4M347.8 28.8L354 35.4M363.7 75.1L355.7 82.2M372 63.9L364.4 69.1M369.7 39.1L364.5 45M359.7 63.8L360 72.7M343.7 24.9L346.3 30.3M349.4 51.6L357.4 57.7M317.4 88.1L307.8 89M307.5 68.3L315.1 71.7" stroke="#e8343a" stroke-width="4.5" stroke-linecap="round"/><path d="M363 64.8L360.4 69.4M394.3 83.3L387.2 89.7M371.1 85.1L376.1 88.4M347.8 28.8L354 35.4M363.7 75.1L355.7 82.2M372 63.9L364.4 69.1M369.7 39.1L364.5 45M359.7 63.8L360 72.7M343.7 24.9L346.3 30.3M349.4 51.6L357.4 57.7M317.4 88.1L307.8 89M307.5 68.3L315.1 71.7" stroke="#a72529" stroke-width="4" stroke-dasharray="1.1 1.7"/>
<path d="M395.6 73L391.9 82.5M375.8 81.4L367.4 87.2M372.3 73.7L366.4 74.8M382.7 114.2L388.8 138.2M385.2 49.6L382.2 55M343.2 32.1L348.2 32.6M359.8 51.9L364.2 56.5M370 93.4L368.1 119.7M296.9 66.7L302.8 70.3M296.6 72.3L295.9 79.7M378.1 87.5L380.7 93.3M341.3 66.1L349.2 68.5M351.9 59.4L346 63.1M354.8 35L363.2 35.3M375 82.6L385.7 84.5M372 70.2L368.7 78.8" stroke="#62cccc" stroke-width="5" stroke-linecap="round"/><path d="M395.6 73L391.9 82.5M375.8 81.4L367.4 87.2M372.3 73.7L366.4 74.8M382.7 114.2L388.8 138.2M385.2 49.6L382.2 55M343.2 32.1L348.2 32.6M359.8 51.9L364.2 56.5M370 93.4L368.1 119.7M296.9 66.7L302.8 70.3M296.6 72.3L295.9 79.7M378.1 87.5L380.7 93.3M341.3 66.1L349.2 68.5M351.9 59.4L346 63.1M354.8 35L363.2 35.3M375 82.6L385.7 84.5M372 70.2L368.7 78.8" stroke="#469292" stroke-width="4.5" stroke-dasharray="1.5 2.1"/>
<path d="M382.9 106.6L379.9 137.6M365.7 120.9L368.3 146.2M344 91.1L348.2 117.4M343.3 120.2L347.4 145.1M331.2 149.4L333.3 173.2M365.2 91.9L363.3 116.5M374.5 140.6L381 177.9M333.9 120.5L335.3 146.8M381.4 139.1L380 167.3" stroke="#e8343a" stroke-width="5.5" stroke-linecap="round"/><path d="M382.9 106.6L379.9 137.6M365.7 120.9L368.3 146.2M344 91.1L348.2 117.4M343.3 120.2L347.4 145.1M331.2 149.4L333.3 173.2M365.2 91.9L363.3 116.5M374.5 140.6L381 177.9M333.9 120.5L335.3 146.8M381.4 139.1L380 167.3" stroke="#a72529" stroke-width="5" stroke-dasharray="1.5 2.1"/>
<path d="M357.7 135.5L352.8 177.2M343.5 86.6L353.1 94.2M386.9 112.1L393 137.2" stroke="#e8343a" stroke-width="6" stroke-linecap="round"/><path d="M357.7 135.5L352.8 177.2M343.5 86.6L353.1 94.2M386.9 112.1L393 137.2" stroke="#a72529" stroke-width="5.4" stroke-dasharray="1.5 2.1"/>
<path d="M446 112C445.3 113.7 441.7 119 442 122C442.3 125 445.7 129.3 448 130C450.3 130.7 454.7 126.7 456 126" stroke="#62cccc" stroke-width="1.2" fill="none"/>
<path d="M444 124L454 130" stroke="#62cccc" stroke-width="4.4" stroke-linecap="round"/>
<path d="M444 124L454 130" stroke="#469292" stroke-width="4" stroke-dasharray="1.1 1.7"/>
<path d="M462 184C463.3 185 466.2 189.2 470 190C473.8 190.8 480 188.7 485 189C490 189.3 495.5 192.5 500 192C504.5 191.5 510 187 512 186" stroke="#3b3bea" stroke-width="1.0" fill="none"/>
<path d="M470 186C471.7 186.7 476.7 190 480 190C483.3 190 488.3 186.7 490 186" stroke="#62cccc" stroke-width="1.0" fill="none"/>
<path d="M460.5 35.9L463.9 43.2M448.7 60L457.4 65.8M509.4 82.7L514 88.4M512.9 23.7L519.6 30M459.5 62.3L453.8 67.2M468 80.1L473.3 86.2M499.1 87.2L493.1 89.4M465.6 52.9L468.8 59.1M509.3 68.9L507.8 79.1M496.5 154.6L495.1 180.3M453.7 68.4L451.7 75.6M475.1 65.6L471.1 73.8" stroke="#3b3bea" stroke-width="5" stroke-linecap="round"/><path d="M460.5 35.9L463.9 43.2M448.7 60L457.4 65.8M509.4 82.7L514 88.4M512.9 23.7L519.6 30M459.5 62.3L453.8 67.2M468 80.1L473.3 86.2M499.1 87.2L493.1 89.4M465.6 52.9L468.8 59.1M509.3 68.9L507.8 79.1M496.5 154.6L495.1 180.3M453.7 68.4L451.7 75.6M475.1 65.6L471.1 73.8" stroke="#2a2aa8" stroke-width="4.5" stroke-dasharray="1.5 2.1"/>
<path d="M458 56.7L456.2 66.6M483.3 96.3L482.5 122.3M472.4 11.2L469.7 18.7M505.8 61.3L502.8 68.7M503.2 50.4L497 51.8M494.6 26.4L485.7 29.4M477.6 27.6L483.9 33.6M499.4 74.1L499 81.8M460.9 32.2L463.2 42.7M504.3 64.7L496.6 70.5M481.1 83.7L480.6 93.2M485.8 22.9L485.6 28M465.5 75.6L455.9 77.3" stroke="#3b3bea" stroke-width="5" stroke-linecap="round"/><path d="M458 56.7L456.2 66.6M483.3 96.3L482.5 122.3M472.4 11.2L469.7 18.7M505.8 61.3L502.8 68.7M503.2 50.4L497 51.8M494.6 26.4L485.7 29.4M477.6 27.6L483.9 33.6M499.4 74.1L499 81.8M460.9 32.2L463.2 42.7M504.3 64.7L496.6 70.5M481.1 83.7L480.6 93.2M485.8 22.9L485.6 28M465.5 75.6L455.9 77.3" stroke="#2a2aa8" stroke-width="4.5" stroke-dasharray="1.5 2.1"/>
<path d="M462.1 79.7C462.6 79.7 464.2 79.4 465.1 79.7C466 80 467.3 80.9 467.4 81.6C467.6 82.4 466.6 83.4 466 84.2C465.4 85.1 464.4 86.2 464.1 86.5M460.1 55.2C459.9 55.7 459.4 57.1 459.3 58.1C459.1 59 458.7 60.4 459.1 61.1C459.5 61.7 460.9 62 461.9 62.2C462.8 62.3 464.4 61.9 464.9 61.8M460.2 78.7C459.8 78.9 458.4 79.5 457.5 79.9C456.5 80.3 455.6 80.5 454.7 80.9C453.7 81.4 452.9 81.9 452 82.4C451.1 82.8 449.7 83.4 449.3 83.6M461.9 58.2C461.4 58.3 459.5 59.4 459 59C458.4 58.7 458.1 56.7 458.5 56.1C458.9 55.5 460.5 55.4 461.5 55.4C462.4 55.5 463.8 56.2 464.3 56.3M486.8 57.2C487.3 57.3 488.7 57.7 489.7 58C490.6 58.3 491.6 58.6 492.6 58.8C493.6 59 494.7 59.5 495.5 59.3C496.4 59 497.4 57.7 497.8 57.4M513.9 70.6C513.9 71.1 513.5 72.7 513.8 73.6C514.1 74.5 515 75.4 515.8 75.9C516.6 76.4 517.8 77 518.7 76.7C519.5 76.5 520.3 74.8 520.6 74.4M497.4 63.2C497.9 63.2 499.7 62.7 500.4 63.1C501.2 63.5 501.2 65.1 502 65.7C502.7 66.2 503.9 66.4 504.9 66.4C505.9 66.3 507.3 65.7 507.8 65.6M462.3 71.4C461.8 71.3 460 71.1 459.4 70.4C458.8 69.8 459.2 68.3 458.6 67.6C458 66.8 456.3 66.8 456 66C455.8 65.3 456.8 63.7 457 63.2M497.7 16.6C498.2 16.7 500.1 17.5 500.6 17.1C501.1 16.7 501.1 14.8 500.7 14.1C500.2 13.4 498.9 13.1 497.9 12.8C497 12.6 495.4 12.7 494.9 12.6M461.3 89.4C460.8 89.6 459.3 90.5 458.4 90.4C457.5 90.3 456.7 89 455.8 88.9C454.9 88.7 453.7 89 452.8 89.4C452 89.8 451 91.1 450.6 91.4M460.2 58.2C460.2 58.7 460.4 61.1 460 61.2C459.6 61.4 458.8 59.5 457.9 59C457.1 58.6 455.9 58.2 455 58.4C454.1 58.6 453 59.9 452.6 60.2M514.4 39.5C514.7 39.9 515.9 40.8 516.7 41.4C517.5 41.9 518.4 42.6 519.3 42.9C520.2 43.2 521.5 43.5 522.3 43.1C523.1 42.7 523.9 41.1 524.2 40.8M515.3 22.7C515 23.1 514.4 24.6 513.7 25.3C513.1 26 512.2 26.9 511.3 27.1C510.4 27.2 509.3 26.1 508.4 26.2C507.5 26.4 506.3 27.6 505.9 27.9" stroke="#3b3bea" stroke-width="1.1"/>
<path d="M480.3 85.7L472.4 93M510.6 53.3L516.3 53.9M456.8 35.4L465.9 38.9M489.9 77L490.1 85.2M485.5 44.5L475.8 45M471.7 68L465.7 71.6M495.2 41.8L486.9 41.9M479.9 73.8L490.8 74.2M500.4 17.2L496.3 26.8M458.1 83.2L460.9 90.9M491.4 38.7L487.8 42.3M464.9 69.7L462.1 76.5M475.3 42.9L481.2 43.6M477.1 58.4L471.7 62.6M473.9 14L468.4 16.8" stroke="#62cccc" stroke-width="4.5" stroke-linecap="round"/><path d="M480.3 85.7L472.4 93M510.6 53.3L516.3 53.9M456.8 35.4L465.9 38.9M489.9 77L490.1 85.2M485.5 44.5L475.8 45M471.7 68L465.7 71.6M495.2 41.8L486.9 41.9M479.9 73.8L490.8 74.2M500.4 17.2L496.3 26.8M458.1 83.2L460.9 90.9M491.4 38.7L487.8 42.3M464.9 69.7L462.1 76.5M475.3 42.9L481.2 43.6M477.1 58.4L471.7 62.6M473.9 14L468.4 16.8" stroke="#469292" stroke-width="4" stroke-dasharray="1.1 1.7"/>
<path d="M492 67.9C492.3 68.3 493.1 69.5 493.8 70.3C494.5 71 495.1 71.8 496 72.3C496.8 72.9 497.9 73 498.7 73.5C499.5 74 500.5 75.3 500.9 75.6M488.3 32.4C488.6 32.1 489.7 30.3 490.4 30.3C491 30.3 491.5 32 492.2 32.6C493 33.3 494.3 33.3 494.9 34C495.5 34.8 495.8 36.4 495.9 36.9M478.3 17.3C477.9 17.6 476.6 18.4 475.7 18.8C474.8 19.2 473.8 19.4 472.9 19.8C472 20.3 471.1 21.5 470.3 21.4C469.6 21.3 468.6 19.6 468.2 19.2M491.6 14C491.3 14.4 490.3 16.2 489.6 16.2C489 16.2 487.7 14.7 487.7 14C487.6 13.2 488.9 12.4 489.5 11.6C490.1 10.8 490.9 9.5 491.2 9.1M501.3 90.4C501.2 90.9 500.4 92.3 500.3 93.2C500.3 94.2 501 95.2 500.9 96.2C500.9 97.2 500.5 98.2 500.2 99.1C499.9 100 499.2 101.4 499 101.8M437.3 77.8C436.9 77.9 435.2 78.6 434.4 78.2C433.6 77.9 433.4 76.3 432.6 75.8C431.8 75.4 430.5 75.9 429.6 75.6C428.7 75.2 427.6 74.1 427.2 73.9M490.8 37.6C491.3 37.7 493.3 37.6 493.8 38.2C494.3 38.8 493.9 40.2 493.9 41.2C493.9 42.2 494.3 44.1 494 44.2C493.7 44.3 492.4 42.2 492.1 41.8M501.7 78.5C502.2 78.6 503.6 79.4 504.6 79.5C505.5 79.6 506.6 78.8 507.5 79C508.4 79.2 509.1 80.6 510 80.7C510.9 80.8 512.3 79.7 512.7 79.5M516.3 61.7C516 62.1 515.1 63.3 514.5 64.1C513.8 64.9 513.4 65.9 512.6 66.4C511.8 67 510.7 67.6 509.8 67.5C508.9 67.4 507.7 66.2 507.3 65.9M489.7 32.9C489.4 33.2 488.3 34.3 487.6 35C486.9 35.8 485.7 36.5 485.6 37.3C485.6 38 487.2 38.7 487.5 39.6C487.8 40.5 487.3 42.1 487.3 42.6M475.6 15C475.1 15.2 473.5 16.6 472.9 16.3C472.3 16.1 471.8 14.4 472 13.5C472.1 12.6 473.2 11.9 473.6 11C474.1 10.1 474.4 8.6 474.6 8.1M460.6 57.8C461.1 57.9 462.8 58 463.5 58.6C464.2 59.1 464.2 60.5 464.9 61.2C465.5 62 466.7 63 467.4 62.9C468.1 62.7 468.6 60.7 468.8 60.2" stroke="#3b3bea" stroke-width="1.1"/>
<path d="M507 57L512 61.3M452.9 66.9L448.5 70.9M511.7 84.2L503.2 88.5M493 86.6L483.5 91.7M449.3 73.2L448.6 79.6M503.7 57.5L502.8 62.8M512.9 59.1L514.6 65.2M438.3 66.4L435.4 73M469.4 67.8L466.4 72.8M480.7 30.3L486.4 30.7M483.4 40.6L478.7 47.6M477.5 82.4L483.4 84.5M496.2 19.1L502.7 24.2M461.1 65.6L450.4 66M502.3 60.9L507.2 63.5M504 84.7L496.8 86.3M472.8 65.5L476.1 72.2M503.5 17.6L498.9 25.9M506.4 63L501.1 66.3M494 32.5L489 33.3M470.7 55.3L472.7 61.3" stroke="#62cccc" stroke-width="4" stroke-linecap="round"/><path d="M507 57L512 61.3M452.9 66.9L448.5 70.9M511.7 84.2L503.2 88.5M493 86.6L483.5 91.7M449.3 73.2L448.6 79.6M503.7 57.5L502.8 62.8M512.9 59.1L514.6 65.2M438.3 66.4L435.4 73M469.4 67.8L466.4 72.8M480.7 30.3L486.4 30.7M483.4 40.6L478.7 47.6M477.5 82.4L483.4 84.5M496.2 19.1L502.7 24.2M461.1 65.6L450.4 66M502.3 60.9L507.2 63.5M504 84.7L496.8 86.3M472.8 65.5L476.1 72.2M503.5 17.6L498.9 25.9M506.4 63L501.1 66.3M494 32.5L489 33.3M470.7 55.3L472.7 61.3" stroke="#469292" stroke-width="3.6" stroke-dasharray="1.1 1.7"/>
<path d="M494.8 36.5L496.8 44.1M504.7 71L503.9 77.6M496.6 49.5L498.7 56.7M494.3 73.6L488.4 79.9M493.6 66.8L491.5 74M491.5 74.5L493.5 83.8M431.5 76.9L437.3 81.1M508.5 86.4L499.1 89.8M461.3 129.5L461 163.9M459.1 51.4L467.2 54.3M493.4 123.7L496.6 151.4M504.7 67.5L502.7 73M490.5 57.6L493.2 62.5" stroke="#3b3bea" stroke-width="5" stroke-linecap="round"/><path d="M494.8 36.5L496.8 44.1M504.7 71L503.9 77.6M496.6 49.5L498.7 56.7M494.3 73.6L488.4 79.9M493.6 66.8L491.5 74M491.5 74.5L493.5 83.8M431.5 76.9L437.3 81.1M508.5 86.4L499.1 89.8M461.3 129.5L461 163.9M459.1 51.4L467.2 54.3M493.4 123.7L496.6 151.4M504.7 67.5L502.7 73M490.5 57.6L493.2 62.5" stroke="#2a2aa8" stroke-width="4.5" stroke-dasharray="1.5 2.1"/>
<path d="M510.9 115.4L508.5 141.5M458.4 97.3L454.1 127.3M491.1 154.5L489.8 179.5" stroke="#62cccc" stroke-width="6" stroke-linecap="round"/><path d="M510.9 115.4L508.5 141.5M458.4 97.3L454.1 127.3M491.1 154.5L489.8 179.5" stroke="#469292" stroke-width="5.4" stroke-dasharray="1.5 2.1"/>
<path d="M448 55.3C448.3 55.6 449.5 57.2 450.3 57.2C451.1 57.3 452 55.5 452.8 55.6C453.6 55.7 454.6 57.8 455 57.6C455.4 57.5 455.2 55.1 455.2 54.6M510.8 33.7C510.5 34.1 509.9 35.7 509.1 36.1C508.3 36.6 507.1 36.7 506.2 36.6C505.2 36.4 504.4 35.6 503.4 35.3C502.5 35 501 34.9 500.5 34.8M462.9 56.2C463.1 56.6 463.9 57.9 464.3 58.8C464.8 59.7 465.1 60.7 465.6 61.6C466 62.5 467.2 63.6 466.9 64.2C466.7 64.8 464.6 65 464.1 65.2M446.3 56.2C446.8 56.4 448.4 56.5 449.2 57.1C450 57.6 450.3 58.8 451.1 59.4C451.8 60.1 452.7 60.8 453.6 61C454.6 61.2 456.1 60.8 456.6 60.8M484 26.3C483.9 26.8 483.1 28.4 483.4 29.2C483.7 30 484.9 31.1 485.7 31.1C486.5 31.1 487.3 29.4 488.2 29.4C489 29.3 490.4 30.6 490.8 30.9M448.6 69.4C448.6 69.9 449 71.7 448.5 72.4C448 73 446.6 73.3 445.7 73.4C444.7 73.4 443.8 72.7 442.8 72.5C441.8 72.3 440.3 72.1 439.8 72M439.7 78.5C439.2 78.6 437.7 78.8 436.8 79.3C436 79.8 435 80.6 434.7 81.5C434.5 82.3 435.2 83.5 435.2 84.4C435.1 85.4 434.5 86.8 434.3 87.3M508.9 81.2C509.4 81.2 510.9 81.3 511.9 81.3C512.9 81.3 513.9 81.2 514.9 81.3C515.9 81.4 516.9 81.5 517.9 81.7C518.9 81.9 520.3 82.5 520.7 82.7M513.1 26C512.9 26.5 511.5 28 511.8 28.7C512 29.4 513.6 29.6 514.5 30C515.4 30.4 516.3 31.2 517.2 31.2C518.1 31.3 519.5 30.3 520 30.1M480.3 40.6C480.8 40.8 482.2 41.4 483 42C483.7 42.6 484.1 43.9 484.9 44.3C485.7 44.7 486.9 44.4 487.9 44.3C488.9 44.2 490.3 43.7 490.8 43.6M502.5 56C502.9 56.3 504.3 57.2 504.8 58C505.3 58.8 505.1 60.2 505.8 60.8C506.4 61.4 507.7 61.5 508.7 61.5C509.7 61.6 511.2 61.2 511.6 61.2M482.6 76C483 76.3 484.2 77.4 485.1 77.6C486 77.9 487.1 77.8 488.1 77.7C489.1 77.6 490.6 77.8 491.1 77.2C491.6 76.6 491.2 74.7 491.2 74.2M478.2 84.5C478 85 478 86.9 477.3 87.4C476.7 87.8 475 87.7 474.3 87.2C473.7 86.6 473.8 85.2 473.5 84.3C473.3 83.3 473 81.8 472.9 81.3" stroke="#3b3bea" stroke-width="1.1"/>
<path d="M483.7 154.6L482.1 183.9M467 79.1L457.9 82.8M489.2 19.4L495.9 26.6M473.1 87.3L478 95.9M494.4 82L501.1 85.5M440.1 73.4L447.4 77M477.3 44L476 50.9M480.8 44L481.6 54.8M494.5 26.1L494.8 32.9M475 18.9L471.3 23.3M487.1 76.3L490.5 81.1M454.8 82.4L456.5 88.8M480.6 42.7L475.7 46.9M461 70.9L456.5 74" stroke="#62cccc" stroke-width="5" stroke-linecap="round"/><path d="M483.7 154.6L482.1 183.9M467 79.1L457.9 82.8M489.2 19.4L495.9 26.6M473.1 87.3L478 95.9M494.4 82L501.1 85.5M440.1 73.4L447.4 77M477.3 44L476 50.9M480.8 44L481.6 54.8M494.5 26.1L494.8 32.9M475 18.9L471.3 23.3M487.1 76.3L490.5 81.1M454.8 82.4L456.5 88.8M480.6 42.7L475.7 46.9M461 70.9L456.5 74" stroke="#469292" stroke-width="4.5" stroke-dasharray="1.5 2.1"/>
<path d="M493.4 48.2L487.7 53.4M468.7 77.4L475.2 82.3M504.8 78.8L508.1 84.7M500.4 48.5L504.4 56.3M511.4 22.4L506.6 25.7M491.8 74.3L483.2 75.1M483.7 37.2L477.8 41M452.2 79.1L442.5 83.4M438.8 74.2L441 83.7M459.6 75.3L461 83.1M497.6 12.4L501 18.2M480.7 51.4L478.3 57.8M454.1 79L448.4 79.2M448.3 63.7L449.2 72.2M495.7 42L497.9 52.8M467.2 27.3L461.7 31.9M471.8 87L469.6 96.9M492.3 54.9L493 62.5M480.6 79.5L477.9 88.7M479.8 46.3L489 48.6M511.2 70.9L502.3 76.6" stroke="#3b3bea" stroke-width="4" stroke-linecap="round"/><path d="M493.4 48.2L487.7 53.4M468.7 77.4L475.2 82.3M504.8 78.8L508.1 84.7M500.4 48.5L504.4 56.3M511.4 22.4L506.6 25.7M491.8 74.3L483.2 75.1M483.7 37.2L477.8 41M452.2 79.1L442.5 83.4M438.8 74.2L441 83.7M459.6 75.3L461 83.1M497.6 12.4L501 18.2M480.7 51.4L478.3 57.8M454.1 79L448.4 79.2M448.3 63.7L449.2 72.2M495.7 42L497.9 52.8M467.2 27.3L461.7 31.9M471.8 87L469.6 96.9M492.3 54.9L493 62.5M480.6 79.5L477.9 88.7M479.8 46.3L489 48.6M511.2 70.9L502.3 76.6" stroke="#2a2aa8" stroke-width="3.6" stroke-dasharray="1.1 1.7"/>
<path d="M466.7 63.5L471.9 72.2M500.7 64.5L509.5 70.3M475.8 16.3L468.8 24.7M489.5 77.9L494.2 80.9M497 12.1L495.3 17.7M521.6 47.9L514.2 48.9M443.1 76.6L446.7 81.3M506.9 20.1L503.9 25.3M469.4 16.6L473.3 21.9M488.3 33.8L480.9 33.8M497 50.8L496.2 60.2M466.2 49.5L456.2 52.2M481.5 29.6L487.3 31.9M500.5 32.9L503.2 38.4M504.8 72.6L500.8 75.9M441.8 77.5L436.4 83.6M497.8 37L490.3 41.3M474.1 67.2L481.9 72.5M430.4 66.9L435.8 70.8M485 60.7L489.6 66.4M497.8 44.5L503.7 51M511.1 65L512.6 73.3M490.6 56.8L481.8 57.6" stroke="#3b3bea" stroke-width="4.5" stroke-linecap="round"/><path d="M466.7 63.5L471.9 72.2M500.7 64.5L509.5 70.3M475.8 16.3L468.8 24.7M489.5 77.9L494.2 80.9M497 12.1L495.3 17.7M521.6 47.9L514.2 48.9M443.1 76.6L446.7 81.3M506.9 20.1L503.9 25.3M469.4 16.6L473.3 21.9M488.3 33.8L480.9 33.8M497 50.8L496.2 60.2M466.2 49.5L456.2 52.2M481.5 29.6L487.3 31.9M500.5 32.9L503.2 38.4M504.8 72.6L500.8 75.9M441.8 77.5L436.4 83.6M497.8 37L490.3 41.3M474.1 67.2L481.9 72.5M430.4 66.9L435.8 70.8M485 60.7L489.6 66.4M497.8 44.5L503.7 51M511.1 65L512.6 73.3M490.6 56.8L481.8 57.6" stroke="#2a2aa8" stroke-width="4" stroke-dasharray="1.1 1.7"/>
<path d="M463.3 96.2L458.9 127.8M479.6 121.5L476 149.4M504.9 139.7L499.2 175.5M478.2 155.6L476.6 184.9" stroke="#3b3bea" stroke-width="6" stroke-linecap="round"/><path d="M463.3 96.2L458.9 127.8M479.6 121.5L476 149.4M504.9 139.7L499.2 175.5M478.2 155.6L476.6 184.9" stroke="#2a2aa8" stroke-width="5.4" stroke-dasharray="1.5 2.1"/>
<path d="M479.9 61.1C480 61.6 480 64.1 480.3 64.1C480.5 64.1 480.7 61.6 481.4 61.3C482.1 61 483.3 61.9 484.3 62.2C485.2 62.4 486.7 62.7 487.2 62.8M435 78.6C435.1 78.1 435.6 76.7 435.7 75.7C435.9 74.7 435.6 73.6 435.9 72.7C436.1 71.8 437.6 70.9 437.5 70.2C437.4 69.4 435.7 68.4 435.3 68M499.7 37C500.1 37.2 501.7 37.8 502.3 38.5C502.8 39.3 502.5 40.7 503.2 41.4C503.8 42.1 505.7 41.9 506 42.5C506.2 43.1 504.8 44.7 504.5 45.1M492.2 16.8C492.6 17.1 493.7 18.1 494.5 18.8C495.2 19.5 496.6 20.4 496.5 21C496.5 21.6 494.7 21.8 494 22.5C493.3 23.2 492.7 24.7 492.4 25.1M508.9 35C509.3 35.4 510.7 36.2 511.1 37.1C511.6 37.9 511.8 39.1 511.7 40C511.6 41 510.8 41.8 510.5 42.8C510.1 43.7 509.8 45.2 509.6 45.6M498.2 17.8C497.9 18.2 496.8 20 496.2 20C495.6 19.9 494.5 18.2 494.6 17.4C494.7 16.6 496.8 15.5 496.7 15.2C496.5 14.9 494.2 15.6 493.7 15.7M484.4 78.5C484.1 78.9 483.1 80.1 482.7 81C482.2 81.8 482.1 82.9 481.8 83.8C481.4 84.8 480.6 85.7 480.6 86.6C480.7 87.5 481.9 88.8 482.1 89.2M508.9 85.3C509.3 85.5 510.6 86.4 511.3 87C512.1 87.7 513.2 88.4 513.4 89.2C513.6 90.1 513.1 91.4 512.5 92.1C511.9 92.8 510.2 93.1 509.8 93.3M482.9 91.3C482.5 91.7 481.6 93 480.8 93.5C480 94 478.9 94.5 478 94.5C477 94.5 475.7 93.2 475.1 93.6C474.5 93.9 474.5 96 474.4 96.5M482.7 27.3C482.2 27.4 480.5 28.2 479.7 27.8C479 27.4 479 25.9 478.4 25.1C477.8 24.3 477.1 23.4 476.3 23C475.4 22.6 473.8 22.9 473.3 22.8M503.9 75.1C503.8 74.6 503.5 73.1 503.2 72.2C502.9 71.2 502.8 70.1 502.2 69.3C501.7 68.6 500.7 68 499.8 67.6C498.9 67.3 497.3 67.2 496.8 67.2M483.6 25.9C484.1 26.2 486.2 27.2 486.1 27.6C486.1 28.1 484.3 28.6 483.3 28.6C482.3 28.7 481.1 27.8 480.3 28.1C479.5 28.4 478.8 30.1 478.5 30.5" stroke="#62cccc" stroke-width="1.1"/>
<path d="M483.4 78.2C483.5 78.6 484.3 80.4 483.9 81.1C483.6 81.8 482.1 81.9 481.2 82.3C480.2 82.6 479.2 83.4 478.3 83.2C477.5 83 476.5 81.5 476.2 81.1M439.2 78.1C439.6 78.3 441.1 78.8 441.8 79.5C442.6 80.1 442.9 81.4 443.7 81.8C444.5 82.3 445.6 82.2 446.6 82.3C447.6 82.4 449.1 82.4 449.6 82.4M506.5 42.9C506.6 43.4 507.4 44.9 507.4 45.8C507.4 46.7 506.6 47.6 506.4 48.6C506.1 49.6 506.4 50.9 505.9 51.6C505.3 52.2 503.6 52.5 503.1 52.7M464.1 38.6C464.6 38.6 466.1 38.2 467.1 38.5C468 38.8 469 39.4 469.5 40.2C470.1 41 469.8 42.3 470.3 43.1C470.7 44 471.9 45 472.3 45.3M468.7 71C468.3 70.7 467.2 69.4 466.3 69.1C465.5 68.9 464.2 69.8 463.4 69.5C462.5 69.2 462 67.6 461.2 67.5C460.3 67.3 458.8 68.4 458.4 68.5M489.2 90.8C489 91.2 487.9 92.6 487.9 93.5C487.9 94.4 488.4 96 489.1 96.2C489.8 96.5 491.5 94.7 491.8 95C492.2 95.3 491.3 97.5 491.2 98M480.2 68C480 68.4 479.3 69.9 478.5 70.4C477.8 71 476.3 71.8 475.7 71.4C475.1 71.1 475.5 69.2 474.9 68.6C474.3 67.9 472.5 67.7 472 67.5M498.1 90.5C497.8 90.9 497.3 92.4 496.7 93.1C496 93.9 495 94.9 494.2 94.8C493.4 94.8 492.7 93.6 491.8 93C491 92.5 489.6 91.8 489.2 91.6M483.1 72.3C482.6 72.1 480.8 72 480.3 71.3C479.8 70.6 479.9 69.3 480 68.3C480.1 67.4 481.3 66.3 481 65.5C480.8 64.8 479 64.1 478.6 63.8M506.8 68.8C506.7 69.3 505.8 71 506.1 71.7C506.4 72.5 507.7 73.3 508.6 73.3C509.5 73.3 510.8 72.7 511.3 72C511.8 71.3 511.4 69.5 511.5 69M506.3 34.4C505.8 34.3 504.1 33.4 503.4 33.7C502.6 34 502.1 35.3 501.7 36.2C501.4 37.1 500.9 38.5 501.2 39.2C501.6 39.9 503.5 40.2 504 40.3M478.6 25.5C478.7 25 479.1 23.3 479.7 22.7C480.4 22.1 481.6 21.9 482.6 21.7C483.5 21.6 485 21.4 485.6 21.9C486.1 22.4 485.7 24.4 485.7 24.9" stroke="#62cccc" stroke-width="1.1"/>
<path d="M440.6 60.3L439.8 65.7M484.3 22L484 31M510.3 64.4L516.2 66M474.2 89.8L467.6 90M510.5 70.4L507.6 78.1M496.3 81.9L495.7 87.9M493.3 80.2L502.6 84.2M480.8 67.1L474.8 74.4M497.7 70.8L499.8 78.8M484.6 46.2L489.3 50.9M458.8 84.8L449 88.1M487 51.5L479.5 57.1M457.5 68.3L449 72.1M486.9 44.9L492.6 48.7M499 49.8L503.9 52.8" stroke="#62cccc" stroke-width="5" stroke-linecap="round"/><path d="M440.6 60.3L439.8 65.7M484.3 22L484 31M510.3 64.4L516.2 66M474.2 89.8L467.6 90M510.5 70.4L507.6 78.1M496.3 81.9L495.7 87.9M493.3 80.2L502.6 84.2M480.8 67.1L474.8 74.4M497.7 70.8L499.8 78.8M484.6 46.2L489.3 50.9M458.8 84.8L449 88.1M487 51.5L479.5 57.1M457.5 68.3L449 72.1M486.9 44.9L492.6 48.7M499 49.8L503.9 52.8" stroke="#469292" stroke-width="4.5" stroke-dasharray="1.5 2.1"/>
<path d="M523.4 119.9L514.2 141.2M466.3 95.9L467.6 136.4M489.3 122.9L492.5 152.4M476.9 94L476.1 121.8M512.9 145.4L510 174.4M486.7 98.3L491.2 119.7M504.2 100.6L497.2 138M509.6 141.4L503.8 175.5M523.4 145.3L517.5 168.5M484 123.9L480.5 153.5M466.1 140.1L466.1 176.7M455.8 132.9L455.5 166.1" stroke="#62cccc" stroke-width="5.5" stroke-linecap="round"/><path d="M523.4 119.9L514.2 141.2M466.3 95.9L467.6 136.4M489.3 122.9L492.5 152.4M476.9 94L476.1 121.8M512.9 145.4L510 174.4M486.7 98.3L491.2 119.7M504.2 100.6L497.2 138M509.6 141.4L503.8 175.5M523.4 145.3L517.5 168.5M484 123.9L480.5 153.5M466.1 140.1L466.1 176.7M455.8 132.9L455.5 166.1" stroke="#469292" stroke-width="5" stroke-dasharray="1.5 2.1"/>
<path d="M493.5 36.2L488.8 38.7M486.5 89.6L494.7 95M483.9 32.8L480.2 36.3M494.2 71.6L499.4 71.8M483.4 74.4L485.4 80.9M500.2 36.9L497.4 41.8M506.4 20.9L511.8 30M463.4 84.5L463.2 94.7M501.3 71.2L508.5 73.8M464.8 62.6L473.6 63.4M497.7 17.7L502.1 26.2M457.2 57.2L461.3 61.1M442.8 66.4L435.8 70.5M473.6 22.5L468.6 23.9M485.9 14.6L484.2 22.4" stroke="#62cccc" stroke-width="4.5" stroke-linecap="round"/><path d="M493.5 36.2L488.8 38.7M486.5 89.6L494.7 95M483.9 32.8L480.2 36.3M494.2 71.6L499.4 71.8M483.4 74.4L485.4 80.9M500.2 36.9L497.4 41.8M506.4 20.9L511.8 30M463.4 84.5L463.2 94.7M501.3 71.2L508.5 73.8M464.8 62.6L473.6 63.4M497.7 17.7L502.1 26.2M457.2 57.2L461.3 61.1M442.8 66.4L435.8 70.5M473.6 22.5L468.6 23.9M485.9 14.6L484.2 22.4" stroke="#469292" stroke-width="4" stroke-dasharray="1.1 1.7"/>
<path d="M517.3 144.6L511.4 166.1M516.5 114.3L514.1 141.8M470.9 94.9L472.2 136.8M528.5 117.7L519.4 141.3M491 96L495.4 119.9M471 139.7L471 179.1M510.1 100.8L503.2 137.8M507.9 146.6L505.1 175.2" stroke="#3b3bea" stroke-width="5.5" stroke-linecap="round"/><path d="M517.3 144.6L511.4 166.1M516.5 114.3L514.1 141.8M470.9 94.9L472.2 136.8M528.5 117.7L519.4 141.3M491 96L495.4 119.9M471 139.7L471 179.1M510.1 100.8L503.2 137.8M507.9 146.6L505.1 175.2" stroke="#2a2aa8" stroke-width="5" stroke-dasharray="1.5 2.1"/>
<path d="M596 170C595.3 171.7 591.3 177.3 592 180C592.7 182.7 596.7 184.3 600 186C603.3 187.7 607.8 189.7 612 190C616.2 190.3 622.8 188.3 625 188" stroke="#f5a035" stroke-width="1.0" fill="none"/>
<path d="M637 182C638.3 183.3 642.8 189.3 645 190C647.2 190.7 649.2 186.7 650 186" stroke="#62cccc" stroke-width="1.0" fill="none"/>
<path d="M594.2 71.1C594.6 71.2 596.9 72.1 597 72C597.1 71.8 595.3 70.8 594.8 70C594.2 69.2 594.3 68.1 594 67.1C593.7 66.2 593.2 64.8 593 64.3M603.9 74.7C604.3 74.9 606.2 75.4 606.5 76.2C606.8 76.9 605.9 78.1 605.7 79.1C605.5 80 605.7 81.1 605.5 82C605.3 83 604.7 84.4 604.5 84.9M604.5 59.9C604.9 59.6 606.4 59 606.9 58.2C607.5 57.4 607.3 56.2 607.6 55.3C608 54.4 609.1 53.4 609 52.6C608.8 51.8 607.1 51 606.7 50.7M600.6 59.9C600.2 60.1 598.2 60.4 597.9 61.1C597.5 61.8 598.2 63.1 598.7 64C599.1 64.8 599.8 65.7 600.5 66.3C601.2 67 602.6 67.7 603 68M577.2 56.4C577.2 56.9 577.2 58.4 577.2 59.4C577.2 60.4 576.9 61.5 577.2 62.4C577.5 63.3 578.5 64.8 579 64.7C579.6 64.7 580.2 62.5 580.5 62.1M609.1 78.3C609.6 78.4 611.5 78.3 612 78.9C612.5 79.6 612 81 612.2 81.9C612.5 82.9 613.1 83.7 613.4 84.7C613.6 85.7 613.7 87.2 613.7 87.7M594.1 74.2C593.7 74.5 592.9 75.9 592 76.4C591.2 76.9 590.2 77 589.2 77.4C588.3 77.7 586.8 77.7 586.4 78.4C585.9 79.1 586.5 80.9 586.5 81.4M585.7 72.2C585.7 72.7 586.3 74.3 586 75.1C585.8 76 585 77 584.2 77.5C583.4 78 581.9 78.5 581.3 78.2C580.6 77.9 580.3 75.9 580.1 75.5M628.5 32.9C628.9 33.2 630.1 34.6 630.9 34.7C631.7 34.7 632.6 33.5 633.5 33.1C634.4 32.8 636.2 33.4 636.5 32.8C636.8 32.3 635.6 30.5 635.4 30.1M614.5 25.8C614.8 26.2 615.5 28.1 616.2 28.2C616.9 28.3 618.2 27.3 618.7 26.5C619.2 25.7 619.5 24.2 619 23.5C618.6 22.8 616.7 22.6 616.2 22.4M608.1 40.3C608 40.8 607.7 42.3 607.3 43.2C606.9 44.1 606.4 45.1 605.8 45.8C605.1 46.5 604.3 47.4 603.4 47.6C602.5 47.8 600.9 47.1 600.4 47M634.9 48.2C634.9 48.7 634.9 50.3 634.6 51.2C634.3 52.1 633 53.2 633.2 53.9C633.4 54.6 634.8 55 635.7 55.4C636.6 55.9 638.1 56.2 638.6 56.3M603.5 57.3C604 57.3 605.9 57.6 606.5 57.1C607.2 56.5 607.7 54.5 607.3 54.2C607 53.9 605.5 55 604.5 55.3C603.6 55.6 602.1 55.8 601.6 55.9M590.5 24.6C590.3 25 589.5 26.3 589.1 27.2C588.8 28.2 589.1 29.5 588.6 30.2C588 30.8 586.3 31.6 585.8 31.2C585.2 30.9 585.5 28.8 585.4 28.3M611.9 72C611.5 72.3 610.4 73.5 609.5 73.8C608.6 74.2 607.5 74.3 606.5 74.1C605.6 74 604.7 73.4 603.8 73C602.8 72.5 601.5 71.9 601.1 71.6M624.9 42.3C625 42.8 625.8 44.2 625.8 45.1C625.8 46.1 625.5 47.3 624.9 48C624.3 48.7 623.1 49.3 622.1 49.3C621.2 49.3 619.8 48.3 619.4 48.1M632.4 19.5C632.9 19.5 634.8 20.3 635.3 19.8C635.9 19.4 635.7 17.9 635.9 16.9C636.2 15.9 636.4 14.2 636.9 14.1C637.4 13.9 638.7 15.7 639.1 16.1M591.2 54.3C591.6 54.5 593 55.2 593.9 55.4C594.9 55.7 596.5 56.2 596.9 55.8C597.4 55.3 596.7 53.8 596.5 52.8C596.3 51.8 595.9 50.4 595.7 49.9" stroke="#62cccc" stroke-width="1.1"/>
<path d="M587.4 52.2L585.5 57.2M594.2 29.9L595.7 38.9M583.7 69.3L591.3 75.4M631.2 48L625.3 48.7M608.2 76.9L607.6 105M574.3 62L582.3 65.7M604.6 22.5L599.7 25M619.8 41L616 50.2M605.2 21.2L599.6 30.2M595.1 25L602 26.6M619.8 41.1L628.7 41.6M603.8 48.4L607.7 53M583.3 47L575.9 48.5" stroke="#f5a035" stroke-width="5" stroke-linecap="round"/><path d="M587.4 52.2L585.5 57.2M594.2 29.9L595.7 38.9M583.7 69.3L591.3 75.4M631.2 48L625.3 48.7M608.2 76.9L607.6 105M574.3 62L582.3 65.7M604.6 22.5L599.7 25M619.8 41L616 50.2M605.2 21.2L599.6 30.2M595.1 25L602 26.6M619.8 41.1L628.7 41.6M603.8 48.4L607.7 53M583.3 47L575.9 48.5" stroke="#b07326" stroke-width="4.5" stroke-dasharray="1.5 2.1"/>
<path d="M597.7 36.1C597.5 36.5 597.6 38.4 597 39C596.4 39.6 594.9 39.1 594 39.5C593.1 39.9 592.6 40.9 591.7 41.5C590.9 42.1 589.6 42.8 589.2 43M632.6 60.8C632.3 61.2 631 63.1 630.6 63C630.2 62.9 630.5 61 630.3 60C630.1 59.1 629.9 58 629.5 57.2C629 56.3 627.8 55.3 627.5 54.9M606.4 57C606.7 57.4 607.6 59.4 608.2 59.4C608.8 59.4 609.3 57.2 610.1 57C610.9 56.9 612.1 57.7 612.8 58.3C613.4 59 613.8 60.6 614 61.1M572.6 77.3C572.5 77.8 572.1 79.3 571.7 80.2C571.3 81.1 570.5 81.9 570.2 82.8C570 83.8 570.2 84.8 570.3 85.8C570.4 86.8 570.9 88.2 571 88.7M588.3 26.8C588.2 26.3 588 24.8 587.7 23.8C587.3 22.9 586.9 21.5 586.2 21.2C585.5 21 584.2 22.5 583.5 22.3C582.7 22.1 582 20.3 581.7 19.9M625.6 43C626 43.3 627.6 43.7 628.3 44.3C629 45 629.6 46.1 629.7 47C629.8 47.9 628.9 49 629 49.9C629 50.9 629.9 52.2 630.1 52.7M640.7 31.5C640.3 31.2 638.7 29.7 638.1 29.9C637.5 30.2 637.2 31.8 637.1 32.8C637 33.7 637.1 34.9 637.6 35.7C638.1 36.5 639.6 37.2 640 37.5M570 66.2C570.5 66.3 572 66.4 573 66.7C574 66.9 575.6 67.1 575.8 67.8C576 68.4 575.1 70.2 574.4 70.4C573.7 70.7 572.1 69.4 571.6 69.2M594 31.1C594.5 31.1 596.2 30.9 597 31.3C597.8 31.8 598.7 32.8 598.9 33.7C599.1 34.5 598.4 35.6 598.1 36.6C597.8 37.5 597.1 38.8 596.9 39.3M602.8 79C603 79.4 603.7 81.7 604.1 81.7C604.5 81.7 605.6 79.8 605.5 79C605.3 78.2 604.1 77.6 603.3 76.9C602.6 76.3 601.4 75.4 601 75.1M607.4 24.5C607.9 24.6 609.5 24.6 610.3 25.1C611.2 25.5 612.1 26.4 612.5 27.2C612.9 28.1 613.1 29.5 612.7 30.2C612.3 30.9 610.4 31.2 610 31.4M621.8 24C621.4 24.4 619.8 25.4 619.7 26.2C619.6 27 621.1 27.9 621.2 28.8C621.4 29.7 621.2 31.1 620.6 31.7C620 32.4 618.2 32.5 617.7 32.6M582.8 45.6C582.3 45.7 580.9 46 579.9 46.1C578.9 46.3 577.8 46.9 576.9 46.6C576.1 46.4 575.4 44.7 574.7 44.7C573.9 44.6 572.6 46.1 572.2 46.4M616.1 19.6C616.6 19.6 618.2 19.4 619.1 19.8C620 20.1 620.6 21.1 621.3 21.8C621.9 22.6 622.8 23.5 622.9 24.4C623 25.2 622 26.7 621.9 27.2M562.9 57.5C563.4 57.5 565 57.6 565.9 57.3C566.8 57 567.7 55.7 568.5 55.8C569.3 55.9 570.1 57.1 570.6 57.9C571.1 58.7 571.3 60.3 571.5 60.8M558.7 60.4C559.1 60.6 560.5 61.2 561.3 61.8C562.1 62.3 562.9 63 563.6 63.7C564.2 64.5 565.2 65.4 565.2 66.3C565.2 67.1 563.7 68.3 563.4 68.7" stroke="#f5a035" stroke-width="1.1"/>
<path d="M602.5 53.5L594.9 60.8M597.8 19.7L605.6 20.3M613.8 28.4L604.6 33.4M614.2 54L621.6 61.3M605.5 51.7L600.8 53.7M609.8 70.5L607.2 76.7M597.8 21.9L605.5 23.8M601.5 55.5L601.7 64.1M597.2 64.9L591.5 66.7M567 68.8L559.4 74M603.9 51.5L606.7 57.1M632 59.9L627.8 64.1M623.2 57.9L626.3 68.1M600.6 38.6L600.2 48.4M620.2 39.9L614.7 43.3" stroke="#f5a035" stroke-width="4.5" stroke-linecap="round"/><path d="M602.5 53.5L594.9 60.8M597.8 19.7L605.6 20.3M613.8 28.4L604.6 33.4M614.2 54L621.6 61.3M605.5 51.7L600.8 53.7M609.8 70.5L607.2 76.7M597.8 21.9L605.5 23.8M601.5 55.5L601.7 64.1M597.2 64.9L591.5 66.7M567 68.8L559.4 74M603.9 51.5L606.7 57.1M632 59.9L627.8 64.1M623.2 57.9L626.3 68.1M600.6 38.6L600.2 48.4M620.2 39.9L614.7 43.3" stroke="#b07326" stroke-width="4" stroke-dasharray="1.1 1.7"/>
<path d="M646.6 100.8L643.7 136.3M632.5 85.9L634 127.6M593.9 123.4L593.1 161.8M639.7 137.4L638.2 177M623.7 128.8L618.6 180M607.1 108.7L611.7 138.9M652.4 150.5L656.1 167.2M623.8 78.7L620.8 125" stroke="#f5a035" stroke-width="5.5" stroke-linecap="round"/><path d="M646.6 100.8L643.7 136.3M632.5 85.9L634 127.6M593.9 123.4L593.1 161.8M639.7 137.4L638.2 177M623.7 128.8L618.6 180M607.1 108.7L611.7 138.9M652.4 150.5L656.1 167.2M623.8 78.7L620.8 125" stroke="#b07326" stroke-width="5" stroke-dasharray="1.5 2.1"/>
<path d="M606.9 43.1L602.3 47.2M634.6 51.5L629.5 53.6M594.9 67.4L599.8 69.8M614.8 19.6L614.8 24.9M590.4 53.4L585.9 58.1M618 75L623.8 80.6M585.9 71.2L576.5 74.7" stroke="#62cccc" stroke-width="4" stroke-linecap="round"/><path d="M606.9 43.1L602.3 47.2M634.6 51.5L629.5 53.6M594.9 67.4L599.8 69.8M614.8 19.6L614.8 24.9M590.4 53.4L585.9 58.1M618 75L623.8 80.6M585.9 71.2L576.5 74.7" stroke="#469292" stroke-width="3.6" stroke-dasharray="1.1 1.7"/>
<path d="M609.6 19.5L601.3 21.2M613.7 53.9L619.1 56.2M600.8 14.4L595 19.2M623.1 7.6L612.5 8.9M600.2 16.5L605.7 17.5M583.9 48L580.1 52.3M616.7 10.2L611.7 16.2M657.4 131.8L652.7 146.3M633.7 46.9L634.1 54.1M641.2 99.7L638.3 133.5M604 47.1L598.3 53M628.8 21.9L621.5 22M595.8 69.6L591.2 72.1M613.8 14.5L612.3 20.3M617.9 78.9L614.8 125.5M626.3 69.1L622.3 73M586.6 55L592.1 60.6M657.1 113.5L654.7 128.4M587.9 9.6L592.6 18.6M637.8 23.7L642.8 24.7" stroke="#62cccc" stroke-width="5" stroke-linecap="round"/><path d="M609.6 19.5L601.3 21.2M613.7 53.9L619.1 56.2M600.8 14.4L595 19.2M623.1 7.6L612.5 8.9M600.2 16.5L605.7 17.5M583.9 48L580.1 52.3M616.7 10.2L611.7 16.2M657.4 131.8L652.7 146.3M633.7 46.9L634.1 54.1M641.2 99.7L638.3 133.5M604 47.1L598.3 53M628.8 21.9L621.5 22M595.8 69.6L591.2 72.1M613.8 14.5L612.3 20.3M617.9 78.9L614.8 125.5M626.3 69.1L622.3 73M586.6 55L592.1 60.6M657.1 113.5L654.7 128.4M587.9 9.6L592.6 18.6M637.8 23.7L642.8 24.7" stroke="#469292" stroke-width="4.5" stroke-dasharray="1.5 2.1"/>
<path d="M609.9 50.3C609.5 50.5 608 51.5 607.1 51.3C606.2 51.2 604.9 50.3 604.7 49.5C604.5 48.8 605.4 47.6 605.9 46.8C606.5 46 607.8 45.1 608.2 44.8M618.2 8.5C617.8 8.6 616 9.5 615.3 9.1C614.6 8.7 614.9 6.7 614.2 6.3C613.5 6 612.1 6.6 611.3 7C610.4 7.5 609.5 8.8 609.1 9.1M604.5 19.6C604.4 20.1 604.1 21.6 604.2 22.6C604.3 23.6 604.6 24.5 604.9 25.5C605.2 26.5 606 27.6 605.7 28.4C605.5 29.2 603.7 29.8 603.3 30.1M596.5 48C596.1 48.2 594.7 48.8 593.8 49.2C592.8 49.6 591.9 49.9 591 50.4C590.2 50.9 589.5 51.9 588.6 52.2C587.7 52.5 586.1 52 585.6 52M615 64.7C614.9 65.1 614 66.6 614.1 67.5C614.1 68.4 614.9 69.3 615.4 70.2C616 71 617.4 72.2 617.2 72.6C617 73 614.7 72.5 614.2 72.5M591.2 53.8C591.5 53.5 592.6 52.5 593.4 51.8C594.1 51.1 595.7 50.2 595.6 49.8C595.5 49.4 593.4 49.2 592.6 49.6C591.9 50 591.4 51.7 591.1 52.2M595.4 67C595.8 67.3 597.2 67.9 598 68.5C598.7 69.1 599.5 69.9 599.9 70.7C600.3 71.6 600.2 72.7 600.3 73.7C600.5 74.7 600.8 76.2 600.9 76.7M596.2 20.1C596.2 20.6 597 22.5 596.6 23.1C596.1 23.6 594.6 23.4 593.6 23.5C592.6 23.6 591.6 23.3 590.6 23.5C589.6 23.7 588.3 24.5 587.8 24.7M623.1 69.7C622.8 70.1 621.7 71.2 621.3 72.1C621 73 620.6 74.2 620.9 75.1C621.2 76 622.6 76.4 622.9 77.3C623.3 78.2 623 79.8 623 80.3M599 51.4C598.6 51.6 597.1 52 596.2 52.4C595.2 52.7 594.1 52.9 593.4 53.5C592.7 54.1 592.2 55.3 592.1 56.2C592 57.1 592.6 58.7 592.7 59.2M593.9 38.3C594.3 38.6 596.4 40 596.3 40.2C596.2 40.3 594.3 39 593.4 39.1C592.6 39.3 591.1 40.3 591.1 41C591 41.6 592.7 42.9 593 43.2M587.4 60.3C587.9 60.1 589.4 59.8 590.3 59.4C591.2 59 592 58.4 592.9 57.9C593.8 57.4 594.6 56.9 595.6 56.5C596.5 56.1 597.9 55.7 598.4 55.5M632.4 20.9C632 21.3 630.4 23.1 630.3 23.1C630.1 23 631.6 21.2 631.6 20.4C631.6 19.5 630.7 17.9 630.1 17.8C629.4 17.6 628 19.2 627.6 19.4M590.1 66.1C589.6 66 588.1 65.8 587.2 65.5C586.2 65.1 585.1 64.8 584.5 64.1C583.9 63.4 583.3 61.9 583.6 61.2C584 60.6 586 60.4 586.4 60.2M612.6 52.1C612.5 52.6 611.7 54 611.7 54.9C611.7 55.9 612.5 56.8 612.8 57.7C613 58.7 613.3 59.8 613.1 60.7C612.8 61.6 611.5 62.6 611.1 63M586.7 50.4C586.2 50.4 584.6 50.9 583.7 50.7C582.7 50.5 581.8 49.9 581 49.3C580.2 48.7 579.6 47.9 579 47.1C578.4 46.3 577.7 44.9 577.5 44.5" stroke="#f5a035" stroke-width="1.1"/>
<path d="M606.7 143.2L601.5 175.9M632.1 136.5L625.2 180.7M651.9 111.3L649.4 126.5M600.5 80.8L598 118.6" stroke="#f5a035" stroke-width="6" stroke-linecap="round"/><path d="M606.7 143.2L601.5 175.9M632.1 136.5L625.2 180.7M651.9 111.3L649.4 126.5M600.5 80.8L598 118.6" stroke="#b07326" stroke-width="5.4" stroke-dasharray="1.5 2.1"/>
<path d="M625.8 8.2L628.7 16.9M625.1 15.5L618.2 22.8M628.4 46.2L626.5 53.6M597.4 58.2L600.9 64.7M564.4 72L562.9 79M617.5 74.8L610.8 75M615.4 50.2L609.7 54.8M606.2 30.8L598.5 31M589.3 62.1L589.7 71.8M571 57.4L569.5 64M614.1 27.7L619.9 34.7M612.8 60.1L623.1 62.8M601.8 24.9L607.3 32.9M620.8 36.4L611.4 37.6M641.3 14.8L630.7 15.6" stroke="#f5a035" stroke-width="4.5" stroke-linecap="round"/><path d="M625.8 8.2L628.7 16.9M625.1 15.5L618.2 22.8M628.4 46.2L626.5 53.6M597.4 58.2L600.9 64.7M564.4 72L562.9 79M617.5 74.8L610.8 75M615.4 50.2L609.7 54.8M606.2 30.8L598.5 31M589.3 62.1L589.7 71.8M571 57.4L569.5 64M614.1 27.7L619.9 34.7M612.8 60.1L623.1 62.8M601.8 24.9L607.3 32.9M620.8 36.4L611.4 37.6M641.3 14.8L630.7 15.6" stroke="#b07326" stroke-width="4" stroke-dasharray="1.1 1.7"/>
<path d="M618.3 128.9L613.2 178M611.9 144.6L606.7 175.5M602.8 76.4L602.3 103.7M646.1 137L644.6 179.3M595.8 81.3L593.3 119.9M637.9 135.9L631 181.8M628.1 86.3L629.6 128.7M647.1 150L650.8 165.3" stroke="#62cccc" stroke-width="5.5" stroke-linecap="round"/><path d="M618.3 128.9L613.2 178M611.9 144.6L606.7 175.5M602.8 76.4L602.3 103.7M646.1 137L644.6 179.3M595.8 81.3L593.3 119.9M637.9 135.9L631 181.8M628.1 86.3L629.6 128.7M647.1 150L650.8 165.3" stroke="#469292" stroke-width="5" stroke-dasharray="1.5 2.1"/>
<path d="M594 57.1L593.1 64M611 27.6L613.5 34M624.1 30.3L621 35.5M624.9 29.5L622.7 39.7M619.3 13.8L627.4 17.7M625.7 31.4L629.7 40.7M621.9 32.4L619.5 41.1M620.4 55.6L612.4 56.5M613.1 65.3L622.4 70.9M590.7 37L592.6 46.8M582 55.7L585.9 61.4M603 55.2L609.5 62.8M599.7 40.8L595.9 44.6M566.4 57.3L575.8 61.8M593 8.6L591.2 18.1" stroke="#f5a035" stroke-width="4" stroke-linecap="round"/><path d="M594 57.1L593.1 64M611 27.6L613.5 34M624.1 30.3L621 35.5M624.9 29.5L622.7 39.7M619.3 13.8L627.4 17.7M625.7 31.4L629.7 40.7M621.9 32.4L619.5 41.1M620.4 55.6L612.4 56.5M613.1 65.3L622.4 70.9M590.7 37L592.6 46.8M582 55.7L585.9 61.4M603 55.2L609.5 62.8M599.7 40.8L595.9 44.6M566.4 57.3L575.8 61.8M593 8.6L591.2 18.1" stroke="#b07326" stroke-width="3.6" stroke-dasharray="1.1 1.7"/>
<path d="M583.1 76.3L573.9 78.9M577.5 66.3L569.8 66.8M574.3 72.4L569.8 78.7M621.8 54.8L627.2 56.1M578.1 44.7L587.5 45.3M588 65.5L589.9 71.1M601.7 71.4L610.6 71.5M576.1 61.8L581.8 64.9M591 27.6L591.1 34.4M624.9 15.9L622.4 24.6M615.3 35.9L611.1 40M614.3 57.8L607.4 64.3" stroke="#62cccc" stroke-width="4.5" stroke-linecap="round"/><path d="M583.1 76.3L573.9 78.9M577.5 66.3L569.8 66.8M574.3 72.4L569.8 78.7M621.8 54.8L627.2 56.1M578.1 44.7L587.5 45.3M588 65.5L589.9 71.1M601.7 71.4L610.6 71.5M576.1 61.8L581.8 64.9M591 27.6L591.1 34.4M624.9 15.9L622.4 24.6M615.3 35.9L611.1 40M614.3 57.8L607.4 64.3" stroke="#469292" stroke-width="4" stroke-dasharray="1.1 1.7"/>
<path d="M602.9 110.8L607.5 138.5M599.7 125.2L598.9 162.9" stroke="#62cccc" stroke-width="6" stroke-linecap="round"/><path d="M602.9 110.8L607.5 138.5M599.7 125.2L598.9 162.9" stroke="#469292" stroke-width="5.4" stroke-dasharray="1.5 2.1"/>
<path d="M651.8 129L647.1 146.1M621.3 64.4L617 70.7M602.3 35.5L603.4 41.9M595.2 57.1L589.5 60.7M589.7 41L584.3 42.3M575.4 77.1L570.8 81.9M618.7 6.9L609.8 8.6M601.4 52L596.2 58.9M595 65L601.8 68.2M609.6 64.9L617.9 66.3M635.3 12.8L628.2 19.4M567.2 53L561.9 55.9M630.1 29.6L624.1 30.5M595.9 66.9L596.1 75.7" stroke="#f5a035" stroke-width="5" stroke-linecap="round"/><path d="M651.8 129L647.1 146.1M621.3 64.4L617 70.7M602.3 35.5L603.4 41.9M595.2 57.1L589.5 60.7M589.7 41L584.3 42.3M575.4 77.1L570.8 81.9M618.7 6.9L609.8 8.6M601.4 52L596.2 58.9M595 65L601.8 68.2M609.6 64.9L617.9 66.3M635.3 12.8L628.2 19.4M567.2 53L561.9 55.9M630.1 29.6L624.1 30.5M595.9 66.9L596.1 75.7" stroke="#b07326" stroke-width="4.5" stroke-dasharray="1.5 2.1"/>
<path d="M595.9 37.4L603.6 40.6M562.5 67.9L560 74.5M630.1 50.4L637.7 55M608.8 22.8L609.7 29.6M630.5 15.7L631.9 22.1M568.3 68.6L562 72.3M585 60.5L593.3 61.1M565.2 67.8L561.7 72.1M632.3 45.9L624.2 50.3M583.6 65.9L577.9 67.2M575.2 70.7L580.7 74.7M635.6 17.5L636 23.1M601.4 22.8L609.6 23.3" stroke="#62cccc" stroke-width="4.5" stroke-linecap="round"/><path d="M595.9 37.4L603.6 40.6M562.5 67.9L560 74.5M630.1 50.4L637.7 55M608.8 22.8L609.7 29.6M630.5 15.7L631.9 22.1M568.3 68.6L562 72.3M585 60.5L593.3 61.1M565.2 67.8L561.7 72.1M632.3 45.9L624.2 50.3M583.6 65.9L577.9 67.2M575.2 70.7L580.7 74.7M635.6 17.5L636 23.1M601.4 22.8L609.6 23.3" stroke="#469292" stroke-width="4" stroke-dasharray="1.1 1.7"/>
<text x="359.7" y="208.8" font-size="8.4" text-anchor="middle" font-weight="normal" fill="#111" >BioEmu vs. 2c9m</text>
<text x="359.7" y="218.5" font-size="8.4" text-anchor="middle" font-weight="normal" fill="#111" >RMSD<tspan font-size="5.6" dy="1.8">min</tspan><tspan dy="-1.8">: 7.5 Å</tspan></text>
<text x="486.5" y="208.8" font-size="8.4" text-anchor="middle" font-weight="normal" fill="#111" >BioEmu vs. 1t5s</text>
<text x="486.5" y="218.5" font-size="8.4" text-anchor="middle" font-weight="normal" fill="#111" >RMSD<tspan font-size="5.6" dy="1.8">min</tspan><tspan dy="-1.8">: 5.4 Å</tspan></text>
<text x="612.5" y="208.8" font-size="8.4" text-anchor="middle" font-weight="normal" fill="#111" >BioEmu vs. 2zbe</text>
<text x="612.5" y="218.5" font-size="8.4" text-anchor="middle" font-weight="normal" fill="#111" >RMSD<tspan font-size="5.6" dy="1.8">min</tspan><tspan dy="-1.8">: 2.8 Å</tspan></text>
<path d="M60.5 44.3l1.7 -1.8 .7 1.3 .4 -.2 .9 -1.9 1.3 2.6 -2.7 -1 1.8 -3.4 .7 1.3 -.7 -.3 .2 .6 1.1 -2.4 0 .1 -.8 1.1 3.3 1.1 -1.4 -1.9 .3 .9 2.8 -.3 .2 .2 1.6 -3.2 -4.2 2.2 4.1 -.5 .2 -1.2 -1.6 .5 3.2 2.1 -1.5 -.4 .6 0 -.1 .2 1.1 .2 .6 -.7 1.5 .9 .4 .1 1.3 -.2 .7 3 -.8 .8 3.6 -1.4 -3.7 -2.4 2.2 4.7 1.7 -1.1 -.4 -1.7 1.5 -.2 0 2.4 1 .2 0 .4 1.8 -2.7 -1.2 1.5 3 1.6 0 .7 1 1.9 -1.1 -2.5 2.2 2.7 -.3 .9 -1 -.8 3.2 4.2 .5 -.3 -.4 .1 .3 .9 -.3 1.6 3.3 -1.7 -1.3 4.3 -2.1 .6 1.8 0 -.6 -.1 3.1 5.9 0 -2.4 -1.5 1.9 -1.3 .2 1.9 .9 -2.8 -.1 2.8 2.3" stroke="#86d2d2" stroke-width="0.45" fill="none"/>
<path d="M93.6 68.8l.6 -3.6 -.1 2.9 -1.3 -1.4 3.4 -3.4 -2.3 1.2 .9 -3.4 2.1 0 -1.9 -1 -.7 -.8 -.1 -.3 2 -.2 .2 -.3 -.5 -3.6 .4 -2.2 -2.1 1.5 -1.2 .6 .9 -4.8 .4 .1 1 -.2 1.5 -1 -1.1 -2 .5 -.6 -3.1 1.7 1.3 -4 .3 1.3 -.8 -2.3 2.8 2 -1 -3.2 -.5 1.8 1.1 -3.4 .6 -1.9 0 -1.1 2.2 .7 -1.9 1 -1.2 -.4 3.8 -3.6 -.9 .2 .5 -.6 -2.1 .1 1.1 -1.4 1.8 .7 -.2 -4.1 .4 .9 .7 -.5 .8 .4 -1.6 -.9 -2 -.2 2.8 -2.8 .6 1.3 .3 -1.1 .8 .6 -.6 -1.7 -.4 -1.3 1.6 -.5 -2.3 .4 3.6 -1.1 .1 .5 -2.1 -.6 1.5 0 -3.1 -.2 5 -2.7 .8 .5 -.8 .9 1.8 -1.3 -.5 -.1 -1.4 1.1 2.3 -2.3 .7 .1 -1.7 .1" stroke="#6cc4c4" stroke-width="0.45" fill="none"/>
<path d="M62.1 42.9l2.6 -.2 2.6 -1.7 -1.5 -2 .7 1.3 2.8 -2.8 -.1 -.1 4 .3 -.6 .1 .1 5.2 -.4 .7 .1 -.6 2.1 .9 -.1 1.7 -.6 -.4 -2.5 .9 -1.7 -1 -1.1 2.1 2.7 -.3 -1.3 -1.7 -4.3 1.8 .8 0 .5 -1.7 -1.5 .3 -6.3 -2" stroke="#86d2d2" stroke-width="0.45" fill="none"/>
<path d="M96.4 22.2l2.5 -.8 2.2 -1.3 -.6 2.2 -.2 .1 3.8 -2.2 0 -.3 .7 2.8 1.3 -2.4 -2 3.5 -.8 -1.8 3.3 3 3.2 1.3 1.8 .7 -4.4 1.7 -2.3 .6 -.1 -.3 -2.6 -.2 .9 1.2 -1.2 -.1 -.8 -1.2 -.3 .4 .4 -1.1 -3.2 -2.2 .9 -1.7" stroke="#6cc4c4" stroke-width="0.45" fill="none"/>
<path d="M71.6 43.9l1.2 -1.3 2.3 -1.5 0 1.9 .7 1.2 2.7 .3 .3 -.6 .4 -.1 0 -.3 2.8 .4 1.1 -1 -.3 .6 2.2 .8 -.3 -.5 .7 .4 .8 2.7 .4 -1.7 1 1.4 .8 -1.5 1.9 2.2" stroke="#a4dede" stroke-width="0.4" fill="none"/>
<path d="M61.3 43.3l-3.1 -4.2 3.6 4.4 2.1 .4 -1.5 .7 3 -2.7 -.6 2.1 -1.7 -1.1 1.4 .6 1.9 -4.6 -1.3 4.3 1.4 -3.4 -.8 -.3 1.5 -.4 1.7 2.6 1.1 .1 -.3 -.4 -.1 -3.8 .5 1.3 -3.3 2.9 3.7 -4.3 .9 2.5 .4 1.1 -1.2 -.9 .7 -.3 2.6 -1 3 -1.4 -4.7 2 1.3 2.3 .9 .5 .7 -.4 2.2 -.6 .4 .5 2.3 2.9 -2.7 -2.1 2.6 .3 1.8 3 -4.5 -3.9 5 1.7 -1.9 -.8 1.8 2.7 -.8 -1.6 3.9 1.4 -1.4 -1.5 -1.5 -1.6 1.9 3.6 2.9 .8 .7 .2 -.5 -1.2 1.9 1.5 -3.4 1.9 3 3.5 0 -1.9 -.6 1.3 2.3 -1.1 .5 .3 1 1.9 .2 .3 -1.1 1.9 2.3 1.4 -4.1 1.8 3.2 1 1.8 1.3 -2.3 -.5 1.8 2.8 -1.5 -1.1 -.1 2.4 .5 3.5 2.2 -.4 -.1 -1.3" stroke="#86d2d2" stroke-width="0.45" fill="none"/>
<path d="M90.7 68.9l3.8 -5.2 3.4 2.5 -1.6 -2.1 -4.3 -1.6 3.4 -2.6 -1.7 3.4 2.2 -2.3 -4.7 -1.3 5.1 .6 -2.1 -1.5 1.4 -1.9 -1.7 -1.2 0 -.1 1.1 0 .9 -1.9 -3.5 0 1.7 .6 .8 -.3 1.3 -1.7 -.5 -2.4 -.7 -2.3 0 .7 -.8 -.6 1.2 -1.5 -.8 -1.7 -.9 -1.8 2 -1.4 .1 .6 .7 -3.6 -.4 1.7 -.5 -1.7 3.9 1.6 -1 -.3 -2.3 -2.6 -.9 -.1 0 -1.9 3.7 .9 -2 -2.6 3.2 1 -2.2 -1.1 1.1 -2.3 -.6 -2 1.3 2.3 1.3 .6 -1.6 .2 -.1 -1.4 .5 -2.7 -.6 .2 4.8 -.3 -2 -1.2 .3 .6 .3 .4 -.4 -1.8 2.4 -.3 -2.7 .3 2.1 -3.2 -1.5 .1 2.5 .5 .6 2.4 1.3 -3.5 -2.7 1.2 .3 -3.3 1.1 1 .2 -.5 -2.8 -1.2 3.9 .9 .7 -1.6 3.2 1.1 -2.1 -1.3" stroke="#6cc4c4" stroke-width="0.45" fill="none"/>
<path d="M62.7 40.9l-.8 .8 .6 -.2 3 -.5 2 -2.8 .2 -.1 4.1 1.9 -1 -.8 .1 2.8 2.5 -1.9 -1.2 2.6 5.4 .5 -2.8 -.4 -.9 -1.5 .7 2.9 -5.1 -2.8 1.6 4.9 .2 1.6 -3.9 -3.3 .1 1.3 -1 -1.8 -1.4 1.6 -2.2 -2.5 -2.2 2.2 4 -.5" stroke="#86d2d2" stroke-width="0.45" fill="none"/>
<path d="M93.6 21.9l2.4 .1 5.6 -.2 -4.5 .6 5 .7 1.4 -1.9 -1.8 .7 1.4 -3.5 2.9 4.5 1.9 1.6 -.8 -.1 1.4 1.1 .1 -2.1 -1.7 2.8 -.2 .1 -.5 2.7 -3.7 -.3 1.2 -.8 -4.8 1.8 2.8 -.3 .4 -.3 0 -1.8 -.6 -.3 -2.2 -2.8 -2.3 3.3" stroke="#6cc4c4" stroke-width="0.45" fill="none"/>
<path d="M72.1 43l0 .7 1.2 .7 2.4 -1.5 -.1 .1 2 .7 -.6 .2 1.5 1.3 .4 -.6 1.6 -.3 2.9 .2 -1.1 -1.4 3 .8 .3 1.8 -1.1 .8 2 -1.5 .2 .6 2 .8 1.3 .2 -.1 -.7" stroke="#a4dede" stroke-width="0.4" fill="none"/>
<line x1="143.4" y1="21.5" x2="118.7" y2="35.4" stroke="#23637f" stroke-width="2.0" />
<polygon points="112.2,39.1 117.5,31.3 121.7,38.6" fill="#23637f" stroke="none" stroke-width="1" />
</svg></body></html>
